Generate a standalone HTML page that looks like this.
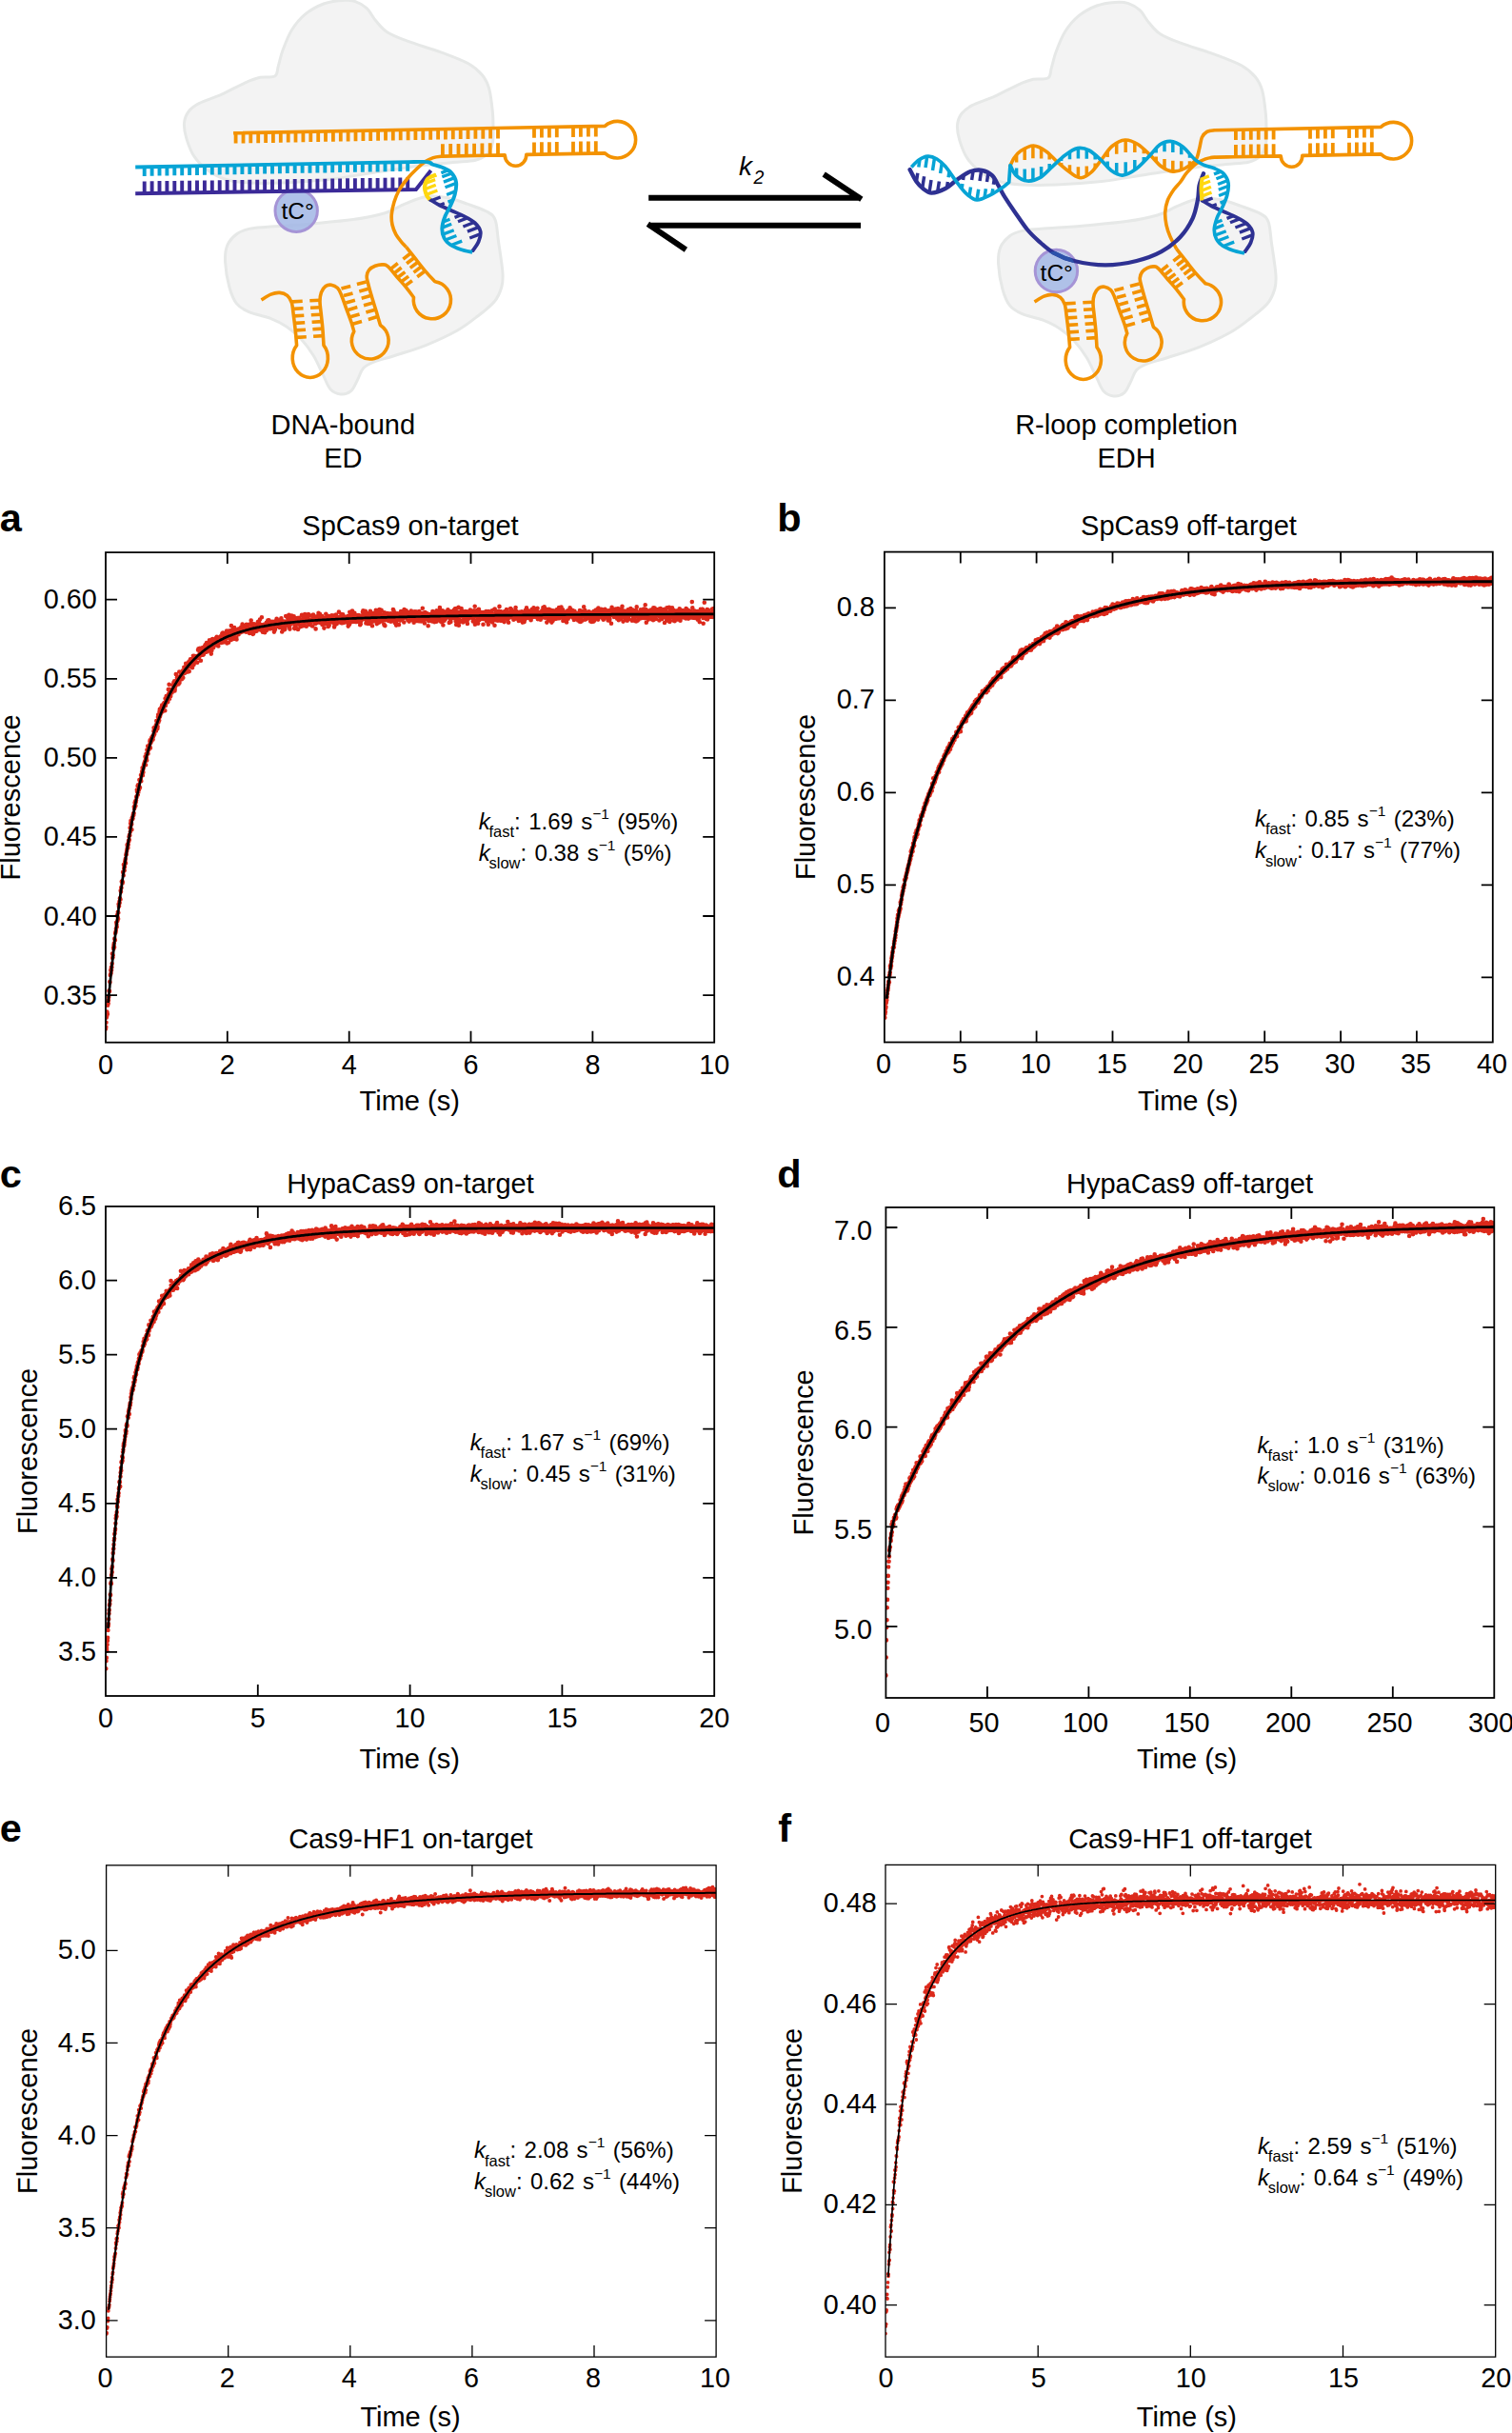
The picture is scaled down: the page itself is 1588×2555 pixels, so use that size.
<!DOCTYPE html>
<html lang="en"><head><meta charset="utf-8"><title>Figure</title>
<style>
html,body{margin:0;padding:0;background:#fff}
svg{display:block}
text{font-family:"Liberation Sans", Arial, Helvetica, sans-serif;fill:#000}
</style></head>
<body>
<svg width="1588" height="2555" viewBox="0 0 1588 2555">
<defs><clipPath id="cpa"><rect x="111.0" y="580.1" width="639.2" height="514.6"/></clipPath><clipPath id="cpb"><rect x="928.9" y="579.6" width="638.9" height="514.9"/></clipPath><clipPath id="cpc"><rect x="111.0" y="1266.9" width="639.2" height="514.1"/></clipPath><clipPath id="cpd"><rect x="930.4" y="1267.9" width="638.9" height="515.1"/></clipPath><clipPath id="cpe"><rect x="111.6" y="1958.8" width="640.5" height="516.3"/></clipPath><clipPath id="cpf"><rect x="930.0" y="1958.4" width="640.7" height="516.7"/></clipPath></defs>
<rect width="1588" height="2555" fill="#fff"/>
<!-- schematic -->
<path d="M359 0.4C353.4 0.8 346.3 1.6 339.9 4C333.6 6.4 326.5 10.1 320.9 14.7C315.4 19.2 310.6 24.9 306.6 31.3C302.6 37.6 299.4 46.4 297 52.8C294.6 59.1 293.7 64.9 292.3 69.4C290.9 74 291.9 78.1 288.7 80.1C285.5 82.1 278.6 80.1 273.2 81.3C267.9 82.5 263.3 84.3 256.6 87.3C249.9 90.3 240.7 95.6 232.8 99.2C224.9 102.8 214.8 105.7 209 108.7C203.2 111.7 200.8 113.6 198.2 117C195.6 120.4 193.9 124.2 193.5 129C193.1 133.8 194.1 139.7 195.9 145.6C197.7 151.5 200.4 159.1 204.2 164.7C208 170.3 213 175 218.5 179C224 183 230.4 186.3 237.5 188.5C244.6 190.7 251.4 191.4 261.3 192C271.2 192.6 283.1 192.6 297 192C310.9 191.4 328.8 190.3 344.7 188.5C360.6 186.7 376.4 183.7 392.3 181.3C408.2 178.9 426 176 439.9 174.2C453.8 172.4 465.7 171.6 475.6 170.6C485.5 169.6 493.5 169.6 499.4 168.2C505.4 166.8 508.3 165.3 511.3 162.3C514.3 159.3 516.2 155.3 517.3 150.4C518.4 145.5 518 138.6 518 133C518 127.4 518 123.6 517.3 117C516.6 110.4 515.5 99.5 513.7 93.2C511.9 86.9 510.2 83.4 506.6 79C503 74.6 499.4 71 492.3 67C485.1 63 474.4 59.1 463.7 55.1C453 51.1 437.5 46.8 428 43.2C418.5 39.6 412.1 37.3 406.6 33.7C401 30.1 398.3 26 394.7 21.8C391.1 17.6 388.7 12.1 385.1 8.7C381.5 5.3 377.6 3 373.2 1.6C368.9 0.2 364.6 -0 359 0.4Z" fill="#f3f3f3" stroke="#e6e8e7" stroke-width="3" />
<path d="M236.6 275.3C236.2 268 236.7 262.7 238.7 257.8C240.7 252.9 244.8 248.7 248.6 245.8C252.4 242.9 256.1 241.7 261.6 240.4C267 239.1 270.4 239.1 281.3 238.2C292.2 237.3 312.2 236.2 327.1 234.9C342 233.6 358.1 232.4 370.8 230.6C383.5 228.8 394.4 226.7 403.5 224C412.6 221.3 418 217.1 425.3 214.2C432.6 211.3 439.9 207.7 447.2 206.6C454.5 205.5 461.7 206.3 469 207.6C476.3 208.9 483.5 211.6 490.8 214.2C498.1 216.8 507.7 220 512.6 222.9C517.5 225.8 518.5 226.5 520.3 231.6C522.1 236.7 522.2 244.4 523.5 253.5C524.8 262.6 527.4 278.2 527.9 286.2C528.5 294.2 528.2 296.4 526.8 301.5C525.3 306.6 523.4 311.7 519.2 316.8C515 321.9 508.3 326.9 501.7 332C495.2 337.1 489 342.2 479.9 347.3C470.8 352.4 458.1 358.2 447.2 362.6C436.3 367 423.5 370.6 414.4 373.5C405.3 376.4 398 377.9 392.6 380.1C387.1 382.3 384.6 383.3 381.7 386.6C378.8 389.9 377.3 395.7 375.1 399.7C372.9 403.7 371.5 408.2 368.6 410.6C365.7 413 361.3 414.3 357.7 413.9C354.1 413.5 349.9 411.8 346.8 408.4C343.7 404.9 342 399 339.1 393.2C336.2 387.4 333.1 379.7 329.3 373.5C325.5 367.3 320.9 361.2 316.2 356.1C311.5 351 306.4 346.6 300.9 343C295.5 339.4 290.1 336.8 283.5 334.2C276.9 331.6 267.4 330.2 261.6 327.7C255.8 325.1 252 323.3 248.6 318.9C245.1 314.5 242.9 308.8 240.9 301.5C238.9 294.2 237 282.6 236.6 275.3Z" fill="#f3f3f3" stroke="#e6e8e7" stroke-width="3" />
<path d="M1171 2.4C1165.5 2.8 1158.2 3.6 1151.9 6C1145.6 8.4 1138.5 12.1 1132.9 16.7C1127.4 21.2 1122.6 26.9 1118.6 33.3C1114.6 39.6 1111.4 48.4 1109 54.8C1106.6 61.1 1105.7 66.9 1104.3 71.4C1102.9 76 1103.9 80.1 1100.7 82.1C1097.5 84.1 1090.6 82.1 1085.2 83.3C1079.8 84.5 1075.3 86.3 1068.6 89.3C1061.9 92.3 1052.7 97.6 1044.8 101.2C1036.9 104.8 1026.8 107.7 1021 110.7C1015.2 113.7 1012.8 115.6 1010.2 119C1007.6 122.4 1005.9 126.2 1005.5 131C1005.1 135.8 1006.1 141.7 1007.9 147.6C1009.7 153.5 1012.4 161.1 1016.2 166.7C1020 172.3 1025 177 1030.5 181C1036 185 1042.4 188.3 1049.5 190.5C1056.6 192.7 1063.4 193.4 1073.3 194C1083.2 194.6 1095.1 194.6 1109 194C1122.9 193.4 1140.8 192.3 1156.7 190.5C1172.6 188.7 1188.4 185.7 1204.3 183.3C1220.2 180.9 1238 178 1251.9 176.2C1265.8 174.4 1277.7 173.6 1287.6 172.6C1297.5 171.6 1305.5 171.6 1311.4 170.2C1317.4 168.8 1320.3 167.3 1323.3 164.3C1326.3 161.3 1328.2 157.3 1329.3 152.4C1330.4 147.5 1330 140.6 1330 135C1330 129.4 1330 125.6 1329.3 119C1328.6 112.4 1327.5 101.5 1325.7 95.2C1323.9 88.9 1322.2 85.4 1318.6 81C1315 76.6 1311.4 73 1304.3 69C1297.2 65 1286.4 61.1 1275.7 57.1C1265 53.1 1249.5 48.8 1240 45.2C1230.5 41.6 1224.1 39.3 1218.6 35.7C1213 32.1 1210.3 28 1206.7 23.8C1203.1 19.6 1200.7 14.1 1197.1 10.7C1193.5 7.3 1189.5 5 1185.2 3.6C1180.9 2.2 1176.5 2 1171 2.4Z" fill="#f3f3f3" stroke="#e6e8e7" stroke-width="3" />
<path d="M1048.6 277.3C1048.2 270 1048.7 264.7 1050.7 259.8C1052.7 254.9 1056.8 250.7 1060.6 247.8C1064.4 244.9 1068.1 243.7 1073.6 242.4C1079 241.1 1082.4 241.1 1093.3 240.2C1104.2 239.3 1124.2 238.2 1139.1 236.9C1154 235.6 1170.1 234.4 1182.8 232.6C1195.5 230.8 1206.4 228.7 1215.5 226C1224.6 223.3 1230 219.1 1237.3 216.2C1244.6 213.3 1251.9 209.7 1259.2 208.6C1266.5 207.5 1273.7 208.3 1281 209.6C1288.3 210.9 1295.5 213.6 1302.8 216.2C1310.1 218.8 1319.7 222 1324.6 224.9C1329.5 227.8 1330.5 228.5 1332.3 233.6C1334.1 238.7 1334.2 246.4 1335.5 255.5C1336.8 264.6 1339.4 280.2 1339.9 288.2C1340.5 296.2 1340.2 298.4 1338.8 303.5C1337.3 308.6 1335.4 313.7 1331.2 318.8C1327 323.9 1320.2 328.9 1313.7 334C1307.2 339.1 1301 344.2 1291.9 349.3C1282.8 354.4 1270.1 360.2 1259.2 364.6C1248.3 369 1235.5 372.6 1226.4 375.5C1217.3 378.4 1210 379.9 1204.6 382.1C1199.1 384.3 1196.6 385.3 1193.7 388.6C1190.8 391.9 1189.3 397.7 1187.1 401.7C1184.9 405.7 1183.5 410.2 1180.6 412.6C1177.7 415 1173.3 416.3 1169.7 415.9C1166.1 415.5 1161.9 413.8 1158.8 410.4C1155.7 406.9 1154 401 1151.1 395.2C1148.2 389.4 1145.1 381.7 1141.3 375.5C1137.5 369.3 1132.9 363.2 1128.2 358.1C1123.5 353 1118.4 348.6 1112.9 345C1107.5 341.4 1102 338.8 1095.5 336.2C1089 333.6 1079.4 332.2 1073.6 329.7C1067.8 327.1 1064 325.3 1060.6 320.9C1057.1 316.5 1054.9 310.8 1052.9 303.5C1050.9 296.2 1049 284.6 1048.6 277.3Z" fill="#f3f3f3" stroke="#e6e8e7" stroke-width="3" />
<circle cx="311.2" cy="221.2" r="22.2" fill="#a2b7e5" fill-opacity="0.86" stroke="#a594d6" stroke-width="3"/><text x="295.4" y="229.7" font-size="24.5">tC°</text>
<path d="M151.7 203.1L151.7 190.4M159.6 203L159.6 190.3M167.5 202.8L167.5 190.1M175.4 202.7L175.4 190M183.3 202.6L183.3 189.9M191.2 202.5L191.2 189.8M199.1 202.4L199.1 189.7M207 202.3L207 189.6M214.9 202.2L214.9 189.5M222.8 202.1L222.8 189.4M230.7 201.9L230.7 189.2M238.6 201.8L238.6 189.1M246.5 201.7L246.5 189M254.4 201.6L254.4 188.9M262.3 201.5L262.3 188.8M270.2 201.4L270.2 188.7M278.1 201.3L278.1 188.6M286 201.2L286 188.5M293.9 201L293.9 188.3M301.8 200.9L301.8 188.2M309.7 200.8L309.7 188.1M317.6 200.7L317.6 188M325.5 200.6L325.5 187.9M333.4 200.5L333.4 187.8M341.3 200.4L341.3 187.7M349.2 200.2L349.2 187.5M357.1 200.1L357.1 187.4M365 200L365 187.3M372.9 199.9L372.9 187.2M380.8 199.8L380.8 187.1M388.7 199.7L388.7 187M396.6 199.6L396.6 186.9M404.5 199.5L404.5 186.8M412.4 199.3L412.4 186.6M420.3 199.2L420.3 186.5M428.2 199.1L428.2 186.4" fill="none" stroke="#3b2a98" stroke-width="3.9" />
<path d="M142.2 203.2L436.9 199L452.6 178.9" fill="none" stroke="#3b2a98" stroke-width="4.0" stroke-linejoin="miter"/>
<path d="M247.6 139.7L247.6 150.6M255.5 139.6L255.5 150.5M263.3 139.4L263.3 150.3M271.2 139.3L271.2 150.2M279.1 139.1L279.1 150M286.9 139L286.9 149.9M294.8 138.8L294.8 149.7M302.7 138.7L302.7 149.6M310.5 138.5L310.5 149.4M318.4 138.4L318.4 149.3M326.3 138.2L326.3 149.1M334.2 138.1L334.2 149M342 137.9L342 148.8M349.9 137.8L349.9 148.7M357.8 137.6L357.8 148.5M365.6 137.5L365.6 148.4M373.5 137.3L373.5 148.2M381.4 137.2L381.4 148.1M389.2 137L389.2 147.9M397.1 136.9L397.1 147.8M405 136.7L405 147.6M412.8 136.6L412.8 147.5M420.7 136.4L420.7 147.3M428.6 136.3L428.6 147.2M436.4 136.1L436.4 147M444.3 136L444.3 146.9M452.2 135.8L452.2 146.7M460.1 135.7L460.1 146.6M467.9 135.5L467.9 146.4M475.8 135.4L475.8 146.3M483.7 135.2L483.7 146.1M491.5 135.1L491.5 146M499.4 134.9L499.4 145.8M507.3 134.8L507.3 145.7M515.1 134.6L515.1 145.5M523 134.5L523 145.4M523 163L523 150.2M514.7 163.1L514.7 150.3M506.4 163.3L506.4 150.5M498.1 163.5L498.1 150.7M489.8 163.6L489.8 150.8M481.5 163.8L481.5 151M473.2 163.9L473.2 151.1M464.9 164.1L464.9 151.3M561 133.8L561 144.7M561 162.3L561 149.5M568.9 133.6L568.9 144.5M568.9 162.1L568.9 149.3M576.9 133.5L576.9 144.4M576.9 162L576.9 149.2M584.8 133.3L584.8 144.2M584.8 161.8L584.8 149M602 133L602 143.9M602 161.5L602 148.7M609.9 132.8L609.9 143.7M609.9 161.3L609.9 148.5M617.9 132.7L617.9 143.6M617.9 161.2L617.9 148.4M625.8 132.5L625.8 143.4M625.8 161L625.8 148.2" fill="none" stroke="#f39200" stroke-width="3.8" />
<path d="M245.1 139.8L635.3 132.4A19.3 19.3 0 1 1 635.3 160.9L552.8 162.4A11.3 11.6 0 0 1 530.2 162.9L464.5 164.1C462.9 164.3 458 164.6 455 165.6C452 166.6 449.4 167.8 446.5 169.8C443.6 171.8 440.7 174.5 437.5 177.5C434.3 180.5 430.6 184.2 427.5 188C424.4 191.8 421.2 196 419 200C416.8 204 415.3 207.8 414 212C412.7 216.2 411.6 221.1 411.3 225.1C411 229.1 411.2 232.5 412 236C412.8 239.5 414.2 243.1 415.8 246.2C417.4 249.2 420 252.1 421.8 254.3C423.6 256.5 425.8 258.5 426.6 259.4" fill="none" stroke="#f39200" stroke-width="3.6" stroke-linejoin="round"/>
<path d="M274.5 315C276.2 314 281.3 310.4 284.5 309.1C287.7 307.8 290.8 307.2 293.7 307.4C296.6 307.6 299.6 308.7 301.7 310.4C303.8 312.1 305.2 314.3 306.3 317.7C307.4 321.1 307.6 326 308.3 330.9C308.9 335.8 309.7 341.5 310.2 346.8C310.8 352.1 311.4 360.1 311.6 362.7A18.6 20.5 0 1 0 340 362.7C339.8 360.1 339.4 352.1 339 346.8C338.6 341.5 337.9 336 337.4 330.9C336.9 325.8 336 320.4 336 316.4C336 312.4 336.4 309.8 337.4 307.1C338.4 304.5 340.2 301.8 342 300.5C343.8 299.2 345.9 298.9 348 299.2C350.1 299.5 352.8 300.8 354.6 302.5C356.3 304.2 357 306.1 358.5 309.7C360 313.3 362 319.4 363.8 324.3C365.6 329.2 367.8 334.8 369.1 338.8C370.4 342.8 371.3 346.6 371.8 348.1A19.4 19.4 0 1 0 399.5 341.5C398.8 339.3 397.1 333.4 395.6 328.3C394.1 323.2 391.8 316.4 390.3 311.1C388.7 305.8 387.1 300 386.3 296.5C385.4 293 385 292.1 385.2 290C385.4 287.9 386 285.4 387.5 283.6C389 281.8 391.6 280.2 394 279.3C396.4 278.4 399.6 277.8 401.8 277.9C404 277.9 404.6 277.4 407.2 279.6C409.8 281.8 414.1 287.5 417.3 291.2C420.5 294.9 423.7 298.3 426.6 301.8C429.5 305.3 433.2 310.6 434.5 312.3A19.6 19.6 0 1 0 457 295.8C455.4 294.1 451 289.8 447.7 285.9C444.4 282 440.6 277.1 437.1 272.7C433.6 268.3 428.3 261.6 426.6 259.4" fill="none" stroke="#f39200" stroke-width="3.6" stroke-linejoin="round" stroke-linecap="butt"/>
<path d="M307 316.9L317.7 316.3M336 315.2L325.3 315.8M307.9 324.4L318.5 323.8M336.7 322.7L326 323.3M308.7 331.9L319.3 331.3M337.4 330.2L326.8 330.8M309.6 339.4L320.2 338.7M338.2 337.6L327.6 338.3M310.4 346.9L321 346.2M338.9 345.1L328.4 345.8M311.3 354.4L321.8 353.7M339.6 352.6L329.1 353.3M358.5 303.1L368.2 300.5M384.6 296L374.9 298.6M360.9 310.5L370.5 307.9M387 303.3L377.3 306M363.3 317.9L372.9 315.2M389.3 310.6L379.7 313.3M365.6 325.4L375.3 322.6M391.7 318L382 320.7M368 332.8L377.6 330M394 325.3L384.4 328.1M370.4 340.2L380 337.4M396.4 332.6L386.8 335.4M410 282.6L417.8 276.5M431.2 266L423.4 272.1M413.8 287.1L421.6 281M434.9 270.8L427.1 276.8M417.6 291.5L425.4 285.6M438.6 275.5L430.8 281.4M421.4 295.9L429.1 290.1M442.2 280.2L434.5 286.1M425.2 300.4L432.9 294.7M445.9 285L438.2 290.7" fill="none" stroke="#f39200" stroke-width="3.6" />
<path d="M151.7 175.3L151.7 184.9M159.6 175.2L159.6 184.8M167.5 175L167.5 184.6M175.4 174.9L175.4 184.5M183.3 174.7L183.3 184.3M191.2 174.6L191.2 184.2M199.1 174.4L199.1 184M207 174.3L207 183.9M214.9 174.1L214.9 183.7M222.8 174L222.8 183.6M230.7 173.9L230.7 183.5M238.6 173.7L238.6 183.3M246.5 173.6L246.5 183.2M254.4 173.4L254.4 183M262.3 173.3L262.3 182.9M270.2 173.1L270.2 182.7M278.1 173L278.1 182.6M286 172.8L286 182.4M293.9 172.7L293.9 182.3M301.8 172.5L301.8 182.1M309.7 172.4L309.7 182M317.6 172.2L317.6 181.8M325.5 172.1L325.5 181.7M333.4 171.9L333.4 181.5M341.3 171.8L341.3 181.4M349.2 171.7L349.2 181.3M357.1 171.5L357.1 181.1M365 171.4L365 181M372.9 171.2L372.9 180.8M380.8 171.1L380.8 180.7M388.7 170.9L388.7 180.5M396.6 170.8L396.6 180.4M404.5 170.6L404.5 180.2M412.4 170.5L412.4 180.1M420.3 170.3L420.3 179.9M428.2 170.2L428.2 179.8" fill="none" stroke="#07a4d5" stroke-width="3.9" />
<path d="M451.5 209.5C453.2 210.5 457.7 213.5 461.6 215.5C465.5 217.5 470.4 219.4 474.8 221.4C479.2 223.4 484 225.3 488 227.4C492 229.5 495.8 231.4 498.6 234C501.4 236.6 503.9 239.9 504.6 243.2C505.3 246.5 503.9 250.5 502.6 253.8C501.3 257.1 497.6 261.6 496.6 263.1" fill="none" stroke="#2e3192" stroke-width="3.8" stroke-linecap="round"/>
<path d="M458 183.5C456.6 184.2 451.5 185.3 449.5 187.5C447.5 189.7 446.2 193.6 446 196.5C445.8 199.4 447.1 202.8 448 205C448.9 207.2 450.9 208.8 451.5 209.5" fill="none" stroke="#ffd70f" stroke-width="4.2" />
<path d="M450.7 186.5L458.2 183.6M446.8 192.5L457.1 188.6M446.1 198.8L457.7 194.3M447.8 204.4L459.4 200" fill="none" stroke="#ffd70f" stroke-width="3.3" />
<path d="M453.2 210.6L462.6 207M461.6 215.5L466.8 213.5M484.5 225.7L477.5 228.4M490.8 228.9L481 232.7M498 233.5L486.4 238M502.6 238.6L490.9 243.1M504.8 245.6L493.3 250" fill="none" stroke="#2e3192" stroke-width="3.3" />
<path d="M470.8 178.8L463.4 181.6M474.5 181.9L464.3 185.8M477.6 186.6L465.9 191.1M479.2 192.4L467.5 196.8M478.4 200.9L469.1 204.5M475.7 210.1L470.5 212.1M465.5 233L472.5 230.3M464.4 239.1L474.2 235.3M465 246.1L476.7 241.7M467.7 252L479.4 247.5M473.8 257.5L485.2 253.1" fill="none" stroke="#07a4d5" stroke-width="3.3" />
<path d="M142.2 175.5L430 170.1C432.7 170.1 442.2 169.7 446 169.9C449.8 170 451.2 170.8 452.5 171.2C453.8 171.6 451.9 171.7 453.9 172.5C455.9 173.3 461.2 174.4 464.5 175.8C467.8 177.2 471.4 178.6 473.8 181.1C476.2 183.6 478.3 187.2 479 191C479.7 194.8 478.8 199.8 477.7 204.2C476.6 208.6 474.2 213.5 472.4 217.5C470.6 221.5 468.4 224.2 467.1 228C465.7 231.8 464.4 236.3 464.3 240C464.2 243.7 465.1 247.2 466.5 250C467.9 252.8 470.1 255 473 257C475.9 259 480.2 260.7 484 262C487.8 263.3 494 264.5 496 265" fill="none" stroke="#07a4d5" stroke-width="3.9" />
<path d="M1297.9 136.2L1297.9 147.1M1297.9 164.7L1297.9 151.9M1305.8 136.1L1305.8 147M1305.8 164.6L1305.8 151.8M1313.8 135.9L1313.8 146.8M1313.8 164.4L1313.8 151.6M1321.7 135.8L1321.7 146.7M1321.7 164.3L1321.7 151.5M1329.7 135.6L1329.7 146.5M1329.7 164.1L1329.7 151.3M1337.6 135.5L1337.6 146.4M1337.6 164L1337.6 151.2M1376 134.8L1376 145.7M1376 163.3L1376 150.5M1383.9 134.6L1383.9 145.5M1383.9 163.1L1383.9 150.3M1391.9 134.5L1391.9 145.4M1391.9 163L1391.9 150.2M1399.8 134.3L1399.8 145.2M1399.8 162.8L1399.8 150M1417 134L1417 144.9M1417 162.5L1417 149.7M1424.9 133.8L1424.9 144.7M1424.9 162.3L1424.9 149.5M1432.9 133.7L1432.9 144.6M1432.9 162.2L1432.9 149.4M1440.8 133.5L1440.8 144.4M1440.8 162L1440.8 149.2" fill="none" stroke="#f39200" stroke-width="3.8" />
<path d="M962.6 189.7L963.8 181.7M968.8 197L970.6 185.2M976 202.3L978 189.1M984.7 201.3L986.4 190.4M994.5 196.9L995.4 190.9M1012.2 184L1011.5 189.1M1022.1 179.3L1020.6 189M1030.7 178.7L1029 189.9M1037.9 181.4L1036.5 190.9M1044.3 188L1043.4 193.7" fill="none" stroke="#2e3192" stroke-width="3.5" />
<path d="M1067.6 162.5L1067.6 170.4M1076.2 156.1L1076.2 168.1M1084.9 153L1084.9 166.2M1093.6 155.6L1093.6 166.5M1102.2 161.8L1102.2 167.6M1114.6 173.6L1114.6 171M1123.5 180.9L1123.5 173.2M1132.4 186.3L1132.4 175.2M1141.3 184.5L1141.3 174.5M1150.2 176.4L1150.2 171.4M1163.2 158.9L1163.2 164.9M1172.7 150.1L1172.7 161.8M1182.2 147L1182.2 160.1M1191.8 149.7L1191.8 160M1201.3 156.5L1201.3 161.3M1214.2 169.5L1214.2 164.5M1223 177L1223 167M1231.8 180.1L1231.8 168.8M1240.7 178.5L1240.7 169.3M1249.5 173.8L1249.5 169.3" fill="none" stroke="#f39200" stroke-width="3.5" />
<path d="M1060.4 175.5C1061.2 173.9 1063.1 168.8 1065 166C1066.9 163.2 1068.6 160.8 1072 158.6C1075.4 156.4 1081 152.9 1085.5 153C1090 153.1 1094.5 156 1098.7 158.9C1102.9 161.8 1106.2 166.3 1110.6 170.2C1115 174.1 1121.1 179.3 1125.2 182.1C1129.3 184.8 1131.8 186.9 1135.3 186.7C1138.8 186.5 1142.5 184.1 1146 181C1149.5 177.9 1152.8 172.8 1156.5 168.2C1160.2 163.6 1163.8 157 1168 153.5C1172.2 150 1177.1 147.3 1181.6 147C1186.1 146.7 1190.6 148.8 1195 151.5C1199.4 154.2 1203.8 159 1208 162.9C1212.2 166.8 1216 172.1 1220 175C1224 177.9 1227.9 179.8 1231.9 180.1C1235.9 180.4 1240 179 1244 177C1248 175 1253.1 171.6 1255.7 168.2C1258.3 164.8 1258.5 160.3 1259.6 156.3C1260.7 152.3 1261 147.4 1262.3 144.4C1263.6 141.4 1265.4 139.7 1267.6 138.4C1269.8 137.1 1274.2 137 1275.5 136.7L1275.5 136.7L1450.3 133.4A19.3 19.3 0 1 1 1450.3 161.9L1367.8 163.4A11.3 11.6 0 0 1 1345.2 163.9L1295 164.8C1291.8 164.9 1280.3 164.8 1275.5 165.1C1270.7 165.4 1269.5 165.7 1266.2 166.9C1262.9 168.1 1259 169.8 1255.7 172.2C1252.4 174.6 1249.1 178.3 1246.4 181.4C1243.8 184.5 1242 188.1 1239.8 191C1237.5 193.9 1235.2 195.8 1232.9 199C1230.7 202.2 1227.8 206.5 1226.3 210.5C1224.8 214.5 1223.9 218.8 1223.7 223.1C1223.5 227.4 1224.1 232.1 1225 236.3C1225.9 240.5 1227.1 244 1228.9 248.2C1230.7 252.4 1234.5 259.2 1235.6 261.4" fill="none" stroke="#f39200" stroke-width="3.6" stroke-linejoin="round"/>
<path d="M1086.5 317C1088.2 316 1093.3 312.4 1096.5 311.1C1099.7 309.8 1102.8 309.2 1105.7 309.4C1108.6 309.6 1111.6 310.7 1113.7 312.4C1115.8 314.1 1117.2 316.3 1118.3 319.7C1119.4 323.1 1119.6 328 1120.3 332.9C1121 337.8 1121.7 343.5 1122.2 348.8C1122.8 354.1 1123.4 362.1 1123.6 364.7A18.6 20.5 0 1 0 1152 364.7C1151.8 362.1 1151.4 354.1 1151 348.8C1150.6 343.5 1149.9 338 1149.4 332.9C1148.9 327.8 1148 322.4 1148 318.4C1148 314.4 1148.4 311.8 1149.4 309.1C1150.4 306.5 1152.2 303.8 1154 302.5C1155.8 301.2 1157.9 300.9 1160 301.2C1162.1 301.5 1164.8 302.8 1166.6 304.5C1168.3 306.2 1169 308.1 1170.5 311.7C1172 315.3 1174 321.4 1175.8 326.3C1177.6 331.2 1179.8 336.8 1181.1 340.8C1182.4 344.8 1183.3 348.6 1183.8 350.1A19.4 19.4 0 1 0 1211.5 343.5C1210.8 341.3 1209.1 335.4 1207.6 330.3C1206.1 325.2 1203.8 318.4 1202.3 313.1C1200.8 307.8 1199.1 302 1198.3 298.5C1197.5 295 1197 294.1 1197.2 292C1197.4 289.9 1198.2 287.4 1199.5 285.6C1200.8 283.8 1203.1 282.2 1205.1 281.3C1207.1 280.4 1209.8 279.8 1211.7 279.9C1213.6 279.9 1213.8 279.4 1216.2 281.6C1218.6 283.8 1223.1 289.5 1226.3 293.2C1229.5 296.9 1232.7 300.3 1235.6 303.8C1238.5 307.3 1242.2 312.6 1243.5 314.3A19.6 19.6 0 1 0 1266 297.8C1264.5 296.1 1260 291.8 1256.7 287.9C1253.4 284 1249.6 279.1 1246.1 274.7C1242.6 270.3 1237.3 263.6 1235.6 261.4" fill="none" stroke="#f39200" stroke-width="3.6" stroke-linejoin="round"/>
<path d="M1119 318.9L1129.7 318.3M1148 317.2L1137.3 317.8M1119.9 326.4L1130.5 325.8M1148.7 324.7L1138 325.3M1120.7 333.9L1131.3 333.3M1149.4 332.2L1138.8 332.8M1121.6 341.4L1132.2 340.7M1150.2 339.6L1139.6 340.3M1122.4 348.9L1133 348.2M1150.9 347.1L1140.4 347.8M1123.3 356.4L1133.8 355.7M1151.6 354.6L1141.1 355.3M1170.5 305.1L1180.2 302.5M1196.6 298L1186.9 300.6M1172.9 312.5L1182.5 309.9M1199 305.3L1189.3 308M1175.3 319.9L1184.9 317.2M1201.3 312.6L1191.7 315.3M1177.6 327.4L1187.3 324.6M1203.7 320L1194 322.7M1180 334.8L1189.6 332M1206 327.3L1196.4 330.1M1182.4 342.2L1192 339.4M1208.4 334.6L1198.8 337.4M1219 284.6L1226.8 278.5M1240.2 268L1232.4 274.1M1222.8 289.1L1230.6 283M1243.9 272.8L1236.1 278.8M1226.6 293.5L1234.4 287.6M1247.6 277.5L1239.8 283.4M1230.4 297.9L1238.1 292.1M1251.2 282.2L1243.5 288.1M1234.2 302.4L1241.9 296.7M1254.9 287L1247.2 292.7" fill="none" stroke="#f39200" stroke-width="3.6" />
<circle cx="1109.4" cy="284.5" r="22.2" fill="#afc1e8" fill-opacity="1.0" stroke="#a594d6" stroke-width="3"/><text x="1092.6000000000001" y="294.7" font-size="24.5">tC°</text>
<path d="M955.6 178.1C956.8 180.2 960.1 187.3 962.5 190.7C964.9 194.1 967.4 196.5 970 198.5C972.6 200.5 974.6 202.7 978.4 202.6C982.2 202.5 988.3 200.4 992.9 198C997.5 195.6 1001.7 191 1006.1 188C1010.5 185 1015.2 181.6 1019.4 180.1C1023.6 178.6 1027.5 178.1 1031.3 178.8C1035 179.5 1039 181.4 1041.9 184.1C1044.8 186.8 1046.3 190.9 1048.5 194.7C1050.7 198.4 1052.2 202 1055.1 206.6C1058 211.2 1061.7 216.7 1065.7 222.4C1069.7 228.1 1074.7 235.8 1078.9 241C1083.1 246.2 1086.5 249.2 1091.1 253.3C1095.7 257.4 1100.2 261.9 1106.4 265.3C1112.6 268.8 1119.1 271.8 1128.2 274C1137.3 276.2 1150.1 278.4 1161 278.4C1171.9 278.4 1183.9 276.4 1193.7 274C1203.5 271.6 1212.3 268.4 1219.9 264.2C1227.5 260 1234 254.7 1239.5 248.9C1245 243.1 1249.5 235.9 1252.6 229.3C1255.7 222.8 1256.8 215.3 1258 209.6C1259.2 203.9 1258.5 199.6 1259.5 195C1260.5 190.4 1263.2 184.4 1264 182.3" fill="none" stroke="#2e3192" stroke-width="4.3" stroke-linecap="round"/>
<clipPath id="tcc"><circle cx="1109.4" cy="284.5" r="20.7"/></clipPath>
<path d="M1065.7 222.4C1067.9 225.5 1074.7 235.8 1078.9 241C1083.1 246.2 1086.5 249.2 1091.1 253.3C1095.7 257.4 1100.2 261.9 1106.4 265.3C1112.6 268.8 1119.1 271.8 1128.2 274C1137.3 276.2 1150.1 278.4 1161 278.4C1171.9 278.4 1188.2 274.7 1193.7 274" fill="none" stroke="#2c52aa" stroke-width="4.3" clip-path="url(#tcc)"/>
<path d="M1067.6 184.6L1067.6 176.6M1076.2 189.4L1076.2 177.4M1084.9 189.6L1084.9 176.4M1093.6 185.8L1093.6 174.9M1102.2 177.8L1102.2 172.1M1114.6 166.2L1114.6 168.9M1123.5 159.5L1123.5 167.2M1132.4 155.5L1132.4 166.6M1141.3 156.8L1141.3 166.8M1150.2 162.5L1150.2 167.5M1163.2 175.5L1163.2 169.5M1172.7 182.6L1172.7 170.9M1182.2 183.5L1182.2 170.3M1191.8 178.4L1191.8 168M1201.3 169.9L1201.3 165.1M1214.2 155.6L1214.2 160.6M1223 149.3L1223 159.3M1231.8 148.9L1231.8 160.1M1240.7 153.1L1240.7 162.2M1249.5 161.3L1249.5 165.8M966 167.4L964.8 175.4M973.7 164.3L972 176.1M981.5 165.7L979.5 178.9M989.3 171L987.6 181.9M997 180.3L996.1 186.2M1010.1 198.2L1010.9 193.1M1018 206.1L1019.5 196.4M1026 209.9L1027.7 198.7M1034 207.8L1035.4 198.3M1041.9 203.9L1042.8 198.2" fill="none" stroke="#07a4d5" stroke-width="3.5" />
<path d="M1262.5 210.5C1264.2 211.5 1268.7 214.5 1272.6 216.5C1276.5 218.5 1281.4 220.4 1285.8 222.4C1290.2 224.4 1295 226.3 1299 228.4C1303 230.5 1306.8 232.4 1309.6 235C1312.4 237.6 1314.9 240.9 1315.6 244.2C1316.3 247.5 1314.9 251.5 1313.6 254.8C1312.3 258.1 1308.6 262.6 1307.6 264.1" fill="none" stroke="#2e3192" stroke-width="3.8" stroke-linecap="round"/>
<path d="M1262.6 186.5C1262.4 188.4 1261.6 194 1261.6 198C1261.6 202 1262.3 208.4 1262.5 210.5" fill="none" stroke="#ffd70f" stroke-width="4.2" />
<path d="M1262.5 187.7L1269.8 184.9M1261.8 193.7L1271 190.2M1261.7 200.2L1271.9 196.2M1262.1 206.1L1272.5 202.1" fill="none" stroke="#ffd70f" stroke-width="3.3" />
<path d="M1264.2 211.6L1273.6 208M1272.6 216.5L1277.8 214.5M1295.5 226.7L1288.5 229.4M1301.8 229.9L1292 233.7M1309 234.5L1297.4 239M1313.6 239.6L1301.9 244.1M1315.8 246.6L1304.3 251" fill="none" stroke="#2e3192" stroke-width="3.3" />
<path d="M1282.3 180.1L1275 182.9M1286.5 184.2L1277.4 187.7M1289.4 189.5L1279.1 193.5M1290.2 195.3L1279.8 199.3M1289.4 201.9L1280.1 205.5M1286.7 211.1L1281.5 213.1M1276.5 234L1283.5 231.3M1275.4 240.1L1285.2 236.3M1276 247.1L1287.7 242.7M1278.7 253L1290.4 248.5M1284.8 258.5L1296.2 254.1" fill="none" stroke="#07a4d5" stroke-width="3.3" />
<path d="M957.2 175.5C958.5 174.2 962.1 169.9 965 168C967.9 166.1 971.2 164.4 974.4 164.2C977.6 164 980.9 165.2 984 167C987.1 168.8 989.6 171.1 992.9 174.8C996.1 178.5 1000 184.8 1003.5 189.4C1007 194 1010.4 199.2 1014.1 202.6C1017.9 206 1021.6 209.6 1026 209.9C1030.4 210.2 1036.1 206.7 1040.5 204.6C1044.9 202.5 1049.2 199.5 1052.4 197.3C1055.6 195.1 1058.5 192.3 1059.7 191.3L1061 173.5C1062 175.3 1064 181.3 1067 184.1C1070 186.8 1074.7 189.6 1078.9 190C1083.1 190.4 1087.7 189.2 1092.1 186.7C1096.5 184.2 1101 178.8 1105.4 174.8C1109.8 170.8 1114.2 166.1 1118.6 162.9C1123 159.7 1127.6 156.4 1131.8 155.6C1136 154.8 1139.9 155.9 1144 158C1148.1 160.1 1152.7 164.7 1156.5 168.2C1160.3 171.7 1163.3 176.3 1167 179C1170.7 181.7 1174.6 184.3 1178.9 184.1C1183.2 183.8 1188.2 181 1193 177.5C1197.8 174 1203.8 167.2 1208 162.9C1212.2 158.7 1214.5 154.4 1218 152C1221.5 149.6 1225.2 148.1 1229.2 148.4C1233.2 148.7 1237.6 150.7 1242 154C1246.4 157.3 1251.9 164.9 1255.7 168.2C1259.5 171.4 1261.6 172.1 1264.9 173.5C1268.2 174.9 1272.2 175.4 1275.5 176.8C1278.8 178.2 1282.4 179.6 1284.8 182.1C1287.2 184.6 1289.3 188.2 1290 192C1290.7 195.8 1289.8 200.8 1288.7 205.2C1287.6 209.6 1285.2 214.5 1283.4 218.5C1281.6 222.5 1279.4 225.2 1278.1 229C1276.8 232.8 1275.4 237.3 1275.3 241C1275.2 244.7 1276 248.2 1277.5 251C1279 253.8 1281.1 256 1284 258C1286.9 260 1291.2 261.7 1295 263C1298.8 264.3 1305 265.5 1307 266" fill="none" stroke="#07a4d5" stroke-width="3.7" stroke-linejoin="round"/>
<path d="M681.2 207.8H904M904.8 209.2L865.2 183M681.2 236.7H904M680.4 235.3L720.4 262.2" stroke="#000" stroke-width="6" fill="none"/>
<text x="776" y="184" font-size="28" font-style="italic">k<tspan font-size="19.5" dx="1.5" dy="8.5">2</tspan></text>
<text font-size="29" text-anchor="middle"><tspan x="360.3" y="455.8">DNA-bound</tspan><tspan x="360.3" y="490.8">ED</tspan></text>
<text font-size="29" text-anchor="middle"><tspan x="1183" y="456">R-loop completion</tspan><tspan x="1183" y="491">EDH</tspan></text>
<!-- plots -->
<g clip-path="url(#cpa)"><path d="M111 1080.5h0m0.3-1.9h0m0.2-4.9h0m0.3-5.1h0m0.3-1.4h0m0.2-4.7h0m0.3 0.8h0m0.3 1.7h0m0.2-9.2h0m0.3-3.2h0m0.3 1.1h0m0.2-3.2h0m0.3-3.6h0m0.3-6.4h0m0.2 0.5h0m0.3-0.1h0m0.3-9.8h0m0.2 0.4h0m0.3-7.6h0m0.3-0.5h0m0.2-4.5h0m0.3 3.1h0m0.3-6.2h0m0.2 2.9h0m0.3-2.9h0m0.3-3.7h0m0.2-10.6h0m0.3 4.4h0m0.3-0.7h0m0.2-1.9h0m0.3-8.1h0m0.3 1.3h0m0.2-4.1h0m0.3-1.8h0m0.3 4.2h0m0.2-8.9h0m0.3 0.5h0m0.3 0.9h0m0.2-7.4h0m0.3-0.6h0m0.3-1.5h0m0.2-2.4h0m0.3-6.7h0m0.3 2.3h0m0.2 2.3h0m0.3-12.3h0m0.3 6.3h0m0.2-4.7h0m0.3-4.8h0m0.3 7.1h0m0.2-6.4h0m0.3-9h0m0.3 2.4h0m0.2-0.3h0m0.3-4.7h0m0.3 1.1h0m0.2-4.7h0m0.3 0.6h0m0.3 0.7h0m0.2-9.3h0m0.3 1.1h0m0.3-4.3h0m0.2 0.2h0m0.3-6.5h0m0.3 0.2h0m0.2-0.6h0m0.3 2h0m0.3-1h0m0.2-10.5h0m0.3 0h0m0.3 3.3h0m0.2-11.1h0m0.3 3.6h0m0.3-0.5h0m0.2 2.9h0m0.3-3.7h0m0.2-5.3h0m0.3-1.9h0m0.3-1.3h0m0.2 4.5h0m0.3-8.5h0m0.3-1.3h0m0.2 0.7h0m0.3-3.4h0m0.3-1.9h0m0.2-4.8h0m0.3 2.2h0m0.3-3.1h0m0.2 4h0m0.3-3.4h0m0.3-4h0m0.2 0.9h0m0.3-5.1h0m0.3 3.3h0m0.2-5.2h0m0.3 0.5h0m0.3-8.1h0m0.2 4.3h0m0.3-8.7h0m0.3-2.7h0m0.2 4.6h0m0.3-3.5h0m0.3 2.2h0m0.2 5.9h0m0.3-12.2h0m0.3-0.7h0m0.2 1.5h0m0.3-0.5h0m0.3-3.7h0m0.2-1.5h0m0.3 1.8h0m0.3-2h0m0.2-6.8h0m0.3 2h0m0.3-0.9h0m0.2-5.2h0m0.3 3.3h0m0.3-5.2h0m0.2 5.1h0m0.3-4.1h0m0.3-1.6h0m0.2-3.7h0m0.3 0.4h0m0.3-7.8h0m0.2 1.8h0m0.3 4h0m0.3-10h0m0.2 9.2h0m0.3-10.3h0m0.3 7.5h0m0.2-6.8h0m0.3 4.5h0m0.3-3.4h0m0.2-7h0m0.3 8.6h0m0.3-0.5h0m0.2-6.5h0m0.3-1.8h0m0.3-0.8h0m0.2-4h0m0.3 6.2h0m0.3-6.9h0m0.2 0.6h0m0.3-3.7h0m0.3-0.5h0m0.2-3.3h0m0.3 7.8h0m0.3-6h0m0.2 2.8h0m0.3-4.4h0m0.3-3.5h0m0.2 0.3h0m0.3-1.9h0m0.3 1h0m0.2-2.4h0m0.3-0.7h0m0.3-4.8h0m0.2 1h0m0.3 7.6h0m0.3-9.1h0m0.2-2.3h0m0.3 3.9h0m0.3 2.8h0m0.2-11h0m0.3 3.4h0m0.3-2.4h0m0.2-4.9h0m0.3 7.8h0m0.3-3.6h0m0.2-0.6h0m0.3-3.7h0m0.3 3.3h0m0.2-4.4h0m0.3 0.5h0m0.3-4.3h0m0.2-1.2h0m0.3 8h0m0.3-7.3h0m0.2 1.9h0m0.3-2h0m0.3-2.2h0m0.2-1.1h0m0.3 3.1h0m0.3-4.1h0m0.2-0.3h0m0.3-0.2h0m0.3 3.3h0m0.2-2.6h0m0.3-1.8h0m0.3-4.2h0m0.2-3.6h0m0.3 7.4h0m0.3-0.8h0m0.2-4.6h0m0.3 1.6h0m0.3 0.1h0m0.2-0.6h0m0.3-0.5h0m0.3-5.5h0m0.2 6.1h0m0.3-10.4h0m0.3 6.7h0m0.2-2.1h0m0.3 0.6h0m0.3 2.8h0m0.2-2.1h0m0.3-9.9h0m0.3-2.6h0m0.2 8.1h0m0.3-7.1h0m0.3 2.8h0m0.2 2.3h0m0.3-9.4h0m0.3-2.3h0m0.2 7.6h0m0.3-1.4h0m0.3-1.7h0m0.2 0.4h0m0.3-3.8h0m0.3-3h0m0.2 4.1h0m0.3-3.5h0m0.3-3h0m0.2 6.9h0m0.3-2.6h0m0.2 1h0m0.3-5.5h0m0.3 0.6h0m0.2-1.8h0m0.3-0.2h0m0.3 3.1h0m0.2-4h0m0.3 3.4h0m0.3-0.6h0m0.2 5.3h0m0.3-12.6h0m0.3 7.4h0m0.2-4h0m0.3-0.3h0m0.3-5.6h0m0.2 2.9h0m0.3 3.7h0m0.3-3.5h0m0.2 0.1h0m0.3-1.9h0m0.3 4.5h0m0.2-4.6h0m0.3-8.2h0m0.3 4.7h0m0.2-5h0m0.3-5h0m0.3 9h0m0.2 6h0m0.3-5h0m0.3-4.8h0m0.2 0.3h0m0.3 6.8h0m0.3-3.9h0m0.2-0.9h0m0.3-0.9h0m0.3-0.1h0m0.2 2.2h0m0.3-1.4h0m0.3-1.7h0m0.2-4.9h0m0.3 5h0m0.3-4.6h0m0.2 5.7h0m0.3-8.7h0m0.3 3.5h0m0.2 0h0m0.3-5.1h0m0.3 10.2h0m0.2-1.4h0m0.3-7.1h0m0.3 3.8h0m0.2-1.8h0m0.3-10.9h0m0.3 9.6h0m0.2-1.5h0m0.3 0.1h0m0.3-4.5h0m0.2 2.4h0m0.3-0.1h0m0.3 4.3h0m0.2-3.4h0m0.3-1.6h0m0.3 5h0m0.2-7.7h0m0.3 0.2h0m0.3-5.4h0m0.2 11.4h0m0.3-2.5h0m0.3-0.6h0m0.2-1.2h0m0.3-2.4h0m0.3 0h0m0.2-2h0m0.3-0.2h0m0.3 0.5h0m0.2 4.7h0m0.3-3.7h0m0.3-2.5h0m0.2-2.2h0m0.3-0.6h0m0.3 7.5h0m0.2-4.2h0m0.3-1.9h0m0.3-1.8h0m0.2-3h0m0.3 3.3h0m0.3 2.9h0m0.2-4.7h0m0.3 0.2h0m0.3-0.3h0m0.2 0.8h0m0.3-6.3h0m0.3 4.4h0m0.2-2.5h0m0.3 5.8h0m0.3-6.2h0m0.2 4.4h0m0.3 3h0m0.3-6.7h0m0.2-1.4h0m0.3 2.5h0m0.3-1h0m0.2-3.8h0m0.3 4.8h0m0.3 5.1h0m0.2-8.2h0m0.3-0.1h0m0.3-3.3h0m0.2 4.5h0m0.3-5.8h0m0.3 0.2h0m0.2 8.1h0m0.3-8h0m0.3 6.7h0m0.2 1.2h0m0.3-4.7h0m0.3 0.8h0m0.2 4.6h0m0.3-7.8h0m0.3-1.7h0m0.2-2.9h0m0.3 4.6h0m0.3 4.7h0m0.2-2.1h0m0.3-6.9h0m0.3 0.1h0m0.2 0.9h0m0.3 2.5h0m0.3-2h0m0.2 1.2h0m0.3 0.1h0m0.3-2.4h0m0.2 0.7h0m0.3 0.6h0m0.3-1.3h0m0.2 1.8h0m0.3 4.6h0m0.3-4.8h0m0.2-2.1h0m0.3-6.3h0m0.3 7h0m0.2-8.4h0m0.3 1.6h0m0.3 7.7h0m0.2-0.8h0m0.3-3.2h0m0.3-5.7h0m0.2 4.5h0m0.3-1.3h0m0.3 4.3h0m0.2 5.5h0m0.3-7.4h0m0.2-3.7h0m0.3-1.6h0m0.3 3.7h0m0.2-0.7h0m0.3-3.6h0m0.3 4.2h0m0.2-4.6h0m0.3 7.7h0m0.3-0.4h0m0.2-0.1h0m0.3-5.7h0m0.3 3.3h0m0.2-2.5h0m0.3-1.1h0m0.3-0.1h0m0.2-3.5h0m0.3-0.7h0m0.3 7.6h0m0.2-3.6h0m0.3 1.2h0m0.3 2.5h0m0.2-9.7h0m0.3 3.1h0m0.3 3.2h0m0.2 0.5h0m0.3-2.9h0m0.3 4.8h0m0.2-3.1h0m0.3-5.1h0m0.3 0.8h0m0.2 5.8h0m0.3-1.3h0m0.3-8.5h0m0.2 11.2h0m0.3-2.8h0m0.3 2.4h0m0.2-6.2h0m0.3 0.1h0m0.3-3h0m0.2 12.6h0m0.3-9.7h0m0.3 6h0m0.2-8h0m0.3 2.7h0m0.3-6.6h0m0.2 4.4h0m0.3 4.6h0m0.3-8h0m0.2 8h0m0.3-2.8h0m0.3-5h0m0.2 1.8h0m0.3-0.1h0m0.3 1.3h0m0.2-1.8h0m0.3-1.2h0m0.3 1.7h0m0.2-2.7h0m0.3-1.1h0m0.3 4.2h0m0.2 3.1h0m0.3-8.6h0m0.3 5.2h0m0.2-2.4h0m0.3-1.3h0m0.3 6.2h0m0.2-4.9h0m0.3 6.9h0m0.3-8.1h0m0.2 3.9h0m0.3-2.3h0m0.3-1.9h0m0.2 4.5h0m0.3-2.7h0m0.3 2.5h0m0.2-2.4h0m0.3-3.8h0m0.3 3.3h0m0.2 0.4h0m0.3 3.1h0m0.3-6.7h0m0.2 2.9h0m0.3-6h0m0.3 8.1h0m0.2-6.1h0m0.3-2.7h0m0.3 6h0m0.2 3.9h0m0.3-9.3h0m0.3 1.4h0m0.2 1.1h0m0.3-1.5h0m0.3 5.1h0m0.2-4.2h0m0.3 0.1h0m0.3 4.5h0m0.2-4.8h0m0.3 4h0m0.3-5h0m0.2-1h0m0.3-2.3h0m0.3 12.9h0m0.2-7.8h0m0.3 1.9h0m0.3-1.1h0m0.2 0.5h0m0.3-0.5h0m0.3 6.4h0m0.2-10.4h0m0.3-1.9h0m0.3 1.8h0m0.2-1.3h0m0.3 7.2h0m0.3 0.2h0m0.2-6.4h0m0.3-1.6h0m0.3 3.5h0m0.2 6h0m0.3-14.8h0m0.3 11.6h0m0.2-5.7h0m0.3 7.3h0m0.3-7.5h0m0.2 2.6h0m0.3-4.3h0m0.3 1.7h0m0.2 8.2h0m0.3-2.1h0m0.3-4.4h0m0.2-1.7h0m0.3-3.7h0m0.3 5.2h0m0.2 1.1h0m0.3-0.2h0m0.3-0.2h0m0.2-3.7h0m0.3 3.6h0m0.3 0h0m0.2 4.6h0m0.3 1.9h0m0.3-7.1h0m0.2-2.3h0m0.3 2.4h0m0.3-2h0m0.2-0.6h0m0.3 2.3h0m0.3-3.5h0m0.2 5.7h0m0.3-2.6h0m0.2 1.2h0m0.3-1.6h0m0.3-2h0m0.2-0.9h0m0.3 2.4h0m0.3-1.2h0m0.2 2.7h0m0.3-0.9h0m0.3-4.9h0m0.2 5h0m0.3-5.1h0m0.3 2.5h0m0.2 1.1h0m0.3-6.4h0m0.3 7.5h0m0.2 0.2h0m0.3-1.2h0m0.3-1h0m0.2 0.1h0m0.3-2.2h0m0.3 2.4h0m0.2-1.1h0m0.3 2.2h0m0.3-4.6h0m0.2 5h0m0.3-0.4h0m0.3-1.1h0m0.2-1.1h0m0.3 3.4h0m0.3-7.8h0m0.2 7.3h0m0.3-0.8h0m0.3 0.1h0m0.2 0.2h0m0.3-3.7h0m0.3 1.3h0m0.2 3.1h0m0.3-0.8h0m0.3-0.8h0m0.2-6.1h0m0.3 7.1h0m0.3 2.1h0m0.2-0.6h0m0.3-2.8h0m0.3-6.3h0m0.2 8.7h0m0.3-3.9h0m0.3-8.4h0m0.2 10.1h0m0.3-6.6h0m0.3 0.6h0m0.2 2.3h0m0.3 6.6h0m0.3-5.8h0m0.2 2.1h0m0.3 5.1h0m0.3-0.6h0m0.2-6h0m0.3-0.5h0m0.3-3.6h0m0.2 1.9h0m0.3 3.8h0m0.3-0.1h0m0.2-1.1h0m0.3 3.1h0m0.3-6.3h0m0.2 2.5h0m0.3 2.7h0m0.3-0.6h0m0.2 1.6h0m0.3-2.4h0m0.3-2.5h0m0.2 2.3h0m0.3-4.9h0m0.3-2.2h0m0.2 7.7h0m0.3-2.3h0m0.3 1.2h0m0.2-7.1h0m0.3 4.6h0m0.3-0.8h0m0.2-1h0m0.3-4.9h0m0.3 6.6h0m0.2 4.3h0m0.3-1.9h0m0.3-3.4h0m0.2 1.9h0m0.3 2.7h0m0.3-12.4h0m0.2 9.2h0m0.3 2.3h0m0.3 0.4h0m0.2 3.5h0m0.3-2h0m0.3-2.9h0m0.2-0.1h0m0.3 1.7h0m0.3-4.7h0m0.2 1.7h0m0.3 3.2h0m0.3 3.7h0m0.2-7.5h0m0.3 0.3h0m0.3 0.9h0m0.2 3.9h0m0.3-4.8h0m0.3 5.2h0m0.2-8.6h0m0.3 2.7h0m0.3-0.1h0m0.2 3.4h0m0.3 0.8h0m0.3-8.9h0m0.2 2h0m0.3 4.3h0m0.3-3.5h0m0.2-3.1h0m0.3 9h0m0.3-2h0m0.2 0h0m0.3-3.5h0m0.3 5.3h0m0.2-4.5h0m0.3 4.6h0m0.3-7.1h0m0.2 0.2h0m0.3 3.7h0m0.3-3.3h0m0.2 4.8h0m0.3-1.5h0m0.3-4.2h0m0.2 3.5h0m0.3-1.5h0m0.3 4.4h0m0.2-5.5h0m0.3 0.6h0m0.3 5.8h0m0.2 3.5h0m0.3-0.8h0m0.3-6.9h0m0.2 0.5h0m0.3 4.6h0m0.3-5.8h0m0.2-3.1h0m0.3 3.8h0m0.3 1.2h0m0.2-4.6h0m0.3-2.8h0m0.2 0.6h0m0.3 7.4h0m0.3-5.1h0m0.2 2.2h0m0.3 1.2h0m0.3 1.4h0m0.2-3.4h0m0.3 2.9h0m0.3-4.9h0m0.2 1.8h0m0.3-2.4h0m0.3 7.5h0m0.2-4h0m0.3-2.6h0m0.3 1.3h0m0.2 0.5h0m0.3 3.2h0m0.3-8.1h0m0.2 1.9h0m0.3 2.3h0m0.3 10.1h0m0.2-5.5h0m0.3-3.8h0m0.3 2.9h0m0.2 4.6h0m0.3-8h0m0.3-0.5h0m0.2 5.5h0m0.3-2.6h0m0.3 0.6h0m0.2-4.1h0m0.3 8.5h0m0.3-0.8h0m0.2-4.1h0m0.3 0.4h0m0.3-9.5h0m0.2 9.3h0m0.3-2.9h0m0.3 2.1h0m0.2 0.9h0m0.3-3.7h0m0.3-4.7h0m0.2 7.2h0m0.3-3.9h0m0.3 1.4h0m0.2-1h0m0.3 0.9h0m0.3-7h0m0.2 12.4h0m0.3-3.4h0m0.3 2.9h0m0.2 3h0m0.3-6.8h0m0.3-6.4h0m0.2 3.1h0m0.3-1.1h0m0.3 2.4h0m0.2 2h0m0.3-7.3h0m0.3 8.2h0m0.2-6.5h0m0.3 6.3h0m0.3-1.5h0m0.2-0.7h0m0.3 0.8h0m0.3-1.7h0m0.2-0.2h0m0.3-3.8h0m0.3 5.7h0m0.2 6.6h0m0.3 0.4h0m0.3-2.3h0m0.2-2.2h0m0.3-4.8h0m0.3 7.3h0m0.2-5.2h0m0.3-0.1h0m0.3-0.8h0m0.2 1.3h0m0.3-1.9h0m0.3 1.3h0m0.2-3.6h0m0.3 2.5h0m0.3 9.3h0m0.2-8.3h0m0.3-0.6h0m0.3 2.7h0m0.2 0.6h0m0.3-6.4h0m0.3 3.1h0m0.2 3.9h0m0.3-2.3h0m0.3-0.5h0m0.2 5h0m0.3-7.9h0m0.3 2.7h0m0.2-2.2h0m0.3 7.1h0m0.3-12.1h0m0.2 4.5h0m0.3 0.4h0m0.3 4.2h0m0.2-0.2h0m0.3 2.7h0m0.3-10.4h0m0.2 8.1h0m0.3-3.7h0m0.3-1.3h0m0.2 4.2h0m0.3-5.1h0m0.3-4.1h0m0.2 5.9h0m0.3-3.9h0m0.3 2.9h0m0.2 3.6h0m0.3-0.3h0m0.3 4.5h0m0.2-6.3h0m0.3-4.7h0m0.3 2.7h0m0.2-0.6h0m0.3-1h0m0.3 5.7h0m0.2-3.8h0m0.3-4.7h0m0.3 9.4h0m0.2-2.9h0m0.3 1.7h0m0.3-0.9h0m0.2 1.8h0m0.3-2.1h0m0.3 4.1h0m0.2-2.8h0m0.3-0.1h0m0.3 0h0m0.2-6.6h0m0.3 4.5h0m0.3-0.3h0m0.2 1.6h0m0.3-5.5h0m0.3 10.5h0m0.2-5.4h0m0.3-4.6h0m0.3-1.8h0m0.2 5h0m0.3 0.6h0m0.3-2.2h0m0.2 2.8h0m0.3-2.5h0m0.3 4.1h0m0.2-4.5h0m0.3 2.4h0m0.2 3.6h0m0.3 5.5h0m0.3-12.5h0m0.2 1.8h0m0.3-1.3h0m0.3 5.7h0m0.2-6.8h0m0.3 2.3h0m0.3 1.6h0m0.2-3.4h0m0.3 0.1h0m0.3 1.7h0m0.2-5.7h0m0.3 2.2h0m0.3 3.6h0m0.2 2h0m0.3-1.2h0m0.3-5.6h0m0.2 4.6h0m0.3 4.4h0m0.3-0.9h0m0.2-2.2h0m0.3-2.9h0m0.3 5.3h0m0.2-4.2h0m0.3-2.1h0m0.3 1.3h0m0.2 7.8h0m0.3-4.3h0m0.3 3.3h0m0.2-5.8h0m0.3 5h0m0.3-5.4h0m0.2 1.5h0m0.3 9.3h0m0.3-6.1h0m0.2-4.4h0m0.3 1.4h0m0.3 1.4h0m0.2 3.1h0m0.3-5.9h0m0.3-4.4h0m0.2 5.1h0m0.3 1h0m0.3 0.3h0m0.2 4.2h0m0.3-3.5h0m0.3 1.7h0m0.2-6.7h0m0.3 6.9h0m0.3 4.3h0m0.2-4.7h0m0.3-1.8h0m0.3-0.4h0m0.2 5.7h0m0.3-9.5h0m0.3 2.8h0m0.2 2h0m0.3 1h0m0.3-4.1h0m0.2 2.5h0m0.3-2h0m0.3 1.4h0m0.2-0.9h0m0.3-3.6h0m0.3 3.9h0m0.2 3.2h0m0.3-6.5h0m0.3 2.5h0m0.2 3.2h0m0.3-6.1h0m0.3 4.4h0m0.2-4.4h0m0.3 7.7h0m0.3 4.1h0m0.2-1.1h0m0.3-7.8h0m0.3 3.3h0m0.2-2.1h0m0.3-0.1h0m0.3 5h0m0.2-10h0m0.3 8.3h0m0.3-3.9h0m0.2 5.1h0m0.3-4.3h0m0.3-3h0m0.2 3.3h0m0.3 1.6h0m0.3-2.5h0m0.2 1.6h0m0.3-3.6h0m0.3-5.6h0m0.2 10.6h0m0.3-0.7h0m0.3-2h0m0.2-0.3h0m0.3 3.4h0m0.3-5.2h0m0.2-0.9h0m0.3 1.8h0m0.3 4.8h0m0.2-9h0m0.3 9h0m0.3-6.4h0m0.2-1.7h0m0.3 8.3h0m0.3-4.8h0m0.2-4.2h0m0.3 3.3h0m0.3 4.5h0m0.2 0.9h0m0.3-5.7h0m0.3 2.9h0m0.2 1.1h0m0.3-4.8h0m0.3 3.5h0m0.2-1.4h0m0.3-1.7h0m0.3 0.1h0m0.2 1.9h0m0.3-0.1h0m0.3-2.1h0m0.2 0.5h0m0.3 5.4h0m0.3-3.2h0m0.2 2.3h0m0.3 1.1h0m0.3-2.1h0m0.2 5.9h0m0.3-10.9h0m0.3 5.7h0m0.2-3.9h0m0.3 7.6h0m0.3-0.6h0m0.2-12.8h0m0.3 3.4h0m0.3 5.7h0m0.2 0.5h0m0.3-0.2h0m0.3-2.9h0m0.2 1.9h0m0.3 0.7h0m0.3-2.6h0m0.2 3.8h0m0.3-11.5h0m0.3 10.1h0m0.2-5.8h0m0.3 7h0m0.2-4.2h0m0.3-2.3h0m0.3 4.4h0m0.2-4.5h0m0.3 0h0m0.3-2.3h0m0.2 5.3h0m0.3 1.9h0m0.3 1.8h0m0.2-4.1h0m0.3 4.2h0m0.3-3.7h0m0.2-0.4h0m0.3 2.4h0m0.3 1.7h0m0.2-4.9h0m0.3 0.3h0m0.3 0.3h0m0.2 0.8h0m0.3-3.4h0m0.3 6.7h0m0.2-5h0m0.3 3h0m0.3-4.5h0m0.2 4.1h0m0.3 0.1h0m0.3-2.8h0m0.2 8.5h0m0.3-5.8h0m0.3 4.9h0m0.2-2.8h0m0.3-5.7h0m0.3 0.9h0m0.2 2.9h0m0.3-1.3h0m0.3-0.1h0m0.2-1.2h0m0.3-5.3h0m0.3 5.5h0m0.2-6.9h0m0.3 9h0m0.3-3.8h0m0.2 0h0m0.3 1.7h0m0.3 1.7h0m0.2-6h0m0.3-1.1h0m0.3 2.4h0m0.2-3.4h0m0.3 3.7h0m0.3 9h0m0.2-9.3h0m0.3 6h0m0.3-7.1h0m0.2 5.8h0m0.3-2.1h0m0.3 0.9h0m0.2 2.1h0m0.3 4.2h0m0.3-5.5h0m0.2-0.2h0m0.3-3.9h0m0.3 5.5h0m0.2-3h0m0.3 3.8h0m0.3-3.1h0m0.2 6.3h0m0.3-13.1h0m0.3 5.9h0m0.2 4.1h0m0.3-4.3h0m0.3-1.5h0m0.2 1.8h0m0.3-3.9h0m0.3 5.2h0m0.2 8.1h0m0.3-4.5h0m0.3-7.9h0m0.2 0.8h0m0.3 1.7h0m0.3 4.9h0m0.2-6.4h0m0.3 0.4h0m0.3 5.5h0m0.2 0h0m0.3-4.4h0m0.3-2.6h0m0.2-1.5h0m0.3 2.9h0m0.3-5.3h0m0.2 10.4h0m0.3-4.8h0m0.3 3.8h0m0.2 4.9h0m0.3-2.4h0m0.3-8.2h0m0.2 7.1h0m0.3 1h0m0.3-6.7h0m0.2-0.7h0m0.3 2.9h0m0.3-5.2h0m0.2 10.7h0m0.3-13.5h0m0.3 4.5h0m0.2 2.9h0m0.3 0.2h0m0.3 1.3h0m0.2 0.4h0m0.3-1.7h0m0.3 4.7h0m0.2-11.5h0m0.3 7.5h0m0.3-2.5h0m0.2 3h0m0.3 0.3h0m0.3-4h0m0.2 0.9h0m0.3 5h0m0.3-1.5h0m0.2-3.6h0m0.3 9.5h0m0.3 0.9h0m0.2-13.2h0m0.3 6.2h0m0.3 7.7h0m0.2-6.1h0m0.3-1.9h0m0.3-1.5h0m0.2-1.2h0m0.3 1.1h0m0.3-1.2h0m0.2 4.6h0m0.3-4h0m0.3-0.2h0m0.2-2.7h0m0.3 4.1h0m0.3-3h0m0.2 2.5h0m0.3 4.3h0m0.3-2.4h0m0.2 0.5h0m0.3-0.6h0m0.3-1h0m0.2-0.7h0m0.3-0.6h0m0.3 3.7h0m0.2-6.4h0m0.3 8.4h0m0.2-4.5h0m0.3-2.8h0m0.3 0.9h0m0.2-0.6h0m0.3 2.9h0m0.3-3.1h0m0.2 6.5h0m0.3-6.7h0m0.3-5.3h0m0.2 5.4h0m0.3-4.5h0m0.3 6.9h0m0.2 3.9h0m0.3-1.5h0m0.3-6.9h0m0.2 2h0m0.3 8.9h0m0.3-5.2h0m0.2-1.1h0m0.3 3.7h0m0.3 4.9h0m0.2-4.1h0m0.3-4h0m0.3 0.7h0m0.2 0.9h0m0.3-4.3h0m0.3-1.5h0m0.2 3.8h0m0.3-3.5h0m0.3 3.1h0m0.2 0.6h0m0.3 7.8h0m0.3-11.1h0m0.2 2.5h0m0.3-0.2h0m0.3 2.1h0m0.2 2.2h0m0.3-5.4h0m0.3-1.2h0m0.2-2.9h0m0.3 2.5h0m0.3 5.2h0m0.2-1.8h0m0.3-3.7h0m0.3 2.3h0m0.2 1.4h0m0.3 1.6h0m0.3-3.8h0m0.2 1.2h0m0.3-5.5h0m0.3 2.3h0m0.2 9.7h0m0.3-13.4h0m0.3 6.5h0m0.2 2h0m0.3-2.1h0m0.3-1.5h0m0.2 2.6h0m0.3 0.2h0m0.3-0.3h0m0.2-6.3h0m0.3 6h0m0.3-2.4h0m0.2 1h0m0.3 2.7h0m0.3 1.5h0m0.2 0.9h0m0.3-4.9h0m0.3 4.9h0m0.2 0.9h0m0.3-0.1h0m0.3 0.9h0m0.2-5.4h0m0.3-0.1h0m0.3 3.5h0m0.2-7.7h0m0.3 5.5h0m0.3-2.6h0m0.2 0.6h0m0.3-4.8h0m0.3 2.9h0m0.2 3.1h0m0.3 3.1h0m0.3 0.4h0m0.2-3.8h0m0.3-0.4h0m0.3-2.2h0m0.2 4.3h0m0.3-2.3h0m0.3 3h0m0.2 4h0m0.3-6.2h0m0.3-5.2h0m0.2 2.3h0m0.3-2.1h0m0.3 0.9h0m0.2 8.7h0m0.3-3.8h0m0.3-6.1h0m0.2 7.6h0m0.3 2.1h0m0.3-5.6h0m0.2-1.1h0m0.3 1.1h0m0.3 2.2h0m0.2 1.2h0m0.3 1.9h0m0.3 0.1h0m0.2-0.1h0m0.3 0.6h0m0.3-2.4h0m0.2-7.7h0m0.3 4.9h0m0.3 1.6h0m0.2-2.5h0m0.3 4.5h0m0.3-4.4h0m0.2-2h0m0.3 8.3h0m0.3-2.7h0m0.2-1.6h0m0.3 2.5h0m0.3 0.4h0m0.2-2.5h0m0.3-9.8h0m0.3 6.2h0m0.2 0.8h0m0.3-1.9h0m0.3 4.2h0m0.2 3.4h0m0.3-5.8h0m0.3-2.3h0m0.2 11.1h0m0.3-8.7h0m0.3-2.8h0m0.2 5.2h0m0.3 0.6h0m0.3-3.9h0m0.2 5.2h0m0.3-4.5h0m0.3-1.5h0m0.2 3.8h0m0.3 2.1h0m0.3-4.9h0m0.2 3.4h0m0.3-1.5h0m0.3 10.2h0m0.2-12.4h0m0.3 7.3h0m0.3-5h0m0.2-0.3h0m0.3 3h0m0.2 0.6h0m0.3 1.3h0m0.3-3.3h0m0.2-3.3h0m0.3 0.3h0m0.3 3.6h0m0.2 0.3h0m0.3 2.8h0m0.3-3.4h0m0.2 2.2h0m0.3 1.6h0m0.3-4.7h0m0.2-5.8h0m0.3 1.1h0m0.3-0.9h0m0.2 10.6h0m0.3-8.6h0m0.3 7.3h0m0.2-2.3h0m0.3 4h0m0.3-2.5h0m0.2-3.9h0m0.3-0.3h0m0.3 0.9h0m0.2 0.4h0m0.3-2.5h0m0.3 1.7h0m0.2 5.8h0m0.3-11.6h0m0.3 6.8h0m0.2-4.1h0m0.3 3.9h0m0.3 2.2h0m0.2-3.1h0m0.3 2.9h0m0.3-8.3h0m0.2 9.5h0m0.3-6h0m0.3 4.3h0m0.2-1.6h0m0.3-9.7h0m0.3 6.4h0m0.2 3.4h0m0.3 4.7h0m0.3-4.4h0m0.2-0.2h0m0.3-5.8h0m0.3 9.9h0m0.2 1.4h0m0.3-6.3h0m0.3-0.8h0m0.2-4.9h0m0.3 8.7h0m0.3 6.4h0m0.2-7h0m0.3 1.9h0m0.3-2.5h0m0.2-5.4h0m0.3 8.2h0m0.3-9h0m0.2 3.5h0m0.3 1.8h0m0.3 2.1h0m0.2-1.7h0m0.3-0.1h0m0.3-4h0m0.2-1.9h0m0.3 4.8h0m0.3-2.7h0m0.2-2.1h0m0.3 0.1h0m0.3 2.7h0m0.2-4.8h0m0.3 1.8h0m0.3-1h0m0.2 6.4h0m0.3 0.7h0m0.3 5.6h0m0.2-12.2h0m0.3 2.8h0m0.3 5.6h0m0.2-4h0m0.3-0.4h0m0.3 7.2h0m0.2-7.2h0m0.3-2.9h0m0.3-0.5h0m0.2 5.7h0m0.3-0.1h0m0.3-5.8h0m0.2 1.3h0m0.3 5.3h0m0.3 0.2h0m0.2-4.3h0m0.3 4.4h0m0.3-0.2h0m0.2-8.2h0m0.3 5.1h0m0.3 2.6h0m0.2-3.5h0m0.3-5.5h0m0.3 6.5h0m0.2 3.6h0m0.3 2.9h0m0.3-13.2h0m0.2 16.8h0m0.3-13.1h0m0.3 7.3h0m0.2 1h0m0.3-0.9h0m0.3-2.9h0m0.2-4.6h0m0.3 6.3h0m0.3-4.7h0m0.2-6.4h0m0.3 18.8h0m0.3-7.5h0m0.2 3.9h0m0.3-9.6h0m0.3 8.4h0m0.2 0.4h0m0.3-0.1h0m0.3-5.6h0m0.2-4.1h0m0.3 3.6h0m0.3-7.1h0m0.2 1.7h0m0.3 6.3h0m0.3-3.8h0m0.2 2.9h0m0.3 0.2h0m0.3 7.1h0m0.2-2.2h0m0.3-4.7h0m0.3 4.4h0m0.2-7h0m0.3 1.6h0m0.3 4.3h0m0.2-7.5h0m0.3 3.4h0m0.3-3.7h0m0.2 5.1h0m0.3 5.3h0m0.3-8.4h0m0.2 3.4h0m0.3-3.9h0m0.3-0.9h0m0.2-0.3h0m0.3 9.4h0m0.2 3.2h0m0.3-6.6h0m0.3-4.2h0m0.2 5h0m0.3-3.7h0m0.3 4h0m0.2-1.8h0m0.3 0h0m0.3 1.1h0m0.2-4.1h0m0.3 0.6h0m0.3-4.6h0m0.2 4.4h0m0.3-3.4h0m0.3 4.5h0m0.2-2.9h0m0.3 3.7h0m0.3 1.2h0m0.2-6.5h0m0.3 2.1h0m0.3-0.5h0m0.2 6h0m0.3 3.3h0m0.3-3h0m0.2-4.2h0m0.3 6.4h0m0.3-10.5h0m0.2 10.6h0m0.3-7.6h0m0.3-7.4h0m0.2 19h0m0.3-3.8h0m0.3-9.1h0m0.2 4.2h0m0.3-1.4h0m0.3 1.1h0m0.2-5.5h0m0.3 2.8h0m0.3 4h0m0.2-0.8h0m0.3 3.4h0m0.3-4h0m0.2 8h0m0.3-10.7h0m0.3 3.4h0m0.2-7.7h0m0.3 2.4h0m0.3 9h0m0.2-8h0m0.3 5.2h0m0.3-2.1h0m0.2-3.4h0m0.3 2.4h0m0.3-0.6h0m0.2 0.1h0m0.3 4.4h0m0.3-0.4h0m0.2-4.3h0m0.3-1.2h0m0.3 4.2h0m0.2-1.3h0m0.3 3.9h0m0.3 5.7h0m0.2-6.4h0m0.3-3h0m0.3-0.5h0m0.2-2.4h0m0.3-0.2h0m0.3-0.3h0m0.2 2.1h0m0.3-0.1h0m0.3 4.1h0m0.2-4h0m0.3 0.7h0m0.3-3.6h0m0.2 10h0m0.3-4h0m0.3 4.5h0m0.2-3.5h0m0.3 2.5h0m0.3-6.1h0m0.2 3.3h0m0.3 7h0m0.3-13.8h0m0.2 8.4h0m0.3 1.9h0m0.3-4.5h0m0.2 1.2h0m0.3 1.8h0m0.3-6.8h0m0.2 3.8h0m0.3-4.6h0m0.3 0.7h0m0.2 0.2h0m0.3 1.7h0m0.3 1h0m0.2 1.1h0m0.3-6.7h0m0.3 12.2h0m0.2-3h0m0.3-1.5h0m0.3-3.9h0m0.2 0.9h0m0.3 2.3h0m0.3-0.5h0m0.2-7.5h0m0.3 8.7h0m0.3 7.8h0m0.2-17.1h0m0.3 10.2h0m0.3-2.2h0m0.2-1.8h0m0.3 5.4h0m0.3-9.2h0m0.2 4.8h0m0.3 4.7h0m0.3-6h0m0.2-0.8h0m0.3 1.9h0m0.3-2h0m0.2 7.2h0m0.3-8.9h0m0.3 6.4h0m0.2-7.6h0m0.3 6.9h0m0.3-2.8h0m0.2-8.9h0m0.3 9.3h0m0.3-3.8h0m0.2 2.2h0m0.3 7.1h0m0.3-9.5h0m0.2 0.2h0m0.3 9h0m0.3-4.8h0m0.2 5.1h0m0.3-4.4h0m0.3-4.3h0m0.2 2.9h0m0.3 4.7h0m0.3-1.1h0m0.2-3.3h0m0.3 0.1h0m0.3-0.6h0m0.2-1.6h0m0.3 9h0m0.3-6.9h0m0.2-4.1h0m0.3 2.3h0m0.2 4.3h0m0.3-0.3h0m0.3-2.8h0m0.2-1.9h0m0.3 2.5h0m0.3-6.1h0m0.2 1.3h0m0.3 7.6h0m0.3-4.6h0m0.2 3.1h0m0.3 3h0m0.3-2.1h0m0.2-2.2h0m0.3 7.5h0m0.3-5.2h0m0.2-3.7h0m0.3 3.9h0m0.3-1.2h0m0.2-4.5h0m0.3 3.3h0m0.3-0.8h0m0.2-6.5h0m0.3 6.4h0m0.3-0.4h0m0.2-0.5h0m0.3-4.4h0m0.3 4.7h0m0.2 1.1h0m0.3 0.5h0m0.3-4.4h0m0.2 6.3h0m0.3-6.6h0m0.3 3.5h0m0.2 5.5h0m0.3-7.2h0m0.3 0.7h0m0.2 5.7h0m0.3-5.3h0m0.3 0.4h0m0.2 1.8h0m0.3 3h0m0.3-11.7h0m0.2 4.9h0m0.3-0.6h0m0.3-0.3h0m0.2 0.8h0m0.3 0.1h0m0.3 4.1h0m0.2-4.3h0m0.3 3.6h0m0.3 1h0m0.2-4h0m0.3 3.1h0m0.3 5.4h0m0.2-4.8h0m0.3-3.4h0m0.3 2h0m0.2-3h0m0.3 4.2h0m0.3 2.2h0m0.2-6.1h0m0.3 2.2h0m0.3 4.7h0m0.2-5.7h0m0.3 2.4h0m0.3-4.3h0m0.2 0.7h0m0.3 1.1h0m0.3 9.5h0m0.2-9.1h0m0.3-0.4h0m0.3-0.1h0m0.2 1.4h0m0.3 2.8h0m0.3-1.6h0m0.2 6.5h0m0.3-6.4h0m0.3 4.3h0m0.2-4.1h0m0.3 1.1h0m0.3-7.1h0m0.2 4.6h0m0.3 0.2h0m0.3-0.6h0m0.2-6.7h0m0.3 10.6h0m0.3-4.5h0m0.2-0.1h0m0.3 0.6h0m0.3 0.1h0m0.2 2.2h0m0.3-5.9h0m0.3 1.2h0m0.2 4.3h0m0.3-0.5h0m0.3-1.8h0m0.2-0.7h0m0.3-1h0m0.3 2.8h0m0.2 4.3h0m0.3-7.8h0m0.3 9h0m0.2-2.4h0m0.3-4.5h0m0.3 4.3h0m0.2-7.9h0m0.3-0.9h0m0.3 1.5h0m0.2 3.1h0m0.3 0.3h0m0.3-0.7h0m0.2 2.2h0m0.3-7.8h0m0.3 9.2h0m0.2-6.7h0m0.3 2.6h0m0.3 0.9h0m0.2-2.6h0m0.3-0.8h0m0.3 1.3h0m0.2 3.5h0m0.3 2.1h0m0.3-0.1h0m0.2-5.5h0m0.3 0.7h0m0.3-0.4h0m0.2 4.8h0m0.3-8.7h0m0.3 11.4h0m0.2-6h0m0.3-1.1h0m0.3 4h0m0.2 2.4h0m0.3-2.4h0m0.3 2.5h0m0.2-3.3h0m0.3 3.9h0m0.3 0h0m0.2-4.7h0m0.3 5.4h0m0.3-4.5h0m0.2-0.2h0m0.3-3.6h0m0.3 2.2h0m0.2 3.8h0m0.3-7.3h0m0.3 6.8h0m0.2-1h0m0.3-0.3h0m0.3-8.7h0m0.2 7.4h0m0.3 2.6h0m0.2-4.9h0m0.3 3h0m0.3-8.7h0m0.2 10.7h0m0.3-4.7h0m0.3 5.4h0m0.2-9.5h0m0.3 8.8h0m0.3-3.2h0m0.2 3.6h0m0.3-6h0m0.3 1h0m0.2 10.1h0m0.3-10.8h0m0.3 0.4h0m0.2 1.5h0m0.3-2.6h0m0.3 7.8h0m0.2 1.8h0m0.3-8.5h0m0.3-3.5h0m0.2 10.1h0m0.3-0.2h0m0.3-1h0m0.2 1.1h0m0.3-7.1h0m0.3 2.5h0m0.2-4.3h0m0.3-0.1h0m0.3 8.4h0m0.2-5.8h0m0.3 10.3h0m0.3-7.7h0m0.2-2.5h0m0.3 5.1h0m0.3 3.5h0m0.2-4.6h0m0.3-6h0m0.3 5.6h0m0.2 3.5h0m0.3-6.6h0m0.3-1h0m0.2 6.3h0m0.3-3.1h0m0.3-4.3h0m0.2 2.5h0m0.3-1.3h0m0.3 3.7h0m0.2-0.7h0m0.3 3.7h0m0.3-1.6h0m0.2-7.9h0m0.3 6.9h0m0.3 1.7h0m0.2-1.6h0m0.3 2h0m0.3-5.5h0m0.2-1.4h0m0.3 6.6h0m0.3-7h0m0.2-3.8h0m0.3 11.1h0m0.3-6.1h0m0.2 1.4h0m0.3-3.8h0m0.3 0.3h0m0.2 0.5h0m0.3 2.8h0m0.3 2.6h0m0.2-9.4h0m0.3 10.7h0m0.3-6.7h0m0.2 0.4h0m0.3 6.1h0m0.3-2.7h0m0.2-5.1h0m0.3 11.8h0m0.3-9.4h0m0.2 3.8h0m0.3-0.1h0m0.3 4.2h0m0.2-6.5h0m0.3 5.1h0m0.3-6.1h0m0.2 6.5h0m0.3-6.6h0m0.3 1.4h0m0.2 7.9h0m0.3-5.5h0m0.3-0.8h0m0.2 7.5h0m0.3-6.6h0m0.3-4.1h0m0.2 5.4h0m0.3-6.7h0m0.3 8.1h0m0.2 0.3h0m0.3-6.3h0m0.3-0.2h0m0.2 2.9h0m0.3-0.6h0m0.3-3.5h0m0.2 5.4h0m0.3-9.1h0m0.3 5.6h0m0.2 0.1h0m0.3 0.5h0m0.3 2h0m0.2-5.4h0m0.3 6.4h0m0.3-2.7h0m0.2-1.7h0m0.3-2.5h0m0.3 0.7h0m0.2 5.4h0m0.3-4.7h0m0.3 3.6h0m0.2 3.5h0m0.3-0.1h0m0.3 1.9h0m0.2-6.5h0m0.3-2.8h0m0.3 7.4h0m0.2-2.5h0m0.3 2.8h0m0.3-3.9h0m0.2 4.2h0m0.3-1.3h0m0.3-0.4h0m0.2-0.8h0m0.3-0.3h0m0.3-0.6h0m0.2 0h0m0.3 2.6h0m0.3-5.2h0m0.2 7.8h0m0.3-6.4h0m0.3 3.8h0m0.2-3.8h0m0.3-0.5h0m0.3 8h0m0.2-8.2h0m0.3-3.4h0m0.3 2h0m0.2 1.3h0m0.3 8.7h0m0.3-6.8h0m0.2 2.5h0m0.3-6.8h0m0.2 4.8h0m0.3 1.1h0m0.3 3.9h0m0.2-8.7h0m0.3 4.5h0m0.3-1h0m0.2-4.6h0m0.3 3.5h0m0.3-0.9h0m0.2-7.2h0m0.3 10.2h0m0.3-0.2h0m0.2-3.4h0m0.3-3.2h0m0.3 9.9h0m0.2-4.3h0m0.3 2.7h0m0.3 1.3h0m0.2-6.7h0m0.3 4.6h0m0.3-3.6h0m0.2 0.6h0m0.3-0.1h0m0.3 0.3h0m0.2 3.9h0m0.3-3.5h0m0.3-0.9h0m0.2-0.5h0m0.3 2.2h0m0.3-4.3h0m0.2 1.3h0m0.3 1.6h0m0.3-1.8h0m0.2 1.6h0m0.3-1.8h0m0.3 9.2h0m0.2-2.4h0m0.3-3h0m0.3-1.8h0m0.2 7.8h0m0.3-6.5h0m0.3-1.4h0m0.2 1.3h0m0.3 0h0m0.3 3.9h0m0.2-5h0m0.3 7.4h0m0.3-10.4h0m0.2 5.5h0m0.3-6h0m0.3 9.9h0m0.2-7.5h0m0.3 0.9h0m0.3 3.5h0m0.2 1.1h0m0.3-8.2h0m0.3 2.6h0m0.2-3.6h0m0.3 5.3h0m0.3-0.8h0m0.2-0.9h0m0.3-1.2h0m0.3 1.1h0m0.2-1.3h0m0.3 4.5h0m0.3 3.4h0m0.2-12h0m0.3 6.3h0m0.3-1h0m0.2 3.1h0m0.3-5h0m0.3 2.8h0m0.2-3.1h0m0.3 6.1h0m0.3-2.1h0m0.2-1h0m0.3 1.9h0m0.3-2.2h0m0.2-4.5h0m0.3 7.5h0m0.3-1.1h0m0.2-1.5h0m0.3 4h0m0.3 0.8h0m0.2-8.1h0m0.3 1.1h0m0.3 8.1h0m0.2-0.4h0m0.3-7.6h0m0.3-1.5h0m0.2 1.9h0m0.3 0.4h0m0.3-3.8h0m0.2 5.7h0m0.3-4.6h0m0.3 0.2h0m0.2 7.5h0m0.3-5.6h0m0.3 2.1h0m0.2 2.5h0m0.3 0.6h0m0.3-4h0m0.2 1.3h0m0.3-3h0m0.3 9h0m0.2-3.9h0m0.3-6.1h0m0.3 3.9h0m0.2 2.5h0m0.3-0.9h0m0.3 4.8h0m0.2-1.6h0m0.3-6.7h0m0.3 1.5h0m0.2-4.1h0m0.3 5.3h0m0.3-0.3h0m0.2 8.9h0m0.3-9.1h0m0.3-7.7h0m0.2 5h0m0.3 2.7h0m0.3-4.8h0m0.2 1.4h0m0.3 1.8h0m0.3 2.4h0m0.2-1.7h0m0.3-2.6h0m0.3 5.9h0m0.2-4.7h0m0.3 0.2h0m0.3-3.1h0m0.2 2.1h0m0.3 5h0m0.3-7.9h0m0.2 5.4h0m0.3 2.7h0m0.3-3.8h0m0.2 2.2h0m0.3-4.8h0m0.3 8.5h0m0.2-0.7h0m0.3-3.1h0m0.3-6.9h0m0.2 2.5h0m0.3 7h0m0.3 2.6h0m0.2-5h0m0.3 3.4h0m0.2-6.5h0m0.3 1.4h0m0.3 0.7h0m0.2 1.5h0m0.3-6.9h0m0.3 8.7h0m0.2 1.3h0m0.3-8.6h0m0.3-0.8h0m0.2 6h0m0.3-3.5h0m0.3-6h0m0.2 11.1h0m0.3-2.3h0m0.3-2.2h0m0.2 9.1h0m0.3-6.9h0m0.3-3.2h0m0.2 3h0m0.3-4h0m0.3 1h0m0.2 4h0m0.3-3.3h0m0.3 0.4h0m0.2 7.4h0m0.3-2.8h0m0.3-0.2h0m0.2-1h0m0.3-0.1h0m0.3 3.4h0m0.2-5.2h0m0.3 6.6h0m0.3-9.9h0m0.2 2.5h0m0.3-4h0m0.3 3.7h0m0.2 3h0m0.3 3.2h0m0.3-7.4h0m0.2 2.4h0m0.3-1.3h0m0.3-1.3h0m0.2-1.6h0m0.3 4.4h0m0.3-6.3h0m0.2 6.4h0m0.3-0.3h0m0.3-2.4h0m0.2-1.2h0m0.3-1.3h0m0.3 11.4h0m0.2-11.3h0m0.3 10.2h0m0.3-3.4h0m0.2-3.3h0m0.3-2.8h0m0.3 7.7h0m0.2 2.4h0m0.3-9.3h0m0.3 2.2h0m0.2 4.7h0m0.3-2.5h0m0.3 5.8h0m0.2-9h0m0.3 3.9h0m0.3-6.3h0m0.2 11.8h0m0.3-9.9h0m0.3-5.2h0m0.2 7.3h0m0.3-0.1h0m0.3 7.2h0m0.2-7.9h0m0.3 1.2h0m0.3 2.1h0m0.2 3.5h0m0.3-5.8h0m0.3 3.8h0m0.2-1.8h0m0.3-2.8h0m0.3 1.3h0m0.2-0.2h0m0.3-3.3h0m0.3 7.4h0m0.2-9.1h0m0.3 9h0m0.3-0.8h0m0.2-3.6h0m0.3-2.4h0m0.3 1.9h0m0.2 2.4h0m0.3 1h0m0.3-1.6h0m0.2 2.5h0m0.3-5.5h0m0.3 2.8h0m0.2-6.3h0m0.3 8.2h0m0.3-2.2h0m0.2-2h0m0.3 5.5h0m0.3-1.6h0m0.2-12.3h0m0.3 10h0m0.3-5.2h0m0.2 8.8h0m0.3 5h0m0.3-10.5h0m0.2 2h0m0.3-1.1h0m0.3 2.1h0m0.2 1h0m0.3 2.3h0m0.3-8h0m0.2 9h0m0.3-8.8h0m0.3 4.2h0m0.2 3.1h0m0.3-1.5h0m0.3-5.8h0m0.2 0.8h0m0.3 0.8h0m0.3 1.5h0m0.2 4.2h0m0.3-8.6h0m0.3 6.2h0m0.2 0.5h0m0.3-0.2h0m0.3-0.3h0m0.2 3.7h0m0.3-3.7h0m0.3 1.3h0m0.2-1h0m0.3 4.3h0m0.3-12.9h0m0.2 11.1h0m0.3-5.4h0m0.3-0.1h0m0.2-2.4h0m0.3-3.1h0m0.3 5.2h0m0.2-1.1h0m0.3 4.2h0m0.3-6.9h0m0.2 10.1h0m0.3-4h0m0.3-1.8h0m0.2-1.7h0m0.3-0.2h0m0.3-1.2h0m0.2 2h0m0.3 1.9h0m0.2-0.6h0m0.3-4.3h0m0.3 4h0m0.2-2.2h0m0.3 3.7h0m0.3 5.9h0m0.2-4.3h0m0.3-3.3h0m0.3-4.6h0m0.2 0.8h0m0.3-1h0m0.3 8.4h0m0.2-5.2h0m0.3 2.9h0m0.3-2.4h0m0.2 2.5h0m0.3 4.6h0m0.3-7.3h0m0.2 1.2h0m0.3-1.6h0m0.3 5.9h0m0.2-6.7h0m0.3-0.4h0m0.3-0.9h0m0.2 0h0m0.3 6.5h0m0.3 7.4h0m0.2-12.5h0m0.3 6.8h0m0.3-2.4h0m0.2-4.8h0m0.3 2.9h0m0.3 0.2h0m0.2-1.6h0m0.3 9.1h0m0.3-13.4h0m0.2 8h0m0.3-0.2h0m0.3-3.2h0m0.2 2.6h0m0.3 2.5h0m0.3-2.5h0m0.2 0.9h0m0.3 1h0m0.3-9.5h0m0.2 12.2h0m0.3 2.8h0m0.3-4.5h0m0.2 0.1h0m0.3-8.5h0m0.3 4.5h0m0.2-2.4h0m0.3 0.8h0m0.3 5.4h0m0.2-6.2h0m0.3 2.4h0m0.3-6.2h0m0.2 6.1h0m0.3 0.9h0m0.3-2.8h0m0.2-0.1h0m0.3 9.2h0m0.3-10.9h0m0.2 0.6h0m0.3 0.8h0m0.3 7h0m0.2 3.2h0m0.3-6.2h0m0.3-3.7h0m0.2 1h0m0.3 5.3h0m0.3-6.9h0m0.2 8.2h0m0.3-0.1h0m0.3-4.7h0m0.2 2h0m0.3 0.4h0m0.3 2.8h0m0.2-9.1h0m0.3 7.8h0m0.3-5.5h0m0.2-1.4h0m0.3 3.1h0m0.3-1.1h0m0.2-2.7h0m0.3-2.2h0m0.3 2.3h0m0.2 8.4h0m0.3 1.8h0m0.3-4.6h0m0.2 1.9h0m0.3-6h0m0.3 1.6h0m0.2 1.2h0m0.3-4.8h0m0.3 0.4h0m0.2 3.8h0m0.3-1.5h0m0.3-2.6h0m0.2 5.1h0m0.3-2.3h0m0.3 4.5h0m0.2-3.6h0m0.3-1h0m0.3 1.5h0m0.2-1.1h0m0.3-1.7h0m0.3 0.9h0m0.2 4h0m0.3-0.3h0m0.3 2.2h0m0.2-10.4h0m0.3 4.5h0m0.3 0h0m0.2 2h0m0.3-2.2h0m0.3-0.2h0m0.2 4.5h0m0.3-2.1h0m0.3-4.7h0m0.2 8.8h0m0.3-1.2h0m0.3-5.5h0m0.2 4.9h0m0.3-5.5h0m0.3 6.5h0m0.2-4.7h0m0.3-2h0m0.3 1.5h0m0.2-1.4h0m0.3 3.4h0m0.3-0.1h0m0.2-0.5h0m0.3-2.1h0m0.3-10.8h0m0.2 13.1h0m0.3-7h0m0.3 7.5h0m0.2 3.1h0m0.3-3h0m0.3-2.3h0m0.2 0.7h0m0.3 0.2h0m0.3-1.4h0m0.2-0.2h0m0.3-1.2h0m0.3 7.4h0m0.2-4.2h0m0.3 3.4h0m0.2-4.2h0m0.3 1.1h0m0.3-0.8h0m0.2 2.2h0m0.3 1.3h0m0.3-2.1h0m0.2-3.2h0m0.3-0.4h0m0.3 8.6h0m0.2-6.8h0m0.3-0.1h0m0.3 6.2h0m0.2-1.3h0m0.3-2h0m0.3-3.2h0m0.2 9.6h0m0.3-6.9h0m0.3 0.6h0m0.2-2.5h0m0.3-4.4h0m0.3 0.3h0m0.2 6.1h0m0.3-0.1h0m0.3-2.2h0m0.2-3.3h0m0.3-0.9h0m0.3 3.9h0m0.2-3.9h0m0.3 8.2h0m0.3 0.9h0m0.2 5.8h0m0.3-6.8h0m0.3-5.1h0m0.2-1h0m0.3-9h0m0.3 10h0m0.2 1.4h0m0.3 4h0m0.3-1.2h0m0.2-0.1h0m0.3-1.3h0m0.3 1.5h0m0.2 2.8h0m0.3-8.8h0m0.3 2.1h0m0.2-3.2h0m0.3 10.5h0m0.3-1.1h0m0.2-1.9h0m0.3-6.9h0m0.3 4.8h0m0.2-1.4h0m0.3 1.1h0m0.3-0.9h0m0.2 2.4h0m0.3-3.2h0m0.3 4.4h0m0.2-2.1h0m0.3-1.9h0m0.3 0.6h0m0.2-1.1h0m0.3 4.4h0m0.3-3.8h0m0.2 1.9h0m0.3-2.4h0m0.3-3.8h0m0.2 8.4h0m0.3-6.9h0m0.3 6.1h0m0.2-0.9h0m0.3-7.3h0m0.3 2.5h0m0.2 1.5h0m0.3-1.1h0" fill="none" stroke="#dc291b" stroke-width="4.6" stroke-linecap="round"/>
<polyline points="113.6,1053.1 113.6,1053.1 113.6,1053.0 113.6,1052.8 113.6,1052.7 113.6,1052.4 113.6,1052.1 113.7,1051.8 113.7,1051.4 113.8,1050.9 113.8,1050.4 113.9,1049.9 113.9,1049.3 114.0,1048.6 114.1,1047.9 114.1,1047.2 114.2,1046.4 114.3,1045.5 114.4,1044.6 114.5,1043.6 114.6,1042.6 114.7,1041.6 114.8,1040.5 114.9,1039.3 115.0,1038.1 115.2,1036.9 115.3,1035.6 115.4,1034.2 115.6,1032.8 115.7,1031.4 115.9,1029.9 116.0,1028.4 116.2,1026.8 116.3,1025.2 116.5,1023.6 116.7,1021.9 116.9,1020.2 117.1,1018.4 117.2,1016.6 117.4,1014.7 117.6,1012.9 117.9,1010.9 118.1,1009.0 118.3,1007.0 118.5,1004.9 118.7,1002.9 119.0,1000.8 119.2,998.6 119.4,996.5 119.7,994.3 119.9,992.1 120.2,989.8 120.5,987.5 120.7,985.2 121.0,982.9 121.3,980.5 121.6,978.1 121.9,975.7 122.2,973.2 122.5,970.8 122.8,968.3 123.1,965.8 123.4,963.2 123.7,960.7 124.0,958.1 124.4,955.5 124.7,952.9 125.0,950.3 125.4,947.7 125.7,945.0 126.1,942.3 126.4,939.7 126.8,937.0 127.2,934.3 127.6,931.5 127.9,928.8 128.3,926.1 128.7,923.3 129.1,920.6 129.5,917.8 129.9,915.1 130.3,912.3 130.7,909.5 131.2,906.8 131.6,904.0 132.0,901.2 132.5,898.4 132.9,895.6 133.4,892.9 133.8,890.1 134.3,887.3 134.7,884.5 135.2,881.7 135.7,879.0 136.1,876.2 136.6,873.5 137.1,870.7 137.6,868.0 138.1,865.2 138.6,862.5 139.1,859.8 139.6,857.0 140.2,854.3 140.7,851.6 141.2,849.0 141.7,846.3 142.3,843.6 142.8,841.0 143.4,838.3 143.9,835.7 144.5,833.1 145.1,830.5 145.6,827.9 146.2,825.4 146.8,822.8 147.4,820.3 148.0,817.8 148.6,815.3 149.2,812.8 149.8,810.3 150.4,807.9 151.0,805.5 151.6,803.0 152.2,800.7 152.9,798.3 153.5,795.9 154.1,793.6 154.8,791.3 155.4,789.0 156.1,786.7 156.8,784.5 157.4,782.3 158.1,780.1 158.8,777.9 159.5,775.7 160.2,773.6 160.8,771.5 161.5,769.4 162.2,767.3 163.0,765.2 163.7,763.2 164.4,761.2 165.1,759.2 165.8,757.3 166.6,755.3 167.3,753.4 168.1,751.5 168.8,749.7 169.6,747.8 170.3,746.0 171.1,744.2 171.9,742.4 172.6,740.7 173.4,738.9 174.2,737.2 175.0,735.6 175.8,733.9 176.6,732.3 177.4,730.7 178.2,729.1 179.0,727.5 179.8,726.0 180.7,724.4 181.5,722.9 182.3,721.5 183.2,720.0 184.0,718.6 184.9,717.2 185.7,715.8 186.6,714.4 187.4,713.1 188.3,711.7 189.2,710.4 190.1,709.2 191.0,707.9 191.9,706.7 192.8,705.4 193.7,704.3 194.6,703.1 195.5,701.9 196.4,700.8 197.3,699.7 198.2,698.6 199.2,697.5 200.1,696.4 201.1,695.4 202.0,694.4 203.0,693.4 203.9,692.4 204.9,691.4 205.9,690.5 206.8,689.5 207.8,688.6 208.8,687.7 209.8,686.9 210.8,686.0 211.8,685.2 212.8,684.3 213.8,683.5 214.8,682.7 215.8,681.9 216.9,681.2 217.9,680.4 218.9,679.7 220.0,679.0 221.0,678.3 222.1,677.6 223.1,676.9 224.2,676.2 225.2,675.6 226.3,675.0 227.4,674.3 228.5,673.7 229.6,673.1 230.6,672.6 231.7,672.0 232.8,671.4 234.0,670.9 235.1,670.3 236.2,669.8 237.3,669.3 238.4,668.8 239.6,668.3 240.7,667.8 241.8,667.4 243.0,666.9 244.1,666.5 245.3,666.0 246.5,665.6 247.6,665.2 248.8,664.8 250.0,664.4 251.2,664.0 252.4,663.6 253.6,663.2 254.8,662.9 256.0,662.5 257.2,662.2 258.4,661.8 259.6,661.5 260.8,661.2 262.1,660.8 263.3,660.5 264.5,660.2 265.8,659.9 267.0,659.6 268.3,659.4 269.5,659.1 270.8,658.8 272.1,658.6 273.4,658.3 274.6,658.0 275.9,657.8 277.2,657.6 278.5,657.3 279.8,657.1 281.1,656.9 282.4,656.6 283.7,656.4 285.1,656.2 286.4,656.0 287.7,655.8 289.1,655.6 290.4,655.4 291.8,655.3 293.1,655.1 294.5,654.9 295.8,654.7 297.2,654.5 298.6,654.4 299.9,654.2 301.3,654.1 302.7,653.9 304.1,653.8 305.5,653.6 306.9,653.5 308.3,653.3 309.7,653.2 311.2,653.0 312.6,652.9 314.0,652.8 315.4,652.7 316.9,652.5 318.3,652.4 319.8,652.3 321.2,652.2 322.7,652.1 324.2,651.9 325.6,651.8 327.1,651.7 328.6,651.6 330.1,651.5 331.6,651.4 333.1,651.3 334.6,651.2 336.1,651.1 337.6,651.0 339.1,650.9 340.6,650.8 342.1,650.8 343.7,650.7 345.2,650.6 346.7,650.5 348.3,650.4 349.8,650.3 351.4,650.3 353.0,650.2 354.5,650.1 356.1,650.0 357.7,650.0 359.3,649.9 360.9,649.8 362.4,649.8 364.0,649.7 365.6,649.6 367.3,649.5 368.9,649.5 370.5,649.4 372.1,649.4 373.7,649.3 375.4,649.2 377.0,649.2 378.7,649.1 380.3,649.1 382.0,649.0 383.6,648.9 385.3,648.9 387.0,648.8 388.6,648.8 390.3,648.7 392.0,648.7 393.7,648.6 395.4,648.6 397.1,648.5 398.8,648.5 400.5,648.4 402.2,648.4 403.9,648.3 405.7,648.3 407.4,648.2 409.1,648.2 410.9,648.1 412.6,648.1 414.4,648.1 416.1,648.0 417.9,648.0 419.6,647.9 421.4,647.9 423.2,647.8 425.0,647.8 426.8,647.8 428.6,647.7 430.4,647.7 432.2,647.6 434.0,647.6 435.8,647.6 437.6,647.5 439.4,647.5 441.2,647.5 443.1,647.4 444.9,647.4 446.8,647.3 448.6,647.3 450.5,647.3 452.3,647.2 454.2,647.2 456.1,647.2 457.9,647.1 459.8,647.1 461.7,647.1 463.6,647.0 465.5,647.0 467.4,647.0 469.3,646.9 471.2,646.9 473.1,646.9 475.0,646.9 477.0,646.8 478.9,646.8 480.8,646.8 482.8,646.7 484.7,646.7 486.7,646.7 488.6,646.7 490.6,646.6 492.5,646.6 494.5,646.6 496.5,646.5 498.5,646.5 500.5,646.5 502.4,646.5 504.4,646.4 506.4,646.4 508.5,646.4 510.5,646.4 512.5,646.3 514.5,646.3 516.5,646.3 518.6,646.3 520.6,646.2 522.6,646.2 524.7,646.2 526.7,646.2 528.8,646.1 530.9,646.1 532.9,646.1 535.0,646.1 537.1,646.1 539.2,646.0 541.3,646.0 543.4,646.0 545.5,646.0 547.6,646.0 549.7,645.9 551.8,645.9 553.9,645.9 556.0,645.9 558.2,645.9 560.3,645.8 562.4,645.8 564.6,645.8 566.7,645.8 568.9,645.8 571.0,645.7 573.2,645.7 575.4,645.7 577.6,645.7 579.7,645.7 581.9,645.7 584.1,645.6 586.3,645.6 588.5,645.6 590.7,645.6 592.9,645.6 595.1,645.5 597.4,645.5 599.6,645.5 601.8,645.5 604.1,645.5 606.3,645.5 608.6,645.5 610.8,645.4 613.1,645.4 615.3,645.4 617.6,645.4 619.9,645.4 622.1,645.4 624.4,645.4 626.7,645.3 629.0,645.3 631.3,645.3 633.6,645.3 635.9,645.3 638.2,645.3 640.6,645.3 642.9,645.2 645.2,645.2 647.5,645.2 649.9,645.2 652.2,645.2 654.6,645.2 656.9,645.2 659.3,645.2 661.7,645.1 664.0,645.1 666.4,645.1 668.8,645.1 671.2,645.1 673.6,645.1 676.0,645.1 678.4,645.1 680.8,645.1 683.2,645.0 685.6,645.0 688.0,645.0 690.4,645.0 692.9,645.0 695.3,645.0 697.7,645.0 700.2,645.0 702.6,645.0 705.1,645.0 707.6,645.0 710.0,644.9 712.5,644.9 715.0,644.9 717.5,644.9 719.9,644.9 722.4,644.9 724.9,644.9 727.4,644.9 730.0,644.9 732.5,644.9 735.0,644.9 737.5,644.8 740.0,644.8 742.6,644.8 745.1,644.8 747.7,644.8 750.2,644.8" fill="none" stroke="#000" stroke-width="2.7" stroke-linejoin="round"/></g>
<rect x="111.0" y="580.1" width="639.2" height="514.6" fill="none" stroke="#000" stroke-width="1.8"/>
<path d="M238.8 1094.7v-12M238.8 580.1v12M366.7 1094.7v-12M366.7 580.1v12M494.5 1094.7v-12M494.5 580.1v12M622.4 1094.7v-12M622.4 580.1v12M111.0 1045.1h12M750.2 1045.1h-12M111.0 962.0h12M750.2 962.0h-12M111.0 878.9h12M750.2 878.9h-12M111.0 795.9h12M750.2 795.9h-12M111.0 712.8h12M750.2 712.8h-12M111.0 629.7h12M750.2 629.7h-12" stroke="#000" stroke-width="1.8" fill="none"/>
<g font-size="28.8" text-anchor="middle"><text x="111.0" y="1127.7">0</text><text x="238.8" y="1127.7">2</text><text x="366.7" y="1127.7">4</text><text x="494.5" y="1127.7">6</text><text x="622.4" y="1127.7">8</text><text x="750.2" y="1127.7">10</text></g><g font-size="28.8" text-anchor="end"><text x="101.8" y="1054.6">0.35</text><text x="101.8" y="971.5">0.40</text><text x="101.8" y="888.4">0.45</text><text x="101.8" y="805.4">0.50</text><text x="101.8" y="722.3">0.55</text><text x="101.8" y="639.2">0.60</text></g>
<text x="431" y="562.3" font-size="29" text-anchor="middle">SpCas9 on-target</text>
<text x="430.2" y="1166.1" font-size="29" text-anchor="middle">Time (s)</text>
<text transform="translate(21.2 837.4) rotate(-90)" font-size="29" text-anchor="middle">Fluorescence</text>
<text x="-0.3" y="557.5" font-size="41.5" font-weight="bold">a</text>
<text x="502.7" y="870.8" font-size="24" word-spacing="1.7"><tspan font-style="italic">k</tspan><tspan font-size="16.5" dx="-1.2" dy="8.2">fast</tspan><tspan dy="-8.2">: 1.69 s</tspan><tspan font-size="15.5" dy="-11.2">−1</tspan><tspan dy="11.2"> (95%)</tspan></text>
<text x="502.7" y="903.9" font-size="24" word-spacing="1.7"><tspan font-style="italic">k</tspan><tspan font-size="16.5" dx="-1.2" dy="8.2">slow</tspan><tspan dy="-8.2">: 0.38 s</tspan><tspan font-size="15.5" dy="-11.2">−1</tspan><tspan dy="11.2"> (5%)</tspan></text>
<g clip-path="url(#cpb)"><path d="M928.9 1068.4h0m0.3 0.3h0m0.3-4.2h0m0.3-1.7h0m0.3-3.9h0m0.3-1.5h0m0.2-4.2h0m0.3-1.4h0m0.3-1.6h0m0.3-3.3h0m0.3-3.3h0m0.3-3.5h0m0.3-0.4h0m0.3-2.1h0m0.3-3.3h0m0.3-3.2h0m0.2-0.3h0m0.3 0.8h0m0.3-6.7h0m0.3-1.2h0m0.3-2.2h0m0.3-6.9h0m0.3 2.1h0m0.3-3.5h0m0.3 1.1h0m0.3-4.7h0m0.3-3h0m0.2-1.2h0m0.3-1.4h0m0.3-3.2h0m0.3-1.3h0m0.3-4.1h0m0.3-0.2h0m0.3-0.3h0m0.3-0.1h0m0.3-3.9h0m0.3-2.7h0m0.3-0.4h0m0.2-2.2h0m0.3-0.8h0m0.3-2.8h0m0.3-3.8h0m0.3-1.2h0m0.3-1.9h0m0.3-1.6h0m0.3-2h0m0.3-3.3h0m0.3-3.8h0m0.2 0.5h0m0.3-3.9h0m0.3 1.7h0m0.3-1.8h0m0.3-4.4h0m0.3 2.2h0m0.3-1.4h0m0.3-2.9h0m0.3 0.9h0m0.3-1.2h0m0.3-6.5h0m0.2 2h0m0.3-2.6h0m0.3-1.5h0m0.3-0.8h0m0.3-4.1h0m0.3-1.3h0m0.3-1.9h0m0.3-1.4h0m0.3-0.4h0m0.3-3.6h0m0.2-0.8h0m0.3 1.1h0m0.3-2.5h0m0.3-0.6h0m0.3-5.1h0m0.3 0.4h0m0.3-1h0m0.3-0.5h0m0.3-2.3h0m0.3 1h0m0.3-2.9h0m0.2-1.2h0m0.3-1.3h0m0.3-0.2h0m0.3-3.2h0m0.3 1.2h0m0.3-2.3h0m0.3-1.8h0m0.3-1.4h0m0.3-0.5h0m0.3-0.5h0m0.2-1.3h0m0.3-2.2h0m0.3-0.4h0m0.3-2.4h0m0.3 0.6h0m0.3-3.3h0m0.3-4.4h0m0.3 4.3h0m0.3-3.2h0m0.3-3.2h0m0.3 0.4h0m0.2-2.2h0m0.3 3.6h0m0.3-3.7h0m0.3-4.4h0m0.3 2.2h0m0.3-2.6h0m0.3 2.6h0m0.3-5.8h0m0.3-3h0m0.3 2.6h0m0.3-1.8h0m0.2-1.1h0m0.3-3.8h0m0.3 3h0m0.3 1h0m0.3-6.8h0m0.3 3.9h0m0.3-3.8h0m0.3 3.6h0m0.3-4.1h0m0.3-2h0m0.2 1.1h0m0.3-1.9h0m0.3-2.8h0m0.3 1.1h0m0.3-2.9h0m0.3-3.1h0m0.3 5.2h0m0.3-4.8h0m0.3-1.3h0m0.3 0.5h0m0.3-4h0m0.2-0.6h0m0.3 0.5h0m0.3-1h0m0.3 0h0m0.3 0.8h0m0.3-3.5h0m0.3 0.7h0m0.3-0.8h0m0.3-3.5h0m0.3 1.2h0m0.2-2.8h0m0.3 2.3h0m0.3-1.8h0m0.3-1.6h0m0.3-3h0m0.3 1.4h0m0.3-2.2h0m0.3 1.5h0m0.3-2.2h0m0.3-1.9h0m0.3 1.9h0m0.2-1.2h0m0.3-2.9h0m0.3 2h0m0.3-3.2h0m0.3-0.8h0m0.3-0.1h0m0.3-2.2h0m0.3-0.3h0m0.3-0.4h0m0.3 1.9h0m0.2-0.8h0m0.3-3.6h0m0.3 2.2h0m0.3-3.4h0m0.3-0.1h0m0.3 0h0m0.3-1.7h0m0.3 2.6h0m0.3-4.2h0m0.3-3.1h0m0.3 3.3h0m0.2-3.5h0m0.3-0.6h0m0.3-5h0m0.3 5.6h0m0.3-1h0m0.3-0.8h0m0.3-0.4h0m0.3 0.4h0m0.3-3.5h0m0.3 0.9h0m0.3-3.4h0m0.2-0.1h0m0.3 1.5h0m0.3-1.7h0m0.3-3.5h0m0.3 2h0m0.3-1.5h0m0.3-1.7h0m0.3 1.3h0m0.3-2.1h0m0.3-2.5h0m0.2 0.1h0m0.3 3.9h0m0.3-5.9h0m0.3 2.1h0m0.3-0.1h0m0.3-0.6h0m0.3-3.6h0m0.3 0.8h0m0.3 0h0m0.3 0.4h0m0.3-2.9h0m0.2-1.5h0m0.3 2.8h0m0.3-0.4h0m0.3-1.9h0m0.3-2.2h0m0.3 1h0m0.3-1.1h0m0.3 0.6h0m0.3-4h0m0.3 1.6h0m0.2-1.1h0m0.3-2.1h0m0.3 1.5h0m0.3-0.9h0m0.3-1.3h0m0.3 0.7h0m0.3-3.6h0m0.3 1.6h0m0.3 0.2h0m0.3-0.8h0m0.3 0.7h0m0.2-4.3h0m0.3-1.1h0m0.3 2.2h0m0.3-0.2h0m0.3 2.1h0m0.3-3h0m0.3-3h0m0.3 2.2h0m0.3-3.3h0m0.3-1.5h0m0.2 5.9h0m0.3-4.2h0m0.3 0.1h0m0.3-0.8h0m0.3 1.4h0m0.3-3h0m0.3 1h0m0.3-4.2h0m0.3-1.1h0m0.3 3.9h0m0.3-0.4h0m0.2-2.1h0m0.3-1h0m0.3-0.6h0m0.3-1.9h0m0.3 3h0m0.3-2h0m0.3-0.7h0m0.3-0.8h0m0.3 0.6h0m0.3-1.4h0m0.3-0.1h0m0.2-3.6h0m0.3 2.1h0m0.3 2.2h0m0.3-4.8h0m0.3 0.1h0m0.3 1.1h0m0.3-0.4h0m0.3-1.1h0m0.3-4h0m0.3 2.8h0m0.2-3.2h0m0.3 0.1h0m0.3 1.7h0m0.3-1.8h0m0.3 1.2h0m0.3 3.3h0m0.3-4.3h0m0.3-0.6h0m0.3-3h0m0.3-0.1h0m0.3-1.2h0m0.2 0.4h0m0.3-1.4h0m0.3 0.2h0m0.3 0.3h0m0.3-1.8h0m0.3-1.1h0m0.3-0.4h0m0.3 2.5h0m0.3-1.1h0m0.3 1h0m0.2-0.4h0m0.3-2.7h0m0.3 1.2h0m0.3-3.9h0m0.3 5.5h0m0.3-2.2h0m0.3-2.7h0m0.3-1.9h0m0.3 2h0m0.3-4.1h0m0.3 1.3h0m0.2 2h0m0.3-1.5h0m0.3-1.3h0m0.3 1.8h0m0.3-3.6h0m0.3 1.7h0m0.3-1.7h0m0.3-1h0m0.3 1.7h0m0.3-2.8h0m0.2 4.2h0m0.3-4.4h0m0.3 3.7h0m0.3-5.4h0m0.3 2.3h0m0.3-3.3h0m0.3-0.7h0m0.3 2h0m0.3 0.4h0m0.3-3.5h0m0.3 3.5h0m0.2-3.6h0m0.3 1.1h0m0.3 0h0m0.3-0.1h0m0.3-4.2h0m0.3 5h0m0.3-2.1h0m0.3-1.9h0m0.3-1.4h0m0.3-1.5h0m0.3 0.1h0m0.2 2.7h0m0.3-1.8h0m0.3-1.7h0m0.3 0.6h0m0.3 2.9h0m0.3-3.4h0m0.3-0.8h0m0.3 2.7h0m0.3-1.8h0m0.3-1h0m0.2-1.5h0m0.3-1.9h0m0.3 0.3h0m0.3 0.7h0m0.3 0h0m0.3 0.6h0m0.3-0.1h0m0.3-0.9h0m0.3-0.4h0m0.3-2.3h0m0.3-2.2h0m0.2 2.2h0m0.3-1.1h0m0.3 0.1h0m0.3 0.3h0m0.3-1.9h0m0.3-0.2h0m0.3 1.3h0m0.3-0.1h0m0.3-1.6h0m0.3 1.5h0m0.2-1.5h0m0.3-1.6h0m0.3 1.3h0m0.3 2.6h0m0.3-4.4h0m0.3 2.6h0m0.3-0.1h0m0.3-0.1h0m0.3-4.1h0m0.3 4.2h0m0.3-3.4h0m0.2-0.9h0m0.3-0.3h0m0.3 1h0m0.3-1.3h0m0.3-0.7h0m0.3 2h0m0.3-3.5h0m0.3-0.9h0m0.3 2.6h0m0.3-0.5h0m0.2 0.3h0m0.3-3.8h0m0.3 3.1h0m0.3-1.3h0m0.3 1.8h0m0.3-5.2h0m0.3 2h0m0.3-1.1h0m0.3-2.4h0m0.3 1h0m0.3 2.7h0m0.2-2.9h0m0.3-0.7h0m0.3 2.2h0m0.3-0.2h0m0.3-0.3h0m0.3-3.1h0m0.3 0.8h0m0.3 1.4h0m0.3-3h0m0.3-0.4h0m0.3 2.2h0m0.2 0.8h0m0.3-4.6h0m0.3-2.6h0m0.3 1.5h0m0.3 0.4h0m0.3 1.1h0m0.3 0.9h0m0.3-1.6h0m0.3-1.2h0m0.3 1.1h0m0.2-2.1h0m0.3 1.2h0m0.3-1.3h0m0.3 5h0m0.3-3.2h0m0.3-3h0m0.3-0.5h0m0.3 0.5h0m0.3-2.2h0m0.3 1.2h0m0.3-0.3h0m0.2 2.3h0m0.3-2.4h0m0.3-0.9h0m0.3-1.1h0m0.3-0.1h0m0.3 1.5h0m0.3-0.5h0m0.3 1.9h0m0.3-3.1h0m0.3 2.4h0m0.2-1.6h0m0.3-0.7h0m0.3-3.5h0m0.3 0.9h0m0.3 2.9h0m0.3 0.8h0m0.3-2.2h0m0.3 0.6h0m0.3-2.1h0m0.3-0.2h0m0.3-0.8h0m0.2 2.4h0m0.3-1.3h0m0.3-1.2h0m0.3-0.4h0m0.3 1.1h0m0.3-0.6h0m0.3-2.1h0m0.3 3.8h0m0.3-2.6h0m0.3-0.7h0m0.2 2.1h0m0.3-1h0m0.3-2h0m0.3 0.7h0m0.3-2.8h0m0.3 0.4h0m0.3-2.9h0m0.3 5.3h0m0.3-5.2h0m0.3 3.9h0m0.3-2.7h0m0.2-0.5h0m0.3 1h0m0.3 0.5h0m0.3 0.3h0m0.3 1.6h0m0.3-2.5h0m0.3 0.5h0m0.3-2.6h0m0.3 1.9h0m0.3-1.2h0m0.3-1.2h0m0.2 0.3h0m0.3-0.2h0m0.3 0.2h0m0.3 0.1h0m0.3-1.7h0m0.3-0.6h0m0.3 2.1h0m0.3-4.1h0m0.3 1.4h0m0.3 3.3h0m0.2-7.1h0m0.3 3h0m0.3 2h0m0.3-4h0m0.3 6.6h0m0.3-8.6h0m0.3 6.2h0m0.3 0h0m0.3-1.3h0m0.3-2h0m0.3 0.7h0m0.2-2.3h0m0.3 2.5h0m0.3-3.3h0m0.3 1.1h0m0.3 1.8h0m0.3-3.6h0m0.3 1h0m0.3 0.6h0m0.3-2.6h0m0.3 3.8h0m0.2-1.6h0m0.3-3.2h0m0.3 2.1h0m0.3-1.3h0m0.3-0.1h0m0.3 1h0m0.3-1.5h0m0.3 2.5h0m0.3-2.9h0m0.3 2.4h0m0.3-1.8h0m0.2 1.2h0m0.3-2.4h0m0.3-0.2h0m0.3-1.2h0m0.3 2.5h0m0.3 0.4h0m0.3 1.6h0m0.3-1.5h0m0.3-1.9h0m0.3-0.9h0m0.2 0.7h0m0.3-0.8h0m0.3 2.1h0m0.3-1h0m0.3-3.1h0m0.3 0.1h0m0.3 3h0m0.3-1.9h0m0.3-1h0m0.3 2h0m0.3-2.7h0m0.2 0h0m0.3-0.5h0m0.3-2.6h0m0.3 4.3h0m0.3-3.5h0m0.3 0.8h0m0.3-0.5h0m0.3 2.2h0m0.3-1.5h0m0.3-0.1h0m0.3-2.9h0m0.2 2.4h0m0.3-2.4h0m0.3 2.6h0m0.3-0.1h0m0.3-0.8h0m0.3 3.1h0m0.3-2.6h0m0.3-0.1h0m0.3-0.9h0m0.3-0.7h0m0.2 1.6h0m0.3 0.1h0m0.3-4.1h0m0.3 3.6h0m0.3-1h0m0.3 0.5h0m0.3-1h0m0.3-2.9h0m0.3-0.1h0m0.3 4.6h0m0.3-2.7h0m0.2-2.8h0m0.3 2.6h0m0.3-1.3h0m0.3-2.6h0m0.3-0.9h0m0.3 1h0m0.3 2.8h0m0.3-0.7h0m0.3-0.5h0m0.3 0.7h0m0.2 0.3h0m0.3-4.5h0m0.3 2.7h0m0.3-1h0m0.3-0.9h0m0.3 1h0m0.3 0.5h0m0.3-0.4h0m0.3-2.1h0m0.3 1.4h0m0.3 3.8h0m0.2-5.1h0m0.3-1.2h0m0.3 3h0m0.3 0.3h0m0.3-0.4h0m0.3-2.7h0m0.3 3.3h0m0.3-3.1h0m0.3-0.7h0m0.3 0.7h0m0.2 0.6h0m0.3 1.2h0m0.3-0.3h0m0.3-1.2h0m0.3 1.3h0m0.3-1.5h0m0.3 1.1h0m0.3-3.8h0m0.3-0.4h0m0.3 3.6h0m0.3-3.7h0m0.2 1.6h0m0.3 0.2h0m0.3-0.8h0m0.3-0.1h0m0.3 2.8h0m0.3-6.5h0m0.3 5.3h0m0.3 2.1h0m0.3-3.8h0m0.3-0.2h0m0.3 1.1h0m0.2 1.6h0m0.3-5h0m0.3 1.9h0m0.3-0.6h0m0.3 1h0m0.3-0.8h0m0.3 0.7h0m0.3-1.9h0m0.3 0.6h0m0.3-1.3h0m0.2-0.2h0m0.3 0.7h0m0.3-0.1h0m0.3-1.8h0m0.3 4.2h0m0.3-2.9h0m0.3-2.1h0m0.3 3.8h0m0.3-3.1h0m0.3 1.9h0m0.3-1h0m0.2 0.3h0m0.3-0.3h0m0.3-1.3h0m0.3 0.8h0m0.3 3h0m0.3-6.9h0m0.3 3.5h0m0.3 0.4h0m0.3-2.5h0m0.3-0.6h0m0.2 5.5h0m0.3-4.2h0m0.3 3.8h0m0.3-2.6h0m0.3-0.9h0m0.3 0.5h0m0.3 0.1h0m0.3 0.7h0m0.3-1.3h0m0.3-0.6h0m0.3-0.1h0m0.2 1.8h0m0.3-1h0m0.3-3.1h0m0.3 0.5h0m0.3 1.4h0m0.3-1.7h0m0.3 0.3h0m0.3-1.1h0m0.3 1h0m0.3 0.9h0m0.2 0.8h0m0.3-1.7h0m0.3 3.2h0m0.3-3.6h0m0.3 5.1h0m0.3-3.6h0m0.3-1h0m0.3-1.7h0m0.3-3.8h0m0.3 4.1h0m0.3 0.4h0m0.2 2.7h0m0.3-5.4h0m0.3 5.1h0m0.3-3.6h0m0.3 1.4h0m0.3-5.3h0m0.3 4.2h0m0.3-0.9h0m0.3 1.5h0m0.3-1.1h0m0.3-2.1h0m0.2 3.2h0m0.3-0.5h0m0.3-0.3h0m0.3 0.6h0m0.3 0h0m0.3-1.9h0m0.3-2.3h0m0.3-0.2h0m0.3 4.3h0m0.3-1.2h0m0.2-1h0m0.3-1h0m0.3 0.6h0m0.3-0.1h0m0.3-0.7h0m0.3-0.7h0m0.3 4.4h0m0.3-3.2h0m0.3-1.4h0m0.3-1.3h0m0.3 0.8h0m0.2 2.2h0m0.3 0h0m0.3-1.7h0m0.3 0.3h0m0.3-0.7h0m0.3-1.4h0m0.3 3.8h0m0.3-1.6h0m0.3 3.2h0m0.3-5.3h0m0.2 0.9h0m0.3 1.5h0m0.3-1.9h0m0.3-1.9h0m0.3 0.6h0m0.3 1.5h0m0.3 0.3h0m0.3-0.8h0m0.3 1.7h0m0.3-0.2h0m0.3-1.2h0m0.2-0.5h0m0.3-0.6h0m0.3 1.2h0m0.3 0.5h0m0.3-1.5h0m0.3 0.5h0m0.3-1.3h0m0.3-1.9h0m0.3 0.6h0m0.3 2.7h0m0.2-0.6h0m0.3 1.7h0m0.3-2.6h0m0.3 1.2h0m0.3 0.6h0m0.3-0.6h0m0.3-2.7h0m0.3 0.6h0m0.3 0.4h0m0.3-1.9h0m0.3 2.3h0m0.2 0.7h0m0.3-2.5h0m0.3 3.9h0m0.3-3.8h0m0.3 0.1h0m0.3-0.2h0m0.3-0.8h0m0.3 1.7h0m0.3-0.8h0m0.3 2.6h0m0.3-1.8h0m0.2-0.2h0m0.3-1.4h0m0.3-2h0m0.3 2.1h0m0.3-1.4h0m0.3 2.8h0m0.3-1.6h0m0.3 2.6h0m0.3-1.6h0m0.3 0.1h0m0.2-1.1h0m0.3-0.1h0m0.3 0.6h0m0.3 0.3h0m0.3-2.7h0m0.3 1.8h0m0.3 3.3h0m0.3-4.4h0m0.3-0.3h0m0.3-0.8h0m0.3-1.3h0m0.2 4.1h0m0.3-1.9h0m0.3 0.3h0m0.3 2.4h0m0.3 0.9h0m0.3-5.5h0m0.3 3h0m0.3-0.8h0m0.3-0.4h0m0.3 0h0m0.2-0.9h0m0.3 2.5h0m0.3-1.6h0m0.3-0.5h0m0.3 1.3h0m0.3-0.6h0m0.3-0.8h0m0.3-0.3h0m0.3 2.2h0m0.3-2.1h0m0.3-1h0m0.2-1.4h0m0.3 0.8h0m0.3-1.2h0m0.3 1.7h0m0.3 0.2h0m0.3-3.8h0m0.3 3.2h0m0.3 0.9h0m0.3-0.8h0m0.3-1.9h0m0.2 3.5h0m0.3-3.2h0m0.3-1h0m0.3 0.2h0m0.3 1.6h0m0.3 1.5h0m0.3 0.2h0m0.3-1.6h0m0.3-2.3h0m0.3 0.8h0m0.3-0.5h0m0.2 1.1h0m0.3-2.7h0m0.3 3h0m0.3 0.7h0m0.3-1.3h0m0.3 0.9h0m0.3-2.3h0m0.3-0.9h0m0.3 1.2h0m0.3 2.8h0m0.3-0.3h0m0.2-2.5h0m0.3 2.6h0m0.3-2.5h0m0.3 2.8h0m0.3-1.7h0m0.3-1.5h0m0.3 1.9h0m0.3-2.6h0m0.3-0.4h0m0.3-0.9h0m0.2 2.7h0m0.3-0.6h0m0.3-0.1h0m0.3-0.6h0m0.3 2.9h0m0.3-3.1h0m0.3-0.5h0m0.3 3.1h0m0.3 0.2h0m0.3-1.8h0m0.3-3.4h0m0.2 1.7h0m0.3 1.9h0m0.3-1.1h0m0.3 2.4h0m0.3-4.7h0m0.3 3.2h0m0.3-2.2h0m0.3 3.1h0m0.3-2.3h0m0.3 1.7h0m0.2-2.8h0m0.3-1.3h0m0.3 0.4h0m0.3 0.8h0m0.3-0.8h0m0.3 3.5h0m0.3 0.2h0m0.3-1.8h0m0.3-2.2h0m0.3 1.4h0m0.3-1h0m0.2 3.4h0m0.3-1.9h0m0.3 0.2h0m0.3-1.5h0m0.3-2.6h0m0.3 1.9h0m0.3-0.6h0m0.3 2.3h0m0.3-0.5h0m0.3-1.5h0m0.2 0.6h0m0.3 3h0m0.3-4.1h0m0.3 0h0m0.3 1.1h0m0.3-0.9h0m0.3 0.4h0m0.3 1.5h0m0.3 1.8h0m0.3-5.7h0m0.3 2.8h0m0.2 0h0m0.3-0.2h0m0.3-0.3h0m0.3-0.3h0m0.3 2.1h0m0.3-2.4h0m0.3 0.5h0m0.3 0.1h0m0.3 0.1h0m0.3-0.5h0m0.3 1.8h0m0.2-1.6h0m0.3 0.2h0m0.3-0.4h0m0.3-1.6h0m0.3 0.2h0m0.3-0.4h0m0.3 1.9h0m0.3-1.5h0m0.3-0.6h0m0.3 2h0m0.2 0.4h0m0.3-3.7h0m0.3 5.4h0m0.3-2.7h0m0.3-0.3h0m0.3 1.9h0m0.3-1.7h0m0.3-1.1h0m0.3 4.4h0m0.3-5.3h0m0.3 1.5h0m0.2 1.5h0m0.3-3.2h0m0.3 1.5h0m0.3 0.7h0m0.3 3.2h0m0.3-5.3h0m0.3 1.3h0m0.3 1h0m0.3-0.9h0m0.3-2.1h0m0.2 2.5h0m0.3-0.6h0m0.3 0.5h0m0.3 1.1h0m0.3-0.3h0m0.3-1h0m0.3-0.2h0m0.3-2.3h0m0.3 1.5h0m0.3 0.5h0m0.3-1.1h0m0.2 0.8h0m0.3-1.6h0m0.3 3.8h0m0.3 0.9h0m0.3-4.1h0m0.3 1.2h0m0.3-1.1h0m0.3 2.3h0m0.3-1.3h0m0.3-0.7h0m0.2-0.5h0m0.3 0.5h0m0.3-1.8h0m0.3 2.6h0m0.3-2.3h0m0.3 2h0m0.3-0.7h0m0.3 1.4h0m0.3-1.8h0m0.3 1.6h0m0.3-3.1h0m0.2 2.4h0m0.3-1.4h0m0.3 0.6h0m0.3-0.2h0m0.3 1.3h0m0.3-4.8h0m0.3 3.7h0m0.3-3h0m0.3 4.3h0m0.3-5.1h0m0.3 1.5h0m0.2-1.1h0m0.3 5.2h0m0.3-4.7h0m0.3 2.2h0m0.3-1.1h0m0.3-2.1h0m0.3 2.3h0m0.3 1.5h0m0.3-1.4h0m0.3 1.8h0m0.2-2.1h0m0.3 0.5h0m0.3-0.7h0m0.3 1.1h0m0.3 2.5h0m0.3-2.5h0m0.3-0.3h0m0.3-1.4h0m0.3-0.2h0m0.3 3.5h0m0.3-4.2h0m0.2 0.3h0m0.3 1.2h0m0.3-0.6h0m0.3 3.8h0m0.3-6.9h0m0.3 4.3h0m0.3 0.5h0m0.3-3h0m0.3 0.7h0m0.3 1.7h0m0.2 1.9h0m0.3-4.2h0m0.3-1.1h0m0.3 4.1h0m0.3 0.8h0m0.3-3h0m0.3-3h0m0.3 5.8h0m0.3-2.7h0m0.3 2.1h0m0.3-2h0m0.2-0.5h0m0.3-0.2h0m0.3 3h0m0.3-0.1h0m0.3-5.7h0m0.3 1.9h0m0.3 4.3h0m0.3-3.5h0m0.3-1.6h0m0.3 2.1h0m0.2-0.2h0m0.3-0.1h0m0.3-0.6h0m0.3 0.2h0m0.3-0.3h0m0.3 1.3h0m0.3-1.9h0m0.3 0.8h0m0.3 0.2h0m0.3 2.3h0m0.3-1.6h0m0.2-0.8h0m0.3 1h0m0.3-0.2h0m0.3 1h0m0.3-1h0m0.3 2.1h0m0.3-0.8h0m0.3-2.3h0m0.3-0.6h0m0.3 2h0m0.3-0.6h0m0.2-1h0m0.3-2.3h0m0.3-0.6h0m0.3 3.5h0m0.3 0.6h0m0.3 0h0m0.3-3.3h0m0.3 3.6h0m0.3-2.5h0m0.3 1.4h0m0.2 0h0m0.3-2h0m0.3 0.3h0m0.3-2.4h0m0.3 1.8h0m0.3-1.4h0m0.3 3.5h0m0.3-0.6h0m0.3 1.3h0m0.3-0.9h0m0.3-1.6h0m0.2 1.5h0m0.3-1.2h0m0.3 1.5h0m0.3-0.5h0m0.3-2.1h0m0.3 1.6h0m0.3 0h0m0.3-0.6h0m0.3 1.9h0m0.3 1.3h0m0.2-3.4h0m0.3 0h0m0.3-3.1h0m0.3 3.4h0m0.3-0.6h0m0.3-2.8h0m0.3 3.9h0m0.3 0.5h0m0.3-2.2h0m0.3 0.6h0m0.3-1h0m0.2 2.7h0m0.3-3.7h0m0.3 1.9h0m0.3 3.6h0m0.3-3.1h0m0.3 0.7h0m0.3-1.1h0m0.3-1.6h0m0.3 1.8h0m0.3 0.6h0m0.2-2.3h0m0.3 2.2h0m0.3 1.4h0m0.3-0.3h0m0.3-4.3h0m0.3 0.9h0m0.3-1h0m0.3 4.2h0m0.3-0.7h0m0.3 0.1h0m0.3-2.6h0m0.2-0.5h0m0.3 2h0m0.3 0h0m0.3-1.6h0m0.3 1.6h0m0.3 0.8h0m0.3-0.7h0m0.3-2.1h0m0.3-1.8h0m0.3 3h0m0.3 0.6h0m0.2-0.7h0m0.3-0.3h0m0.3-0.4h0m0.3 2.2h0m0.3-1.3h0m0.3 0.3h0m0.3-1.8h0m0.3 0.5h0m0.3 1.2h0m0.3-1.9h0m0.2-0.4h0m0.3 1.5h0m0.3 2.4h0m0.3-1.7h0m0.3 2h0m0.3-2.5h0m0.3-0.4h0m0.3-1.7h0m0.3 1.3h0m0.3 3.1h0m0.3-1.8h0m0.2 0.7h0m0.3-0.1h0m0.3-1.2h0m0.3-0.3h0m0.3 0.5h0m0.3 0.8h0m0.3-0.4h0m0.3 0.1h0m0.3-0.6h0m0.3-1.5h0m0.2 0.8h0m0.3-1.1h0m0.3 3h0m0.3-4.9h0m0.3 2.9h0m0.3 4.2h0m0.3-4.4h0m0.3-1.3h0m0.3 1.7h0m0.3 2.1h0m0.3-2.3h0m0.2 1.2h0m0.3-0.9h0m0.3-0.8h0m0.3 5.6h0m0.3-4.9h0m0.3-1h0m0.3 0h0m0.3 1.4h0m0.3 0h0m0.3 0.6h0m0.2-1.1h0m0.3-2.5h0m0.3 3.1h0m0.3-1.4h0m0.3 0.1h0m0.3-2h0m0.3 1.4h0m0.3-0.2h0m0.3 1h0m0.3-2.2h0m0.3 2.3h0m0.2 0.1h0m0.3-2h0m0.3 0.8h0m0.3-0.4h0m0.3 2.8h0m0.3-5.5h0m0.3 3.4h0m0.3-2.1h0m0.3 1.9h0m0.3 2.1h0m0.3-2.4h0m0.2 1.2h0m0.3-1.6h0m0.3 4.4h0m0.3-1.7h0m0.3 0.4h0m0.3-4h0m0.3 0.3h0m0.3 3.5h0m0.3-2.1h0m0.3-0.1h0m0.2 0.9h0m0.3-2.5h0m0.3 3.2h0m0.3-1.2h0m0.3 0.7h0m0.3-1.9h0m0.3 1.9h0m0.3-2h0m0.3 2.6h0m0.3 0.3h0m0.3-0.4h0m0.2-0.6h0m0.3 0.1h0m0.3-5.3h0m0.3 5.6h0m0.3-1.8h0m0.3 0.6h0m0.3-0.7h0m0.3-1.7h0m0.3 1.3h0m0.3 1.9h0m0.2 1.2h0m0.3-3.3h0m0.3-0.5h0m0.3 3.8h0m0.3-3.8h0m0.3 4.7h0m0.3-3.2h0m0.3-1.6h0m0.3 3h0m0.3 1.1h0m0.3-5h0m0.2 4.8h0m0.3-3h0m0.3 2.8h0m0.3-3h0m0.3-1.9h0m0.3 3.3h0m0.3 0.6h0m0.3 1.9h0m0.3-0.7h0m0.3-1.6h0m0.2-1.5h0m0.3-0.5h0m0.3 0.3h0m0.3-0.8h0m0.3 0.8h0m0.3-3.6h0m0.3 4.3h0m0.3-0.3h0m0.3 4.1h0m0.3-2.9h0m0.3-2h0m0.2 1.6h0m0.3-2.9h0m0.3 1h0m0.3-2h0m0.3 5.2h0m0.3-1.3h0m0.3-2.9h0m0.3 1.8h0m0.3 1.6h0m0.3-0.8h0m0.3-0.2h0m0.2-2h0m0.3 0.4h0m0.3 1.1h0m0.3 1.3h0m0.3-2.8h0m0.3-0.5h0m0.3 3.6h0m0.3-3.3h0m0.3 3.2h0m0.3-1.4h0m0.2 1h0m0.3 1.4h0m0.3-1.7h0m0.3 0.1h0m0.3-2.7h0m0.3 0.3h0m0.3 2.1h0m0.3 1.4h0m0.3-0.2h0m0.3 1.4h0m0.3-3.2h0m0.2-0.2h0m0.3 1.3h0m0.3-1.6h0m0.3-0.2h0m0.3-1.6h0m0.3 3.3h0m0.3-3.3h0m0.3 2.5h0m0.3-3.1h0m0.3 4h0m0.2-3.4h0m0.3 2.9h0m0.3-3.9h0m0.3 1.8h0m0.3 2.6h0m0.3-3.2h0m0.3 1.4h0m0.3-0.9h0m0.3-2.9h0m0.3 4.1h0m0.3 0.2h0m0.2-2.5h0m0.3 2.7h0m0.3-2.2h0m0.3-0.3h0m0.3 1.6h0m0.3-1.2h0m0.3 4.8h0m0.3-6.2h0m0.3 3.7h0m0.3 0.3h0m0.2-4.7h0m0.3 0.3h0m0.3 3.7h0m0.3-1.7h0m0.3 1.4h0m0.3 1.2h0m0.3-2.5h0m0.3-1.1h0m0.3-2.7h0m0.3 4.7h0m0.3-1.8h0m0.2 2h0m0.3-0.2h0m0.3-2.6h0m0.3 5h0m0.3-1.1h0m0.3-0.4h0m0.3-3.2h0m0.3 1.2h0m0.3-0.3h0m0.3 0.2h0m0.3-1.1h0m0.2 2.5h0m0.3-0.4h0m0.3 0.2h0m0.3-1.4h0m0.3 2.9h0m0.3-1.8h0m0.3-4.7h0m0.3 3.3h0m0.3 1h0m0.3 1.6h0m0.2-2.1h0m0.3 0.1h0m0.3-0.7h0m0.3 2.1h0m0.3-1.8h0m0.3-0.2h0m0.3-0.3h0m0.3 2.1h0m0.3-1.8h0m0.3-1.8h0m0.3 3.7h0m0.2-2.2h0m0.3 1.7h0m0.3 0h0m0.3 1.3h0m0.3-0.2h0m0.3-2.6h0m0.3 0.6h0m0.3-1.8h0m0.3 4.7h0m0.3-2h0m0.2 1.5h0m0.3-2.7h0m0.3-2.8h0m0.3 5.7h0m0.3-2.3h0m0.3 0.1h0m0.3-0.2h0m0.3 0.9h0m0.3-0.2h0m0.3-3.4h0m0.3 4.3h0m0.2-2.6h0m0.3 0.1h0m0.3 3.5h0m0.3-1.3h0m0.3-2h0m0.3-2.5h0m0.3 3.2h0m0.3 0.6h0m0.3-1h0m0.3-1.9h0m0.2 0.8h0m0.3-0.8h0m0.3 2.3h0m0.3 1h0m0.3 0.3h0m0.3-2.8h0m0.3 1.5h0m0.3 0.5h0m0.3-1.7h0m0.3 0.6h0m0.3 3.6h0m0.2-3.1h0m0.3 1.1h0m0.3-2.2h0m0.3 0.8h0m0.3-2.8h0m0.3 2.7h0m0.3 1.9h0m0.3 1.4h0m0.3-1.4h0m0.3-0.8h0m0.3-1.1h0m0.2-1h0m0.3 0.7h0m0.3 1.2h0m0.3-2.3h0m0.3 2.8h0m0.3-3.1h0m0.3-1.3h0m0.3 1.2h0m0.3-1h0m0.3 0.4h0m0.2 4h0m0.3-2.1h0m0.3 0.6h0m0.3 1.5h0m0.3 0.2h0m0.3-2.9h0m0.3 3h0m0.3-1.6h0m0.3-0.6h0m0.3 0.7h0m0.3-3h0m0.2 1h0m0.3 1.1h0m0.3 1.1h0m0.3-1.6h0m0.3 0.4h0m0.3 1.8h0m0.3 0.7h0m0.3-1.1h0m0.3 0.8h0m0.3-2.7h0m0.2 0.2h0m0.3 1h0m0.3-1h0m0.3-0.4h0m0.3 3.5h0m0.3-3h0m0.3-1.3h0m0.3 2.4h0m0.3 2.1h0m0.3-2.8h0m0.3 1.8h0m0.2-2.7h0m0.3-0.1h0m0.3-0.3h0m0.3 0.9h0m0.3 3.1h0m0.3-4.8h0m0.3 4.5h0m0.3-4.3h0m0.3 1.3h0m0.3 1.7h0m0.2-0.4h0m0.3-0.5h0m0.3-3.1h0m0.3 3.2h0m0.3-2.3h0m0.3 5.8h0m0.3-4.5h0m0.3 0.7h0m0.3-2.2h0m0.3 1.1h0m0.3-1.3h0m0.2 3.6h0m0.3-2h0m0.3 1.3h0m0.3-2h0m0.3 0.3h0m0.3 2.8h0m0.3-3.6h0m0.3-1.3h0m0.3 3.5h0m0.3-2.5h0m0.3 1.1h0m0.2 2.2h0m0.3-2.8h0m0.3 2.7h0m0.3-2.5h0m0.3 3.4h0m0.3-0.2h0m0.3-2.9h0m0.3 0.4h0m0.3-1h0m0.3 1.6h0m0.2 1.5h0m0.3-4.1h0m0.3 3.7h0m0.3-3.5h0m0.3 0.7h0m0.3-1.5h0m0.3 6.2h0m0.3-3.3h0m0.3 0.3h0m0.3-1.5h0m0.3 2.8h0m0.2-5.1h0m0.3 3.4h0m0.3 3.5h0m0.3-4.1h0m0.3 0.6h0m0.3 1h0m0.3-2.4h0m0.3 1.4h0m0.3 1.5h0m0.3-1.3h0m0.2 0.3h0m0.3-1.2h0m0.3 1.1h0m0.3-0.4h0m0.3 2.2h0m0.3-1.2h0m0.3-1.5h0m0.3-3.6h0m0.3 5.1h0m0.3 0h0m0.3-2.7h0m0.2-1.7h0m0.3 1.4h0m0.3 3.3h0m0.3-3.2h0m0.3 0.9h0m0.3 1.1h0m0.3 1.6h0m0.3-2h0m0.3-0.1h0m0.3-0.8h0m0.2 3.5h0m0.3-0.9h0m0.3-1.9h0m0.3-2h0m0.3 0.9h0m0.3 2.2h0m0.3-2.1h0m0.3 2.6h0m0.3-0.9h0m0.3-0.1h0m0.3 0.6h0m0.2-0.3h0m0.3-2.2h0m0.3 0.9h0m0.3 4.2h0m0.3-5.6h0m0.3 1.1h0m0.3 2.5h0m0.3-2h0m0.3-1h0m0.3-0.9h0m0.3 3h0m0.2 0.8h0m0.3 0.6h0m0.3-2.2h0m0.3 1.6h0m0.3-3.4h0m0.3 2h0m0.3-1.4h0m0.3 1.4h0m0.3 0.9h0m0.3 0.5h0m0.2-3.3h0m0.3 3.6h0m0.3-2.8h0m0.3-0.9h0m0.3 1.4h0m0.3-2.1h0m0.3 2.3h0m0.3 0.5h0m0.3-0.8h0m0.3 1.1h0m0.3-1.3h0m0.2 0.5h0m0.3-2.3h0m0.3 2.3h0m0.3-1.4h0m0.3 0.6h0m0.3 0.6h0m0.3 0.4h0m0.3-2.9h0m0.3 0.1h0m0.3 2h0m0.2 1.3h0m0.3-0.2h0m0.3 0.8h0m0.3 0.7h0m0.3-1.3h0m0.3-0.9h0m0.3-1.6h0m0.3 0.1h0m0.3 0.8h0m0.3 1.2h0m0.3-0.1h0m0.2-0.4h0m0.3-0.2h0m0.3 1.2h0m0.3-0.7h0m0.3 0.2h0m0.3 0h0m0.3-1.4h0m0.3-0.8h0m0.3 2.5h0m0.3-0.2h0m0.2-1h0m0.3-0.3h0m0.3 4.3h0m0.3-4.9h0m0.3 0.9h0m0.3 0.7h0m0.3-2.2h0m0.3 2h0m0.3 2.7h0m0.3-1.4h0m0.3-0.5h0m0.2-0.1h0m0.3-0.7h0m0.3 1.3h0m0.3-1.8h0m0.3-0.4h0m0.3 0.8h0m0.3 1.3h0m0.3-0.9h0m0.3 0.5h0m0.3-4.3h0m0.3 5.1h0m0.2 1.9h0m0.3-1.7h0m0.3-2.6h0m0.3-0.9h0m0.3 1.8h0m0.3-2h0m0.3 2.7h0m0.3-2h0m0.3 2.4h0m0.3 0.6h0m0.2-5.4h0m0.3 3.7h0m0.3-1.6h0m0.3-1.1h0m0.3 1.2h0m0.3 0.7h0m0.3 2h0m0.3-4.1h0m0.3 4.1h0m0.3 1.5h0m0.3-2.3h0m0.2 0h0m0.3-0.9h0m0.3-1.9h0m0.3 2.7h0m0.3-0.2h0m0.3 0.5h0m0.3 3h0m0.3-3h0m0.3-0.5h0m0.3 1.8h0m0.2-4.6h0m0.3 0.3h0m0.3 1.2h0m0.3-0.4h0m0.3 2.1h0m0.3-1.6h0m0.3 3.3h0m0.3-0.4h0m0.3-1.2h0m0.3-1.8h0m0.3 1.5h0m0.2 0.4h0m0.3-3.1h0m0.3 2.3h0m0.3 0.6h0m0.3-0.8h0m0.3 2.1h0m0.3-0.5h0m0.3-3.3h0m0.3 1.5h0m0.3-1.5h0m0.2 2.2h0m0.3-2.3h0m0.3 2.9h0m0.3-0.9h0m0.3 0.9h0m0.3-1.8h0m0.3-2.1h0m0.3 5.2h0m0.3-3.1h0m0.3 2.5h0m0.3-1.6h0m0.2 0.4h0m0.3 1.9h0m0.3-2.4h0m0.3 1.7h0m0.3-4.7h0m0.3 3.8h0m0.3-1.8h0m0.3 0.2h0m0.3 0.2h0m0.3 0.6h0m0.3 2h0m0.2-5.6h0m0.3 3.1h0m0.3-1.3h0m0.3 3h0m0.3-2.5h0m0.3 1.4h0m0.3-1.4h0m0.3 1.7h0m0.3 0.6h0m0.3-2.3h0m0.2 0.7h0m0.3-2.3h0m0.3 2.7h0m0.3 0.9h0m0.3-2.3h0m0.3 2.7h0m0.3-5.1h0m0.3 0.3h0m0.3 0.8h0m0.3 1.4h0m0.3 0.8h0m0.2-0.1h0m0.3 0h0m0.3 1.2h0m0.3-1.9h0m0.3-1.3h0m0.3 0.1h0m0.3 5.3h0m0.3-7.1h0m0.3 3.5h0m0.3 2.6h0m0.2-1.6h0m0.3-2.1h0m0.3 1.3h0m0.3 1.4h0m0.3 0.6h0m0.3-3.4h0m0.3 2.6h0m0.3-0.8h0m0.3 1.4h0m0.3 0.4h0m0.3-2.8h0m0.2-1.7h0m0.3 2.9h0m0.3 2.2h0m0.3-1.7h0m0.3-0.8h0m0.3 3.5h0m0.3-5.5h0m0.3 3.1h0m0.3-2.4h0m0.3 1h0m0.2 0.1h0m0.3 2.3h0m0.3-4h0m0.3 0.7h0m0.3-1.7h0m0.3 3.3h0m0.3-1.5h0m0.3 1.4h0m0.3-2.4h0m0.3 1.1h0m0.3 2.3h0m0.2-2h0m0.3 1.3h0m0.3-0.2h0m0.3-1.4h0m0.3-1.9h0m0.3 4.1h0m0.3-1.4h0m0.3 1.3h0m0.3-4.8h0m0.3 0.6h0m0.3-0.8h0m0.2 2.1h0m0.3 3h0m0.3-0.7h0m0.3-1h0m0.3 0.2h0m0.3 1.1h0m0.3-1.8h0m0.3 1.2h0m0.3-0.5h0m0.3-3.7h0m0.2 2.9h0m0.3 2.8h0m0.3-2.8h0m0.3 0.4h0m0.3-0.8h0m0.3 0.2h0m0.3 2.6h0m0.3-2.2h0m0.3-1.3h0m0.3-3.3h0m0.3 4.1h0m0.2-2.3h0m0.3 0.3h0m0.3 4.1h0m0.3-0.1h0m0.3-4.2h0m0.3 4.4h0m0.3-0.6h0m0.3-2h0m0.3 2.4h0m0.3-3.8h0m0.2 0.7h0m0.3-0.4h0m0.3 0.5h0m0.3 3.2h0m0.3-3.5h0m0.3 0.3h0m0.3 0.3h0m0.3 1.8h0m0.3-0.8h0m0.3 1.9h0m0.3-2.5h0m0.2-1h0m0.3 1.3h0m0.3 0.8h0m0.3-1.5h0m0.3 1.9h0m0.3 2.5h0m0.3-3.9h0m0.3 1h0m0.3 2.1h0m0.3-3.2h0m0.2-0.3h0m0.3-0.4h0m0.3 2.4h0m0.3 0.2h0m0.3-1.1h0m0.3 0.3h0m0.3 2h0m0.3-0.7h0m0.3-3.6h0m0.3 2.2h0m0.3 0.2h0m0.2 0.9h0m0.3-1.5h0m0.3-0.7h0m0.3 0.3h0m0.3-2.1h0m0.3 2.8h0m0.3-0.9h0m0.3 1.7h0m0.3-2.4h0m0.3 0.9h0m0.3-0.8h0m0.2-0.2h0m0.3 2.9h0m0.3-1.9h0m0.3 1.4h0m0.3-2.5h0m0.3 2h0m0.3-2.9h0m0.3 1.9h0m0.3 0h0m0.3 1.7h0m0.2-0.6h0m0.3-0.6h0m0.3 1.6h0m0.3-1h0m0.3 0.5h0m0.3 0.4h0m0.3-1.3h0m0.3-0.4h0m0.3 1h0m0.3-1.2h0m0.3 1.3h0m0.2 1.1h0m0.3-0.4h0m0.3-2h0m0.3-1.4h0m0.3 2h0m0.3-0.2h0m0.3 2h0m0.3-2.4h0m0.3 0.3h0m0.3 1.5h0m0.2-1.9h0m0.3 0.5h0m0.3 3h0m0.3-0.4h0m0.3-1.4h0m0.3-0.6h0m0.3-1.9h0m0.3 2.4h0m0.3-0.8h0m0.3 0.2h0m0.3-1.1h0m0.2 0.8h0m0.3-0.3h0m0.3 0.8h0m0.3 1.8h0m0.3-1.7h0m0.3-3.3h0m0.3 1.1h0m0.3-1h0m0.3 1.3h0m0.3 2.2h0m0.2-0.3h0m0.3-1.6h0m0.3 1.4h0m0.3-1.7h0m0.3-1h0m0.3 0h0m0.3 0.9h0m0.3 3.6h0m0.3-4.4h0m0.3 4.1h0m0.3 0.2h0m0.2-2.5h0m0.3 0.2h0m0.3-0.9h0m0.3 1h0m0.3 1.1h0m0.3-1.1h0m0.3 1.6h0m0.3 0.3h0m0.3-1.3h0m0.3-0.1h0m0.3-0.6h0m0.2 0.6h0m0.3-2.3h0m0.3 2.4h0m0.3-0.3h0m0.3-1.7h0m0.3 4.8h0m0.3-5h0m0.3 0.2h0m0.3 1.8h0m0.3-3.5h0m0.2 1.8h0m0.3-1.2h0m0.3 0.9h0m0.3 1.3h0m0.3 0.8h0m0.3 1.2h0m0.3-0.5h0m0.3 0.6h0m0.3-0.9h0m0.3-1.7h0m0.3 2.5h0m0.2-2.5h0m0.3-0.2h0m0.3 3.4h0m0.3-1.2h0m0.3-0.9h0m0.3 0.8h0m0.3 0.2h0m0.3-3.6h0m0.3 2.1h0m0.3-1.8h0m0.2 2.1h0m0.3-1.3h0m0.3 3.3h0m0.3-1.4h0m0.3-2.1h0m0.3 1.3h0m0.3-1.9h0m0.3 2h0m0.3 0.8h0m0.3-0.5h0m0.3-3.5h0m0.2 2.6h0m0.3 1.3h0m0.3-0.3h0m0.3 1.3h0m0.3-3.9h0m0.3 2.9h0m0.3-1.9h0m0.3 1.4h0m0.3 0.3h0m0.3 0.5h0m0.2-2.1h0m0.3 1.3h0m0.3-2.2h0m0.3-0.4h0m0.3 3.1h0m0.3-0.9h0m0.3-2.5h0m0.3 1.2h0m0.3 1.4h0m0.3 2.4h0m0.3-0.8h0m0.2-0.4h0m0.3-4.1h0m0.3 2.7h0m0.3 0.9h0m0.3-0.1h0m0.3 0h0m0.3-1h0m0.3 3.1h0m0.3-0.4h0m0.3-2.5h0m0.3-1.4h0m0.2 4.8h0m0.3-4.2h0m0.3 2.8h0m0.3 1.2h0m0.3-4.6h0m0.3 2h0m0.3-1.1h0m0.3 1.4h0m0.3-0.3h0m0.3 2.6h0m0.2-2.2h0m0.3-0.9h0m0.3 1.8h0m0.3-2.2h0m0.3-0.2h0m0.3 4.2h0m0.3-4.9h0m0.3 0.5h0m0.3 0.9h0m0.3-1.8h0m0.3-1.7h0m0.2 5.1h0m0.3-3h0m0.3 0.4h0m0.3 0.3h0m0.3-1h0m0.3-0.2h0m0.3 2h0m0.3 3.6h0m0.3-2.7h0m0.3 0.1h0m0.2-3.7h0m0.3 2.4h0m0.3-1.8h0m0.3 3.1h0m0.3-1.6h0m0.3 0.4h0m0.3-0.2h0m0.3-0.8h0m0.3-1.5h0m0.3 3.4h0m0.3-3.2h0m0.2 0.3h0m0.3 1.5h0m0.3-0.7h0m0.3 1.5h0m0.3 1.2h0m0.3-1.2h0m0.3-0.1h0m0.3-0.2h0m0.3 1.3h0m0.3-4.3h0m0.2 3.5h0m0.3-2.1h0m0.3-0.5h0m0.3 2h0m0.3-0.6h0m0.3 1.5h0m0.3 0.9h0m0.3-5.5h0m0.3 3.6h0m0.3 3.2h0m0.3-1.7h0m0.2 0.9h0m0.3-2.1h0m0.3-2.5h0m0.3 0.5h0m0.3 2.9h0m0.3 0.4h0m0.3-2.7h0m0.3 0.8h0m0.3 0.8h0m0.3-3.2h0m0.3 2.2h0m0.2 3.2h0m0.3 0.9h0m0.3-3.7h0m0.3 3.1h0m0.3-3.8h0m0.3-0.4h0m0.3-2.3h0m0.3 5.1h0m0.3-2.1h0m0.3 4.3h0m0.2-3.2h0m0.3-0.2h0m0.3-3.2h0m0.3 5.3h0m0.3-3h0m0.3 0.3h0m0.3-3.3h0m0.3 5h0m0.3 0.1h0m0.3-2.5h0m0.3 1.1h0m0.2 0.5h0m0.3 0.9h0m0.3-1.4h0m0.3 2.6h0m0.3-3.1h0m0.3-0.6h0m0.3 0.2h0m0.3-3.3h0m0.3 2.8h0m0.3 2.9h0m0.2-1.2h0m0.3-1.8h0m0.3 1.9h0m0.3-3.8h0m0.3 2.8h0m0.3 1.3h0m0.3 0.2h0m0.3-2.3h0m0.3 2.7h0m0.3 1.5h0m0.3-3.7h0m0.2 1.9h0m0.3-3.7h0m0.3-0.6h0m0.3 4.1h0m0.3-0.9h0m0.3 0.2h0m0.3-1.2h0m0.3 0.4h0m0.3 1.8h0m0.3 1.5h0m0.2-3.1h0m0.3-2.3h0m0.3 4.7h0m0.3-1.1h0m0.3 0.1h0m0.3-0.8h0m0.3 3.4h0m0.3-3.6h0m0.3 0.7h0m0.3-3.8h0m0.3 2.1h0m0.2-0.2h0m0.3 1.1h0m0.3 0.6h0m0.3-1.8h0m0.3 4h0m0.3-4.5h0m0.3 1h0m0.3 1.1h0m0.3-2.4h0m0.3 2.9h0m0.3 0.1h0m0.2-1.5h0m0.3 3.5h0m0.3-2.9h0m0.3 0.3h0m0.3-2h0m0.3-1.1h0m0.3 1.7h0m0.3 0.5h0m0.3-0.3h0m0.3 2h0m0.2-5h0m0.3 2h0m0.3-1.2h0m0.3 5.1h0m0.3-3h0m0.3 0h0" fill="none" stroke="#dc291b" stroke-width="4.8" stroke-linecap="round"/>
<polyline points="931.3,1048.7 931.3,1048.7 931.3,1048.6 931.3,1048.5 931.3,1048.3 931.4,1048.1 931.4,1047.9 931.4,1047.6 931.5,1047.3 931.5,1046.9 931.6,1046.5 931.6,1046.0 931.7,1045.5 931.7,1045.0 931.8,1044.4 931.9,1043.8 932.0,1043.1 932.0,1042.4 932.1,1041.6 932.2,1040.8 932.3,1040.0 932.4,1039.1 932.5,1038.2 932.6,1037.3 932.8,1036.3 932.9,1035.3 933.0,1034.2 933.2,1033.1 933.3,1032.0 933.4,1030.8 933.6,1029.6 933.8,1028.4 933.9,1027.1 934.1,1025.8 934.3,1024.4 934.4,1023.1 934.6,1021.7 934.8,1020.2 935.0,1018.8 935.2,1017.3 935.4,1015.8 935.6,1014.2 935.8,1012.6 936.0,1011.0 936.2,1009.4 936.5,1007.8 936.7,1006.1 936.9,1004.4 937.2,1002.6 937.4,1000.9 937.7,999.1 937.9,997.3 938.2,995.5 938.5,993.7 938.7,991.9 939.0,990.0 939.3,988.1 939.6,986.2 939.9,984.3 940.2,982.4 940.5,980.4 940.8,978.5 941.1,976.5 941.4,974.5 941.8,972.5 942.1,970.5 942.4,968.5 942.8,966.4 943.1,964.4 943.5,962.3 943.8,960.3 944.2,958.2 944.5,956.2 944.9,954.1 945.3,952.0 945.7,949.9 946.1,947.8 946.5,945.7 946.8,943.6 947.2,941.5 947.7,939.4 948.1,937.3 948.5,935.2 948.9,933.0 949.3,930.9 949.8,928.8 950.2,926.7 950.6,924.6 951.1,922.5 951.5,920.3 952.0,918.2 952.5,916.1 952.9,914.0 953.4,911.9 953.9,909.8 954.4,907.7 954.9,905.6 955.3,903.5 955.8,901.4 956.3,899.3 956.9,897.2 957.4,895.1 957.9,893.1 958.4,891.0 958.9,888.9 959.5,886.9 960.0,884.8 960.6,882.8 961.1,880.7 961.7,878.7 962.2,876.7 962.8,874.7 963.4,872.7 963.9,870.6 964.5,868.6 965.1,866.7 965.7,864.7 966.3,862.7 966.9,860.7 967.5,858.8 968.1,856.8 968.7,854.8 969.3,852.9 970.0,851.0 970.6,849.1 971.2,847.1 971.9,845.2 972.5,843.3 973.2,841.4 973.8,839.5 974.5,837.7 975.2,835.8 975.8,833.9 976.5,832.1 977.2,830.2 977.9,828.4 978.6,826.6 979.3,824.8 980.0,823.0 980.7,821.2 981.4,819.4 982.1,817.6 982.8,815.8 983.6,814.0 984.3,812.3 985.0,810.5 985.8,808.8 986.5,807.0 987.3,805.3 988.0,803.6 988.8,801.9 989.6,800.2 990.4,798.5 991.1,796.8 991.9,795.1 992.7,793.5 993.5,791.8 994.3,790.1 995.1,788.5 995.9,786.9 996.7,785.2 997.6,783.6 998.4,782.0 999.2,780.4 1000.0,778.8 1000.9,777.2 1001.7,775.7 1002.6,774.1 1003.4,772.5 1004.3,771.0 1005.2,769.4 1006.0,767.9 1006.9,766.4 1007.8,764.9 1008.7,763.3 1009.6,761.8 1010.5,760.4 1011.4,758.9 1012.3,757.4 1013.2,755.9 1014.1,754.5 1015.0,753.0 1016.0,751.6 1016.9,750.1 1017.8,748.7 1018.8,747.3 1019.7,745.9 1020.7,744.5 1021.6,743.1 1022.6,741.7 1023.6,740.3 1024.5,739.0 1025.5,737.6 1026.5,736.2 1027.5,734.9 1028.5,733.6 1029.5,732.2 1030.5,730.9 1031.5,729.6 1032.5,728.3 1033.5,727.0 1034.6,725.7 1035.6,724.5 1036.6,723.2 1037.7,721.9 1038.7,720.7 1039.8,719.5 1040.8,718.2 1041.9,717.0 1043.0,715.8 1044.0,714.6 1045.1,713.4 1046.2,712.2 1047.3,711.0 1048.4,709.8 1049.5,708.7 1050.6,707.5 1051.7,706.4 1052.8,705.2 1053.9,704.1 1055.0,703.0 1056.1,701.9 1057.3,700.8 1058.4,699.7 1059.6,698.6 1060.7,697.5 1061.9,696.5 1063.0,695.4 1064.2,694.4 1065.3,693.3 1066.5,692.3 1067.7,691.3 1068.9,690.2 1070.1,689.2 1071.3,688.2 1072.5,687.2 1073.7,686.3 1074.9,685.3 1076.1,684.3 1077.3,683.4 1078.5,682.4 1079.8,681.5 1081.0,680.6 1082.2,679.6 1083.5,678.7 1084.7,677.8 1086.0,676.9 1087.2,676.0 1088.5,675.1 1089.8,674.3 1091.1,673.4 1092.3,672.6 1093.6,671.7 1094.9,670.9 1096.2,670.0 1097.5,669.2 1098.8,668.4 1100.1,667.6 1101.4,666.8 1102.8,666.0 1104.1,665.2 1105.4,664.5 1106.8,663.7 1108.1,662.9 1109.5,662.2 1110.8,661.5 1112.2,660.7 1113.5,660.0 1114.9,659.3 1116.3,658.6 1117.6,657.9 1119.0,657.2 1120.4,656.5 1121.8,655.8 1123.2,655.1 1124.6,654.5 1126.0,653.8 1127.4,653.2 1128.9,652.5 1130.3,651.9 1131.7,651.3 1133.1,650.6 1134.6,650.0 1136.0,649.4 1137.5,648.8 1138.9,648.2 1140.4,647.6 1141.9,647.1 1143.3,646.5 1144.8,645.9 1146.3,645.4 1147.8,644.8 1149.3,644.3 1150.7,643.8 1152.2,643.2 1153.8,642.7 1155.3,642.2 1156.8,641.7 1158.3,641.2 1159.8,640.7 1161.4,640.2 1162.9,639.7 1164.4,639.2 1166.0,638.8 1167.5,638.3 1169.1,637.8 1170.7,637.4 1172.2,636.9 1173.8,636.5 1175.4,636.1 1176.9,635.6 1178.5,635.2 1180.1,634.8 1181.7,634.4 1183.3,634.0 1184.9,633.6 1186.6,633.2 1188.2,632.8 1189.8,632.4 1191.4,632.0 1193.1,631.6 1194.7,631.3 1196.3,630.9 1198.0,630.6 1199.6,630.2 1201.3,629.9 1203.0,629.5 1204.6,629.2 1206.3,628.8 1208.0,628.5 1209.7,628.2 1211.4,627.9 1213.1,627.6 1214.8,627.3 1216.5,627.0 1218.2,626.7 1219.9,626.4 1221.6,626.1 1223.3,625.8 1225.1,625.5 1226.8,625.2 1228.5,624.9 1230.3,624.7 1232.0,624.4 1233.8,624.2 1235.6,623.9 1237.3,623.6 1239.1,623.4 1240.9,623.2 1242.6,622.9 1244.4,622.7 1246.2,622.4 1248.0,622.2 1249.8,622.0 1251.6,621.8 1253.4,621.6 1255.3,621.3 1257.1,621.1 1258.9,620.9 1260.7,620.7 1262.6,620.5 1264.4,620.3 1266.3,620.1 1268.1,619.9 1270.0,619.7 1271.8,619.6 1273.7,619.4 1275.6,619.2 1277.5,619.0 1279.4,618.9 1281.2,618.7 1283.1,618.5 1285.0,618.4 1286.9,618.2 1288.9,618.0 1290.8,617.9 1292.7,617.7 1294.6,617.6 1296.5,617.4 1298.5,617.3 1300.4,617.1 1302.4,617.0 1304.3,616.9 1306.3,616.7 1308.2,616.6 1310.2,616.5 1312.2,616.3 1314.1,616.2 1316.1,616.1 1318.1,616.0 1320.1,615.9 1322.1,615.7 1324.1,615.6 1326.1,615.5 1328.1,615.4 1330.1,615.3 1332.2,615.2 1334.2,615.1 1336.2,615.0 1338.3,614.9 1340.3,614.8 1342.3,614.7 1344.4,614.6 1346.5,614.5 1348.5,614.4 1350.6,614.3 1352.7,614.3 1354.7,614.2 1356.8,614.1 1358.9,614.0 1361.0,613.9 1363.1,613.8 1365.2,613.8 1367.3,613.7 1369.4,613.6 1371.5,613.5 1373.7,613.5 1375.8,613.4 1377.9,613.3 1380.1,613.3 1382.2,613.2 1384.4,613.1 1386.5,613.1 1388.7,613.0 1390.8,613.0 1393.0,612.9 1395.2,612.8 1397.4,612.8 1399.6,612.7 1401.7,612.7 1403.9,612.6 1406.1,612.6 1408.3,612.5 1410.6,612.5 1412.8,612.4 1415.0,612.4 1417.2,612.3 1419.5,612.3 1421.7,612.2 1423.9,612.2 1426.2,612.1 1428.4,612.1 1430.7,612.1 1433.0,612.0 1435.2,612.0 1437.5,611.9 1439.8,611.9 1442.1,611.9 1444.3,611.8 1446.6,611.8 1448.9,611.8 1451.2,611.7 1453.5,611.7 1455.9,611.7 1458.2,611.6 1460.5,611.6 1462.8,611.6 1465.2,611.5 1467.5,611.5 1469.8,611.5 1472.2,611.4 1474.5,611.4 1476.9,611.4 1479.3,611.4 1481.6,611.3 1484.0,611.3 1486.4,611.3 1488.8,611.3 1491.2,611.2 1493.6,611.2 1496.0,611.2 1498.4,611.2 1500.8,611.2 1503.2,611.1 1505.6,611.1 1508.0,611.1 1510.5,611.1 1512.9,611.1 1515.4,611.0 1517.8,611.0 1520.3,611.0 1522.7,611.0 1525.2,611.0 1527.6,611.0 1530.1,610.9 1532.6,610.9 1535.1,610.9 1537.6,610.9 1540.0,610.9 1542.5,610.9 1545.0,610.9 1547.6,610.8 1550.1,610.8 1552.6,610.8 1555.1,610.8 1557.6,610.8 1560.2,610.8 1562.7,610.8 1565.3,610.8 1567.8,610.8" fill="none" stroke="#000" stroke-width="2.9" stroke-linejoin="round"/></g>
<rect x="928.9" y="579.6" width="638.9" height="514.9" fill="none" stroke="#000" stroke-width="1.8"/>
<path d="M1008.8 1094.5v-12M1008.8 579.6v12M1088.6 1094.5v-12M1088.6 579.6v12M1168.5 1094.5v-12M1168.5 579.6v12M1248.3 1094.5v-12M1248.3 579.6v12M1328.2 1094.5v-12M1328.2 579.6v12M1408.1 1094.5v-12M1408.1 579.6v12M1487.9 1094.5v-12M1487.9 579.6v12M928.9 1026.4h12M1567.8 1026.4h-12M928.9 929.4h12M1567.8 929.4h-12M928.9 832.4h12M1567.8 832.4h-12M928.9 735.3h12M1567.8 735.3h-12M928.9 638.3h12M1567.8 638.3h-12" stroke="#000" stroke-width="1.8" fill="none"/>
<g font-size="28.8" text-anchor="middle"><text x="928.1" y="1127.0">0</text><text x="1008.0" y="1127.0">5</text><text x="1087.8" y="1127.0">10</text><text x="1167.7" y="1127.0">15</text><text x="1247.5" y="1127.0">20</text><text x="1327.4" y="1127.0">25</text><text x="1407.3" y="1127.0">30</text><text x="1487.1" y="1127.0">35</text><text x="1567.0" y="1127.0">40</text></g><g font-size="28.8" text-anchor="end"><text x="918.7" y="1035.0">0.4</text><text x="918.7" y="938.0">0.5</text><text x="918.7" y="841.0">0.6</text><text x="918.7" y="743.9">0.7</text><text x="918.7" y="646.9">0.8</text></g>
<text x="1248.5" y="562.3" font-size="29" text-anchor="middle">SpCas9 off-target</text>
<text x="1247.7" y="1166.2" font-size="29" text-anchor="middle">Time (s)</text>
<text transform="translate(856.2 837.0) rotate(-90)" font-size="29" text-anchor="middle">Fluorescence</text>
<text x="816.2" y="557.5" font-size="41.5" font-weight="bold">b</text>
<text x="1318.1" y="868.2" font-size="24" word-spacing="1.7"><tspan font-style="italic">k</tspan><tspan font-size="16.5" dx="-1.2" dy="8.2">fast</tspan><tspan dy="-8.2">: 0.85 s</tspan><tspan font-size="15.5" dy="-11.2">−1</tspan><tspan dy="11.2"> (23%)</tspan></text>
<text x="1318.1" y="901.4" font-size="24" word-spacing="1.7"><tspan font-style="italic">k</tspan><tspan font-size="16.5" dx="-1.2" dy="8.2">slow</tspan><tspan dy="-8.2">: 0.17 s</tspan><tspan font-size="15.5" dy="-11.2">−1</tspan><tspan dy="11.2"> (77%)</tspan></text>
<g clip-path="url(#cpc)"><path d="M111 1752.5h0m0.3-0.2h0m0.2-8.1h0m0.3-3.3h0m0.3-10.2h0m0.2 2.9h0m0.3-6.5h0m0.3-4.2h0m0.2-3h0m0.3-7.9h0m0.3-4.4h0m0.2-2.2h0m0.3-5.1h0m0.3-5.8h0m0.2-3.6h0m0.3-5.5h0m0.3-1.2h0m0.2-3.5h0m0.3-6.2h0m0.3 0.5h0m0.2-12.1h0m0.3-0.8h0m0.3 0.9h0m0.2-8.9h0m0.3-6.5h0m0.3 3.5h0m0.2-5.7h0m0.3-7.8h0m0.3 1.2h0m0.2-7.8h0m0.3-4.2h0m0.3-0.5h0m0.2-4.2h0m0.3-4.8h0m0.3-1.5h0m0.2-4.8h0m0.3-0.7h0m0.3-3.3h0m0.2-1.3h0m0.3-6h0m0.3-5.1h0m0.2-3h0m0.3-0.4h0m0.3 1.3h0m0.2-4.5h0m0.3-6.5h0m0.3 1h0m0.2-7.8h0m0.3 2.4h0m0.3-6.1h0m0.2 0.1h0m0.3-3h0m0.3-4.8h0m0.2-1.1h0m0.3-6h0m0.3-0.1h0m0.2 0.3h0m0.3 4.7h0m0.3-10.6h0m0.2-3.9h0m0.3-5h0m0.3 2.6h0m0.2-8.8h0m0.3-0.3h0m0.3 0.5h0m0.2-6h0m0.3 4.4h0m0.3-3.3h0m0.2-6.1h0m0.3-2.1h0m0.3-4h0m0.2-2.3h0m0.3 2.4h0m0.3-1.6h0m0.2-2.7h0m0.3-2.2h0m0.2-4h0m0.3 0.3h0m0.3-6.3h0m0.2 1.6h0m0.3 1.7h0m0.3-2.3h0m0.2-6.1h0m0.3-1.5h0m0.3 2.3h0m0.2-0.8h0m0.3-9.6h0m0.3 0.8h0m0.2-0.1h0m0.3 0.7h0m0.3-6.6h0m0.2 1.9h0m0.3-3.9h0m0.3 4.8h0m0.2-6.3h0m0.3-2.9h0m0.3-2.1h0m0.2 1.8h0m0.3-2.4h0m0.3-5.8h0m0.2 1.7h0m0.3-5.3h0m0.3 0h0m0.2-2.8h0m0.3-1.5h0m0.3 0.2h0m0.2-2.1h0m0.3 2.2h0m0.3-0.7h0m0.2-3.8h0m0.3-3.5h0m0.3 3.3h0m0.2-8.1h0m0.3-1.1h0m0.3 5.2h0m0.2-1.5h0m0.3-0.4h0m0.3-4.1h0m0.2-3.8h0m0.3 0.6h0m0.3 1.4h0m0.2-4.4h0m0.3-1h0m0.3-2.8h0m0.2-0.6h0m0.3 3.7h0m0.3-2h0m0.2-5h0m0.3-0.9h0m0.3 0.1h0m0.2 1.6h0m0.3-5.2h0m0.3 1.4h0m0.2-5.8h0m0.3 1.1h0m0.3 3h0m0.2 0.2h0m0.3-6h0m0.3 0h0m0.2 2.8h0m0.3-3.8h0m0.3-1.3h0m0.2 1.6h0m0.3-1.7h0m0.3 1.2h0m0.2-1.6h0m0.3-4.2h0m0.3 0.2h0m0.2-0.8h0m0.3-4h0m0.3 0.1h0m0.2 3.8h0m0.3-7h0m0.3 5.4h0m0.2-2.6h0m0.3-1.8h0m0.3 0.8h0m0.2-1h0m0.3 1h0m0.3-4.7h0m0.2-0.3h0m0.3-0.8h0m0.3 4.3h0m0.2-3h0m0.3-5.3h0m0.3 0.7h0m0.2-1.6h0m0.3 1h0m0.3-0.3h0m0.2 4.3h0m0.3-10.6h0m0.3 6.2h0m0.2-2.1h0m0.3-3.5h0m0.3 0.7h0m0.2-1.5h0m0.3 0.6h0m0.3 1.7h0m0.2-6.8h0m0.3 6.2h0m0.3-4.7h0m0.2 3.9h0m0.3-3.3h0m0.3 1.4h0m0.2-2.3h0m0.3 0.7h0m0.3-3.1h0m0.2-2.7h0m0.3 3h0m0.3-0.5h0m0.2 2.7h0m0.3-10.4h0m0.3 3.8h0m0.2 2.4h0m0.3-6.1h0m0.3 1.9h0m0.2 5.1h0m0.3-2.3h0m0.3-6h0m0.2 5h0m0.3-1.1h0m0.3-1.5h0m0.2-1.5h0m0.3-0.9h0m0.3-3.2h0m0.2 0.4h0m0.3 2.5h0m0.3-2h0m0.2 3.7h0m0.3-5.8h0m0.3-5.4h0m0.2 4.4h0m0.3 1h0m0.3-0.2h0m0.2-1.2h0m0.3-2.6h0m0.3 5.1h0m0.2-5.7h0m0.3 2.9h0m0.3-2.9h0m0.2-2.6h0m0.3 5.8h0m0.3-9.8h0m0.2 3.5h0m0.3 2.7h0m0.2-2.4h0m0.3 2.3h0m0.3-2.5h0m0.2-1.3h0m0.3 5.9h0m0.3-6.1h0m0.2-0.3h0m0.3-2.6h0m0.3 0.4h0m0.2 2.9h0m0.3-0.6h0m0.3-1.7h0m0.2-2.1h0m0.3 3h0m0.3-6.1h0m0.2 2.8h0m0.3-0.1h0m0.3-1.8h0m0.2 2h0m0.3-2.3h0m0.3-0.7h0m0.2 5.9h0m0.3-2.9h0m0.3 0.7h0m0.2-3.1h0m0.3 1.9h0m0.3-0.8h0m0.2 0.7h0m0.3 2.4h0m0.3-6.6h0m0.2 0.9h0m0.3-1.1h0m0.3-8.7h0m0.2 4.8h0m0.3 3.1h0m0.3 1.1h0m0.2-3.2h0m0.3 3.8h0m0.3 0h0m0.2-4.4h0m0.3 4.1h0m0.3 0.5h0m0.2-3.4h0m0.3-3.8h0m0.3 5.6h0m0.2-4.2h0m0.3-0.8h0m0.3 0.9h0m0.2-1.9h0m0.3 3.6h0m0.3-1h0m0.2 0.7h0m0.3-1.8h0m0.3-3.6h0m0.2 1.3h0m0.3 2.2h0m0.3-3.4h0m0.2 7.7h0m0.3-7.8h0m0.3-1.1h0m0.2 3.9h0m0.3-1.3h0m0.3-2.1h0m0.2-0.7h0m0.3 1.3h0m0.3 0.7h0m0.2-0.5h0m0.3-2.8h0m0.3 1.5h0m0.2 0.8h0m0.3-0.5h0m0.3-9.5h0m0.2 5.1h0m0.3 0h0m0.3 1h0m0.2 0.8h0m0.3 1.5h0m0.3-1h0m0.2-2h0m0.3 0.1h0m0.3 4h0m0.2-6h0m0.3 2h0m0.3 2.8h0m0.2-3.2h0m0.3-5.9h0m0.3 5.6h0m0.2-2.1h0m0.3 0.4h0m0.3 2.6h0m0.2-1.6h0m0.3-2h0m0.3 2.6h0m0.2-1.4h0m0.3-1h0m0.3 0.3h0m0.2-0.3h0m0.3-1.7h0m0.3-0.5h0m0.2 1h0m0.3-2.6h0m0.3-0.9h0m0.2 5.9h0m0.3-3.9h0m0.3 0.3h0m0.2-0.4h0m0.3 0.1h0m0.3-0.2h0m0.2-0.1h0m0.3-2.3h0m0.3 4h0m0.2-4.1h0m0.3 4h0m0.3-7.3h0m0.2 1.9h0m0.3 4.7h0m0.3-2.9h0m0.2-1.5h0m0.3 2.3h0m0.3-3.5h0m0.2 2.5h0m0.3-5.7h0m0.3 4h0m0.2-0.6h0m0.3 2.6h0m0.3 0.7h0m0.2-4.4h0m0.3 5.8h0m0.3-5.5h0m0.2-3.7h0m0.3-0.9h0m0.3 9.2h0m0.2-4.1h0m0.3-1.5h0m0.3-0.4h0m0.2-1h0m0.3 5.7h0m0.3-3.6h0m0.2 4.3h0m0.3-4.9h0m0.3-5.4h0m0.2 7.5h0m0.3-3h0m0.3 0.1h0m0.2 4.2h0m0.3-4.6h0m0.3 3.3h0m0.2-3h0m0.3-1.9h0m0.3 2.8h0m0.2-2.8h0m0.3 4.3h0m0.2-0.8h0m0.3-2.4h0m0.3 1.2h0m0.2-0.3h0m0.3-2.1h0m0.3 2.6h0m0.2-2.8h0m0.3 1.9h0m0.3-3.9h0m0.2 2.3h0m0.3 0.6h0m0.3-3h0m0.2 0.8h0m0.3-0.5h0m0.3 2.9h0m0.2-3.6h0m0.3 2.6h0m0.3 2.5h0m0.2-2.9h0m0.3-4.9h0m0.3 4h0m0.2 2.1h0m0.3-3.3h0m0.3 3.2h0m0.2-1.4h0m0.3-0.6h0m0.3-1.7h0m0.2-0.8h0m0.3 0.5h0m0.3 0.6h0m0.2 1h0m0.3-0.4h0m0.3-1.8h0m0.2 0.7h0m0.3 0.7h0m0.3-5h0m0.2 1.9h0m0.3-0.2h0m0.3 1.3h0m0.2-0.3h0m0.3-0.1h0m0.3-1.6h0m0.2 3.6h0m0.3-1h0m0.3-4.8h0m0.2 3.9h0m0.3-2.9h0m0.3 6.7h0m0.2-5.3h0m0.3 0h0m0.3 1h0m0.2-0.8h0m0.3 0.3h0m0.3 3.7h0m0.2-3.3h0m0.3 1.3h0m0.3 0.6h0m0.2-5.1h0m0.3 6.2h0m0.3-2.5h0m0.2 0.6h0m0.3-4.5h0m0.3 3.9h0m0.2-1.1h0m0.3-2.4h0m0.3 6.7h0m0.2-4.3h0m0.3-2h0m0.3 0.9h0m0.2 1.6h0m0.3 0.4h0m0.3-1.4h0m0.2 1.4h0m0.3 0.5h0m0.3-6.6h0m0.2 1.7h0m0.3-1.2h0m0.3 2.4h0m0.2 3.1h0m0.3-2h0m0.3-4.1h0m0.2 1.7h0m0.3 3h0m0.3-3.8h0m0.2 0.9h0m0.3 0.9h0m0.3-5.2h0m0.2 6.1h0m0.3-1.1h0m0.3 0.4h0m0.2-3.8h0m0.3 0.4h0m0.3 0.3h0m0.2 1.9h0m0.3-0.5h0m0.3 0h0m0.2 3.9h0m0.3-1.2h0m0.3-5h0m0.2 0.1h0m0.3 5.6h0m0.3-5h0m0.2 4h0m0.3 0.4h0m0.3-5.2h0m0.2 0.5h0m0.3 0.8h0m0.3-2.4h0m0.2-0.4h0m0.3 1.3h0m0.3 3h0m0.2-3.3h0m0.3 0.5h0m0.3-0.7h0m0.2-2.2h0m0.3 6.7h0m0.3-9.3h0m0.2 4h0m0.3 2.8h0m0.3-4.8h0m0.2 4.8h0m0.3 1.4h0m0.3-5.1h0m0.2 2.4h0m0.3-3.2h0m0.3 3.8h0m0.2-1.1h0m0.3 0.2h0m0.3 2.7h0m0.2-2.2h0m0.3 2h0m0.3-1.8h0m0.2-4.5h0m0.3 3.4h0m0.3 0.5h0m0.2-4.8h0m0.3 6.6h0m0.3-3.1h0m0.2 0.7h0m0.3-3.2h0m0.3 2.3h0m0.2 0.4h0m0.3-1.5h0m0.3 0.9h0m0.2-5.4h0m0.3 8.3h0m0.3-6h0m0.2-2.7h0m0.3 2.9h0m0.2 0.2h0m0.3 3.2h0m0.3-3.6h0m0.2 2.8h0m0.3-3h0m0.3 7.5h0m0.2-4.1h0m0.3 3.3h0m0.3-7.2h0m0.2 4h0m0.3-4h0m0.3 3.6h0m0.2 0.2h0m0.3-5.5h0m0.3 1h0m0.2-0.2h0m0.3-0.8h0m0.3 1.7h0m0.2-0.6h0m0.3-1.2h0m0.3 3.6h0m0.2 1h0m0.3-4.5h0m0.3 1.7h0m0.2 1.3h0m0.3-0.6h0m0.3-1.2h0m0.2 3.5h0m0.3 0h0m0.3-0.4h0m0.2-2.2h0m0.3 5.2h0m0.3-0.7h0m0.2-5.2h0m0.3 0.6h0m0.3 3.1h0m0.2-4.9h0m0.3 2.8h0m0.3-0.9h0m0.2-1.8h0m0.3 1h0m0.3-3.3h0m0.2 2.4h0m0.3-3.5h0m0.3 10.2h0m0.2-1.9h0m0.3-0.8h0m0.3-2.3h0m0.2 1.7h0m0.3 0.5h0m0.3-0.6h0m0.2-0.3h0m0.3-4.5h0m0.3 3.2h0m0.2-2.4h0m0.3-1.6h0m0.3 0h0m0.2 3.7h0m0.3 1.4h0m0.3-5.8h0m0.2 7.4h0m0.3-0.7h0m0.3-4.5h0m0.2-0.3h0m0.3 0.9h0m0.3 2.4h0m0.2-3.3h0m0.3-1.8h0m0.3 3.4h0m0.2-5.8h0m0.3 5.2h0m0.3 2.4h0m0.2-2.1h0m0.3 1.1h0m0.3-0.8h0m0.2 0.5h0m0.3-1.4h0m0.3-2.4h0m0.2 1.4h0m0.3 0.3h0m0.3 3.1h0m0.2 0.8h0m0.3-2.9h0m0.3-2.9h0m0.2 0h0m0.3 1.3h0m0.3 3.7h0m0.2-2.6h0m0.3-1h0m0.3-1.7h0m0.2 3.9h0m0.3-1.5h0m0.3-0.9h0m0.2 0.3h0m0.3 3.8h0m0.3-4.5h0m0.2 4.4h0m0.3-1.2h0m0.3-2.9h0m0.2 2h0m0.3-2.5h0m0.3-1.7h0m0.2 1.3h0m0.3-1.6h0m0.3 3.3h0m0.2-1.2h0m0.3 1.3h0m0.3 0.5h0m0.2-9.5h0m0.3 8.2h0m0.3-5.1h0m0.2 4.6h0m0.3-2.5h0m0.3 2.3h0m0.2 3h0m0.3-7.5h0m0.3 4.5h0m0.2-0.6h0m0.3-4.4h0m0.3 6h0m0.2-1.5h0m0.3-1.4h0m0.3-0.5h0m0.2 9.4h0m0.3-8.7h0m0.3-3.5h0m0.2 2.1h0m0.3 1.3h0m0.3-0.1h0m0.2 0.7h0m0.3-2.4h0m0.3 3.8h0m0.2-2.5h0m0.3-2.2h0m0.3 1.3h0m0.2 1h0m0.3 2.9h0m0.3-0.9h0m0.2-2.1h0m0.3 0.9h0m0.3 0.4h0m0.2 4.3h0m0.3-6.4h0m0.3 2.5h0m0.2 0.6h0m0.3-4h0m0.3 2.6h0m0.2-0.1h0m0.3-1.5h0m0.2 2.4h0m0.3 1.1h0m0.3 0.2h0m0.2-3.2h0m0.3 0.8h0m0.3 5.2h0m0.2-8.3h0m0.3 3.1h0m0.3 1.6h0m0.2-1.9h0m0.3 1.2h0m0.3-1.2h0m0.2 1.4h0m0.3 1.2h0m0.3-3.7h0m0.2 1h0m0.3-0.6h0m0.3-0.9h0m0.2 0.9h0m0.3-2.7h0m0.3 4.4h0m0.2 2.3h0m0.3-0.1h0m0.3-1h0m0.2-5.4h0m0.3 5.9h0m0.3-5.4h0m0.2 1.5h0m0.3 4.5h0m0.3-7h0m0.2 4.6h0m0.3-1.4h0m0.3-1.1h0m0.2-1.8h0m0.3 3.1h0m0.3-2.2h0m0.2 3.6h0m0.3 0.4h0m0.3-6.3h0m0.2 2.1h0m0.3 0.4h0m0.3-2.1h0m0.2 0.1h0m0.3 2.9h0m0.3-0.8h0m0.2-3.5h0m0.3 2.6h0m0.3 2.5h0m0.2-4.1h0m0.3 0.6h0m0.3 6h0m0.2-0.7h0m0.3-7.1h0m0.3 0.6h0m0.2 4.2h0m0.3-3.8h0m0.3 2.2h0m0.2-0.5h0m0.3 2.3h0m0.3-7.4h0m0.2 0.7h0m0.3 2.4h0m0.3 5.3h0m0.2-2.8h0m0.3-3.8h0m0.3 5.2h0m0.2 0.5h0m0.3-2.3h0m0.3-0.2h0m0.2 1.8h0m0.3 1.8h0m0.3-2.6h0m0.2 0.9h0m0.3-1.4h0m0.3-0.8h0m0.2-1.4h0m0.3 2.8h0m0.3-1.4h0m0.2 0.2h0m0.3 2.7h0m0.3-1.1h0m0.2 0.9h0m0.3-5.9h0m0.3 5.1h0m0.2-2.8h0m0.3-0.5h0m0.3-0.2h0m0.2 5h0m0.3-1h0m0.3-3.7h0m0.2-1.1h0m0.3 2.8h0m0.3-1.2h0m0.2 5h0m0.3-7.5h0m0.3-0.9h0m0.2 3.8h0m0.3 0.6h0m0.3 0.2h0m0.2 1.5h0m0.3 3.1h0m0.3-5.8h0m0.2-0.5h0m0.3-3h0m0.3 4.8h0m0.2 1.5h0m0.3-2.7h0m0.3 3.4h0m0.2-2.8h0m0.3 3.5h0m0.3-2.8h0m0.2-3.4h0m0.3 1h0m0.3-2.2h0m0.2-0.5h0m0.3 4.8h0m0.3 1.4h0m0.2 2.6h0m0.3-4.9h0m0.3-0.5h0m0.2-2.1h0m0.3 5h0m0.3-1.4h0m0.2-2.4h0m0.3 3h0m0.3-0.3h0m0.2-5.9h0m0.3 6.3h0m0.3-1.5h0m0.2-1.3h0m0.3-0.1h0m0.3 5.2h0m0.2-0.6h0m0.3 0.7h0m0.3-7.1h0m0.2 1.1h0m0.3 3.7h0m0.3-5.1h0m0.2 1.2h0m0.3-2.7h0m0.3 8.8h0m0.2-1.9h0m0.3-1.5h0m0.3-0.6h0m0.2-1.5h0m0.3 0h0m0.3 2.4h0m0.2-3.2h0m0.3 4.6h0m0.3-4.2h0m0.2-0.9h0m0.3 5.2h0m0.2-3.5h0m0.3 1.7h0m0.3-2.4h0m0.2-4.4h0m0.3 6.7h0m0.3-4.6h0m0.2 5.8h0m0.3-6.3h0m0.3-0.8h0m0.2 5.2h0m0.3 0.2h0m0.3-0.8h0m0.2-3.1h0m0.3 5h0m0.3-5.7h0m0.2 2.4h0m0.3-0.8h0m0.3 0.9h0m0.2 3h0m0.3-3.6h0m0.3 2.8h0m0.2 0.3h0m0.3-5.8h0m0.3 1.3h0m0.2 1.9h0m0.3-0.5h0m0.3 2.1h0m0.2-5.4h0m0.3 6.3h0m0.3 0.1h0m0.2-2.2h0m0.3-3h0m0.3 3.3h0m0.2-1.3h0m0.3 2.6h0m0.3-1.6h0m0.2 2h0m0.3-2.8h0m0.3 4.5h0m0.2-9.1h0m0.3 3.1h0m0.3 3.6h0m0.2-4.8h0m0.3 5.4h0m0.3-4.8h0m0.2 3.2h0m0.3-2.5h0m0.3 1.1h0m0.2 1.5h0m0.3-0.7h0m0.3-0.7h0m0.2 6.1h0m0.3-5.2h0m0.3-2.3h0m0.2 4.5h0m0.3-0.3h0m0.3 1h0m0.2 1.3h0m0.3-6.6h0m0.3 4.8h0m0.2 0.2h0m0.3-2.8h0m0.3 0.6h0m0.2-7.8h0m0.3 5.8h0m0.3 5.6h0m0.2-8.6h0m0.3 3h0m0.3 2h0m0.2 0.7h0m0.3 2.5h0m0.3-8.2h0m0.2 4.3h0m0.3 2h0m0.3-5.3h0m0.2 3.1h0m0.3 4.6h0m0.3-1.4h0m0.2-1.9h0m0.3-7.6h0m0.3 6h0m0.2 1.2h0m0.3-1.7h0m0.3 0.6h0m0.2 7.5h0m0.3-7.9h0m0.3-1.9h0m0.2 2.9h0m0.3-1.3h0m0.3 0h0m0.2 0.5h0m0.3 2h0m0.3-1.3h0m0.2-3.4h0m0.3 2.5h0m0.3 1.4h0m0.2-2.2h0m0.3 3.8h0m0.3-0.9h0m0.2-4.2h0m0.3 3.1h0m0.3 4h0m0.2-1.1h0m0.3-3.9h0m0.3 2.3h0m0.2-3.8h0m0.3-1.9h0m0.3 4.8h0m0.2-0.7h0m0.3 0.6h0m0.3-1.3h0m0.2 0.8h0m0.3-2h0m0.3 2.3h0m0.2 0.9h0m0.3-2.2h0m0.3 2.1h0m0.2-6.2h0m0.3 2.3h0m0.3 5.4h0m0.2 0.7h0m0.3-3.6h0m0.3-0.9h0m0.2-2.8h0m0.3 3.9h0m0.3 1h0m0.2-5.4h0m0.3 4.8h0m0.3-0.1h0m0.2-0.2h0m0.3-3.8h0m0.3 4h0m0.2-4.9h0m0.3 7.2h0m0.3-3.3h0m0.2-3.1h0m0.3 6h0m0.3-0.5h0m0.2-4.3h0m0.3 6.8h0m0.3-7.7h0m0.2 3.1h0m0.3 2.1h0m0.3-8.3h0m0.2 7.8h0m0.3-2.5h0m0.3 0.1h0m0.2-2.6h0m0.3 3.4h0m0.2-3.5h0m0.3 0.3h0m0.3 1.3h0m0.2-1.9h0m0.3 6.7h0m0.3-7h0m0.2 1.4h0m0.3 1h0m0.3 0.8h0m0.2 1.9h0m0.3 0h0m0.3-2.7h0m0.2-0.2h0m0.3 1h0m0.3 1.9h0m0.2-0.4h0m0.3-2.9h0m0.3-3.7h0m0.2 10.1h0m0.3-2.9h0m0.3-1.7h0m0.2 0.2h0m0.3-2.1h0m0.3-1.1h0m0.2 1.6h0m0.3 0.2h0m0.3-1h0m0.2-2h0m0.3 2.8h0m0.3 2.1h0m0.2-2.6h0m0.3 1.2h0m0.3-5h0m0.2 4.4h0m0.3 0.2h0m0.3-2.6h0m0.2-1.2h0m0.3 5.1h0m0.3-3h0m0.2 3.1h0m0.3-2.2h0m0.3 2.5h0m0.2-2.3h0m0.3-2.8h0m0.3 3.4h0m0.2-0.6h0m0.3 2.4h0m0.3-2.7h0m0.2 0.1h0m0.3 3h0m0.3 0.7h0m0.2-1h0m0.3 0.7h0m0.3-1.4h0m0.2 0.7h0m0.3 0.3h0m0.3-1.2h0m0.2-0.8h0m0.3 0.2h0m0.3 5.4h0m0.2-5.7h0m0.3-0.7h0m0.3-0.3h0m0.2 0.8h0m0.3 0.7h0m0.3-3.3h0m0.2-2.1h0m0.3 5.5h0m0.3-4.6h0m0.2 4.4h0m0.3-0.2h0m0.3 2.4h0m0.2 1.2h0m0.3-3.1h0m0.3-2.3h0m0.2-1.5h0m0.3 1h0m0.3 1.9h0m0.2-5h0m0.3 5.1h0m0.3-0.2h0m0.2 1.5h0m0.3-2.3h0m0.3 1h0m0.2-2h0m0.3 0.6h0m0.3-3.1h0m0.2 4.5h0m0.3 3.4h0m0.3-3.3h0m0.2 0.5h0m0.3-3.3h0m0.3 5.8h0m0.2-5.3h0m0.3 3.8h0m0.3-1.7h0m0.2-2.6h0m0.3 4.8h0m0.3-2.4h0m0.2 0.3h0m0.3 0.7h0m0.3-1.1h0m0.2-0.9h0m0.3 2h0m0.3-2.1h0m0.2 1.1h0m0.3-1.7h0m0.3-2h0m0.2 1.9h0m0.3 0.4h0m0.3 1.3h0m0.2 2.8h0m0.3-7h0m0.3 4.4h0m0.2-5.6h0m0.3 2.8h0m0.3 1.2h0m0.2-4.2h0m0.3 1h0m0.3 4.8h0m0.2-0.2h0m0.3-0.5h0m0.3-1.6h0m0.2 7.1h0m0.3-5.6h0m0.3-1.7h0m0.2 6.1h0m0.3-2.6h0m0.3-2.3h0m0.2 3.7h0m0.3-2.5h0m0.3 1.2h0m0.2-1h0m0.3-3.1h0m0.3 4.8h0m0.2-1.9h0m0.3-2.8h0m0.3 0.5h0m0.2 4.2h0m0.3-3.2h0m0.3 1h0m0.2 1.4h0m0.3-1.3h0m0.3-3.9h0m0.2 5.2h0m0.3 0.7h0m0.3-0.2h0m0.2 1.8h0m0.3-3h0m0.2 0.9h0m0.3 2h0m0.3-4.5h0m0.2 4.8h0m0.3 0h0m0.3-2.3h0m0.2 2.6h0m0.3-2.4h0m0.3-4.2h0m0.2 4.8h0m0.3-1.9h0m0.3 0.2h0m0.2-0.6h0m0.3 2.8h0m0.3-1.9h0m0.2-3h0m0.3 2.8h0m0.3 0.6h0m0.2-3.5h0m0.3 0.7h0m0.3 0.1h0m0.2-0.5h0m0.3 2.3h0m0.3 1.6h0m0.2 2h0m0.3-1.6h0m0.3-0.5h0m0.2 0.3h0m0.3 0.5h0m0.3-4.1h0m0.2 2.5h0m0.3-0.9h0m0.3-1.1h0m0.2-0.8h0m0.3-0.1h0m0.3 0.6h0m0.2-2.3h0m0.3 4.2h0m0.3-1.4h0m0.2 0.3h0m0.3 0.6h0m0.3 0.9h0m0.2-3.1h0m0.3 1.1h0m0.3-3.6h0m0.2-1.5h0m0.3 0.7h0m0.3 8.3h0m0.2-8h0m0.3 5.5h0m0.3 2.4h0m0.2-4.7h0m0.3 5h0m0.3 0.5h0m0.2-2.1h0m0.3 3.4h0m0.3-4.2h0m0.2-3.3h0m0.3 3h0m0.3-2.3h0m0.2-2.1h0m0.3 0.1h0m0.3 8.6h0m0.2-6.9h0m0.3 1.3h0m0.3-1.6h0m0.2 2h0m0.3-0.9h0m0.3-0.5h0m0.2-1.9h0m0.3-0.5h0m0.3 1.6h0m0.2 2.5h0m0.3 4.3h0m0.3-2.5h0m0.2 1.9h0m0.3-3.2h0m0.3-1.4h0m0.2-3h0m0.3 3.2h0m0.3-5.2h0m0.2 4.4h0m0.3 4.7h0m0.3-3.2h0m0.2 2h0m0.3-3.7h0m0.3-2.4h0m0.2 2.2h0m0.3 0.2h0m0.3 3.8h0m0.2 1.9h0m0.3-6.6h0m0.3 1h0m0.2 0.5h0m0.3-0.5h0m0.3-2.2h0m0.2 3.2h0m0.3 0.7h0m0.3 0h0m0.2-3.8h0m0.3 2.6h0m0.3-3.9h0m0.2 6.4h0m0.3-4.7h0m0.3 1.8h0m0.2-0.4h0m0.3-0.3h0m0.3-1.2h0m0.2-1.7h0m0.3 8.4h0m0.3-3.6h0m0.2 0.1h0m0.3 4.4h0m0.3-5.3h0m0.2 1.5h0m0.3-1.2h0m0.3 2.8h0m0.2-1.7h0m0.3-0.4h0m0.3-1.4h0m0.2 1.3h0m0.3 2.1h0m0.3-7.8h0m0.2 4.7h0m0.3-0.7h0m0.3 0.2h0m0.2-4h0m0.3 6.5h0m0.3-3.8h0m0.2 1.5h0m0.3-0.7h0m0.3-2.8h0m0.2 3h0m0.3-3.4h0m0.3 2.2h0m0.2 1.5h0m0.3 0.7h0m0.3 0.1h0m0.2-0.4h0m0.3 5.4h0m0.3-4.1h0m0.2-3.9h0m0.3 1.4h0m0.3-0.1h0m0.2 1.2h0m0.3-1.1h0m0.3-0.6h0m0.2 6h0m0.3-3.8h0m0.3-1h0m0.2 0.2h0m0.3 0.1h0m0.2 3.9h0m0.3-2.2h0m0.3 1.5h0m0.2-10.2h0m0.3 8.3h0m0.3 1.8h0m0.2 2.2h0m0.3-4.7h0m0.3-4.2h0m0.2 5.5h0m0.3-2.8h0m0.3-2.9h0m0.2 2.8h0m0.3 4h0m0.3 0.4h0m0.2-1.2h0m0.3-4.2h0m0.3 8.5h0m0.2-8.8h0m0.3 2.6h0m0.3-3.3h0m0.2 6.6h0m0.3-2.1h0m0.3 1.1h0m0.2-1.9h0m0.3-0.4h0m0.3 0.6h0m0.2-5h0m0.3 6.9h0m0.3-0.2h0m0.2-3.1h0m0.3 0.9h0m0.3 0.7h0m0.2 3.1h0m0.3-2.7h0m0.3-1h0m0.2-1.3h0m0.3-2.4h0m0.3 2.2h0m0.2 1.6h0m0.3-0.8h0m0.3 0.8h0m0.2 1.6h0m0.3-0.8h0m0.3-0.4h0m0.2 1h0m0.3-1.2h0m0.3-0.5h0m0.2 1.2h0m0.3-5.3h0m0.3 7.2h0m0.2-6.1h0m0.3 5.1h0m0.3-2h0m0.2 2.6h0m0.3-2.6h0m0.3-2.3h0m0.2 4.8h0m0.3-2.1h0m0.3-0.2h0m0.2-0.1h0m0.3 2.2h0m0.3-0.4h0m0.2-1.4h0m0.3-4.3h0m0.3 2.8h0m0.2 1.2h0m0.3 4h0m0.3-3.4h0m0.2-1.1h0m0.3 3.1h0m0.3-3.2h0m0.2 0.2h0m0.3 0.5h0m0.3-4h0m0.2 5.9h0m0.3-1.3h0m0.3-1.7h0m0.2-2.1h0m0.3 3.3h0m0.3 2.8h0m0.2-4.9h0m0.3-1h0m0.3 3.6h0m0.2-4.9h0m0.3-1.5h0m0.3 4.3h0m0.2-0.6h0m0.3 1h0m0.3-0.7h0m0.2 2.2h0m0.3-1.4h0m0.3-0.9h0m0.2 0.3h0m0.3 2.7h0m0.3 0.7h0m0.2-0.1h0m0.3-0.5h0m0.3-9.6h0m0.2 5.5h0m0.3 1.7h0m0.3 1.2h0m0.2-4.4h0m0.3 7.3h0m0.3-2.7h0m0.2-2.2h0m0.3 1.9h0m0.3-1.2h0m0.2-1h0m0.3 3h0m0.3-2.3h0m0.2-2.3h0m0.3 1.9h0m0.3 1.2h0m0.2-2.3h0m0.3 5.6h0m0.3-5.6h0m0.2 6.8h0m0.3-2.1h0m0.3-4.4h0m0.2 2.6h0m0.3 2.5h0m0.3-3.3h0m0.2-2.4h0m0.3 3.1h0m0.3 4.5h0m0.2-8.3h0m0.3 4.9h0m0.3-1.3h0m0.2-0.3h0m0.3-0.7h0m0.3 0.2h0m0.2 3.2h0m0.3-1h0m0.3-3.8h0m0.2 6.1h0m0.3-6.9h0m0.3 4.7h0m0.2-1.1h0m0.3 2.4h0m0.3-2h0m0.2 1.7h0m0.3-2.6h0m0.3 2.4h0m0.2-1.5h0m0.3 4.3h0m0.3-6.8h0m0.2 4.5h0m0.3-1.8h0m0.2-0.7h0m0.3-1.7h0m0.3 2.4h0m0.2-4.6h0m0.3 0.2h0m0.3 5h0m0.2-5.4h0m0.3 7.2h0m0.3-4.2h0m0.2 1.3h0m0.3-0.4h0m0.3 0.8h0m0.2-1.7h0m0.3-0.2h0m0.3 0.6h0m0.2 2.8h0m0.3 0.2h0m0.3 0.3h0m0.2-2.1h0m0.3-1.4h0m0.3-3.6h0m0.2 5.6h0m0.3 0.5h0m0.3-3h0m0.2 2.9h0m0.3 1.2h0m0.3-2.9h0m0.2 2.3h0m0.3-1.8h0m0.3-4.9h0m0.2 3h0m0.3 0.2h0m0.3 2.2h0m0.2-3.3h0m0.3 1h0m0.3-1.3h0m0.2 2.3h0m0.3 0.2h0m0.3 2.2h0m0.2-0.4h0m0.3-1.6h0m0.3 0.2h0m0.2-0.3h0m0.3 0h0m0.3 3.4h0m0.2-9.6h0m0.3 5.5h0m0.3 1.2h0m0.2 1.9h0m0.3-5.3h0m0.3 3.4h0m0.2 1.3h0m0.3-3.2h0m0.3-3.5h0m0.2 3.7h0m0.3-2h0m0.3 4.5h0m0.2-3.6h0m0.3 6.3h0m0.3-4h0m0.2-2.2h0m0.3 0.7h0m0.3-1.4h0m0.2 3.5h0m0.3 2.7h0m0.3-4.1h0m0.2 2.7h0m0.3-4.5h0m0.3 3h0m0.2 4.8h0m0.3-8.9h0m0.3 6.3h0m0.2-0.1h0m0.3-7.3h0m0.3 1h0m0.2 1.1h0m0.3 4.7h0m0.3-3.4h0m0.2 0.7h0m0.3 2.1h0m0.3-1.5h0m0.2 0.3h0m0.3-1.3h0m0.3 3.4h0m0.2-4.5h0m0.3 5.9h0m0.3-4.9h0m0.2-1.1h0m0.3 3.5h0m0.3-0.5h0m0.2-5.8h0m0.3 5.3h0m0.3-3.8h0m0.2 1.2h0m0.3 3.9h0m0.3-3.9h0m0.2 2.9h0m0.3-1.8h0m0.3 5.6h0m0.2-4.9h0m0.3-2.6h0m0.3 0.2h0m0.2 0.4h0m0.3 2.5h0m0.3-0.3h0m0.2 2.3h0m0.3-1.9h0m0.3-0.1h0m0.2 0.5h0m0.3-1.1h0m0.3 1h0m0.2 1.2h0m0.3 0h0m0.3-3.2h0m0.2-3h0m0.3 2.3h0m0.3 2.6h0m0.2-6.6h0m0.3 4.8h0m0.3 2.2h0m0.2-2.4h0m0.3-1.3h0m0.3 6.9h0m0.2-0.9h0m0.3-4h0m0.3 3.8h0m0.2 0h0m0.3-5.9h0m0.3 9.2h0m0.2-8.7h0m0.3 1.6h0m0.3-2h0m0.2 2.8h0m0.3-3.3h0m0.3 3.1h0m0.2 2.6h0m0.3-2.1h0m0.3-1.1h0m0.2 4.3h0m0.3-5.9h0m0.3 4.5h0m0.2-3h0m0.3 1.2h0m0.3-0.4h0m0.2 0.2h0m0.3-0.4h0m0.3-1.8h0m0.2 0.5h0m0.3 2.4h0m0.2-1.3h0m0.3-2.5h0m0.3 1.1h0m0.2 0h0m0.3 1.5h0m0.3 0.6h0m0.2-0.2h0m0.3-1.8h0m0.3 1.6h0m0.2-3.3h0m0.3-3.7h0m0.3 6.8h0m0.2-3.8h0m0.3 1.7h0m0.3-0.7h0m0.2 4.4h0m0.3-4.4h0m0.3 3.6h0m0.2-1.9h0m0.3-1.8h0m0.3-0.8h0m0.2 4.9h0m0.3-0.2h0m0.3 0.9h0m0.2 2.6h0m0.3-3.8h0m0.3 0.1h0m0.2-1h0m0.3 0.5h0m0.3-1.1h0m0.2-1.3h0m0.3 6.9h0m0.3-9.2h0m0.2 5.1h0m0.3 0.4h0m0.3-0.7h0m0.2-2.7h0m0.3 1.9h0m0.3-0.7h0m0.2-1.4h0m0.3 2.4h0m0.3-0.9h0m0.2-0.3h0m0.3 3h0m0.3-4.2h0m0.2 3.6h0m0.3-2.6h0m0.3 2.5h0m0.2-0.8h0m0.3 0.4h0m0.3-3h0m0.2 0.5h0m0.3-0.2h0m0.3 2.5h0m0.2 1.4h0m0.3 0.8h0m0.3-3.8h0m0.2 1.4h0m0.3-4.1h0m0.3-1.5h0m0.2 3.3h0m0.3 0.5h0m0.3-2.2h0m0.2-0.5h0m0.3 5.5h0m0.3-3.2h0m0.2-2.1h0m0.3 9.6h0m0.3-5.2h0m0.2-1.1h0m0.3 2.4h0m0.3-3.5h0m0.2 5.6h0m0.3-7.5h0m0.3 0.6h0m0.2 2.8h0m0.3-1.5h0m0.3 5.2h0m0.2-7.2h0m0.3 2h0m0.3 2.4h0m0.2 0.7h0m0.3 1.1h0m0.3-1.6h0m0.2 4.5h0m0.3-6.5h0m0.3 1.6h0m0.2 1.6h0m0.3-2.8h0m0.3 0.1h0m0.2-0.4h0m0.3-0.5h0m0.3-1.1h0m0.2 1.3h0m0.3-2.4h0m0.3 4.7h0m0.2-4.8h0m0.3 8.8h0m0.3-0.9h0m0.2-1.4h0m0.3-3.2h0m0.3-0.9h0m0.2 4.4h0m0.3-2.5h0m0.3 0.9h0m0.2-3.1h0m0.3 4.3h0m0.3-4.5h0m0.2 2.2h0m0.3-4.4h0m0.3 2.5h0m0.2 2.8h0m0.3-2.3h0m0.3 0h0m0.2 3h0m0.3-2.1h0m0.3 3.2h0m0.2-8.8h0m0.3 7.2h0m0.3-0.2h0m0.2-4.9h0m0.3 0.6h0m0.3 5.2h0m0.2-4.7h0m0.3 1.1h0m0.3 2.9h0m0.2-2.2h0m0.3 1.9h0m0.3-3.2h0m0.2 2.8h0m0.3 1.9h0m0.3-1.8h0m0.2-6.1h0m0.3 6.8h0m0.3-1.4h0m0.2-2.3h0m0.3 5.5h0m0.3-7.5h0m0.2 8.6h0m0.3-5.9h0m0.3 5.2h0m0.2-3.8h0m0.3-3.1h0m0.3 3.4h0m0.2 0.6h0m0.3 0.5h0m0.3 1.2h0m0.2-4.7h0m0.3 3.3h0m0.3 0.6h0m0.2-2.4h0m0.3-1.6h0m0.2 0h0m0.3 4h0m0.3 0.2h0m0.2-3.9h0m0.3-1.3h0m0.3 6.2h0m0.2-6.7h0m0.3 4.1h0m0.3-2.3h0m0.2-2.3h0m0.3 4.5h0m0.3-0.7h0m0.2 3.9h0m0.3 2h0m0.3-5.9h0m0.2 2.9h0m0.3 0h0m0.3-3.7h0m0.2-0.8h0m0.3 5.9h0m0.3-4.7h0m0.2 0.8h0m0.3-0.7h0m0.3 0.4h0m0.2-1.1h0m0.3 3.2h0m0.3 1.2h0m0.2-3.9h0m0.3-2.4h0m0.3 3.4h0m0.2-3.6h0m0.3 2h0m0.3 4.5h0m0.2 2.6h0m0.3-4.7h0m0.3-3.4h0m0.2 4.4h0m0.3-7.2h0m0.3 3.7h0m0.2 5.3h0m0.3-1.9h0m0.3-5.1h0m0.2-0.7h0m0.3 6.1h0m0.3-2.2h0m0.2-1.3h0m0.3 2.4h0m0.3-2.4h0m0.2-3.2h0m0.3 6.5h0m0.3-3.4h0m0.2-0.9h0m0.3-0.8h0m0.3 3.8h0m0.2-2.5h0m0.3 3.4h0m0.3-2.1h0m0.2 3.2h0m0.3-3.5h0m0.3-0.7h0m0.2-3.1h0m0.3 2.1h0m0.3 4.3h0m0.2 5.6h0m0.3-10.3h0m0.3 0.5h0m0.2 3.3h0m0.3 0.3h0m0.3-2.7h0m0.2 1.8h0m0.3-4h0m0.3 3.1h0m0.2 2.8h0m0.3 1.8h0m0.3-4.3h0m0.2-0.2h0m0.3 1.7h0m0.3 1.5h0m0.2-1.4h0m0.3-3h0m0.3 2.6h0m0.2 1.5h0m0.3-4h0m0.3-1.5h0m0.2 4.4h0m0.3-0.3h0m0.3 1.4h0m0.2-2.1h0m0.3-1.7h0m0.3 0.4h0m0.2-1.4h0m0.3 0.2h0m0.3 1h0m0.2 0.1h0m0.3 3.9h0m0.3-5.6h0m0.2 2.8h0m0.3-1.3h0m0.3 4.9h0m0.2-2.9h0m0.3-1.5h0m0.3 2.8h0m0.2-1.7h0m0.3-1.3h0m0.3 4.8h0m0.2-2h0m0.3 2.4h0m0.3-1.3h0m0.2-1h0m0.3-1.5h0m0.3-2.9h0m0.2 4.3h0m0.3-1.5h0m0.3 1.4h0m0.2-1.6h0m0.3-1.7h0m0.3-0.7h0m0.2 4.1h0m0.3 1.4h0m0.3-3.8h0m0.2 1.8h0m0.3 2.2h0m0.3-5.3h0m0.2 1.2h0m0.3-1.9h0m0.3 5.5h0m0.2-2.2h0m0.3-1.7h0m0.3-2.9h0m0.2 3.6h0m0.3 2.8h0m0.3-3.1h0m0.2-0.3h0m0.3 2.5h0m0.3-4.4h0m0.2 3h0m0.3 1.3h0m0.3-3.3h0m0.2-0.1h0m0.3 2.6h0m0.3-0.8h0m0.2-0.4h0m0.3 1.1h0m0.3 0h0m0.2-2.7h0m0.3 0.6h0m0.3 2.7h0m0.2 1.6h0m0.3 0.5h0m0.2-5.2h0m0.3 4.6h0m0.3-0.8h0m0.2-1.9h0m0.3 1.3h0m0.3 0.8h0m0.2 2.3h0m0.3-6.8h0m0.3 3.9h0m0.2-1.7h0m0.3-0.2h0m0.3 3.2h0m0.2-0.8h0m0.3-4.3h0m0.3 1.7h0m0.2 1.2h0m0.3-3.9h0m0.3 5.5h0m0.2-2.3h0m0.3 0.6h0m0.3 0.4h0m0.2 3.5h0m0.3-4.2h0m0.3-0.9h0m0.2 4.9h0m0.3-5.3h0m0.3 0h0m0.2-2.1h0m0.3 5.9h0m0.3-2h0m0.2 0.5h0m0.3-0.7h0m0.3-0.7h0m0.2-1.6h0m0.3 0h0m0.3 2.9h0m0.2-0.7h0m0.3 3.6h0m0.3-5.7h0m0.2 0.6h0m0.3-1.2h0m0.3 5.7h0m0.2-6.2h0m0.3 4.7h0m0.3 1.6h0m0.2-3.7h0m0.3 2h0m0.3-6.7h0m0.2 4.1h0m0.3-3h0m0.3 4.3h0m0.2-0.4h0m0.3-1.8h0m0.3 4h0m0.2-1.4h0m0.3-2h0m0.3 0h0m0.2-2.3h0m0.3 3.1h0m0.3 5.4h0m0.2-6.7h0m0.3 2.7h0m0.3-2.3h0m0.2 3.2h0m0.3-0.9h0m0.3-1.6h0m0.2-3.6h0m0.3 3h0m0.3 4h0m0.2-3.4h0m0.3 2.1h0m0.3-2.6h0m0.2-3.3h0m0.3 5.4h0m0.3-0.2h0m0.2-2.2h0m0.3 0.5h0m0.3 1.6h0m0.2-2.1h0m0.3 2.2h0m0.3-1.3h0m0.2-5.1h0m0.3 5.3h0m0.3-1.1h0m0.2-0.6h0m0.3 3h0m0.3-2.2h0m0.2 2.5h0m0.3 1.3h0m0.3-2.3h0m0.2-4h0m0.3 2h0m0.3 3.9h0m0.2-2.8h0m0.3-1.3h0m0.3 1.7h0m0.2 1.4h0m0.3-0.6h0m0.3 0.9h0m0.2-3.5h0m0.3 1.3h0m0.3 0.1h0m0.2 0.5h0m0.3-4.9h0m0.3 4.4h0m0.2-2.6h0m0.3 6.5h0m0.3 0.4h0m0.2 0.3h0m0.3-2.1h0m0.3-3.1h0m0.2 3.5h0m0.3-2.8h0m0.3 1.9h0m0.2-3.5h0m0.3 0.7h0m0.3 2.5h0m0.2 3.1h0m0.3-4.3h0m0.3 5.4h0m0.2 1.2h0m0.3-9.5h0m0.3 2.9h0m0.2-2.2h0m0.3 2h0m0.3-1h0m0.2 1.1h0m0.3 2.5h0m0.3-0.1h0m0.2-1.6h0m0.3-0.6h0m0.3 0.3h0m0.2 0h0m0.3 1.1h0m0.3-1.4h0m0.2 1.2h0m0.3-4.3h0m0.3 5h0m0.2 2.2h0m0.3-3.7h0m0.3-3.8h0m0.2 6.6h0m0.3-4h0m0.3-6.3h0m0.2 6.6h0m0.3 1.9h0m0.3-0.5h0m0.2 2h0m0.3-1.4h0m0.2-1.2h0m0.3-5h0m0.3 2.1h0m0.2 3h0m0.3 1.2h0m0.3-4h0m0.2 0.9h0m0.3 2.6h0m0.3-5.6h0m0.2-0.1h0m0.3 4.1h0m0.3 1.1h0m0.2-1.7h0m0.3-4.3h0m0.3 5.5h0m0.2-3.3h0m0.3 4.8h0m0.3-1.8h0m0.2 0.8h0m0.3 0.9h0m0.3-2.8h0m0.2 3.3h0m0.3 1h0m0.3-2.1h0m0.2 2.3h0m0.3-4.7h0m0.3 3.7h0m0.2-1.6h0m0.3-2.9h0m0.3 2.1h0m0.2-1.1h0m0.3 0h0m0.3 1.5h0m0.2 2.3h0m0.3-3.3h0m0.3 1.1h0m0.2-3.8h0m0.3 3.8h0m0.3 2.4h0m0.2-0.8h0m0.3-0.8h0m0.3-2.4h0m0.2-1h0m0.3 2.1h0m0.3-3h0m0.2 0.3h0m0.3 5.1h0m0.3-4.4h0m0.2 6.5h0m0.3-7.7h0m0.3 4.4h0m0.2-3.8h0m0.3 3.2h0m0.3-2.9h0m0.2 2.6h0m0.3-0.5h0m0.3-0.7h0m0.2 2.3h0m0.3 2.4h0m0.3-5h0m0.2 3.5h0m0.3-1.9h0m0.3-0.3h0m0.2 5.3h0m0.3-10.4h0m0.3 3.6h0m0.2-2.7h0m0.3 3.5h0m0.3 0.2h0m0.2 9.6h0m0.3-8.2h0m0.3 3.5h0m0.2-1.2h0m0.3-4.2h0m0.3 2.2h0m0.2 2.9h0m0.3-3.6h0m0.3 0.1h0m0.2 0.7h0m0.3-4.8h0m0.3 1.7h0m0.2 2.7h0m0.3 0.5h0m0.3-3.5h0m0.2 1.4h0m0.3 0.5h0m0.3-0.1h0m0.2 2h0m0.3-1.4h0m0.3 0.2h0m0.2-3.8h0m0.3 0.9h0m0.3 3.2h0m0.2-4.5h0m0.3 4.4h0m0.3-2.2h0m0.2-0.4h0m0.3 3.5h0m0.3-3.1h0m0.2-0.5h0m0.3 0.5h0m0.3 1.7h0m0.2 6.4h0m0.3-11.6h0m0.3 5h0m0.2-0.5h0m0.3 2.8h0m0.3-3.1h0m0.2-5h0m0.3 9h0m0.3-5.7h0m0.2 2.4h0m0.3-3.1h0m0.3 0.7h0m0.2 1.4h0m0.3 3.2h0m0.3 0h0m0.2-3.5h0m0.3 2.7h0m0.3-2.1h0m0.2 1.1h0m0.3 0.1h0m0.3 1.1h0m0.2-2.9h0m0.3 1.1h0m0.3 0.9h0m0.2-0.3h0m0.3-2.2h0m0.3 6h0m0.2-5.2h0m0.3 2.9h0m0.3-1.3h0m0.2 2.5h0m0.3-8.2h0m0.3 10.1h0m0.2-5.4h0m0.3-2.4h0m0.3 3.2h0m0.2 5.1h0m0.3-4.2h0m0.3-4.1h0m0.2 1.8h0m0.3 4.3h0m0.3-6.5h0m0.2 2.9h0m0.3-0.3h0m0.3 5.9h0m0.2-5.9h0m0.3 3.9h0m0.3-4.8h0m0.2-0.3h0m0.3 4.3h0m0.2-0.9h0m0.3-5.6h0m0.3 5.7h0m0.2 0h0m0.3-3h0m0.3 2h0m0.2 0.1h0m0.3-1.8h0m0.3-0.3h0m0.2-0.2h0m0.3 1h0m0.3-2.5h0m0.2 3h0m0.3-3.4h0m0.3 3.7h0m0.2-0.4h0m0.3-2.2h0m0.3 4.5h0m0.2 2.5h0m0.3-1.4h0m0.3-6.4h0m0.2 6.3h0m0.3-2.6h0m0.3-0.6h0m0.2-1.3h0m0.3 1.4h0m0.3 3.3h0m0.2-2h0m0.3-2.3h0m0.3-0.6h0m0.2 0.6h0m0.3 2.4h0m0.3 3.1h0m0.2-7h0m0.3 2.5h0m0.3-0.9h0m0.2-0.9h0m0.3 2.8h0m0.3 0.3h0m0.2-4.7h0m0.3 0.9h0m0.3 5.4h0m0.2-2.1h0m0.3 0.5h0m0.3-2.5h0m0.2 0.3h0m0.3 2h0m0.3-2.3h0m0.2-1.4h0m0.3 2.6h0m0.3 2.2h0m0.2-4.6h0m0.3 4.9h0m0.3-0.8h0m0.2-3.7h0m0.3 2h0m0.3-0.1h0m0.2 1.6h0m0.3 0.1h0m0.3-4.7h0m0.2-0.1h0m0.3 5.7h0m0.3-2.2h0m0.2 0.7h0m0.3-0.2h0m0.3 2.9h0m0.2-6.6h0m0.3 5.5h0m0.3-4.5h0m0.2 3.6h0m0.3 1.5h0m0.3-6.5h0m0.2 4.3h0m0.3-1.6h0m0.3-0.1h0m0.2 0.8h0m0.3-2.6h0m0.3 0.2h0m0.2 3.9h0m0.3 0.4h0m0.3-3.3h0m0.2-2.1h0m0.3 8.9h0m0.3-2.9h0m0.2-1.7h0m0.3-3.3h0m0.3 1h0m0.2 2h0m0.3-2.9h0m0.3 6.1h0m0.2-3.5h0m0.3 0.6h0m0.3-3.3h0m0.2 0.3h0m0.3 0.2h0m0.3 2.6h0m0.2-1.3h0m0.3-0.1h0m0.3 1.5h0m0.2-0.3h0m0.3 3h0m0.3-4h0m0.2-1.9h0m0.3 2.4h0m0.3 3.5h0m0.2-4.8h0m0.3 1.4h0m0.3-0.9h0m0.2 1.8h0m0.3-0.4h0m0.3-2.5h0m0.2 1.4h0m0.3 2.7h0m0.3 0.4h0m0.2-0.4h0m0.3-0.2h0m0.3-2.8h0m0.2-0.1h0m0.3 3.1h0m0.3-5h0m0.2 2.7h0m0.3-4.3h0m0.3 3.5h0m0.2-0.8h0m0.3-1.1h0m0.3 4.2h0m0.2-3.1h0m0.3 0.8h0m0.3 0.3h0m0.2-1.1h0m0.3 5.1h0m0.3-4.6h0m0.2 1.7h0m0.3-3.6h0m0.3 2h0m0.2 0.3h0m0.3 0.1h0m0.3-0.7h0m0.2 1.7h0m0.3 3.4h0m0.3-4h0m0.2 0h0m0.3-0.6h0m0.3 6.9h0m0.2-2.2h0m0.3-2.5h0m0.3 0.4h0m0.2-3.4h0m0.3 1.3h0m0.2 0.9h0m0.3-0.2h0m0.3-2.3h0m0.2 0.2h0m0.3 3h0m0.3-0.5h0m0.2-5.7h0m0.3 5.2h0m0.3 2.8h0m0.2-4.5h0m0.3 2.1h0m0.3-4h0m0.2 5.4h0m0.3-4.6h0m0.3-0.3h0m0.2 2.2h0m0.3 6.3h0m0.3-7h0m0.2-1.6h0m0.3 4.1h0m0.3-0.6h0m0.2 3.4h0m0.3-6.9h0m0.3-0.7h0m0.2 3h0m0.3 1.6h0m0.3 0h0m0.2 1.7h0m0.3-6.1h0m0.3 1.6h0m0.2 1.6h0m0.3 2.3h0m0.3-0.9h0m0.2-2.1h0m0.3-1.4h0m0.3 4.5h0m0.2 0.1h0m0.3 4.2h0m0.3-6.8h0m0.2 4.2h0m0.3-6.6h0m0.3 1.5h0m0.2-0.3h0m0.3 0.5h0m0.3-1h0m0.2 0.8h0m0.3 1.2h0m0.3-0.9h0m0.2 2.6h0m0.3-1.8h0m0.3 0.2h0m0.2 3.5h0m0.3-2.7h0m0.3-0.4h0m0.2-0.4h0m0.3 0.2h0m0.3 1.2h0m0.2-3.3h0m0.3 4.6h0m0.3 1h0m0.2-1h0m0.3-3.8h0m0.3-2.6h0m0.2 2.7h0m0.3 1.4h0m0.3 1.6h0m0.2-2.4h0m0.3-0.3h0m0.3 4.3h0m0.2-5.2h0m0.3 4.1h0m0.3-0.4h0m0.2-5.2h0m0.3 3.8h0" fill="none" stroke="#dc291b" stroke-width="4.6" stroke-linecap="round"/>
<polyline points="113.6,1709.9 113.6,1709.9 113.6,1709.8 113.6,1709.6 113.6,1709.3 113.6,1708.9 113.6,1708.4 113.7,1707.9 113.7,1707.2 113.8,1706.5 113.8,1705.7 113.9,1704.8 113.9,1703.9 114.0,1702.8 114.1,1701.7 114.1,1700.5 114.2,1699.2 114.3,1697.9 114.4,1696.4 114.5,1694.9 114.6,1693.3 114.7,1691.7 114.8,1689.9 114.9,1688.1 115.0,1686.3 115.2,1684.3 115.3,1682.3 115.4,1680.2 115.6,1678.1 115.7,1675.9 115.9,1673.6 116.0,1671.3 116.2,1668.9 116.3,1666.5 116.5,1664.0 116.7,1661.5 116.9,1658.9 117.1,1656.2 117.2,1653.6 117.4,1650.8 117.6,1648.0 117.9,1645.2 118.1,1642.3 118.3,1639.4 118.5,1636.5 118.7,1633.5 119.0,1630.5 119.2,1627.4 119.4,1624.4 119.7,1621.2 119.9,1618.1 120.2,1615.0 120.5,1611.8 120.7,1608.6 121.0,1605.3 121.3,1602.1 121.6,1598.8 121.9,1595.6 122.2,1592.3 122.5,1589.0 122.8,1585.6 123.1,1582.3 123.4,1579.0 123.7,1575.7 124.0,1572.3 124.4,1569.0 124.7,1565.7 125.0,1562.3 125.4,1559.0 125.7,1555.7 126.1,1552.3 126.4,1549.0 126.8,1545.7 127.2,1542.4 127.6,1539.1 127.9,1535.8 128.3,1532.6 128.7,1529.3 129.1,1526.1 129.5,1522.9 129.9,1519.7 130.3,1516.5 130.7,1513.3 131.2,1510.2 131.6,1507.1 132.0,1504.0 132.5,1500.9 132.9,1497.8 133.4,1494.8 133.8,1491.8 134.3,1488.8 134.7,1485.9 135.2,1482.9 135.7,1480.0 136.1,1477.2 136.6,1474.3 137.1,1471.5 137.6,1468.7 138.1,1466.0 138.6,1463.3 139.1,1460.6 139.6,1457.9 140.2,1455.3 140.7,1452.7 141.2,1450.1 141.7,1447.6 142.3,1445.1 142.8,1442.6 143.4,1440.2 143.9,1437.8 144.5,1435.4 145.1,1433.1 145.6,1430.8 146.2,1428.5 146.8,1426.2 147.4,1424.0 148.0,1421.9 148.6,1419.7 149.2,1417.6 149.8,1415.5 150.4,1413.5 151.0,1411.5 151.6,1409.5 152.2,1407.5 152.9,1405.6 153.5,1403.7 154.1,1401.8 154.8,1400.0 155.4,1398.2 156.1,1396.4 156.8,1394.7 157.4,1393.0 158.1,1391.3 158.8,1389.6 159.5,1388.0 160.2,1386.4 160.8,1384.8 161.5,1383.2 162.2,1381.7 163.0,1380.2 163.7,1378.7 164.4,1377.3 165.1,1375.9 165.8,1374.5 166.6,1373.1 167.3,1371.8 168.1,1370.4 168.8,1369.1 169.6,1367.8 170.3,1366.6 171.1,1365.3 171.9,1364.1 172.6,1362.9 173.4,1361.8 174.2,1360.6 175.0,1359.5 175.8,1358.4 176.6,1357.3 177.4,1356.2 178.2,1355.1 179.0,1354.1 179.8,1353.1 180.7,1352.1 181.5,1351.1 182.3,1350.1 183.2,1349.1 184.0,1348.2 184.9,1347.3 185.7,1346.4 186.6,1345.5 187.4,1344.6 188.3,1343.7 189.2,1342.9 190.1,1342.0 191.0,1341.2 191.9,1340.4 192.8,1339.6 193.7,1338.8 194.6,1338.1 195.5,1337.3 196.4,1336.6 197.3,1335.8 198.2,1335.1 199.2,1334.4 200.1,1333.7 201.1,1333.0 202.0,1332.3 203.0,1331.6 203.9,1331.0 204.9,1330.3 205.9,1329.7 206.8,1329.1 207.8,1328.4 208.8,1327.8 209.8,1327.2 210.8,1326.6 211.8,1326.1 212.8,1325.5 213.8,1324.9 214.8,1324.4 215.8,1323.8 216.9,1323.3 217.9,1322.7 218.9,1322.2 220.0,1321.7 221.0,1321.2 222.1,1320.7 223.1,1320.2 224.2,1319.7 225.2,1319.2 226.3,1318.7 227.4,1318.2 228.5,1317.8 229.6,1317.3 230.6,1316.9 231.7,1316.4 232.8,1316.0 234.0,1315.6 235.1,1315.1 236.2,1314.7 237.3,1314.3 238.4,1313.9 239.6,1313.5 240.7,1313.1 241.8,1312.7 243.0,1312.3 244.1,1311.9 245.3,1311.5 246.5,1311.2 247.6,1310.8 248.8,1310.4 250.0,1310.1 251.2,1309.7 252.4,1309.4 253.6,1309.0 254.8,1308.7 256.0,1308.4 257.2,1308.1 258.4,1307.7 259.6,1307.4 260.8,1307.1 262.1,1306.8 263.3,1306.5 264.5,1306.2 265.8,1305.9 267.0,1305.6 268.3,1305.3 269.5,1305.0 270.8,1304.8 272.1,1304.5 273.4,1304.2 274.6,1303.9 275.9,1303.7 277.2,1303.4 278.5,1303.2 279.8,1302.9 281.1,1302.7 282.4,1302.4 283.7,1302.2 285.1,1301.9 286.4,1301.7 287.7,1301.5 289.1,1301.3 290.4,1301.0 291.8,1300.8 293.1,1300.6 294.5,1300.4 295.8,1300.2 297.2,1300.0 298.6,1299.8 299.9,1299.6 301.3,1299.4 302.7,1299.2 304.1,1299.0 305.5,1298.8 306.9,1298.6 308.3,1298.4 309.7,1298.3 311.2,1298.1 312.6,1297.9 314.0,1297.8 315.4,1297.6 316.9,1297.4 318.3,1297.3 319.8,1297.1 321.2,1296.9 322.7,1296.8 324.2,1296.6 325.6,1296.5 327.1,1296.4 328.6,1296.2 330.1,1296.1 331.6,1295.9 333.1,1295.8 334.6,1295.7 336.1,1295.5 337.6,1295.4 339.1,1295.3 340.6,1295.2 342.1,1295.0 343.7,1294.9 345.2,1294.8 346.7,1294.7 348.3,1294.6 349.8,1294.5 351.4,1294.4 353.0,1294.2 354.5,1294.1 356.1,1294.0 357.7,1293.9 359.3,1293.8 360.9,1293.7 362.4,1293.7 364.0,1293.6 365.6,1293.5 367.3,1293.4 368.9,1293.3 370.5,1293.2 372.1,1293.1 373.7,1293.0 375.4,1293.0 377.0,1292.9 378.7,1292.8 380.3,1292.7 382.0,1292.6 383.6,1292.6 385.3,1292.5 387.0,1292.4 388.6,1292.4 390.3,1292.3 392.0,1292.2 393.7,1292.2 395.4,1292.1 397.1,1292.0 398.8,1292.0 400.5,1291.9 402.2,1291.9 403.9,1291.8 405.7,1291.7 407.4,1291.7 409.1,1291.6 410.9,1291.6 412.6,1291.5 414.4,1291.5 416.1,1291.4 417.9,1291.4 419.6,1291.3 421.4,1291.3 423.2,1291.2 425.0,1291.2 426.8,1291.2 428.6,1291.1 430.4,1291.1 432.2,1291.0 434.0,1291.0 435.8,1291.0 437.6,1290.9 439.4,1290.9 441.2,1290.8 443.1,1290.8 444.9,1290.8 446.8,1290.7 448.6,1290.7 450.5,1290.7 452.3,1290.6 454.2,1290.6 456.1,1290.6 457.9,1290.6 459.8,1290.5 461.7,1290.5 463.6,1290.5 465.5,1290.4 467.4,1290.4 469.3,1290.4 471.2,1290.4 473.1,1290.3 475.0,1290.3 477.0,1290.3 478.9,1290.3 480.8,1290.3 482.8,1290.2 484.7,1290.2 486.7,1290.2 488.6,1290.2 490.6,1290.2 492.5,1290.1 494.5,1290.1 496.5,1290.1 498.5,1290.1 500.5,1290.1 502.4,1290.0 504.4,1290.0 506.4,1290.0 508.5,1290.0 510.5,1290.0 512.5,1290.0 514.5,1290.0 516.5,1289.9 518.6,1289.9 520.6,1289.9 522.6,1289.9 524.7,1289.9 526.7,1289.9 528.8,1289.9 530.9,1289.9 532.9,1289.8 535.0,1289.8 537.1,1289.8 539.2,1289.8 541.3,1289.8 543.4,1289.8 545.5,1289.8 547.6,1289.8 549.7,1289.8 551.8,1289.8 553.9,1289.7 556.0,1289.7 558.2,1289.7 560.3,1289.7 562.4,1289.7 564.6,1289.7 566.7,1289.7 568.9,1289.7 571.0,1289.7 573.2,1289.7 575.4,1289.7 577.6,1289.7 579.7,1289.7 581.9,1289.7 584.1,1289.6 586.3,1289.6 588.5,1289.6 590.7,1289.6 592.9,1289.6 595.1,1289.6 597.4,1289.6 599.6,1289.6 601.8,1289.6 604.1,1289.6 606.3,1289.6 608.6,1289.6 610.8,1289.6 613.1,1289.6 615.3,1289.6 617.6,1289.6 619.9,1289.6 622.1,1289.6 624.4,1289.6 626.7,1289.6 629.0,1289.6 631.3,1289.6 633.6,1289.6 635.9,1289.6 638.2,1289.5 640.6,1289.5 642.9,1289.5 645.2,1289.5 647.5,1289.5 649.9,1289.5 652.2,1289.5 654.6,1289.5 656.9,1289.5 659.3,1289.5 661.7,1289.5 664.0,1289.5 666.4,1289.5 668.8,1289.5 671.2,1289.5 673.6,1289.5 676.0,1289.5 678.4,1289.5 680.8,1289.5 683.2,1289.5 685.6,1289.5 688.0,1289.5 690.4,1289.5 692.9,1289.5 695.3,1289.5 697.7,1289.5 700.2,1289.5 702.6,1289.5 705.1,1289.5 707.6,1289.5 710.0,1289.5 712.5,1289.5 715.0,1289.5 717.5,1289.5 719.9,1289.5 722.4,1289.5 724.9,1289.5 727.4,1289.5 730.0,1289.5 732.5,1289.5 735.0,1289.5 737.5,1289.5 740.0,1289.5 742.6,1289.5 745.1,1289.5 747.7,1289.5 750.2,1289.5" fill="none" stroke="#000" stroke-width="2.7" stroke-linejoin="round"/></g>
<rect x="111.0" y="1266.9" width="639.2" height="514.1" fill="none" stroke="#000" stroke-width="1.8"/>
<path d="M270.8 1781.0v-12M270.8 1266.9v12M430.6 1781.0v-12M430.6 1266.9v12M590.4 1781.0v-12M590.4 1266.9v12M111.0 1734.8h12M750.2 1734.8h-12M111.0 1656.8h12M750.2 1656.8h-12M111.0 1578.8h12M750.2 1578.8h-12M111.0 1500.7h12M750.2 1500.7h-12M111.0 1422.7h12M750.2 1422.7h-12M111.0 1344.7h12M750.2 1344.7h-12" stroke="#000" stroke-width="1.8" fill="none"/>
<g font-size="28.8" text-anchor="middle"><text x="111.0" y="1813.8">0</text><text x="270.8" y="1813.8">5</text><text x="430.6" y="1813.8">10</text><text x="590.4" y="1813.8">15</text><text x="750.2" y="1813.8">20</text></g><g font-size="28.8" text-anchor="end"><text x="101.1" y="1743.8">3.5</text><text x="101.1" y="1665.8">4.0</text><text x="101.1" y="1587.8">4.5</text><text x="101.1" y="1509.7">5.0</text><text x="101.1" y="1431.7">5.5</text><text x="101.1" y="1353.7">6.0</text><text x="101.1" y="1275.7">6.5</text></g>
<text x="431" y="1252.6" font-size="29" text-anchor="middle">HypaCas9 on-target</text>
<text x="430.2" y="1856.7" font-size="29" text-anchor="middle">Time (s)</text>
<text transform="translate(39.0 1524.0) rotate(-90)" font-size="29" text-anchor="middle">Fluorescence</text>
<text x="-0.3" y="1246.5" font-size="41.5" font-weight="bold">c</text>
<text x="493.8" y="1523.0" font-size="24" word-spacing="1.7"><tspan font-style="italic">k</tspan><tspan font-size="16.5" dx="-1.2" dy="8.2">fast</tspan><tspan dy="-8.2">: 1.67 s</tspan><tspan font-size="15.5" dy="-11.2">−1</tspan><tspan dy="11.2"> (69%)</tspan></text>
<text x="493.8" y="1555.7" font-size="24" word-spacing="1.7"><tspan font-style="italic">k</tspan><tspan font-size="16.5" dx="-1.2" dy="8.2">slow</tspan><tspan dy="-8.2">: 0.45 s</tspan><tspan font-size="15.5" dy="-11.2">−1</tspan><tspan dy="11.2"> (31%)</tspan></text>
<g clip-path="url(#cpd)"><path d="M930.4 1759.4h0m0.3-18.9h0m0.2-18.1h0m0.3-13.4h0m0.3-7.7h0m0.2-13.1h0m0.3-8.3h0m0.3-12.1h0m0.2-6h0m0.3-6.9h0m0.3-9.4h0m0.2-5.8h0m0.3 0.1h0m0.3-5.2h0m0.2-6.7h0m0.3-1.6h0m0.3-1.5h0m0.2-0.1h0m0.3-9.4h0m0.3 1.2h0m0.2 1.5h0m0.3-7.1h0m0.3 1.5h0m0.2-11.7h0m0.3 8.3h0m0.3-5.1h0m0.2-5.9h0m0.3 5.2h0m0.3-0.6h0m0.2-0.8h0m0.3-1.1h0m0.3-4h0m0.2-2.8h0m0.3-0.2h0m0.3 0.1h0m0.2 0.2h0m0.3-3h0m0.3 0.5h0m0.2 1.2h0m0.3-2.1h0m0.3 4h0m0.2-1h0m0.3-8.9h0m0.3 0.8h0m0.2-2.6h0m0.3-0.3h0m0.3 3.5h0m0.2-4.4h0m0.3-0.8h0m0.2 1.2h0m0.3 2h0m0.3-3.5h0m0.2-0.6h0m0.3 2.5h0m0.3-1.7h0m0.2-0.7h0m0.3 0.6h0m0.3-5.4h0m0.2 2.4h0m0.3-2.7h0m0.3 3.4h0m0.2-1.1h0m0.3-5.2h0m0.3 5.3h0m0.2-6.8h0m0.3 5.2h0m0.3-3h0m0.2-3.2h0m0.3-1.2h0m0.3 1.4h0m0.2 0.1h0m0.3-2.3h0m0.3 2.5h0m0.2-5.4h0m0.3 2.9h0m0.3-0.6h0m0.2-5.2h0m0.3 4.8h0m0.3-4.4h0m0.2-3.7h0m0.3 4.1h0m0.3 0.4h0m0.2 2.2h0m0.3-4h0m0.3 4.2h0m0.2-0.6h0m0.3-1.4h0m0.3 0h0m0.2-3h0m0.3-2.8h0m0.3 2.4h0m0.2 0.2h0m0.3-2.3h0m0.3-1.8h0m0.2-3.8h0m0.3 5h0m0.3-1.4h0m0.2-4.6h0m0.3 2.9h0m0.3 1h0m0.2-2.6h0m0.3 1.6h0m0.3-0.6h0m0.2-6h0m0.3 2.3h0m0.3 1.4h0m0.2 0.5h0m0.3 0.7h0m0.3-8.7h0m0.2 4h0m0.3 1.4h0m0.3 0.7h0m0.2 0.6h0m0.3-7h0m0.3 0.8h0m0.2-2.2h0m0.3 4.1h0m0.3-5.8h0m0.2 5.6h0m0.3-1.1h0m0.3-1.6h0m0.2-7.1h0m0.3 3.1h0m0.3 3h0m0.2-5.8h0m0.3 2.3h0m0.3-0.1h0m0.2 1.9h0m0.3-2h0m0.3-0.6h0m0.2-2.2h0m0.3 0.5h0m0.3-0.8h0m0.2 1.6h0m0.3-2.8h0m0.3 2.5h0m0.2-7.2h0m0.3 6.6h0m0.3-3.9h0m0.2 2.7h0m0.3-3.1h0m0.3 1.4h0m0.2 1.1h0m0.3-5.6h0m0.2 1.1h0m0.3-1.1h0m0.3 0.4h0m0.2-5h0m0.3 3.1h0m0.3-0.7h0m0.2-1.8h0m0.3 0.9h0m0.3-3.8h0m0.2 6.8h0m0.3-2.9h0m0.3 3.1h0m0.2-7.3h0m0.3-1.2h0m0.3 3h0m0.2-5.3h0m0.3 4.2h0m0.3-2.7h0m0.2 0.4h0m0.3 0.9h0m0.3-1h0m0.2 4.1h0m0.3-3.6h0m0.3-5.2h0m0.2 5.1h0m0.3-6.2h0m0.3 3.1h0m0.2-3.8h0m0.3 0.6h0m0.3 4.8h0m0.2-5.1h0m0.3-0.7h0m0.3-0.3h0m0.2 0.2h0m0.3 3.8h0m0.3-6.9h0m0.2-0.6h0m0.3 4h0m0.3-5.8h0m0.2 2.5h0m0.3 3.3h0m0.3-3.3h0m0.2-1.6h0m0.3-1.1h0m0.3-0.9h0m0.2 0.3h0m0.3 1.3h0m0.3 2.3h0m0.2-1.1h0m0.3-4.3h0m0.3-0.8h0m0.2 3h0m0.3-6.6h0m0.3 2.9h0m0.2-0.1h0m0.3-2.4h0m0.3-0.2h0m0.2 2.9h0m0.3-5.4h0m0.3 1.4h0m0.2 0.2h0m0.3 1.3h0m0.3-4h0m0.2 5.6h0m0.3-3.9h0m0.3-0.3h0m0.2-0.7h0m0.3-1.2h0m0.3-1.2h0m0.2 4.8h0m0.3-2.7h0m0.3-1.3h0m0.2 2.3h0m0.3-4.6h0m0.3 2.9h0m0.2-2h0m0.3-2.7h0m0.3 3.7h0m0.2-6h0m0.3 4.9h0m0.3-4.3h0m0.2 2.8h0m0.3 2h0m0.3-2.5h0m0.2-3.3h0m0.3 1h0m0.3-1.2h0m0.2-2.4h0m0.3-0.3h0m0.3 2.4h0m0.2 0.8h0m0.3-6.1h0m0.3 3.8h0m0.2 1h0m0.3-1.4h0m0.3-3.2h0m0.2 4.6h0m0.3-5.9h0m0.2 4.1h0m0.3 2h0m0.3-9.4h0m0.2 5.3h0m0.3-0.3h0m0.3-0.6h0m0.2-2.9h0m0.3 0.7h0m0.3-3.1h0m0.2 3.4h0m0.3 0.6h0m0.3-3.4h0m0.2-1h0m0.3 0.7h0m0.3 0.7h0m0.2-0.2h0m0.3-0.8h0m0.3 0h0m0.2-3.8h0m0.3-3.8h0m0.3 7.8h0m0.2 1.6h0m0.3-7.4h0m0.3 1.5h0m0.2 1.9h0m0.3 1.2h0m0.3-1.1h0m0.2 1.2h0m0.3-3.7h0m0.3 0.8h0m0.2-0.4h0m0.3-2.5h0m0.3 3.6h0m0.2-1.8h0m0.3 0.5h0m0.3-3.7h0m0.2 3.1h0m0.3-5.5h0m0.3 3.2h0m0.2-7.8h0m0.3 3.6h0m0.3 3.9h0m0.2-3.3h0m0.3 1.1h0m0.3-4.7h0m0.2 7.3h0m0.3-2.7h0m0.3-1.9h0m0.2 0.8h0m0.3-0.6h0m0.3 2.3h0m0.2-3.4h0m0.3-4.5h0m0.3 2.7h0m0.2 3.4h0m0.3-2.2h0m0.3-2.7h0m0.2 2.1h0m0.3-1.6h0m0.3 0.9h0m0.2-5.8h0m0.3 1.4h0m0.3 3.4h0m0.2-2.5h0m0.3 1h0m0.3 3.6h0m0.2-5.9h0m0.3 1h0m0.3-2.3h0m0.2-0.5h0m0.3 0.9h0m0.3-3.7h0m0.2-1.9h0m0.3 8.1h0m0.3-3.9h0m0.2 2.6h0m0.3-2.8h0m0.3-0.3h0m0.2 0.9h0m0.3-0.2h0m0.3-5h0m0.2 5.5h0m0.3-5.7h0m0.3 2.6h0m0.2 5.4h0m0.3-6.4h0m0.3 3.5h0m0.2-5.3h0m0.3 2h0m0.3-1.7h0m0.2 0.6h0m0.3-3.5h0m0.3-0.5h0m0.2 2.8h0m0.3-5h0m0.2 1.4h0m0.3 3.3h0m0.3-3.4h0m0.2-1h0m0.3-0.9h0m0.3 2.7h0m0.2-1.5h0m0.3 0.9h0m0.3-1.2h0m0.2 4.7h0m0.3-5.9h0m0.3-4.1h0m0.2 4.8h0m0.3-0.7h0m0.3 0.1h0m0.2-4.6h0m0.3 6.3h0m0.3-3.1h0m0.2-0.4h0m0.3-4.1h0m0.3 4.7h0m0.2-1.6h0m0.3 3.1h0m0.3-4.6h0m0.2-2.3h0m0.3 3h0m0.3-2.9h0m0.2 2.9h0m0.3-4h0m0.3 2.1h0m0.2-0.6h0m0.3 0.1h0m0.3-1.4h0m0.2-1.1h0m0.3 1.5h0m0.3-1.5h0m0.2 1.4h0m0.3-1.3h0m0.3-5.1h0m0.2 5h0m0.3 3.2h0m0.3-3h0m0.2 0.4h0m0.3-0.6h0m0.3-2.6h0m0.2-2.4h0m0.3 4.9h0m0.3 0.3h0m0.2-1.5h0m0.3-0.6h0m0.3-0.4h0m0.2-1.3h0m0.3 0.4h0m0.3-1h0m0.2 0.5h0m0.3-3.4h0m0.3 0.5h0m0.2 2.6h0m0.3-2.5h0m0.3-5.3h0m0.2 5.8h0m0.3-6.1h0m0.3 9.8h0m0.2-3.1h0m0.3-0.4h0m0.3-3.6h0m0.2-1.4h0m0.3 1.9h0m0.3 0.3h0m0.2-2.2h0m0.3 2h0m0.3 0.9h0m0.2-0.5h0m0.3-4.2h0m0.3-3h0m0.2 4.9h0m0.3-1.9h0m0.3 2.4h0m0.2 2.6h0m0.3-0.3h0m0.3-3.5h0m0.2 1.7h0m0.3 1h0m0.3-4.2h0m0.2 0.3h0m0.3 1.1h0m0.3-2.4h0m0.2-1.4h0m0.3-0.9h0m0.3 1.6h0m0.2-1.8h0m0.3 3.1h0m0.3-3h0m0.2 4h0m0.3-0.8h0m0.2-6.2h0m0.3 5.3h0m0.3-3.8h0m0.2 3.9h0m0.3-2.3h0m0.3-1.6h0m0.2 1.4h0m0.3-3.2h0m0.3 1.9h0m0.2-0.2h0m0.3-1.5h0m0.3 1h0m0.2-3.6h0m0.3 3.5h0m0.3-4.5h0m0.2 4.1h0m0.3-0.6h0m0.3 0.3h0m0.2-3.3h0m0.3 8.3h0m0.3-8.1h0m0.2 0.7h0m0.3-2.4h0m0.3 4.9h0m0.2-4.8h0m0.3 3.2h0m0.3-4.8h0m0.2 2.7h0m0.3-1.9h0m0.3 2.8h0m0.2-3.1h0m0.3-1.6h0m0.3 2.8h0m0.2-4.1h0m0.3 0.3h0m0.3 3.8h0m0.2-6.5h0m0.3 6h0m0.3-3h0m0.2-1.5h0m0.3 2.5h0m0.3 0.6h0m0.2-3.1h0m0.3 0.7h0m0.3 2.1h0m0.2-0.4h0m0.3-2.1h0m0.3-2h0m0.2-0.7h0m0.3 0.6h0m0.3 2.8h0m0.2-0.5h0m0.3-0.9h0m0.3 2.3h0m0.2-4.2h0m0.3-0.4h0m0.3-0.3h0m0.2 5.2h0m0.3-9.6h0m0.3 5.3h0m0.2 0.1h0m0.3-1.2h0m0.3 5.2h0m0.2-3h0m0.3-1.2h0m0.3-4.2h0m0.2 3.1h0m0.3-2.3h0m0.3 0.7h0m0.2 0.1h0m0.3-1.8h0m0.3 2.4h0m0.2 2.1h0m0.3-1.6h0m0.3-2.2h0m0.2-5.3h0m0.3 6.9h0m0.3-0.3h0m0.2-3.2h0m0.3-0.9h0m0.3 2.4h0m0.2-3.7h0m0.3 3.6h0m0.3-4.7h0m0.2 0.2h0m0.3 1.9h0m0.3-3.7h0m0.2 3.2h0m0.3 1.1h0m0.3-4.6h0m0.2 5h0m0.3-3.7h0m0.3 2.4h0m0.2-1h0m0.3-1.8h0m0.3-0.4h0m0.2-3h0m0.3 2.1h0m0.2-0.4h0m0.3 5.5h0m0.3-1.7h0m0.2-5.9h0m0.3 4.9h0m0.3-1.6h0m0.2-1.6h0m0.3 1.7h0m0.3 0.6h0m0.2-3.4h0m0.3 0.5h0m0.3 0.8h0m0.2-3h0m0.3 2.6h0m0.3-0.9h0m0.2-1.6h0m0.3-0.6h0m0.3 2.5h0m0.2 1.1h0m0.3-1.5h0m0.3-3h0m0.2 3.5h0m0.3-1.5h0m0.3 0.7h0m0.2 1.2h0m0.3-5.1h0m0.3 1.6h0m0.2-1.3h0m0.3-0.9h0m0.3 6.6h0m0.2-2.7h0m0.3-6.6h0m0.3 4.9h0m0.2-2.5h0m0.3 3.8h0m0.3-2.7h0m0.2-0.8h0m0.3 0.5h0m0.3 0.4h0m0.2-1.1h0m0.3-0.8h0m0.3 0h0m0.2 1.3h0m0.3-4h0m0.3 2.4h0m0.2-0.5h0m0.3-1h0m0.3 2.6h0m0.2-4.9h0m0.3 1.9h0m0.3-1.3h0m0.2 3.1h0m0.3-2.6h0m0.3 1h0m0.2 0.6h0m0.3-4.9h0m0.3 4.6h0m0.2-3h0m0.3 1h0m0.3 0.1h0m0.2 1.9h0m0.3-0.3h0m0.3 2.2h0m0.2-3.9h0m0.3-1.8h0m0.3-0.2h0m0.2 2.5h0m0.3 2h0m0.3-3.1h0m0.2-2.4h0m0.3 1.8h0m0.3-0.2h0m0.2-0.7h0m0.3-2h0m0.3-4.4h0m0.2 4.4h0m0.3 3.6h0m0.3-2.2h0m0.2-5.8h0m0.3 4.9h0m0.3-4.5h0m0.2 8.8h0m0.3-4.4h0m0.3-3.4h0m0.2 4.4h0m0.3-3.8h0m0.3 2.9h0m0.2-1.4h0m0.3-3h0m0.3 4.1h0m0.2-4.9h0m0.3 6.1h0m0.3-3.2h0m0.2-2.7h0m0.3-2h0m0.2 7.8h0m0.3-0.6h0m0.3-6.5h0m0.2 6.6h0m0.3-3.7h0m0.3-1h0m0.2 0.1h0m0.3-0.6h0m0.3 3.8h0m0.2-3.2h0m0.3-4.8h0m0.3 9h0m0.2-3.1h0m0.3-4.7h0m0.3 1.5h0m0.2-1.5h0m0.3 2.1h0m0.3 0.6h0m0.2-0.5h0m0.3-2.2h0m0.3-0.6h0m0.2 3.6h0m0.3-2.3h0m0.3 5.3h0m0.2-7.4h0m0.3 3.6h0m0.3-1.9h0m0.2-2.1h0m0.3 4.8h0m0.3-3.1h0m0.2-2.5h0m0.3 1.2h0m0.3 2.9h0m0.2-5.4h0m0.3 5.9h0m0.3-1.8h0m0.2-2.4h0m0.3 3.6h0m0.3 0.8h0m0.2-2.9h0m0.3-1.2h0m0.3 3.8h0m0.2-1h0m0.3-5.8h0m0.3 1.5h0m0.2-0.2h0m0.3-0.6h0m0.3-2.8h0m0.2 5.5h0m0.3-2.1h0m0.3-0.1h0m0.2 2.9h0m0.3-4.8h0m0.3 1h0m0.2 0.6h0m0.3-1.8h0m0.3 0.6h0m0.2 1.9h0m0.3-2h0m0.3 3h0m0.2-5.1h0m0.3 2.1h0m0.3-4h0m0.2 2.9h0m0.3-1.5h0m0.3 4.7h0m0.2-1.7h0m0.3-0.7h0m0.3 3h0m0.2-1.1h0m0.3-1.9h0m0.3-3.4h0m0.2-2h0m0.3 3.2h0m0.3-0.9h0m0.2-0.9h0m0.3 0.7h0m0.3-3.4h0m0.2 7.3h0m0.3-6.4h0m0.3 1h0m0.2 2.7h0m0.3-5.3h0m0.3 5.8h0m0.2-0.1h0m0.3-3.1h0m0.3-1.9h0m0.2 1.2h0m0.3-3.4h0m0.3 7.5h0m0.2-3.3h0m0.3-2h0m0.3-0.6h0m0.2 3.4h0m0.3 2h0m0.2-6.7h0m0.3 1.5h0m0.3-2.9h0m0.2 5.6h0m0.3-1.4h0m0.3 4.8h0m0.2-5.8h0m0.3-0.9h0m0.3-0.8h0m0.2 3.6h0m0.3-6h0m0.3 5.4h0m0.2-1.3h0m0.3-1.9h0m0.3-1.1h0m0.2 4.5h0m0.3 1.7h0m0.3-5.6h0m0.2 2.2h0m0.3 2.7h0m0.3-5.8h0m0.2 0.8h0m0.3-2.5h0m0.3 2.4h0m0.2 0h0m0.3-0.9h0m0.3-0.9h0m0.2-2.2h0m0.3 0.5h0m0.3 0.7h0m0.2 3.7h0m0.3-2.9h0m0.3-0.9h0m0.2 3.4h0m0.3-0.4h0m0.3-3.2h0m0.2 0.1h0m0.3 2.9h0m0.3-0.8h0m0.2-3h0m0.3 2.4h0m0.3-0.8h0m0.2 2.6h0m0.3-4.9h0m0.3 4.1h0m0.2-1.2h0m0.3-3.6h0m0.3 4.8h0m0.2-0.5h0m0.3-5.5h0m0.3 7.8h0m0.2-7.6h0m0.3 0.4h0m0.3 1.3h0m0.2 2.4h0m0.3-0.6h0m0.3-1.7h0m0.2 3.3h0m0.3-2.4h0m0.3 2.2h0m0.2 3.3h0m0.3-6.4h0m0.3-6.8h0m0.2 5h0m0.3-1.6h0m0.3 2.6h0m0.2-0.1h0m0.3-3.3h0m0.3 0h0m0.2 2h0m0.3 0.1h0m0.3-6h0m0.2 8.5h0m0.3-2.4h0m0.3-0.2h0m0.2 0.6h0m0.3-3.3h0m0.3 2.2h0m0.2 2.5h0m0.3-0.1h0m0.3-1.6h0m0.2-1.9h0m0.3-1.4h0m0.3 5h0m0.2-2h0m0.3-2.5h0m0.3-4.3h0m0.2 3h0m0.3-2.7h0m0.3 7.6h0m0.2-2.7h0m0.3-2.4h0m0.3 1h0m0.2 6.9h0m0.3-3.5h0m0.3-6.4h0m0.2 2.9h0m0.3-2.9h0m0.2-1.3h0m0.3 4.5h0m0.3 5.4h0m0.2-2.2h0m0.3-3.9h0m0.3-1.1h0m0.2 1.3h0m0.3 1.9h0m0.3-6.2h0m0.2-1.2h0m0.3 9.1h0m0.3-4.1h0m0.2 3.2h0m0.3-3.5h0m0.3 2.9h0m0.2-5.2h0m0.3 2.6h0m0.3 2.4h0m0.2-1.4h0m0.3-3.7h0m0.3 3.2h0m0.2-4h0m0.3-2h0m0.3 4.7h0m0.2 2h0m0.3-1.4h0m0.3-5.4h0m0.2 5.2h0m0.3-0.6h0m0.3-2.9h0m0.2-5.2h0m0.3 8.6h0m0.3-0.5h0m0.2-1h0m0.3-5.7h0m0.3 0.5h0m0.2 6.1h0m0.3-0.6h0m0.3-0.9h0m0.2-2h0m0.3 1.5h0m0.3-2.4h0m0.2 0.4h0m0.3-1.5h0m0.3 2.7h0m0.2-1.8h0m0.3 3.3h0m0.3-0.7h0m0.2-3.9h0m0.3 6.5h0m0.3-7.5h0m0.2 3.8h0m0.3 1.4h0m0.3 0.4h0m0.2-8.8h0m0.3 7.9h0m0.3 0.4h0m0.2 0.5h0m0.3-9.3h0m0.3 3.8h0m0.2 1.3h0m0.3-1h0m0.3 4.4h0m0.2-5.2h0m0.3 4.7h0m0.3-1.8h0m0.2-5.1h0m0.3 1h0m0.3 1.2h0m0.2 1.3h0m0.3 2.1h0m0.3-3h0m0.2 2.6h0m0.3-6.3h0m0.3-3.8h0m0.2 6.7h0m0.3 1.9h0m0.3-2.2h0m0.2-1.7h0m0.3 3.5h0m0.3 3.6h0m0.2-5.2h0m0.3-1.6h0m0.3-0.4h0m0.2 6.9h0m0.3-5.1h0m0.3 1.5h0m0.2 1.4h0m0.3-0.5h0m0.3-5.1h0m0.2 4.6h0m0.3-0.4h0m0.3-0.9h0m0.2 1.2h0m0.3-4.1h0m0.2 1.1h0m0.3-1.2h0m0.3 3.1h0m0.2-3.6h0m0.3 2.5h0m0.3-3.8h0m0.2 2.3h0m0.3-0.7h0m0.3 0.5h0m0.2 0.5h0m0.3-0.9h0m0.3-0.1h0m0.2-4.8h0m0.3 7.9h0m0.3-4.5h0m0.2 0.9h0m0.3-1.6h0m0.3 4.5h0m0.2-4.9h0m0.3 3.5h0m0.3 1.6h0m0.2 1h0m0.3-1.2h0m0.3-1.5h0m0.2-4.7h0m0.3 6.1h0m0.3-0.3h0m0.2-1h0m0.3-0.2h0m0.3-1.9h0m0.2-1.5h0m0.3 3.8h0m0.3 0.4h0m0.2-5.8h0m0.3 4.7h0m0.3-1.7h0m0.2 1.5h0m0.3-1.6h0m0.3 2h0m0.2-0.3h0m0.3-0.5h0m0.3-5.7h0m0.2 5.4h0m0.3-2.1h0m0.3-3h0m0.2 4.5h0m0.3-5.3h0m0.3 5.6h0m0.2 1.9h0m0.3-5.6h0m0.3 3.5h0m0.2-1.3h0m0.3 0.4h0m0.3-5.1h0m0.2 4.8h0m0.3-1.2h0m0.3 1.4h0m0.2-1.9h0m0.3 2.6h0m0.3-2.2h0m0.2 1h0m0.3 1.6h0m0.3-3h0m0.2 1.9h0m0.3-2h0m0.3 0.6h0m0.2-2.7h0m0.3 3.2h0m0.3 1h0m0.2-3.3h0m0.3 2.1h0m0.3-1h0m0.2-3.9h0m0.3 3.5h0m0.3 2.3h0m0.2-4.5h0m0.3-3.3h0m0.3 4.8h0m0.2-2.2h0m0.3 6.2h0m0.3-4.9h0m0.2 0h0m0.3-1.6h0m0.3 2.1h0m0.2-2.1h0m0.3-0.9h0m0.3 2h0m0.2-2h0m0.3 5.2h0m0.3-6.2h0m0.2 2.6h0m0.3-1.6h0m0.3-1.8h0m0.2 7.4h0m0.3-9.3h0m0.2 8.6h0m0.3-7.1h0m0.3 3.6h0m0.2 5.2h0m0.3-10.8h0m0.3 1.8h0m0.2 6.5h0m0.3-2.9h0m0.3-1.9h0m0.2 1.2h0m0.3-2.4h0m0.3 2.6h0m0.2 3.3h0m0.3-4.7h0m0.3 1.2h0m0.2 2.5h0m0.3 1.9h0m0.3-6.4h0m0.2 2.1h0m0.3-2.2h0m0.3-0.3h0m0.2 0.5h0m0.3-0.6h0m0.3-2.8h0m0.2-0.7h0m0.3 3h0m0.3 2h0m0.2 2.6h0m0.3-4.4h0m0.3 0.8h0m0.2 2h0m0.3 0.1h0m0.3-2.2h0m0.2 0.1h0m0.3 4.6h0m0.3-5.4h0m0.2-0.5h0m0.3-2.9h0m0.3 5h0m0.2-1.8h0m0.3 5.3h0m0.3-5.6h0m0.2 2.7h0m0.3 0.2h0m0.3 1.7h0m0.2-7.3h0m0.3 7h0m0.3-3.9h0m0.2-0.4h0m0.3-0.6h0m0.3-0.2h0m0.2 0h0m0.3-4.9h0m0.3 6.8h0m0.2-1.1h0m0.3-2.6h0m0.3 2.1h0m0.2 5.7h0m0.3-4.8h0m0.3-1.9h0m0.2 5h0m0.3-6.2h0m0.3 1.5h0m0.2-1h0m0.3 0.7h0m0.3 2.3h0m0.2-0.5h0m0.3-3.2h0m0.3 1.4h0m0.2 0.4h0m0.3-1.3h0m0.3 0.9h0m0.2-1.8h0m0.3-0.1h0m0.3 1.8h0m0.2-2.7h0m0.3 3.5h0m0.3-1.6h0m0.2-1.8h0m0.3 0.7h0m0.3 0.2h0m0.2 0.7h0m0.3 0.6h0m0.3-0.8h0m0.2-1.7h0m0.3 5.5h0m0.3-1.3h0m0.2-2h0m0.3 1.9h0m0.3-1.6h0m0.2-1.4h0m0.3 0.7h0m0.3 6.2h0m0.2-4.1h0m0.3 0h0m0.3-3.5h0m0.2 2.3h0m0.3 4h0m0.2-4.5h0m0.3 1.5h0m0.3 0.3h0m0.2-1.5h0m0.3 2.2h0m0.3-3.4h0m0.2 0.6h0m0.3-2.8h0m0.3 7.9h0m0.2-5.8h0m0.3-0.5h0m0.3 3h0m0.2-4.6h0m0.3 1.1h0m0.3-1.9h0m0.2 1.9h0m0.3-1.1h0m0.3 2.2h0m0.2-1.7h0m0.3-1.2h0m0.3 0.7h0m0.2 0.3h0m0.3-1h0m0.3 3.4h0m0.2-0.7h0m0.3-1.3h0m0.3-3.3h0m0.2 4.1h0m0.3-4.5h0m0.3 3.5h0m0.2-0.4h0m0.3-1.6h0m0.3-0.6h0m0.2 0.2h0m0.3 6.6h0m0.3-5.7h0m0.2 0.1h0m0.3 2.8h0m0.3-1.4h0m0.2 1.5h0m0.3-5.6h0m0.3 0.3h0m0.2 10.6h0m0.3-8.2h0m0.3-0.7h0m0.2 1h0m0.3 2h0m0.3-5.4h0m0.2 3.5h0m0.3-0.8h0m0.3 1.7h0m0.2-1.3h0m0.3-1.8h0m0.3-0.8h0m0.2-3.9h0m0.3 8.2h0m0.3-6h0m0.2 2.5h0m0.3 4.9h0m0.3-5h0m0.2 2.4h0m0.3-2.1h0m0.3 2.2h0m0.2-1.7h0m0.3-1.4h0m0.3 4.5h0m0.2-4h0m0.3-2.6h0m0.3 2.3h0m0.2 2.1h0m0.3-4.1h0m0.3 4.5h0m0.2-0.1h0m0.3 3.2h0m0.3-6.7h0m0.2 3.1h0m0.3-5.7h0m0.3 3h0m0.2 1.2h0m0.3 0.7h0m0.3-1.2h0m0.2-0.2h0m0.3-1.3h0m0.3 0.4h0m0.2 1.7h0m0.3 0.6h0m0.3 0.1h0m0.2 0.8h0m0.3 0.4h0m0.3-7.2h0m0.2 3h0m0.3 0.8h0m0.3-1.2h0m0.2 4h0m0.3-0.8h0m0.2-2.1h0m0.3 0.5h0m0.3 2.7h0m0.2-4h0m0.3 0.1h0m0.3 2.8h0m0.2-1.1h0m0.3 2.3h0m0.3-2.6h0m0.2 0.8h0m0.3-3.1h0m0.3-1h0m0.2 2.2h0m0.3-6.4h0m0.3 7.2h0m0.2 1.3h0m0.3-2.2h0m0.3-0.7h0m0.2 3.1h0m0.3-2.8h0m0.3 2.4h0m0.2 2.8h0m0.3-3.5h0m0.3 0.4h0m0.2-1.1h0m0.3-0.6h0m0.3 0h0m0.2-0.6h0m0.3 2.4h0m0.3-6.5h0m0.2 3.2h0m0.3 2.1h0m0.3-3.6h0m0.2 1.7h0m0.3-1.5h0m0.3 2.7h0m0.2 0.9h0m0.3 1.4h0m0.3-2.3h0m0.2-3h0m0.3 2.3h0m0.3 0.7h0m0.2 1.9h0m0.3-8.5h0m0.3 6h0m0.2-5.4h0m0.3 6.1h0m0.3-0.7h0m0.2 0.1h0m0.3 0.8h0m0.3-1.2h0m0.2-2.5h0m0.3 2.3h0m0.3 2h0m0.2-3.2h0m0.3 0.3h0m0.3-3h0m0.2 5.6h0m0.3-4.1h0m0.3-0.6h0m0.2 0.7h0m0.3-1.1h0m0.3 1.4h0m0.2 3.6h0m0.3-1.2h0m0.3 1.5h0m0.2 0.1h0m0.3-5.7h0m0.3 3.2h0m0.2 2.4h0m0.3 1.8h0m0.3-8.9h0m0.2 0h0m0.3 4.4h0m0.3-1.9h0m0.2-1.7h0m0.3 3.3h0m0.3-2.9h0m0.2-3.6h0m0.3 5.4h0m0.3 0.3h0m0.2 1.1h0m0.3 0.7h0m0.3-1.8h0m0.2-1.1h0m0.3-1.1h0m0.3-2.4h0m0.2 2.9h0m0.3 3.4h0m0.3-0.9h0m0.2 3.3h0m0.3-5.3h0m0.3-4h0m0.2 6.2h0m0.3 0.5h0m0.2-5.3h0m0.3-1.2h0m0.3 4.2h0m0.2 1.3h0m0.3-4.4h0m0.3 1.8h0m0.2-1.1h0m0.3-1h0m0.3-0.4h0m0.2 3.5h0m0.3-1.3h0m0.3-0.8h0m0.2-4.6h0m0.3 10.3h0m0.3-6.5h0m0.2 1.9h0m0.3-2.4h0m0.3 3.6h0m0.2-4.6h0m0.3 3.8h0m0.3-0.7h0m0.2 2.6h0m0.3-4.9h0m0.3 1h0m0.2 1h0m0.3 5.5h0m0.3-8.6h0m0.2 4.2h0m0.3-2.3h0m0.3 2.3h0m0.2 0.7h0m0.3-1.2h0m0.3 0.2h0m0.2 0h0m0.3-2.1h0m0.3 0.8h0m0.2-3.5h0m0.3 3.1h0m0.3-1h0m0.2 1.2h0m0.3 2.3h0m0.3-0.9h0m0.2 0.2h0m0.3 1.4h0m0.3-8.3h0m0.2 6.6h0m0.3-1.1h0m0.3-0.2h0m0.2-2.9h0m0.3 4.3h0m0.3 1.4h0m0.2-0.3h0m0.3-2.7h0m0.3 1.7h0m0.2 0.6h0m0.3 2.1h0m0.3-1.4h0m0.2-2.7h0m0.3-0.1h0m0.3 0.1h0m0.2 0.1h0m0.3-1.8h0m0.3 3h0m0.2-3.5h0m0.3-0.3h0m0.3 2.7h0m0.2-2.2h0m0.3 0.7h0m0.3-4.4h0m0.2 6.8h0m0.3-2h0m0.3-0.3h0m0.2 1.4h0m0.3-0.7h0m0.3-2.2h0m0.2 6.4h0m0.3-5.9h0m0.3 3.4h0m0.2 2h0m0.3-5.9h0m0.3 1.7h0m0.2-2.2h0m0.3 4.4h0m0.3-3.4h0m0.2-1.8h0m0.3 5.7h0m0.3-1h0m0.2-4.3h0m0.3 4.9h0m0.3-2.4h0m0.2 5.9h0m0.3-2.4h0m0.3-5.4h0m0.2 0.6h0m0.3-1.5h0m0.3 2.4h0m0.2-0.3h0m0.3 1.6h0m0.2-1.5h0m0.3-3.8h0m0.3 1.5h0m0.2 5.3h0m0.3-0.6h0m0.3-3.2h0m0.2 0h0m0.3-0.1h0m0.3 0.4h0m0.2-4.1h0m0.3 6.1h0m0.3-3.7h0m0.2 1.8h0m0.3-6.4h0m0.3 6.6h0m0.2 2.6h0m0.3-8.6h0m0.3 8.9h0m0.2-2.5h0m0.3-2.9h0m0.3-2.1h0m0.2 6.5h0m0.3-2.1h0m0.3 0.7h0m0.2-2.1h0m0.3-1.3h0m0.3 4h0m0.2-4.4h0m0.3 4.4h0m0.3-6.2h0m0.2 1.7h0m0.3-1.3h0m0.3 6.6h0m0.2-7.4h0m0.3 1.5h0m0.3 4.2h0m0.2-1h0m0.3 4.6h0m0.3-0.8h0m0.2-3h0m0.3 0.1h0m0.3-6h0m0.2 2.2h0m0.3 1.3h0m0.3 0.3h0m0.2-2.9h0m0.3 1h0m0.3 0.2h0m0.2 4.5h0m0.3-1.5h0m0.3-1.9h0m0.2 0.1h0m0.3 1.4h0m0.3-2.4h0m0.2 1h0m0.3-3.6h0m0.3 5.7h0m0.2 0.7h0m0.3-1.5h0m0.3 0.3h0m0.2-0.3h0m0.3 3.9h0m0.3-4.4h0m0.2-3.7h0m0.3 0.7h0m0.3 4.1h0m0.2 0.8h0m0.3-0.7h0m0.3 0.1h0m0.2-1.6h0m0.3-4h0m0.3 1.8h0m0.2-2.6h0m0.3 3.3h0m0.3-2.3h0m0.2 3.4h0m0.3-0.6h0m0.3-4.3h0m0.2 6.3h0m0.3 0.1h0m0.3-5.2h0m0.2 3.6h0m0.3 1.4h0m0.3-2.5h0m0.2 2.7h0m0.3-1.6h0m0.3 2.1h0m0.2-2.2h0m0.3-0.8h0m0.3 1.6h0m0.2 0.6h0m0.3-1.3h0m0.3-1.7h0m0.2-0.9h0m0.3 1h0m0.2-0.5h0m0.3 1.8h0m0.3-0.1h0m0.2-0.7h0m0.3 0.2h0m0.3 0.4h0m0.2 3.3h0m0.3-0.9h0m0.3-4.3h0m0.2 2.4h0m0.3-1.9h0m0.3 0.5h0m0.2-0.3h0m0.3-1h0m0.3-1.8h0m0.2-2.7h0m0.3 6.4h0m0.3 2.3h0m0.2-5h0m0.3 3.4h0m0.3-2.2h0m0.2 1.5h0m0.3-2.6h0m0.3 1.4h0m0.2 0.2h0m0.3-5.5h0m0.3 6.2h0m0.2-0.8h0m0.3-5.7h0m0.3 7.5h0m0.2-1.7h0m0.3 0.6h0m0.3 0.3h0m0.2-1.9h0m0.3-1.6h0m0.3 1.5h0m0.2 0h0m0.3 6.3h0m0.3-0.9h0m0.2-5.7h0m0.3 0.2h0m0.3 1.7h0m0.2 0.6h0m0.3-3.1h0m0.3-0.7h0m0.2 7h0m0.3-2.1h0m0.3-6.4h0m0.2-0.5h0m0.3 2.2h0m0.3 2.5h0m0.2 0.8h0m0.3-2.2h0m0.3-3.1h0m0.2 4.4h0m0.3 0.9h0m0.3-1.5h0m0.2-1.2h0m0.3 2.6h0m0.3-1.6h0m0.2-2.6h0m0.3 2.9h0m0.3-3.4h0m0.2 5.5h0m0.3-1.3h0m0.3-3.5h0m0.2 2.9h0m0.3 2.5h0m0.3-8.3h0m0.2 4.8h0m0.3 4.3h0m0.3-7.8h0m0.2 3.4h0m0.3-3.1h0m0.3 3.3h0m0.2-5.7h0m0.3 1.8h0m0.3 2.6h0m0.2 1.7h0m0.3 0.5h0m0.3 0.1h0m0.2 1.7h0m0.3-1.1h0m0.3 0.1h0m0.2-4.2h0m0.3 2h0m0.3 8.1h0m0.2-2.3h0m0.3-3.5h0m0.3-0.3h0m0.2 0.6h0m0.3-3.4h0m0.3 5.7h0m0.2-5.7h0m0.3 0.7h0m0.2 5.5h0m0.3-10.4h0m0.3 5.9h0m0.2-5.1h0m0.3 2.6h0m0.3 1.3h0m0.2-0.6h0m0.3 1.2h0m0.3-2.3h0m0.2 1.6h0m0.3-2.7h0m0.3 1.9h0m0.2-2.4h0m0.3 5h0m0.3-4.9h0m0.2 4.9h0m0.3-2.7h0m0.3 0.2h0m0.2 3.6h0m0.3-2.6h0m0.3-5h0m0.2 5.9h0m0.3-8.4h0m0.3 7.8h0m0.2-1.7h0m0.3-2.5h0m0.3 3.6h0m0.2-1h0m0.3 5.7h0m0.3-6h0m0.2 5.8h0m0.3-1.4h0m0.3-4.9h0m0.2-0.6h0m0.3 5.3h0m0.3-3.6h0m0.2 0.7h0m0.3-1.1h0m0.3-2.4h0m0.2 2.1h0m0.3-1.5h0m0.3-1.4h0m0.2 3h0m0.3 5.1h0m0.3-0.4h0m0.2-4.2h0m0.3 0.5h0m0.3 0.9h0m0.2 2.1h0m0.3-2.6h0m0.3-2h0m0.2 0.2h0m0.3 3.7h0m0.3 3.7h0m0.2-8.1h0m0.3-3.6h0m0.3 7.1h0m0.2-2.2h0m0.3 0.5h0m0.3 2.7h0m0.2-2.9h0m0.3-3.5h0m0.3-1.6h0m0.2 4.7h0m0.3-2.7h0m0.3 3.5h0m0.2-3.9h0m0.3 2.3h0m0.3-2.8h0m0.2 2.7h0m0.3-0.2h0m0.3 2.6h0m0.2 1.8h0m0.3-3.8h0m0.3-1.7h0m0.2 7h0m0.3-4h0m0.3 0.6h0m0.2-0.1h0m0.3 2.1h0m0.3-1.1h0m0.2-0.8h0m0.3 0.2h0m0.3-4.1h0m0.2 0.6h0m0.3 1.2h0m0.3 0.5h0m0.2-0.2h0m0.3 0.7h0m0.3-0.7h0m0.2-1.2h0m0.3-3h0m0.3 6.1h0m0.2-0.6h0m0.3-3.7h0m0.3 3.4h0m0.2-0.3h0m0.3-0.8h0m0.2-4.8h0m0.3 1.6h0m0.3 1.5h0m0.2 5.5h0m0.3-6.2h0m0.3 1.2h0m0.2-1.9h0m0.3 1.5h0m0.3 2.1h0m0.2-6.1h0m0.3-1.9h0m0.3 8.7h0m0.2-1.6h0m0.3-1.6h0m0.3 3.9h0m0.2 0h0m0.3-7.7h0m0.3 4.8h0m0.2 3.2h0m0.3-4.5h0m0.3 0.9h0m0.2 3.2h0m0.3-3.1h0m0.3-2.4h0m0.2 1.3h0m0.3-1.6h0m0.3 4.7h0m0.2-5.8h0m0.3 6.8h0m0.3-6.6h0m0.2 4.2h0m0.3-3.8h0m0.3 2.9h0m0.2 3.3h0m0.3 0.2h0m0.3 0.4h0m0.2-3.5h0m0.3 0.5h0m0.3 0.3h0m0.2 1h0m0.3-2.6h0m0.3 3.7h0m0.2-1.9h0m0.3 2h0m0.3-1.7h0m0.2 0.5h0m0.3-3.5h0m0.3 0.7h0m0.2-2.2h0m0.3 2.5h0m0.3 0.3h0m0.2 2.5h0m0.3-5.3h0m0.3 11.2h0m0.2-8.4h0m0.3 3.5h0m0.3-0.6h0m0.2-8.9h0m0.3 5.6h0m0.3 4.3h0m0.2-9.7h0m0.3 7.9h0m0.3-4.2h0m0.2 1.1h0m0.3 1.7h0m0.3-5.2h0m0.2 5.1h0m0.3-2.1h0m0.3-0.3h0m0.2 3.6h0m0.3 7h0m0.3-7.9h0m0.2 0.5h0m0.3-1.6h0m0.3-1.7h0m0.2 2.5h0m0.3 3.1h0m0.3-3.3h0m0.2 1.7h0m0.3-2.8h0m0.3 6.8h0m0.2-10.4h0m0.3 5.6h0m0.3-0.2h0m0.2-0.7h0m0.3-3.4h0m0.3-0.1h0m0.2 2.2h0m0.3 0.8h0m0.3-3.3h0m0.2 0.4h0m0.3 4h0m0.3 1.2h0m0.2-4h0m0.3-0.4h0m0.2-0.1h0m0.3 8h0m0.3-4.9h0m0.2-1.5h0m0.3 2.7h0m0.3 3.2h0m0.2-2.8h0m0.3-6.5h0m0.3 3.3h0m0.2-0.8h0m0.3 0.1h0m0.3-2.2h0m0.2 2.1h0m0.3-1.8h0m0.3 3.6h0m0.2-0.8h0m0.3-3.7h0m0.3-0.7h0m0.2 3h0m0.3 2.9h0m0.3-0.4h0m0.2-1.5h0m0.3-8.1h0m0.3 7h0m0.2-0.6h0m0.3 1h0m0.3-2.2h0m0.2 1.9h0m0.3-0.6h0m0.3 8.5h0m0.2-5.1h0m0.3-2.3h0m0.3 0.4h0m0.2-0.2h0m0.3 0.8h0m0.3-1.5h0m0.2 0.9h0m0.3 2.6h0m0.3-0.5h0m0.2-1.3h0m0.3 2.5h0m0.3-2.8h0m0.2-3h0m0.3-1.9h0m0.3 2.6h0m0.2 1.5h0m0.3 1.2h0m0.3 1.7h0m0.2-4.2h0m0.3-0.6h0m0.3 4h0m0.2 1h0m0.3-4.2h0m0.3 2h0m0.2 2.6h0m0.3-2.6h0m0.3-1h0m0.2-5.1h0m0.3 8.5h0m0.3-1.7h0m0.2-1.3h0m0.3-1.5h0m0.3-2h0m0.2 2.9h0m0.3-0.1h0m0.3 3h0m0.2-5.8h0m0.3 6.7h0m0.3-3.6h0m0.2 2.9h0m0.3-5.4h0m0.3 3.3h0m0.2 2.2h0m0.3-2.8h0m0.3-4h0m0.2 2.8h0m0.3 2.2h0m0.3-4.9h0m0.2-0.1h0m0.3 4.2h0m0.3-3h0m0.2 4.1h0m0.3-4.7h0m0.3-1.7h0m0.2 2.7h0m0.3 5.6h0m0.3-5.9h0m0.2 2.2h0m0.3 0.6h0m0.3-3h0m0.2 5.1h0m0.3-2.3h0m0.3 0.6h0m0.2-5.3h0m0.3-0.2h0m0.2-2.5h0m0.3 6.4h0m0.3-0.1h0m0.2 2.3h0m0.3 1.9h0m0.3-4.3h0m0.2-0.1h0m0.3 1.8h0m0.3 2.7h0m0.2-5.9h0m0.3 3.6h0m0.3-2.2h0m0.2-0.2h0m0.3 2.8h0m0.3-4h0m0.2-0.7h0m0.3 4.3h0m0.3-1.7h0m0.2-0.6h0m0.3 0.3h0m0.3 1.5h0m0.2-2.2h0m0.3 2.9h0m0.3-0.9h0m0.2 2.6h0m0.3-0.5h0m0.3-1h0m0.2-2.7h0m0.3 0.8h0m0.3-1.8h0m0.2 8.6h0m0.3-7.7h0m0.3 1.9h0m0.2 2h0m0.3-6.8h0m0.3 1.3h0m0.2 1.1h0m0.3-1.5h0m0.3-0.7h0m0.2 1.8h0m0.3 4.6h0m0.3-1.5h0m0.2-1.7h0m0.3 0h0m0.3-4.3h0m0.2 5.9h0m0.3-0.7h0m0.3-3.8h0m0.2 3.2h0m0.3-1h0m0.3-0.8h0m0.2-1.2h0m0.3 0.8h0m0.3-0.7h0m0.2 3.5h0m0.3-0.2h0m0.3-0.2h0m0.2-1.2h0m0.3-0.6h0m0.3 6.1h0m0.2-9.8h0m0.3 7.7h0m0.3-2.2h0m0.2-0.7h0m0.3-1.4h0m0.3 0.7h0m0.2-2.5h0m0.3-0.5h0m0.3 3.2h0m0.2-3.9h0m0.3 6.3h0m0.3 0.6h0m0.2-11.4h0m0.3 4.7h0m0.3 4.6h0m0.2-0.2h0m0.3-0.2h0m0.3 0.7h0m0.2 0.8h0m0.3 0.3h0m0.3 2.3h0m0.2-4.4h0m0.3 2.1h0m0.3-6.3h0m0.2 3.8h0m0.3-2.8h0m0.3 6.6h0m0.2 2.3h0m0.3-4.5h0m0.3-4.6h0m0.2 2.9h0m0.3 0.4h0m0.3 0.4h0m0.2 2.2h0m0.3-0.3h0m0.3-9.1h0m0.2 10.1h0m0.3-4.7h0m0.2-0.2h0m0.3 5h0m0.3-4.3h0m0.2-2.7h0m0.3 0.1h0m0.3 3.4h0m0.2 2.1h0m0.3 1.5h0m0.3-4.2h0m0.2-0.7h0m0.3 5.2h0m0.3-5.2h0m0.2 4.7h0m0.3-3h0m0.3 0h0m0.2-1.2h0m0.3 1.3h0m0.3-1.9h0m0.2-0.6h0m0.3 1.4h0m0.3-1.3h0m0.2 2.4h0m0.3-0.6h0m0.3-0.9h0m0.2 0.2h0m0.3-0.1h0m0.3 4.9h0m0.2-4.4h0m0.3-1.5h0m0.3 0.8h0m0.2 2.4h0m0.3-2.2h0m0.3 0.1h0m0.2-0.3h0m0.3 1.1h0m0.3 0.5h0m0.2 0.1h0m0.3-5.2h0m0.3 1.4h0m0.2-3.9h0m0.3 8.6h0m0.3 0.8h0m0.2 0.4h0m0.3-2.9h0m0.3 2.5h0m0.2-3h0m0.3-0.2h0m0.3-3.5h0m0.2 1.9h0m0.3 0.4h0m0.3 3.8h0m0.2 1.8h0m0.3-5.3h0m0.3 2.1h0m0.2-0.3h0m0.3-2.6h0m0.3-2.4h0m0.2 2.4h0m0.3-1.7h0m0.3 2.8h0m0.2 0.4h0m0.3-0.1h0m0.3 0h0m0.2 1.7h0m0.3-3.6h0m0.3 4.5h0m0.2-6.4h0m0.3 4.4h0m0.3 0.8h0m0.2-3h0m0.3-2h0m0.3 5.6h0m0.2-3.3h0m0.3 3.6h0m0.3-0.1h0m0.2-1.9h0m0.3 0h0m0.3 2.5h0m0.2-1.6h0m0.3-3.2h0m0.3 2.7h0m0.2 0.9h0m0.3-0.8h0m0.3-0.1h0m0.2-0.8h0m0.3 0h0m0.3-2h0m0.2-1.3h0m0.3 6.4h0m0.3-4.4h0m0.2 2.1h0m0.3-4.3h0m0.3 4.1h0m0.2-2.4h0m0.3 9.4h0m0.2-9.9h0m0.3 0.1h0m0.3 4.8h0m0.2 0.4h0m0.3-8.1h0m0.3 5.9h0m0.2 1.6h0m0.3-5.3h0m0.3 4.7h0m0.2-3h0m0.3-1.2h0m0.3 1.6h0m0.2-0.2h0m0.3-2.4h0m0.3 9.1h0m0.2-6.7h0m0.3-0.8h0m0.3 4h0m0.2-2.3h0m0.3 3.5h0m0.3-4h0m0.2 1.5h0m0.3-0.7h0m0.3 0.2h0m0.2-0.9h0m0.3 0.2h0m0.3 4.4h0m0.2-5.8h0m0.3 0.3h0m0.3 0.5h0m0.2 2.3h0m0.3-0.5h0m0.3 1.3h0m0.2-5.6h0m0.3 4h0m0.3-1.1h0m0.2-0.3h0m0.3 1.1h0m0.3-5.3h0m0.2 5.5h0m0.3-0.3h0m0.3-3.9h0m0.2 3.3h0m0.3 4.1h0m0.3-4.8h0m0.2 2.4h0m0.3-2.1h0m0.3-1.4h0m0.2-0.3h0m0.3 1.3h0m0.3 4.2h0m0.2-1.2h0m0.3-3.8h0m0.3 4.2h0m0.2-2.8h0m0.3-1.4h0m0.3 2.8h0m0.2-3.3h0m0.3-1.7h0m0.3 7.1h0m0.2-7.7h0m0.3 5.8h0m0.3-5.1h0m0.2 3.7h0m0.3-0.4h0m0.3-0.6h0m0.2-4.4h0m0.3 5.2h0m0.3 0.1h0m0.2-2.1h0m0.3 2h0m0.3 2.6h0m0.2-4.2h0m0.3 2.4h0m0.3-3.5h0m0.2 3.8h0m0.3 0.6h0m0.3 4.6h0m0.2-3.9h0m0.3-1.2h0m0.3 2.4h0m0.2-5.9h0m0.3 5.1h0m0.3-4h0m0.2-0.2h0m0.3 4.2h0m0.3-2.1h0m0.2 2.6h0m0.3-6.8h0m0.3 4.2h0m0.2-1.9h0m0.3 0.6h0m0.3-4.1h0m0.2 7h0m0.3-1.8h0m0.2-2.9h0m0.3-0.9h0m0.3 1.2h0m0.2 5.5h0m0.3-3.7h0m0.3-0.5h0m0.2 2h0m0.3-1.2h0m0.3 0.5h0m0.2 1.3h0m0.3-1h0m0.3 1.3h0m0.2-5.1h0m0.3 3.1h0m0.3-1h0m0.2 1.1h0m0.3-0.4h0m0.3-1.5h0m0.2 0.7h0m0.3 3.2h0m0.3-3.7h0m0.2-1.7h0m0.3 4.5h0m0.3 1h0m0.2-3.1h0m0.3 1h0m0.3-2.4h0m0.2 1.5h0m0.3 3.3h0m0.3-0.8h0m0.2-1.6h0m0.3-1.1h0m0.3-3.3h0m0.2 4.8h0m0.3 0.3h0m0.3 1.5h0m0.2 2.3h0m0.3-4h0m0.3 1.4h0m0.2-5.1h0m0.3 5.7h0m0.3-0.8h0m0.2 1.2h0m0.3-1.7h0m0.3-0.6h0m0.2 2.6h0m0.3-5.3h0m0.3 3.2h0m0.2 1.1h0m0.3-4.6h0m0.3-0.9h0m0.2 3.9h0m0.3-0.8h0m0.3 1.2h0m0.2 0.1h0m0.3-3.5h0m0.3 2.7h0m0.2 1.9h0m0.3-3.6h0m0.3 0.2h0m0.2-2.1h0m0.3 4.7h0m0.3 2.8h0m0.2-8.1h0m0.3 5.2h0m0.3 0.3h0m0.2-3.6h0m0.3 0.5h0m0.3-1.6h0m0.2 0.6h0m0.3 2.3h0m0.3 1.2h0m0.2-1.3h0m0.3 1.8h0m0.3-1.6h0m0.2-3.4h0m0.3 6.4h0m0.3-0.7h0m0.2-4.6h0m0.3 6.1h0m0.3-3.2h0m0.2-0.8h0m0.3 4.3h0m0.3-10.8h0m0.2 2.2h0m0.3 5.6h0m0.3-2.3h0m0.2-1.7h0m0.3 6h0m0.3-2.5h0m0.2-4.3h0m0.3 1.5h0m0.3 3.6h0m0.2 2.3h0m0.3-9.2h0m0.3 5.5h0m0.2-1.6h0m0.3-3.3h0m0.2 3.8h0m0.3-3.5h0m0.3 2.6h0m0.2 5.3h0m0.3-2.7h0m0.3 0.6h0m0.2-0.4h0m0.3-0.6h0m0.3 1.5h0m0.2-5.3h0m0.3 2h0m0.3 3h0m0.2-3.9h0m0.3 0.7h0m0.3 4h0m0.2 0.8h0m0.3-5.2h0m0.3-0.5h0m0.2 3.4h0m0.3-0.8h0m0.3-2.3h0m0.2 3.1h0m0.3-0.1h0m0.3-1.2h0m0.2 7h0m0.3-3.9h0m0.3-1.3h0m0.2 0.5h0m0.3 4.7h0m0.3-4.5h0m0.2-4.5h0m0.3 2.6h0m0.3-0.6h0m0.2-1.6h0m0.3 2h0m0.3 0h0m0.2-0.8h0m0.3-1h0m0.3 3.2h0m0.2-6h0m0.3 5.9h0m0.3-2h0m0.2 0.7h0m0.3-6.5h0m0.3 9.9h0m0.2-8.3h0m0.3 2.1h0m0.3 3.7h0m0.2-3.1h0m0.3 0.5h0m0.3-4.5h0m0.2 4.4h0m0.3 1.6h0m0.3 1.1h0m0.2-2.3h0m0.3 1.2h0m0.3 0.5h0m0.2-2.7h0m0.3-0.2h0m0.3 6.6h0m0.2-6.9h0m0.3 5.1h0m0.3-2.8h0m0.2 3.4h0m0.3-5.2h0m0.3 2.9h0m0.2-0.5h0m0.3-1.4h0m0.3 1.3h0m0.2-2.6h0m0.3 1.7h0m0.3-0.8h0m0.2 2.8h0m0.3-2.1h0m0.3-3.2h0m0.2 2.5h0m0.3 0.7h0m0.3-2h0m0.2 5.5h0m0.3-2.3h0m0.3 1.1h0m0.2-4h0m0.3 0.9h0m0.3 3.5h0m0.2-6h0m0.3 4.4h0m0.3-0.7h0m0.2-1.4h0m0.3 1.4h0m0.3-2.9h0m0.2 3.2h0m0.3-3.5h0m0.3-0.2h0m0.2 6.6h0m0.3-5.2h0m0.2-3.5h0m0.3 7.6h0m0.3-4.3h0m0.2-6.7h0m0.3 8.5h0m0.3 2.4h0m0.2-1.4h0m0.3 3.3h0m0.3-4.5h0m0.2 1.8h0m0.3-4h0m0.3 2.9h0m0.2 3.3h0m0.3-2.5h0m0.3-0.8h0m0.2-5.3h0m0.3 3.9h0m0.3-2.2h0m0.2 5.1h0m0.3-3.8h0m0.3 2.7h0m0.2-3.3h0m0.3 7.1h0m0.3-7.6h0m0.2 3.3h0m0.3 6.1h0m0.3-6h0m0.2-2.6h0m0.3 3.6h0m0.3 0.9h0m0.2-0.3h0m0.3-7h0m0.3 5.4h0m0.2-5.8h0m0.3 9.9h0m0.3-4.5h0m0.2-1.3h0m0.3 2.8h0m0.3-0.5h0m0.2-4.1h0m0.3 6.9h0m0.3-4.6h0m0.2-3.7h0m0.3 7.8h0m0.3 0.3h0m0.2-0.7h0m0.3-1.7h0" fill="none" stroke="#dc291b" stroke-width="4.6" stroke-linecap="round"/>
<polyline points="933.8,1635.2 933.8,1635.1 933.8,1635.0 933.8,1634.8 933.8,1634.5 933.9,1634.1 933.9,1633.7 933.9,1633.2 934.0,1632.6 934.0,1631.9 934.1,1631.2 934.1,1630.4 934.2,1629.6 934.2,1628.7 934.3,1627.7 934.4,1626.7 934.5,1625.7 934.5,1624.7 934.6,1623.6 934.7,1622.5 934.8,1621.4 934.9,1620.2 935.0,1619.1 935.2,1617.9 935.3,1616.8 935.4,1615.6 935.5,1614.5 935.7,1613.3 935.8,1612.2 936.0,1611.1 936.1,1610.0 936.3,1608.9 936.4,1607.8 936.6,1606.8 936.8,1605.7 936.9,1604.7 937.1,1603.7 937.3,1602.8 937.5,1601.8 937.7,1600.9 937.9,1599.9 938.1,1599.0 938.3,1598.2 938.5,1597.3 938.7,1596.5 939.0,1595.6 939.2,1594.8 939.4,1594.0 939.7,1593.2 939.9,1592.4 940.2,1591.6 940.4,1590.8 940.7,1590.1 941.0,1589.3 941.2,1588.5 941.5,1587.8 941.8,1587.0 942.1,1586.3 942.4,1585.5 942.7,1584.7 943.0,1584.0 943.3,1583.2 943.6,1582.5 943.9,1581.7 944.3,1580.9 944.6,1580.1 944.9,1579.3 945.3,1578.5 945.6,1577.7 946.0,1576.9 946.3,1576.1 946.7,1575.3 947.0,1574.5 947.4,1573.6 947.8,1572.8 948.2,1571.9 948.5,1571.1 948.9,1570.2 949.3,1569.4 949.7,1568.5 950.1,1567.6 950.6,1566.7 951.0,1565.8 951.4,1564.9 951.8,1563.9 952.2,1563.0 952.7,1562.1 953.1,1561.1 953.6,1560.2 954.0,1559.2 954.5,1558.3 954.9,1557.3 955.4,1556.3 955.9,1555.3 956.4,1554.3 956.8,1553.3 957.3,1552.3 957.8,1551.3 958.3,1550.3 958.8,1549.3 959.3,1548.2 959.8,1547.2 960.4,1546.1 960.9,1545.1 961.4,1544.0 961.9,1543.0 962.5,1541.9 963.0,1540.8 963.6,1539.7 964.1,1538.7 964.7,1537.6 965.3,1536.5 965.8,1535.4 966.4,1534.3 967.0,1533.1 967.6,1532.0 968.1,1530.9 968.7,1529.8 969.3,1528.7 969.9,1527.5 970.6,1526.4 971.2,1525.2 971.8,1524.1 972.4,1522.9 973.0,1521.8 973.7,1520.6 974.3,1519.5 975.0,1518.3 975.6,1517.1 976.3,1516.0 976.9,1514.8 977.6,1513.6 978.3,1512.4 979.0,1511.2 979.6,1510.1 980.3,1508.9 981.0,1507.7 981.7,1506.5 982.4,1505.3 983.1,1504.1 983.8,1502.9 984.5,1501.7 985.3,1500.5 986.0,1499.3 986.7,1498.1 987.5,1496.9 988.2,1495.7 989.0,1494.5 989.7,1493.2 990.5,1492.0 991.2,1490.8 992.0,1489.6 992.8,1488.4 993.6,1487.2 994.3,1486.0 995.1,1484.7 995.9,1483.5 996.7,1482.3 997.5,1481.1 998.3,1479.9 999.1,1478.6 1000.0,1477.4 1000.8,1476.2 1001.6,1475.0 1002.5,1473.8 1003.3,1472.6 1004.1,1471.3 1005.0,1470.1 1005.8,1468.9 1006.7,1467.7 1007.6,1466.5 1008.4,1465.3 1009.3,1464.1 1010.2,1462.8 1011.1,1461.6 1012.0,1460.4 1012.9,1459.2 1013.8,1458.0 1014.7,1456.8 1015.6,1455.6 1016.5,1454.4 1017.4,1453.2 1018.3,1452.0 1019.3,1450.8 1020.2,1449.6 1021.2,1448.4 1022.1,1447.3 1023.1,1446.1 1024.0,1444.9 1025.0,1443.7 1025.9,1442.5 1026.9,1441.4 1027.9,1440.2 1028.9,1439.0 1029.9,1437.9 1030.9,1436.7 1031.9,1435.5 1032.9,1434.4 1033.9,1433.2 1034.9,1432.1 1035.9,1430.9 1036.9,1429.8 1037.9,1428.6 1039.0,1427.5 1040.0,1426.4 1041.1,1425.2 1042.1,1424.1 1043.2,1423.0 1044.2,1421.9 1045.3,1420.8 1046.4,1419.6 1047.4,1418.5 1048.5,1417.4 1049.6,1416.3 1050.7,1415.2 1051.8,1414.1 1052.9,1413.1 1054.0,1412.0 1055.1,1410.9 1056.2,1409.8 1057.3,1408.8 1058.5,1407.7 1059.6,1406.6 1060.7,1405.6 1061.9,1404.5 1063.0,1403.5 1064.2,1402.4 1065.3,1401.4 1066.5,1400.4 1067.6,1399.3 1068.8,1398.3 1070.0,1397.3 1071.2,1396.3 1072.4,1395.3 1073.6,1394.3 1074.8,1393.3 1076.0,1392.3 1077.2,1391.3 1078.4,1390.3 1079.6,1389.3 1080.8,1388.3 1082.0,1387.4 1083.3,1386.4 1084.5,1385.5 1085.8,1384.5 1087.0,1383.6 1088.3,1382.6 1089.5,1381.7 1090.8,1380.7 1092.0,1379.8 1093.3,1378.9 1094.6,1378.0 1095.9,1377.1 1097.2,1376.2 1098.5,1375.3 1099.8,1374.4 1101.1,1373.5 1102.4,1372.6 1103.7,1371.7 1105.0,1370.9 1106.3,1370.0 1107.7,1369.1 1109.0,1368.3 1110.3,1367.4 1111.7,1366.6 1113.0,1365.8 1114.4,1364.9 1115.7,1364.1 1117.1,1363.3 1118.5,1362.5 1119.9,1361.6 1121.2,1360.8 1122.6,1360.0 1124.0,1359.3 1125.4,1358.5 1126.8,1357.7 1128.2,1356.9 1129.6,1356.1 1131.0,1355.4 1132.5,1354.6 1133.9,1353.9 1135.3,1353.1 1136.8,1352.4 1138.2,1351.6 1139.7,1350.9 1141.1,1350.2 1142.6,1349.5 1144.0,1348.7 1145.5,1348.0 1147.0,1347.3 1148.4,1346.6 1149.9,1345.9 1151.4,1345.3 1152.9,1344.6 1154.4,1343.9 1155.9,1343.2 1157.4,1342.6 1158.9,1341.9 1160.5,1341.3 1162.0,1340.6 1163.5,1340.0 1165.0,1339.3 1166.6,1338.7 1168.1,1338.1 1169.7,1337.4 1171.2,1336.8 1172.8,1336.2 1174.3,1335.6 1175.9,1335.0 1177.5,1334.4 1179.1,1333.8 1180.7,1333.3 1182.2,1332.7 1183.8,1332.1 1185.4,1331.5 1187.0,1331.0 1188.7,1330.4 1190.3,1329.9 1191.9,1329.3 1193.5,1328.8 1195.1,1328.2 1196.8,1327.7 1198.4,1327.2 1200.1,1326.7 1201.7,1326.1 1203.4,1325.6 1205.0,1325.1 1206.7,1324.6 1208.4,1324.1 1210.1,1323.6 1211.7,1323.2 1213.4,1322.7 1215.1,1322.2 1216.8,1321.7 1218.5,1321.3 1220.2,1320.8 1221.9,1320.3 1223.7,1319.9 1225.4,1319.4 1227.1,1319.0 1228.8,1318.6 1230.6,1318.1 1232.3,1317.7 1234.1,1317.3 1235.8,1316.8 1237.6,1316.4 1239.3,1316.0 1241.1,1315.6 1242.9,1315.2 1244.7,1314.8 1246.4,1314.4 1248.2,1314.0 1250.0,1313.6 1251.8,1313.3 1253.6,1312.9 1255.4,1312.5 1257.3,1312.1 1259.1,1311.8 1260.9,1311.4 1262.7,1311.1 1264.6,1310.7 1266.4,1310.3 1268.3,1310.0 1270.1,1309.7 1272.0,1309.3 1273.8,1309.0 1275.7,1308.7 1277.6,1308.3 1279.4,1308.0 1281.3,1307.7 1283.2,1307.4 1285.1,1307.1 1287.0,1306.8 1288.9,1306.5 1290.8,1306.2 1292.7,1305.9 1294.6,1305.6 1296.5,1305.3 1298.5,1305.0 1300.4,1304.7 1302.3,1304.4 1304.3,1304.2 1306.2,1303.9 1308.2,1303.6 1310.1,1303.4 1312.1,1303.1 1314.1,1302.9 1316.0,1302.6 1318.0,1302.3 1320.0,1302.1 1322.0,1301.9 1324.0,1301.6 1326.0,1301.4 1328.0,1301.1 1330.0,1300.9 1332.0,1300.7 1334.0,1300.4 1336.1,1300.2 1338.1,1300.0 1340.1,1299.8 1342.2,1299.6 1344.2,1299.4 1346.2,1299.1 1348.3,1298.9 1350.4,1298.7 1352.4,1298.5 1354.5,1298.3 1356.6,1298.1 1358.7,1297.9 1360.7,1297.8 1362.8,1297.6 1364.9,1297.4 1367.0,1297.2 1369.1,1297.0 1371.2,1296.8 1373.4,1296.7 1375.5,1296.5 1377.6,1296.3 1379.7,1296.2 1381.9,1296.0 1384.0,1295.8 1386.2,1295.7 1388.3,1295.5 1390.5,1295.4 1392.6,1295.2 1394.8,1295.0 1397.0,1294.9 1399.1,1294.7 1401.3,1294.6 1403.5,1294.5 1405.7,1294.3 1407.9,1294.2 1410.1,1294.0 1412.3,1293.9 1414.5,1293.8 1416.7,1293.6 1419.0,1293.5 1421.2,1293.4 1423.4,1293.3 1425.7,1293.1 1427.9,1293.0 1430.2,1292.9 1432.4,1292.8 1434.7,1292.7 1436.9,1292.5 1439.2,1292.4 1441.5,1292.3 1443.8,1292.2 1446.0,1292.1 1448.3,1292.0 1450.6,1291.9 1452.9,1291.8 1455.2,1291.7 1457.5,1291.6 1459.9,1291.5 1462.2,1291.4 1464.5,1291.3 1466.8,1291.2 1469.2,1291.1 1471.5,1291.0 1473.8,1290.9 1476.2,1290.8 1478.6,1290.8 1480.9,1290.7 1483.3,1290.6 1485.7,1290.5 1488.0,1290.4 1490.4,1290.3 1492.8,1290.3 1495.2,1290.2 1497.6,1290.1 1500.0,1290.0 1502.4,1290.0 1504.8,1289.9 1507.2,1289.8 1509.6,1289.8 1512.1,1289.7 1514.5,1289.6 1516.9,1289.6 1519.4,1289.5 1521.8,1289.4 1524.3,1289.4 1526.7,1289.3 1529.2,1289.2 1531.7,1289.2 1534.1,1289.1 1536.6,1289.1 1539.1,1289.0 1541.6,1288.9 1544.1,1288.9 1546.6,1288.8 1549.1,1288.8 1551.6,1288.7 1554.1,1288.7 1556.6,1288.6 1559.2,1288.6 1561.7,1288.5 1564.2,1288.5 1566.8,1288.4 1569.3,1288.4" fill="none" stroke="#000" stroke-width="2.7" stroke-linejoin="round"/></g>
<rect x="930.4" y="1267.9" width="638.9" height="515.1" fill="none" stroke="#000" stroke-width="1.8"/>
<path d="M1036.9 1783.0v-12M1036.9 1267.9v12M1143.4 1783.0v-12M1143.4 1267.9v12M1249.8 1783.0v-12M1249.8 1267.9v12M1356.3 1783.0v-12M1356.3 1267.9v12M1462.8 1783.0v-12M1462.8 1267.9v12M930.4 1708.2h12M1569.3 1708.2h-12M930.4 1603.4h12M1569.3 1603.4h-12M930.4 1498.6h12M1569.3 1498.6h-12M930.4 1393.8h12M1569.3 1393.8h-12M930.4 1289.0h12M1569.3 1289.0h-12" stroke="#000" stroke-width="1.8" fill="none"/>
<g font-size="28.8" text-anchor="middle"><text x="927.0" y="1818.5">0</text><text x="1033.5" y="1818.5">50</text><text x="1140.0" y="1818.5">100</text><text x="1246.4" y="1818.5">150</text><text x="1352.9" y="1818.5">200</text><text x="1459.4" y="1818.5">250</text><text x="1565.9" y="1818.5">300</text></g><g font-size="28.8" text-anchor="end"><text x="916.1" y="1721.0">5.0</text><text x="916.1" y="1616.2">5.5</text><text x="916.1" y="1511.4">6.0</text><text x="916.1" y="1406.6">6.5</text><text x="916.1" y="1301.8">7.0</text></g>
<text x="1249.5" y="1252.6" font-size="29" text-anchor="middle">HypaCas9 off-target</text>
<text x="1246.5" y="1856.7" font-size="29" text-anchor="middle">Time (s)</text>
<text transform="translate(853.9 1525.5) rotate(-90)" font-size="29" text-anchor="middle">Fluorescence</text>
<text x="816.2" y="1246.5" font-size="41.5" font-weight="bold">d</text>
<text x="1320.6" y="1525.7" font-size="24" word-spacing="1.7"><tspan font-style="italic">k</tspan><tspan font-size="16.5" dx="-1.2" dy="8.2">fast</tspan><tspan dy="-8.2">: 1.0 s</tspan><tspan font-size="15.5" dy="-11.2">−1</tspan><tspan dy="11.2"> (31%)</tspan></text>
<text x="1320.6" y="1558.1" font-size="24" word-spacing="1.7"><tspan font-style="italic">k</tspan><tspan font-size="16.5" dx="-1.2" dy="8.2">slow</tspan><tspan dy="-8.2">: 0.016 s</tspan><tspan font-size="15.5" dy="-11.2">−1</tspan><tspan dy="11.2"> (63%)</tspan></text>
<g clip-path="url(#cpe)"><path d="M111.6 2449.6h0m0.3 1.2h0m0.2-0.7h0m0.3-5h0m0.3-1h0m0.2-7.9h0m0.3 1.3h0m0.3-2.9h0m0.2-7.9h0m0.3-2.9h0m0.3-0.6h0m0.2-0.8h0m0.3-1.8h0m0.3-4h0m0.2-2.1h0m0.3-2.6h0m0.3-2.1h0m0.2-1.4h0m0.3-2.6h0m0.3-3.6h0m0.2-1.7h0m0.3-4h0m0.3 0.4h0m0.2-5.2h0m0.3 2.3h0m0.3-5.9h0m0.2-1.7h0m0.3-4.5h0m0.3-1.4h0m0.2-1.1h0m0.3-2.5h0m0.3-3.7h0m0.2-3.3h0m0.3 0.4h0m0.3-1.9h0m0.2-1.3h0m0.3-0.6h0m0.3-5.6h0m0.2-5.7h0m0.3 1.9h0m0.3-5.8h0m0.2-0.8h0m0.3 3h0m0.3-3h0m0.2-4.7h0m0.3-2h0m0.3-0.8h0m0.2-5.6h0m0.3 2.9h0m0.3-3.7h0m0.2 2.8h0m0.3-8.2h0m0.3 2.6h0m0.3-5.6h0m0.2 1.8h0m0.3-6.2h0m0.3 1.9h0m0.2-4.4h0m0.3-2.7h0m0.3-0.3h0m0.2-0.4h0m0.3-2h0m0.3 0.8h0m0.2-3.4h0m0.3-9.3h0m0.3 3.2h0m0.2-5.3h0m0.3 1.9h0m0.3 0.5h0m0.2-6h0m0.3-1.3h0m0.3 1.2h0m0.2-2.6h0m0.3 2.5h0m0.3-4.4h0m0.2-1.2h0m0.3 1.1h0m0.3-6.5h0m0.2-0.5h0m0.3-3.8h0m0.3 1.2h0m0.2 0.2h0m0.3-0.9h0m0.3-4.6h0m0.2-3h0m0.3-1.6h0m0.3-2.9h0m0.2 1.9h0m0.3 1.2h0m0.3-9.6h0m0.2-1.1h0m0.3 6.4h0m0.3-8h0m0.2 2.8h0m0.3-4.9h0m0.3 3.1h0m0.2-1.4h0m0.3-2.7h0m0.3 0h0m0.2-3h0m0.3-0.3h0m0.3 1.5h0m0.2-3h0m0.3-5.2h0m0.3-1.6h0m0.2-0.1h0m0.3-1.3h0m0.3-0.6h0m0.2-2.8h0m0.3 1.5h0m0.3-2.6h0m0.2-0.5h0m0.3-2.1h0m0.3 0.1h0m0.2-5.2h0m0.3 4.9h0m0.3-4h0m0.2-0.9h0m0.3-0.9h0m0.3-0.1h0m0.2-2h0m0.3-2.3h0m0.3-2.1h0m0.2-4.3h0m0.3 2.9h0m0.3-2.3h0m0.2-1.1h0m0.3 4.8h0m0.3-10.5h0m0.2 3.1h0m0.3 1.4h0m0.3-1.6h0m0.2-0.5h0m0.3-6.6h0m0.3-0.4h0m0.2 2.4h0m0.3-3.1h0m0.3 3.4h0m0.2-4.4h0m0.3-1.1h0m0.3-0.5h0m0.2-2.6h0m0.3-0.1h0m0.3-2.8h0m0.2 0.4h0m0.3-2h0m0.3 0.6h0m0.2-4.7h0m0.3-1.1h0m0.3 3.3h0m0.2-1.5h0m0.3-3.6h0m0.3 0.7h0m0.2-2.8h0m0.3 5.9h0m0.3-8.9h0m0.2 6.3h0m0.3-6.5h0m0.3 1.8h0m0.3-2.4h0m0.2-1.2h0m0.3 2h0m0.3-1.2h0m0.2-3.3h0m0.3-2.3h0m0.3 5.7h0m0.2-2.4h0m0.3-3.6h0m0.3-1.8h0m0.2 0.4h0m0.3-1.3h0m0.3 1.6h0m0.2-5.6h0m0.3 1.3h0m0.3-2.6h0m0.2 3.7h0m0.3 0.3h0m0.3-5h0m0.2 0.6h0m0.3 1.1h0m0.3-4.6h0m0.2-2.2h0m0.3 3.6h0m0.3-2h0m0.2-2.3h0m0.3 2.8h0m0.3-3.4h0m0.2-5.2h0m0.3 3.9h0m0.3-1.7h0m0.2 3.5h0m0.3-4.9h0m0.3-1.2h0m0.2 0.7h0m0.3-1.2h0m0.3-4.3h0m0.2 2.6h0m0.3-1.7h0m0.3 3.1h0m0.2 1.4h0m0.3-8.4h0m0.3-0.4h0m0.2-0.4h0m0.3-0.3h0m0.3-0.8h0m0.2 1h0m0.3 1.5h0m0.3-5.9h0m0.2-1.2h0m0.3-1.4h0m0.3 5.9h0m0.2-0.2h0m0.3-7h0m0.3-0.9h0m0.2 3.3h0m0.3 1.4h0m0.3-0.8h0m0.2-2.4h0m0.3 0.4h0m0.3-1.4h0m0.2-2.6h0m0.3 4.8h0m0.3-4.9h0m0.2-3h0m0.3 0.8h0m0.3-3h0m0.2 2.8h0m0.3 1.8h0m0.3-5.8h0m0.2 4.6h0m0.3 1.6h0m0.3-4.4h0m0.2-4h0m0.3 0.1h0m0.3 0.6h0m0.2-2.7h0m0.3-0.5h0m0.3 1.6h0m0.2-0.4h0m0.3 1.1h0m0.3-4.5h0m0.2 6.2h0m0.3-2.3h0m0.3-1h0m0.2-3.9h0m0.3 4.7h0m0.3-5.1h0m0.2 4.2h0m0.3-2.2h0m0.3-4.9h0m0.2 0.4h0m0.3 4.6h0m0.3-2.4h0m0.2-3.1h0m0.3 0.3h0m0.3-0.6h0m0.2-2.6h0m0.3 0.7h0m0.3-1.5h0m0.2 0h0m0.3 1.5h0m0.3-3.7h0m0.3 3.2h0m0.2-1.8h0m0.3 0.9h0m0.3-0.2h0m0.2 0.3h0m0.3-1.8h0m0.3-0.4h0m0.2-2.4h0m0.3 1.2h0m0.3-3.7h0m0.2 0.9h0m0.3 1.7h0m0.3-2.2h0m0.2 0.6h0m0.3-3.7h0m0.3 4.8h0m0.2-4.7h0m0.3 1.7h0m0.3-1.4h0m0.2 1.7h0m0.3-3.4h0m0.3-1.8h0m0.2-2.4h0m0.3 3h0m0.3-2.4h0m0.2 3.4h0m0.3 1.6h0m0.3-8.6h0m0.2 1.7h0m0.3 3.1h0m0.3 1.6h0m0.2-2.5h0m0.3-0.4h0m0.3 0h0m0.2-0.3h0m0.3 2h0m0.3-2.7h0m0.2-4.5h0m0.3 1.3h0m0.3 1.1h0m0.2-2.7h0m0.3 0.8h0m0.3-1h0m0.2-0.8h0m0.3 2.7h0m0.3-2.8h0m0.2-1.9h0m0.3 0.4h0m0.3 1.3h0m0.2 4.2h0m0.3-4.5h0m0.3 2.3h0m0.2-2.5h0m0.3-6.3h0m0.3 5.2h0m0.2-3.1h0m0.3-1.4h0m0.3 0.2h0m0.2 6h0m0.3-7.9h0m0.3 1.8h0m0.2 3.6h0m0.3-1.5h0m0.3-5.6h0m0.2 3.2h0m0.3-1.3h0m0.3 0.4h0m0.2 1.7h0m0.3-3.3h0m0.3 0.2h0m0.2 3.6h0m0.3-7.7h0m0.3 2.9h0m0.2 1.6h0m0.3-4.2h0m0.3 1h0m0.2-1.8h0m0.3 2.9h0m0.3-2.1h0m0.2 2.8h0m0.3 0.2h0m0.3-2.5h0m0.2-1.3h0m0.3 1.1h0m0.3-0.7h0m0.2-3.2h0m0.3 4.7h0m0.3-2.2h0m0.2 1h0m0.3-5.1h0m0.3 4.6h0m0.2 2.4h0m0.3-3.6h0m0.3-4.9h0m0.2 3h0m0.3-0.5h0m0.3 0.3h0m0.2-1.3h0m0.3 1.3h0m0.3-2.5h0m0.2 1.3h0m0.3-2.4h0m0.3 1.5h0m0.2 1.7h0m0.3-3.6h0m0.3 2.2h0m0.3-3.7h0m0.2 0.8h0m0.3 0h0m0.3 3h0m0.2-4.7h0m0.3 4.1h0m0.3-6.3h0m0.2 2.7h0m0.3 2h0m0.3-0.7h0m0.2-4.1h0m0.3-0.7h0m0.3 4.3h0m0.2-5h0m0.3 3.8h0m0.3-2.7h0m0.2 0.8h0m0.3 4.9h0m0.3-1.9h0m0.2-1.9h0m0.3-5.2h0m0.3 3.5h0m0.2-0.9h0m0.3-0.6h0m0.3 3h0m0.2-7.1h0m0.3 4.3h0m0.3-0.7h0m0.2-2.2h0m0.3 5.2h0m0.3-6.9h0m0.2 2.6h0m0.3-0.1h0m0.3-5.3h0m0.2 1.4h0m0.3 0.8h0m0.3 3.6h0m0.2 0.1h0m0.3-1h0m0.3-1.1h0m0.2-5.6h0m0.3 5.1h0m0.3-1.9h0m0.2 3.5h0m0.3 0.2h0m0.3 1.7h0m0.2-3.6h0m0.3 0h0m0.3-4.4h0m0.2 2.2h0m0.3-3.1h0m0.3 4.5h0m0.2-4.9h0m0.3 1.9h0m0.3-1.6h0m0.2 0.6h0m0.3 1.8h0m0.3-2.5h0m0.2 1.5h0m0.3-2.9h0m0.3 5.1h0m0.2-4.8h0m0.3 3.5h0m0.3 2.2h0m0.2-10.4h0m0.3 3h0m0.3 1.5h0m0.2 2.9h0m0.3-3.9h0m0.3 1.7h0m0.2-2.7h0m0.3 2.6h0m0.3-4.1h0m0.2 4.3h0m0.3-8.8h0m0.3 2.3h0m0.2 8.1h0m0.3-3.9h0m0.3-2.6h0m0.2 6.7h0m0.3-2.8h0m0.3 0h0m0.2-3.7h0m0.3 2.1h0m0.3-0.5h0m0.2-5h0m0.3 4.8h0m0.3-1.9h0m0.2 3h0m0.3-0.1h0m0.3-4.6h0m0.2-0.1h0m0.3 1.6h0m0.3 0.8h0m0.2-2.6h0m0.3 0.5h0m0.3 1.4h0m0.2-0.6h0m0.3 1.5h0m0.3-2.3h0m0.2-2.7h0m0.3-2.2h0m0.3 5.6h0m0.3-2.8h0m0.2-0.2h0m0.3-0.1h0m0.3-3.1h0m0.2 2.5h0m0.3-5.2h0m0.3 4.8h0m0.2-1.3h0m0.3 6h0m0.3-3.4h0m0.2-1.6h0m0.3 0.6h0m0.3 1.1h0m0.2-3.5h0m0.3 1h0m0.3-0.5h0m0.2 6.2h0m0.3-5.6h0m0.3-4.8h0m0.2 6.1h0m0.3 3.8h0m0.3-8.1h0m0.2 9.8h0m0.3-8.2h0m0.3 2.3h0m0.2-3.8h0m0.3 0.5h0m0.3-2.3h0m0.2 0.2h0m0.3-2.6h0m0.3 7.2h0m0.2-5.3h0m0.3 3.2h0m0.3-0.2h0m0.2-2.4h0m0.3 1.4h0m0.3-0.5h0m0.2-1.1h0m0.3 1.1h0m0.3-0.2h0m0.2-2.6h0m0.3-0.8h0m0.3 0.9h0m0.2 2h0m0.3 2.7h0m0.3 0h0m0.2-2.8h0m0.3 1.3h0m0.3-2h0m0.2 2h0m0.3-2.3h0m0.3 0.4h0m0.2-1.7h0m0.3 0.5h0m0.3 4.1h0m0.2-7.2h0m0.3 2.6h0m0.3-1.5h0m0.2 3.4h0m0.3 1.8h0m0.3-5h0m0.2-5.8h0m0.3 7.6h0m0.3-0.2h0m0.2-5.4h0m0.3 3.2h0m0.3 0.2h0m0.2-5.3h0m0.3 6.7h0m0.3-0.7h0m0.2-0.6h0m0.3-3.1h0m0.3 0.6h0m0.2 0h0m0.3 2.4h0m0.3-3.5h0m0.2 5.5h0m0.3-2.7h0m0.3-5.9h0m0.2 8.6h0m0.3-3.6h0m0.3-1.8h0m0.2 1.4h0m0.3-4.6h0m0.3 4.5h0m0.2-6.2h0m0.3 3.1h0m0.3 5.3h0m0.2-0.3h0m0.3-3.8h0m0.3-1.6h0m0.2 4.2h0m0.3-2.4h0m0.3 0.5h0m0.2 0.8h0m0.3-4.1h0m0.3 4.2h0m0.2-6.8h0m0.3 8h0m0.3-7h0m0.2 2h0m0.3-0.3h0m0.3 3.1h0m0.3-0.1h0m0.2-1h0m0.3 0.3h0m0.3-0.3h0m0.2-1.4h0m0.3-4.4h0m0.3-1h0m0.2-0.1h0m0.3 5h0m0.3-0.5h0m0.2 0h0m0.3 0.7h0m0.3-1.1h0m0.2-1.9h0m0.3-1.3h0m0.3-1h0m0.2 7h0m0.3-0.9h0m0.3-5.3h0m0.2 2.4h0m0.3 1.5h0m0.3 2.5h0m0.2-5.2h0m0.3 1.7h0m0.3 2.1h0m0.2-6.8h0m0.3 2.2h0m0.3 1.5h0m0.2-1.7h0m0.3 6.4h0m0.3-3h0m0.2-1.7h0m0.3-2.7h0m0.3 4h0m0.2-0.6h0m0.3-2.8h0m0.3 0.1h0m0.2-2.5h0m0.3 3.1h0m0.3 2h0m0.2 0.2h0m0.3-1.1h0m0.3 0.4h0m0.2-3.3h0m0.3 0.1h0m0.3 3.8h0m0.2-1.9h0m0.3-3h0m0.3 2.9h0m0.2 0.6h0m0.3-0.4h0m0.3-1.5h0m0.2-1.5h0m0.3 2h0m0.3 2.8h0m0.2-3.6h0m0.3-2h0m0.3 2.2h0m0.2-3.7h0m0.3 3.2h0m0.3-1.3h0m0.2 2.8h0m0.3-2.1h0m0.3 2h0m0.2 2.8h0m0.3-5.9h0m0.3-1.5h0m0.2 2.9h0m0.3-1.4h0m0.3 0.4h0m0.2-1.8h0m0.3 2.5h0m0.3-1.2h0m0.2-5.2h0m0.3 4.3h0m0.3 1.2h0m0.2 1.8h0m0.3-4.1h0m0.3-0.6h0m0.2 4.3h0m0.3-4.1h0m0.3 1.5h0m0.2 0.8h0m0.3 0.5h0m0.3-1.8h0m0.2-2.7h0m0.3 4.8h0m0.3-3.4h0m0.2-0.3h0m0.3 5.7h0m0.3-2.7h0m0.2-4.6h0m0.3 1.3h0m0.3 0.4h0m0.2-1.3h0m0.3-2.7h0m0.3 6.1h0m0.2-0.2h0m0.3-1.3h0m0.3-1.6h0m0.2 1.3h0m0.3 0.9h0m0.3-3.9h0m0.2 1.5h0m0.3-0.6h0m0.3 2.8h0m0.3-1.1h0m0.2-3.7h0m0.3 1.5h0m0.3 5.3h0m0.2-6.3h0m0.3 2.4h0m0.3-1.9h0m0.2 4.2h0m0.3-3.1h0m0.3-0.9h0m0.2-1.8h0m0.3 2h0m0.3 2.4h0m0.2-0.4h0m0.3-4.7h0m0.3 6.5h0m0.2-4.2h0m0.3-2h0m0.3 2.6h0m0.2-1.8h0m0.3 0h0m0.3-0.2h0m0.2 1.2h0m0.3-1.1h0m0.3-2.8h0m0.2 5h0m0.3-2.5h0m0.3 3.8h0m0.2-1.5h0m0.3 0h0m0.3-1h0m0.2 2.4h0m0.3-3.8h0m0.3-1.6h0m0.2 3h0m0.3-7.1h0m0.3 5.3h0m0.2 1.2h0m0.3-1.5h0m0.3 3.7h0m0.2-1.3h0m0.3-1.5h0m0.3-1.2h0m0.2 3.3h0m0.3-4.1h0m0.3 0.5h0m0.2 2.6h0m0.3-0.5h0m0.3 3.2h0m0.2-5.2h0m0.3-3.9h0m0.3 5.7h0m0.2 1.3h0m0.3-3.3h0m0.3 3.8h0m0.2 0.4h0m0.3-5.6h0m0.3 0.3h0m0.2-1.8h0m0.3 4h0m0.3 0.3h0m0.2-0.3h0m0.3-4.3h0m0.3 1h0m0.2-1.6h0m0.3-0.5h0m0.3 0.5h0m0.2-0.6h0m0.3 3.1h0m0.3 1.3h0m0.2 0.4h0m0.3-1.6h0m0.3-1.5h0m0.2 1.4h0m0.3 1.3h0m0.3-2.1h0m0.2 0.7h0m0.3-0.9h0m0.3-0.5h0m0.2 1.1h0m0.3-2.6h0m0.3 4.8h0m0.2-6h0m0.3 4.5h0m0.3-4.2h0m0.2 6.4h0m0.3-1.5h0m0.3-3.9h0m0.2 0.8h0m0.3-1.7h0m0.3 2.4h0m0.2 1h0m0.3 4.8h0m0.3-9h0m0.2 5.8h0m0.3-4.2h0m0.3 1.9h0m0.2 1.3h0m0.3-0.8h0m0.3-0.4h0m0.2-1.5h0m0.3 0.4h0m0.3 0.3h0m0.3 2.3h0m0.2-6.1h0m0.3 2.1h0m0.3-1.8h0m0.2 0.6h0m0.3 0.3h0m0.3 4.2h0m0.2 2.3h0m0.3-1.8h0m0.3-5.9h0m0.2 2.8h0m0.3-2.8h0m0.3 3.5h0m0.2 1.8h0m0.3-1.6h0m0.3 0.6h0m0.2-2.4h0m0.3-4.2h0m0.3-0.1h0m0.2 4.2h0m0.3 1.5h0m0.3 1.5h0m0.2-3.8h0m0.3 0.9h0m0.3 0.4h0m0.2 1.7h0m0.3-2.6h0m0.3-2.4h0m0.2 4.9h0m0.3-1.6h0m0.3-0.2h0m0.2-3.8h0m0.3 2.8h0m0.3-3.9h0m0.2-0.7h0m0.3 3.9h0m0.3-0.5h0m0.2 2.2h0m0.3 1.9h0m0.3-3.4h0m0.2 4.1h0m0.3-5.5h0m0.3 3h0m0.2-4.6h0m0.3 3.1h0m0.3-1.1h0m0.2 0.2h0m0.3 1.7h0m0.3-5.6h0m0.2 4.4h0m0.3-2.1h0m0.3 2h0m0.2 0.6h0m0.3-1.8h0m0.3-0.1h0m0.2-1.8h0m0.3 3.8h0m0.3-2.9h0m0.2 2.5h0m0.3-4.3h0m0.3 6.3h0m0.2-5.5h0m0.3 4.9h0m0.3-3.7h0m0.2 2.2h0m0.3-1.7h0m0.3 1.8h0m0.2-1.5h0m0.3 2.8h0m0.3-1.5h0m0.2 0h0m0.3 2.2h0m0.3-5.4h0m0.2 4.4h0m0.3-2.8h0m0.3-3.6h0m0.2 4.4h0m0.3-1.6h0m0.3 4.2h0m0.2-5h0m0.3 1.2h0m0.3 0.3h0m0.2-4.8h0m0.3 5.4h0m0.3-3.5h0m0.2 5.4h0m0.3 0.5h0m0.3-3.8h0m0.2-3.7h0m0.3 4h0m0.3-0.1h0m0.2 1.2h0m0.3-2.4h0m0.3-2h0m0.2 2.3h0m0.3-1.9h0m0.3 6.1h0m0.2-5.7h0m0.3 0.1h0m0.3 1.3h0m0.2-2.7h0m0.3 1.7h0m0.3 0.6h0m0.2-0.8h0m0.3 0.5h0m0.3 3.3h0m0.3-1.9h0m0.2-4h0m0.3 1.9h0m0.3 2.6h0m0.2-3.2h0m0.3 1.6h0m0.3-0.3h0m0.2 1.2h0m0.3-1.6h0m0.3 0h0m0.2-1.6h0m0.3 2.6h0m0.3-2.9h0m0.2 5.9h0m0.3-4h0m0.3-0.5h0m0.2 2.3h0m0.3-2.1h0m0.3 0.4h0m0.2-0.4h0m0.3-1.6h0m0.3-0.5h0m0.2 0.5h0m0.3 4.1h0m0.3-4h0m0.2 0.4h0m0.3-0.1h0m0.3 2.5h0m0.2 2.8h0m0.3-6.6h0m0.3 3.3h0m0.2-1h0m0.3-1h0m0.3 1.8h0m0.2-4.1h0m0.3 4.7h0m0.3-1.4h0m0.2-2.8h0m0.3 5.8h0m0.3-1.8h0m0.2 0.7h0m0.3-6h0m0.3 2.7h0m0.2-0.7h0m0.3 2.6h0m0.3 1.6h0m0.2-7.4h0m0.3 4.3h0m0.3-0.4h0m0.2 2.5h0m0.3-2.4h0m0.3-2.8h0m0.2 2.4h0m0.3-2h0m0.3 0.6h0m0.2 1.8h0m0.3-1.3h0m0.3 1.7h0m0.2-4.1h0m0.3 8.6h0m0.3-2.4h0m0.2-1.3h0m0.3-4.6h0m0.3-2h0m0.2 2.9h0m0.3 1.4h0m0.3 5.5h0m0.2-2.2h0m0.3-4.1h0m0.3 3.8h0m0.2 0h0m0.3-2.7h0m0.3 2.6h0m0.2-2h0m0.3-2.3h0m0.3-1.2h0m0.2 2.3h0m0.3 2.5h0m0.3-5.3h0m0.2-0.7h0m0.3 4.9h0m0.3-7.4h0m0.2 10.1h0m0.3-5.1h0m0.3 2.6h0m0.2 2.5h0m0.3-7.5h0m0.3 0.9h0m0.2 7.3h0m0.3-5.7h0m0.3 0.3h0m0.2 0.8h0m0.3 1.8h0m0.3 0.6h0m0.2-2.8h0m0.3-1.1h0m0.3 0.7h0m0.2 0.7h0m0.3 2.2h0m0.3-2.7h0m0.2 3.8h0m0.3-6.1h0m0.3 3.1h0m0.3 2.7h0m0.2-1.1h0m0.3-2.2h0m0.3-2.8h0m0.2 0.4h0m0.3 1.2h0m0.3 1h0m0.2-1.3h0m0.3-2.7h0m0.3 1.5h0m0.2 2.8h0m0.3 0.7h0m0.3-5.1h0m0.2 2.3h0m0.3-3h0m0.3 2.5h0m0.2 9.2h0m0.3-7.9h0m0.3-0.9h0m0.2-0.6h0m0.3-1.5h0m0.3-1.5h0m0.2 4.1h0m0.3-0.6h0m0.3 3.9h0m0.2-7h0m0.3 4.6h0m0.3 2h0m0.2-7.5h0m0.3 5.9h0m0.3-5.2h0m0.2 4.8h0m0.3 2.1h0m0.3-3.3h0m0.2 0.6h0m0.3-2.3h0m0.3 2.2h0m0.2 1.9h0m0.3-3h0m0.3 0h0m0.2 1.2h0m0.3 0.9h0m0.3-5.6h0m0.2 3.8h0m0.3-1.7h0m0.3 2.6h0m0.2 1.2h0m0.3-1.7h0m0.3 2.2h0m0.2-5.2h0m0.3 1.3h0m0.3-1.3h0m0.2 2.3h0m0.3 0h0m0.3-0.7h0m0.2-2.3h0m0.3 2.5h0m0.3-0.8h0m0.2 2.3h0m0.3-2h0m0.3 3.2h0m0.2-2.1h0m0.3-4.8h0m0.3 3.8h0m0.2-2.9h0m0.3 5.4h0m0.3 1h0m0.2-3.3h0m0.3 1h0m0.3-4.3h0m0.2-1.8h0m0.3 3.8h0m0.3 0.6h0m0.2-2.9h0m0.3 3.6h0m0.3 0.5h0m0.2 0.7h0m0.3 2h0m0.3-1.7h0m0.2-2.7h0m0.3 1h0m0.3 1.1h0m0.2-3.7h0m0.3 5.3h0m0.3-1h0m0.2-2.6h0m0.3-0.9h0m0.3 9.9h0m0.2-6.7h0m0.3 0.2h0m0.3 1.9h0m0.2-1.8h0m0.3-1.8h0m0.3 1.1h0m0.2-3.7h0m0.3 3.6h0m0.3-5.1h0m0.2 4.4h0m0.3 0.3h0m0.3-4.8h0m0.2 7.8h0m0.3-7h0m0.3 5h0m0.2-3.6h0m0.3 1.8h0m0.3-2.2h0m0.3 7.1h0m0.2-3.3h0m0.3 1.7h0m0.3-2.3h0m0.2-0.3h0m0.3-1.2h0m0.3-0.9h0m0.2 1.8h0m0.3-1h0m0.3-0.7h0m0.2-2.8h0m0.3 2.4h0m0.3 2h0m0.2-2.5h0m0.3 1.9h0m0.3-1.2h0m0.2-2h0m0.3 0.3h0m0.3 0.3h0m0.2 1h0m0.3 0h0m0.3 3.1h0m0.2-5h0m0.3-2.2h0m0.3 6.1h0m0.2-2.6h0m0.3 0.8h0m0.3 6h0m0.2-2.5h0m0.3-2h0m0.3 0.8h0m0.2-1.9h0m0.3 1.8h0m0.3-3.5h0m0.2-0.3h0m0.3 0.5h0m0.3 4.6h0m0.2-0.1h0m0.3-4.9h0m0.3 4h0m0.2-3h0m0.3 2.7h0m0.3-3.1h0m0.2 2.8h0m0.3-2.4h0m0.3-0.4h0m0.2 0.5h0m0.3 0.4h0m0.3-1.7h0m0.2-1.8h0m0.3 6.9h0m0.3-4.7h0m0.2-3.3h0m0.3-1h0m0.3-1.3h0m0.2 5h0m0.3 4.4h0m0.3-6.8h0m0.2 2.9h0m0.3-3.4h0m0.3 6.6h0m0.2-1.7h0m0.3-0.1h0m0.3 2.3h0m0.2 0.6h0m0.3-1.4h0m0.3-3.6h0m0.2-1.8h0m0.3 0.6h0m0.3-1.6h0m0.2 8h0m0.3-4.5h0m0.3 0.7h0m0.2 0.1h0m0.3 4.1h0m0.3-5.8h0m0.2 3.9h0m0.3-2h0m0.3-1.1h0m0.2-4h0m0.3 6.4h0m0.3-3.8h0m0.2 0.6h0m0.3 1.5h0m0.3-0.3h0m0.2 2.3h0m0.3-4.1h0m0.3 1.9h0m0.2 0.2h0m0.3-0.6h0m0.3 1.5h0m0.2-2.1h0m0.3 3.2h0m0.3-4.3h0m0.2-1.7h0m0.3 3.1h0m0.3 2.8h0m0.2-3.9h0m0.3-0.3h0m0.3 0.7h0m0.2 1.1h0m0.3-0.8h0m0.3 1.1h0m0.3-4.6h0m0.2 7.2h0m0.3-2.1h0m0.3-3.3h0m0.2 5.1h0m0.3-2.2h0m0.3 2.3h0m0.2-6h0m0.3 6.4h0m0.3-3.7h0m0.2-4.7h0m0.3 6.3h0m0.3-2.4h0m0.2-1.7h0m0.3 1.8h0m0.3-3.9h0m0.2 5.7h0m0.3-1.8h0m0.3-0.2h0m0.2 3.8h0m0.3-3.1h0m0.3-1.6h0m0.2-0.7h0m0.3 2h0m0.3 2.5h0m0.2-3.7h0m0.3-1.1h0m0.3 4.4h0m0.2-2h0m0.3-0.2h0m0.3 4.8h0m0.2-7.5h0m0.3 3.2h0m0.3-4.5h0m0.2 3.3h0m0.3 2h0m0.3 1.2h0m0.2-5.5h0m0.3 4.8h0m0.3-0.2h0m0.2-2h0m0.3 5.8h0m0.3-5.6h0m0.2-2h0m0.3 2.9h0m0.3-5.2h0m0.2 7.8h0m0.3-1.4h0m0.3-3.1h0m0.2 2.2h0m0.3-0.2h0m0.3 3.2h0m0.2-5.8h0m0.3-1.6h0m0.3-1.7h0m0.2 4h0m0.3-2.9h0m0.3 3.1h0m0.2 1.3h0m0.3-2h0m0.3-1.1h0m0.2 4.8h0m0.3-3.2h0m0.3 1h0m0.2 1.6h0m0.3-5.1h0m0.3 0.8h0m0.2 7.7h0m0.3-6h0m0.3-2h0m0.2 1.7h0m0.3-0.7h0m0.3-1.5h0m0.2 1.8h0m0.3 0.9h0m0.3 0h0m0.2 1.2h0m0.3-5.1h0m0.3 0.5h0m0.2 5.1h0m0.3-2.8h0m0.3 3.8h0m0.2-2.1h0m0.3-3.9h0m0.3 4.4h0m0.2-3.6h0m0.3 2.9h0m0.3 2.2h0m0.2 2h0m0.3-5h0m0.3 1.7h0m0.2-0.9h0m0.3 1.1h0m0.3-7.6h0m0.2 4.9h0m0.3 1.5h0m0.3 0.4h0m0.2-2.8h0m0.3 3.6h0m0.3 0.6h0m0.2-2.4h0m0.3-0.7h0m0.3-0.3h0m0.3 1.1h0m0.2 2.3h0m0.3 0.8h0m0.3-4.5h0m0.2-1.1h0m0.3 0.3h0m0.3 4h0m0.2-1.7h0m0.3 0.1h0m0.3 0.4h0m0.2-0.2h0m0.3-1.2h0m0.3-2.1h0m0.2 1h0m0.3 1.6h0m0.3 0.6h0m0.2-1.7h0m0.3-0.1h0m0.3 4h0m0.2-4.2h0m0.3 1.5h0m0.3-1.2h0m0.2-1.2h0m0.3-1.5h0m0.3 2.2h0m0.2-0.7h0m0.3 3.8h0m0.3-4.6h0m0.2 1.7h0m0.3 2.4h0m0.3-1.8h0m0.2 1.4h0m0.3 0.7h0m0.3-5.6h0m0.2 2.8h0m0.3-1.3h0m0.3 5.2h0m0.2-3.3h0m0.3 1.4h0m0.3 2.6h0m0.2-4.6h0m0.3 1h0m0.3 0.7h0m0.2-1.5h0m0.3 3.4h0m0.3-1h0m0.2 0.4h0m0.3-2.2h0m0.3-0.9h0m0.2 0h0m0.3-0.1h0m0.3-2.9h0m0.2 4.5h0m0.3 1h0m0.3-1.8h0m0.2-1.1h0m0.3 1.1h0m0.3 0.4h0m0.2 0.3h0m0.3 3.2h0m0.3-5.9h0m0.2 2.7h0m0.3 0.7h0m0.3-1.4h0m0.2-0.7h0m0.3-1.8h0m0.3 1h0m0.2 2.9h0m0.3 1.6h0m0.3-4.7h0m0.2 2.5h0m0.3 0.1h0m0.3 1.1h0m0.2-1.8h0m0.3 0.5h0m0.3 1h0m0.2-4.7h0m0.3 2.7h0m0.3-4h0m0.2-0.5h0m0.3 2.5h0m0.3-1.6h0m0.2 4.6h0m0.3 1h0m0.3-2.9h0m0.2 0.4h0m0.3-0.2h0m0.3-0.1h0m0.2 0.9h0m0.3 0.4h0m0.3-1.8h0m0.2-0.7h0m0.3 0.5h0m0.3 3h0m0.2-2.8h0m0.3 4.2h0m0.3-3.8h0m0.2 3.6h0m0.3-5.7h0m0.3 1.1h0m0.2 2.5h0m0.3 0.1h0m0.3-1.5h0m0.2 4.9h0m0.3-4.4h0m0.3 0.5h0m0.3-2h0m0.2 5h0m0.3-1.8h0m0.3-1h0m0.2-4.6h0m0.3 4.4h0m0.3-1.8h0m0.2 1.9h0m0.3 1.1h0m0.3-3.7h0m0.2 2.1h0m0.3 1.5h0m0.3-1.6h0m0.2-1.1h0m0.3-1.6h0m0.3 0.8h0m0.2-1.3h0m0.3 5h0m0.3-2h0m0.2-2.9h0m0.3 2.6h0m0.3-2.8h0m0.2-4.5h0m0.3 10h0m0.3-0.1h0m0.2-5.9h0m0.3 1.7h0m0.3 2h0m0.2-1.3h0m0.3-1.1h0m0.3 0.8h0m0.2 0.6h0m0.3-0.8h0m0.3 1.7h0m0.2-1h0m0.3-1.2h0m0.3 1.8h0m0.2-3.8h0m0.3 6.9h0m0.3-7.1h0m0.2 3.7h0m0.3 0.9h0m0.3 0.2h0m0.2-0.4h0m0.3 2.2h0m0.3-5.3h0m0.2 2.3h0m0.3 0.5h0m0.3-1.4h0m0.2-0.3h0m0.3 4.2h0m0.3-4.4h0m0.2 0.5h0m0.3 0.4h0m0.3 0.1h0m0.2 0.8h0m0.3-0.8h0m0.3 1.3h0m0.2-0.6h0m0.3 0.8h0m0.3 1.9h0m0.2-4.9h0m0.3 5.5h0m0.3-4.6h0m0.2 2.4h0m0.3-1.1h0m0.3-1h0m0.2-3.7h0m0.3 7.9h0m0.3-5.3h0m0.2 0h0m0.3 4h0m0.3-2.2h0m0.2 4h0m0.3-0.5h0m0.3-2.1h0m0.2-1h0m0.3 1.1h0m0.3-4.6h0m0.2 3.3h0m0.3-0.1h0m0.3-1.4h0m0.2 1.6h0m0.3-3.8h0m0.3 5.2h0m0.2 0.8h0m0.3-5.6h0m0.3 3.1h0m0.2 3.1h0m0.3-2.5h0m0.3-3.2h0m0.2 0.1h0m0.3 4h0m0.3 2.1h0m0.2-6.4h0m0.3 2.5h0m0.3-1.8h0m0.2 1.1h0m0.3 1.3h0m0.3-0.8h0m0.2-1.4h0m0.3 6h0m0.3-4.9h0m0.3-0.1h0m0.2 2.8h0m0.3-2.4h0m0.3-0.5h0m0.2 2.6h0m0.3-4.4h0m0.3 3.9h0m0.2 0.6h0m0.3-0.8h0m0.3-1.9h0m0.2 0.4h0m0.3-3.7h0m0.3 3.4h0m0.2 0.9h0m0.3 1.3h0m0.3-1.6h0m0.2-1.2h0m0.3-1h0m0.3 1.7h0m0.2 0.4h0m0.3 2.3h0m0.3-2.6h0m0.2-1.1h0m0.3 0.8h0m0.3-0.8h0m0.2 0.5h0m0.3-4.3h0m0.3 1.4h0m0.2 0.8h0m0.3 3.6h0m0.3-1.2h0m0.2 0.5h0m0.3 2.2h0m0.3-4.8h0m0.2 4.8h0m0.3-1.7h0m0.3-2.4h0m0.2 4.8h0m0.3-6.4h0m0.3 0.7h0m0.2 2h0m0.3 1.3h0m0.3-1.3h0m0.2-4.3h0m0.3 4h0m0.3 0.5h0m0.2 5.7h0m0.3-2.6h0m0.3-2.7h0m0.2-2.6h0m0.3 3.1h0m0.3-3.3h0m0.2 2.9h0m0.3 0.4h0m0.3-1.7h0m0.2 1.4h0m0.3-1.3h0m0.3-0.5h0m0.2 4.6h0m0.3-2.1h0m0.3-1.9h0m0.2-1.1h0m0.3 2.1h0m0.3 0.8h0m0.2 0.6h0m0.3 1.4h0m0.3-2.2h0m0.2-3.5h0m0.3 6.9h0m0.3-1.9h0m0.2-0.8h0m0.3 1.1h0m0.3-6.1h0m0.2 2.4h0m0.3-0.3h0m0.3 3.7h0m0.2-5.2h0m0.3 1.9h0m0.3 4h0m0.2-1.9h0m0.3-2.3h0m0.3 4.9h0m0.2-7h0m0.3 3.9h0m0.3-1.5h0m0.2 1.6h0m0.3-1.7h0m0.3-1.2h0m0.2 2.2h0m0.3-3.3h0m0.3 4h0m0.2-1.8h0m0.3 2.6h0m0.3-2.9h0m0.2-0.5h0m0.3 2.3h0m0.3 1.8h0m0.2-7.2h0m0.3 4.7h0m0.3 1.1h0m0.2-4.4h0m0.3 1.2h0m0.3 3.2h0m0.2-3.1h0m0.3 0.4h0m0.3 5.1h0m0.3-5.8h0m0.2 0.1h0m0.3-3.1h0m0.3 2.6h0m0.2-0.3h0m0.3 6.4h0m0.3-1.1h0m0.2-5.4h0m0.3 7h0m0.3-2.6h0m0.2-2.1h0m0.3 2.2h0m0.3-1h0m0.2-2.4h0m0.3-2.2h0m0.3 1.8h0m0.2 2h0m0.3-0.8h0m0.3-0.8h0m0.2 3.7h0m0.3-4.5h0m0.3 4.3h0m0.2-3h0m0.3 1.3h0m0.3-2.7h0m0.2 2.4h0m0.3-1.7h0m0.3-2.1h0m0.2 3.8h0m0.3-0.1h0m0.3 1.9h0m0.2-1.2h0m0.3-2.8h0m0.3 0.8h0m0.2-4h0m0.3 2.9h0m0.3 5.2h0m0.2 0.5h0m0.3-1.6h0m0.3-1h0m0.2 0.6h0m0.3-0.2h0m0.3-4.9h0m0.2 1.9h0m0.3 4.4h0m0.3 0h0m0.2-2h0m0.3-1.2h0m0.3-0.2h0m0.2-0.3h0m0.3-0.9h0m0.3-2.2h0m0.2 4.5h0m0.3-1.3h0m0.3 0.5h0m0.2 4.2h0m0.3-2.4h0m0.3-2.8h0m0.2 2.7h0m0.3-4.5h0m0.3 5.5h0m0.2-1.7h0m0.3-1h0m0.3 1.7h0m0.2 1.9h0m0.3-4.2h0m0.3-1.1h0m0.2 6.7h0m0.3-4.6h0m0.3 3.2h0m0.2-4.7h0m0.3 2.3h0m0.3-2.2h0m0.2 2.7h0m0.3-1.9h0m0.3-0.9h0m0.2 4.8h0m0.3-2.6h0m0.3-5.2h0m0.2 3.9h0m0.3-1.5h0m0.3-0.6h0m0.2 1.3h0m0.3 0.3h0m0.3 1.1h0m0.2-1.8h0m0.3-2.4h0m0.3 2.9h0m0.2 3.1h0m0.3-4.9h0m0.3 4.3h0m0.2-0.4h0m0.3-1.9h0m0.3 1.6h0m0.2-2.3h0m0.3 0.7h0m0.3-1.3h0m0.2 3.2h0m0.3 2h0m0.3-4.5h0m0.2 4.1h0m0.3-7.3h0m0.3 2.7h0m0.3-0.2h0m0.2 5.9h0m0.3-5h0m0.3 3h0m0.2-6.2h0m0.3 4.7h0m0.3 1h0m0.2-1.4h0m0.3-5.8h0m0.3 6.3h0m0.2 1.4h0m0.3 1.1h0m0.3-2h0m0.2-4.6h0m0.3 3.2h0m0.3 2.5h0m0.2-3.8h0m0.3 3h0m0.3-2.3h0m0.2 1.3h0m0.3 1.4h0m0.3-3.2h0m0.2 7.8h0m0.3-5.9h0m0.3 0.4h0m0.2-2.4h0m0.3 1.7h0m0.3-0.7h0m0.2-2.6h0m0.3-0.2h0m0.3 4h0m0.2-0.8h0m0.3-5.6h0m0.3 1.1h0m0.2 4h0m0.3 0.5h0m0.3 1.5h0m0.2-4.1h0m0.3 4h0m0.3-1.9h0m0.2-0.5h0m0.3 0.8h0m0.3 2.5h0m0.2-1h0m0.3 0.8h0m0.3-3.5h0m0.2 0.9h0m0.3-2h0m0.3 1.4h0m0.2 0.3h0m0.3-0.1h0m0.3 2.5h0m0.2-0.6h0m0.3 0.7h0m0.3-1.4h0m0.2 2.1h0m0.3-2.1h0m0.3 1.9h0m0.2-1.1h0m0.3 0.5h0m0.3-1.7h0m0.2-2.6h0m0.3-0.5h0m0.3 7.5h0m0.2-3.4h0m0.3 0.1h0m0.3-1.4h0m0.2-0.6h0m0.3 7.3h0m0.3-8.8h0m0.2 2.3h0m0.3 0.1h0m0.3-2.4h0m0.2-0.3h0m0.3 1.2h0m0.3 0.8h0m0.2-0.3h0m0.3 2.8h0m0.3-4.4h0m0.2 3.5h0m0.3 2.4h0m0.3-1.3h0m0.2-4.5h0m0.3-4h0m0.3 8.4h0m0.2-0.8h0m0.3-2.4h0m0.3 4.1h0m0.2-3.7h0m0.3 1.1h0m0.3-2.5h0m0.2 3h0m0.3-1.7h0m0.3-0.1h0m0.2 3.4h0m0.3-1.9h0m0.3-3.7h0m0.2 4.8h0m0.3 0.3h0m0.3-3.7h0m0.2 1h0m0.3 0.9h0m0.3-0.6h0m0.2 0.8h0m0.3 1.1h0m0.3-2.5h0m0.3 5.7h0m0.2-6.2h0m0.3 0.4h0m0.3 5.5h0m0.2 0.9h0m0.3-5.1h0m0.3-0.5h0m0.2-2h0m0.3 4.9h0m0.3-2.2h0m0.2-2.2h0m0.3 2.7h0m0.3 2.2h0m0.2-1.6h0m0.3 3.4h0m0.3-2.3h0m0.2-1.6h0m0.3-1.1h0m0.3 1.3h0m0.2 1.5h0m0.3-0.8h0m0.3 0.4h0m0.2-1.8h0m0.3 1.2h0m0.3 1h0m0.2-3.1h0m0.3-2.5h0m0.3 6.7h0m0.2-2.5h0m0.3-2.3h0m0.3 1.5h0m0.2-1.1h0m0.3-3.2h0m0.3 3.3h0m0.2-2.7h0m0.3 3.6h0m0.3-0.7h0m0.2 2.7h0m0.3-2.7h0m0.3 1h0m0.2-1.4h0m0.3-0.2h0m0.3-2.3h0m0.2 5.3h0m0.3-1.8h0m0.3-1.7h0m0.2 1.8h0m0.3-1.4h0m0.3-0.7h0m0.2 2.1h0m0.3 2.1h0m0.3-3.2h0m0.2-2.6h0m0.3 1.8h0m0.3 5.3h0m0.2-5.7h0m0.3 4.4h0m0.3-3.2h0m0.2 2.2h0m0.3-1.9h0m0.3-3.2h0m0.2 2.5h0m0.3 5.6h0m0.3-5h0m0.2 1.6h0m0.3-2h0m0.3 0.4h0m0.2 1h0m0.3 0.3h0m0.3 3.9h0m0.2-4.9h0m0.3-0.4h0m0.3-1.1h0m0.2-1.4h0m0.3-0.7h0m0.3 5h0m0.2-5.5h0m0.3 7.2h0m0.3-1.2h0m0.2-2.6h0m0.3-1.9h0m0.3 2.6h0m0.2 0h0m0.3 2.4h0m0.3-4.1h0m0.2 0.8h0m0.3 0.7h0m0.3-0.5h0m0.2-0.7h0m0.3-2.4h0m0.3 0.1h0m0.2 2.1h0m0.3 1h0m0.3 2.7h0m0.2 2.9h0m0.3-1.3h0m0.3-2.9h0m0.2 3.2h0m0.3-4.4h0m0.3-0.9h0m0.2 6.3h0m0.3-7.5h0m0.3 1.5h0m0.3 0.3h0m0.2 3.8h0m0.3-4.5h0m0.3 3h0m0.2-2.6h0m0.3-1.8h0m0.3 3.2h0m0.2-0.2h0m0.3-2.9h0m0.3 0.6h0m0.2 0.2h0m0.3 3.9h0m0.3-1.1h0m0.2-0.5h0m0.3 0.5h0m0.3-2.1h0m0.2 2.1h0m0.3-2.4h0m0.3-1.6h0m0.2 1.4h0m0.3 2h0m0.3-0.3h0m0.2 2.1h0m0.3-6h0m0.3 3.2h0m0.2 1.4h0m0.3-3h0m0.3 2.6h0m0.2-1.4h0m0.3-1.6h0m0.3 4.9h0m0.2-5.5h0m0.3 5.3h0m0.3-3.1h0m0.2-1.2h0m0.3 0.1h0m0.3 0.3h0m0.2-0.2h0m0.3 2.4h0m0.3-4.7h0m0.2 6.9h0m0.3-0.9h0m0.3 1.2h0m0.2-5.2h0m0.3-3h0m0.3 3.8h0m0.2 1h0m0.3 1h0m0.3-1.8h0m0.2 0.9h0m0.3 0.6h0m0.3-3.8h0m0.2 7.4h0m0.3-6.5h0m0.3 3.1h0m0.2 1.8h0m0.3-4.1h0m0.3 1.7h0m0.2 3.6h0m0.3-4.2h0m0.3 2.9h0m0.2-1.7h0m0.3-0.1h0m0.3 1.1h0m0.2-2.1h0m0.3 0h0m0.3 2.6h0m0.2-1.5h0m0.3 0.5h0m0.3-3.8h0m0.2 2.7h0m0.3 2.6h0m0.3-0.7h0m0.2-1.2h0m0.3-1.9h0m0.3-0.2h0m0.2 2.3h0m0.3 2.2h0m0.3-3.1h0m0.2 2.8h0m0.3-3.5h0m0.3 3.3h0m0.2-4.9h0m0.3 2.6h0m0.3-2.7h0m0.2 3.8h0m0.3-0.2h0m0.3-3.4h0m0.2 0.5h0m0.3 0.6h0m0.3-2.3h0m0.2 1.3h0m0.3 0.1h0m0.3 3.6h0m0.2 1.3h0m0.3-4h0m0.3 0.4h0m0.2 1.1h0m0.3-1.7h0m0.3 0.6h0m0.2 2.4h0m0.3-1.3h0m0.3-0.7h0m0.3-1.1h0m0.2 4.5h0m0.3-4.6h0m0.3 1.6h0m0.2-2.5h0m0.3 1h0m0.3 1.5h0m0.2-1.1h0m0.3 2h0m0.3-1h0m0.2-3.2h0m0.3-2h0m0.3 7.2h0m0.2-3.4h0m0.3 4.5h0m0.3-3.2h0m0.2-1.7h0m0.3 2.9h0m0.3-1.9h0m0.2 0.7h0m0.3-2.1h0m0.3 3.4h0m0.2 1h0m0.3-3.5h0m0.3 5h0m0.2-5.1h0m0.3 1.8h0m0.3-4.2h0m0.2-0.6h0m0.3 8.8h0m0.3-1.5h0m0.2-0.6h0m0.3-6.2h0m0.3 4.2h0m0.2 0.4h0m0.3-0.7h0m0.3 0.4h0m0.2-2.6h0m0.3 1.6h0m0.3-2.1h0m0.2 1.7h0m0.3 1.6h0m0.3-2.6h0m0.2 1.2h0m0.3-0.4h0m0.3 1h0m0.2 2h0m0.3-1.5h0m0.3 0.3h0m0.2-4h0m0.3 2.3h0m0.3 2.6h0m0.2-3.7h0m0.3 1h0m0.3-1.2h0m0.2 5.1h0m0.3-4h0m0.3-0.6h0m0.2 3h0m0.3 1h0m0.3-1.3h0m0.2 1.1h0m0.3-1.7h0m0.3-0.8h0m0.2-0.7h0m0.3-0.1h0m0.3-0.2h0m0.2 2.1h0m0.3-1.1h0m0.3 0.5h0m0.2 1.1h0m0.3-1.4h0m0.3-2.9h0m0.2 1.2h0m0.3-0.7h0m0.3-1.7h0m0.2 4.4h0m0.3-2.9h0m0.3-0.1h0m0.2 0.4h0m0.3 4.3h0m0.3-2.6h0m0.2 2.9h0m0.3-2.4h0m0.3-0.8h0m0.2 2.2h0m0.3 0.1h0m0.3-1.1h0m0.2-2.5h0m0.3 1.2h0m0.3-1.6h0m0.2 2.1h0m0.3 0.7h0m0.3 3.1h0m0.2-0.2h0m0.3-1.6h0m0.3 0.6h0m0.2-1.6h0m0.3 5.6h0m0.3-2.7h0m0.2 2.4h0m0.3-4.9h0m0.3 0h0m0.2 1.4h0m0.3-1.9h0m0.3 0.3h0m0.3-2.9h0m0.2 4.3h0m0.3-1.8h0m0.3 1.5h0m0.2-2.3h0m0.3-3.4h0m0.3 5h0m0.2 1.4h0m0.3-5.3h0m0.3 0.6h0m0.2 1.5h0m0.3 0.1h0m0.3-3.2h0m0.2 7.6h0m0.3-1.6h0m0.3-3.6h0m0.2-2.6h0m0.3 4.8h0m0.3 3.5h0m0.2-2.5h0m0.3 0.7h0m0.3-4.6h0m0.2 2.6h0m0.3-3.9h0m0.3 7.7h0m0.2-3.1h0m0.3-5.9h0m0.3 0.6h0m0.2 5.1h0m0.3-0.8h0m0.3-1h0m0.2 2.1h0m0.3 3h0m0.3-3.6h0m0.2-4.7h0m0.3 3.6h0m0.3-2.6h0m0.2 1.1h0m0.3 2.5h0m0.3-1.1h0m0.2-1.9h0m0.3 2.2h0m0.3-1.7h0m0.2 3h0m0.3-1.7h0m0.3 1.4h0m0.2-1.5h0m0.3 2.2h0m0.3-1.9h0m0.2 0.3h0m0.3-1.3h0m0.3 1.6h0m0.2-4.2h0m0.3 9.7h0m0.3-7.3h0m0.2 1.7h0m0.3-1.3h0m0.3 0h0m0.2 1.9h0m0.3-2h0m0.3 0.2h0m0.2-2.1h0m0.3 1h0m0.3-0.5h0m0.2 6.5h0m0.3-6.9h0m0.3 0.6h0m0.2 2.8h0m0.3 2.7h0m0.3-6.9h0m0.2 0.3h0m0.3 3.7h0m0.3 0.5h0m0.2-3.9h0m0.3-0.8h0m0.3 1.8h0m0.2 3.8h0m0.3-1.8h0m0.3 1.7h0m0.2-1.8h0m0.3 0.1h0m0.3 1.5h0m0.2-1.7h0m0.3 0.8h0m0.3-2.5h0m0.2 0.7h0m0.3 2.3h0m0.3-1.5h0m0.2-1.2h0m0.3 3.1h0m0.3-0.2h0m0.2-1.2h0m0.3-1.7h0m0.3 3.6h0m0.2 3.6h0m0.3-7.3h0m0.3-1.6h0m0.2 1.7h0m0.3-0.4h0m0.3-0.7h0m0.2 0.2h0m0.3 4.4h0m0.3 0h0m0.3 1.4h0m0.2-1.6h0m0.3-2.7h0m0.3 3.4h0m0.2-3.7h0m0.3 0.6h0m0.3-1.8h0m0.2 5.2h0m0.3-0.4h0m0.3-3.3h0m0.2 0.3h0m0.3 0.8h0m0.3 0.4h0m0.2 1.4h0m0.3-1.7h0m0.3 0.7h0m0.2-4.2h0m0.3 2.7h0m0.3-3.3h0m0.2 7.8h0m0.3-0.8h0m0.3-1.5h0m0.2 0.9h0m0.3 1.9h0m0.3-2.3h0m0.2-5.6h0m0.3 3h0m0.3-4.7h0m0.2 3.4h0m0.3-0.9h0m0.3 2.7h0m0.2 0.8h0m0.3-2.9h0m0.3 1.5h0m0.2 1.2h0m0.3-1h0m0.3 0h0m0.2-4.9h0m0.3 4.3h0m0.3 2.7h0m0.2-1.2h0m0.3-3.8h0m0.3 2.7h0m0.2 1.1h0m0.3-2.7h0m0.3 3.6h0m0.2-3.2h0m0.3 1h0m0.3 0.5h0m0.2 5.1h0m0.3-5.6h0m0.3-0.5h0m0.2 2.8h0m0.3-2.6h0m0.3 1.5h0m0.2-5.4h0m0.3 5.6h0m0.3-0.7h0m0.2-2.8h0m0.3 5.8h0m0.3-3.5h0m0.2 0.1h0m0.3-2.5h0m0.3-0.6h0m0.2 2.3h0m0.3-2.1h0m0.3 4.4h0m0.2 0.8h0m0.3-3.3h0m0.3-2.1h0m0.2 2.7h0m0.3-1.5h0m0.3 2.7h0m0.2 0h0m0.3-1.3h0m0.3 1.1h0m0.2 2.1h0m0.3 1.5h0m0.3-4.9h0m0.2 2.7h0m0.3-2.1h0m0.3-1.8h0m0.2 5.1h0m0.3-1.9h0m0.3-0.6h0m0.2 0.5h0m0.3-1.2h0m0.3-1.9h0m0.2 6.2h0m0.3-1.9h0m0.3-1.4h0m0.2 1.5h0m0.3 0.7h0m0.3-3.3h0m0.2 1.8h0m0.3-2h0m0.3 2.1h0m0.2-2h0m0.3 5.9h0m0.3-6.1h0m0.2 1.9h0m0.3-0.1h0m0.3-1.8h0m0.2 2.8h0m0.3-2.2h0m0.3-0.7h0m0.3 0.9h0m0.2-1.7h0m0.3 4.3h0m0.3-1.3h0m0.2 0.8h0m0.3-5.1h0m0.3 3.6h0m0.2-2.3h0m0.3 1.8h0m0.3 2.7h0m0.2-2.3h0m0.3-0.9h0m0.3 2.8h0m0.2-0.2h0m0.3 1.8h0m0.3-8.1h0m0.2 4.8h0m0.3-1.7h0m0.3-1h0m0.2 2.2h0m0.3-2.8h0m0.3-2.4h0m0.2 3h0m0.3 1.4h0m0.3 4.6h0m0.2-5.7h0m0.3-0.9h0m0.3-1.8h0m0.2 3.6h0m0.3 0.2h0m0.3 0.9h0m0.2-3.6h0m0.3 1.5h0m0.3-3.3h0m0.2 5.4h0m0.3-3.8h0m0.3-2.6h0m0.2 8.6h0m0.3-1.5h0m0.3-0.3h0m0.2 0h0m0.3-3.1h0m0.3 4.7h0m0.2-4.7h0m0.3 6.5h0m0.3-3.7h0m0.2-4.5h0m0.3 5.9h0m0.3 2.5h0m0.2-5h0m0.3 3h0" fill="none" stroke="#dc291b" stroke-width="4.0" stroke-linecap="round"/>
<polyline points="114.2,2425.7 114.2,2425.7 114.2,2425.6 114.2,2425.5 114.2,2425.3 114.2,2425.1 114.3,2424.8 114.3,2424.5 114.3,2424.1 114.4,2423.7 114.4,2423.2 114.5,2422.7 114.5,2422.1 114.6,2421.5 114.7,2420.9 114.7,2420.2 114.8,2419.4 114.9,2418.6 115.0,2417.7 115.1,2416.8 115.2,2415.9 115.3,2414.9 115.4,2413.9 115.5,2412.8 115.6,2411.7 115.8,2410.5 115.9,2409.3 116.0,2408.1 116.2,2406.8 116.3,2405.4 116.5,2404.0 116.6,2402.6 116.8,2401.2 117.0,2399.7 117.1,2398.1 117.3,2396.6 117.5,2395.0 117.7,2393.3 117.9,2391.6 118.1,2389.9 118.3,2388.1 118.5,2386.4 118.7,2384.5 118.9,2382.7 119.1,2380.8 119.4,2378.9 119.6,2376.9 119.8,2374.9 120.1,2372.9 120.3,2370.9 120.6,2368.8 120.8,2366.7 121.1,2364.6 121.4,2362.5 121.6,2360.3 121.9,2358.1 122.2,2355.9 122.5,2353.6 122.8,2351.4 123.1,2349.1 123.4,2346.8 123.7,2344.5 124.0,2342.1 124.3,2339.8 124.7,2337.4 125.0,2335.0 125.3,2332.6 125.7,2330.2 126.0,2327.8 126.4,2325.3 126.7,2322.8 127.1,2320.4 127.4,2317.9 127.8,2315.4 128.2,2312.9 128.6,2310.4 129.0,2307.9 129.4,2305.3 129.7,2302.8 130.2,2300.3 130.6,2297.7 131.0,2295.2 131.4,2292.6 131.8,2290.1 132.2,2287.5 132.7,2285.0 133.1,2282.4 133.6,2279.9 134.0,2277.3 134.5,2274.8 134.9,2272.2 135.4,2269.7 135.8,2267.1 136.3,2264.6 136.8,2262.0 137.3,2259.5 137.8,2257.0 138.3,2254.4 138.8,2251.9 139.3,2249.4 139.8,2246.9 140.3,2244.4 140.8,2241.9 141.3,2239.4 141.9,2236.9 142.4,2234.5 142.9,2232.0 143.5,2229.6 144.0,2227.1 144.6,2224.7 145.2,2222.3 145.7,2219.9 146.3,2217.5 146.9,2215.2 147.5,2212.8 148.0,2210.4 148.6,2208.1 149.2,2205.8 149.8,2203.5 150.4,2201.2 151.1,2198.9 151.7,2196.7 152.3,2194.4 152.9,2192.2 153.6,2190.0 154.2,2187.8 154.8,2185.6 155.5,2183.4 156.1,2181.2 156.8,2179.1 157.5,2177.0 158.1,2174.9 158.8,2172.8 159.5,2170.7 160.2,2168.7 160.9,2166.6 161.5,2164.6 162.2,2162.6 163.0,2160.6 163.7,2158.7 164.4,2156.7 165.1,2154.8 165.8,2152.9 166.6,2151.0 167.3,2149.1 168.0,2147.2 168.8,2145.4 169.5,2143.5 170.3,2141.7 171.0,2139.9 171.8,2138.2 172.6,2136.4 173.4,2134.7 174.1,2132.9 174.9,2131.2 175.7,2129.6 176.5,2127.9 177.3,2126.2 178.1,2124.6 178.9,2123.0 179.7,2121.4 180.6,2119.8 181.4,2118.2 182.2,2116.7 183.1,2115.1 183.9,2113.6 184.8,2112.1 185.6,2110.6 186.5,2109.1 187.3,2107.7 188.2,2106.3 189.1,2104.8 190.0,2103.4 190.8,2102.0 191.7,2100.7 192.6,2099.3 193.5,2097.9 194.4,2096.6 195.3,2095.3 196.3,2094.0 197.2,2092.7 198.1,2091.4 199.0,2090.2 200.0,2088.9 200.9,2087.7 201.8,2086.5 202.8,2085.3 203.8,2084.1 204.7,2082.9 205.7,2081.8 206.6,2080.6 207.6,2079.5 208.6,2078.4 209.6,2077.2 210.6,2076.1 211.6,2075.1 212.6,2074.0 213.6,2072.9 214.6,2071.9 215.6,2070.8 216.6,2069.8 217.7,2068.8 218.7,2067.8 219.7,2066.8 220.8,2065.8 221.8,2064.9 222.9,2063.9 223.9,2063.0 225.0,2062.0 226.1,2061.1 227.1,2060.2 228.2,2059.3 229.3,2058.4 230.4,2057.5 231.5,2056.7 232.6,2055.8 233.7,2054.9 234.8,2054.1 235.9,2053.3 237.0,2052.4 238.2,2051.6 239.3,2050.8 240.4,2050.0 241.6,2049.2 242.7,2048.5 243.9,2047.7 245.0,2046.9 246.2,2046.2 247.3,2045.4 248.5,2044.7 249.7,2044.0 250.9,2043.2 252.1,2042.5 253.2,2041.8 254.4,2041.1 255.6,2040.4 256.9,2039.8 258.1,2039.1 259.3,2038.4 260.5,2037.8 261.7,2037.1 263.0,2036.5 264.2,2035.8 265.4,2035.2 266.7,2034.6 267.9,2034.0 269.2,2033.3 270.5,2032.7 271.7,2032.2 273.0,2031.6 274.3,2031.0 275.6,2030.4 276.9,2029.8 278.2,2029.3 279.5,2028.7 280.8,2028.2 282.1,2027.6 283.4,2027.1 284.7,2026.5 286.0,2026.0 287.4,2025.5 288.7,2025.0 290.0,2024.5 291.4,2024.0 292.7,2023.5 294.1,2023.0 295.4,2022.5 296.8,2022.0 298.2,2021.5 299.6,2021.1 300.9,2020.6 302.3,2020.1 303.7,2019.7 305.1,2019.2 306.5,2018.8 307.9,2018.4 309.3,2017.9 310.7,2017.5 312.2,2017.1 313.6,2016.6 315.0,2016.2 316.5,2015.8 317.9,2015.4 319.3,2015.0 320.8,2014.6 322.3,2014.2 323.7,2013.8 325.2,2013.5 326.7,2013.1 328.1,2012.7 329.6,2012.3 331.1,2012.0 332.6,2011.6 334.1,2011.3 335.6,2010.9 337.1,2010.6 338.6,2010.2 340.2,2009.9 341.7,2009.6 343.2,2009.2 344.7,2008.9 346.3,2008.6 347.8,2008.3 349.4,2007.9 350.9,2007.6 352.5,2007.3 354.1,2007.0 355.6,2006.7 357.2,2006.4 358.8,2006.1 360.4,2005.8 362.0,2005.6 363.6,2005.3 365.2,2005.0 366.8,2004.7 368.4,2004.4 370.0,2004.2 371.6,2003.9 373.2,2003.7 374.9,2003.4 376.5,2003.1 378.2,2002.9 379.8,2002.7 381.5,2002.4 383.1,2002.2 384.8,2001.9 386.4,2001.7 388.1,2001.5 389.8,2001.2 391.5,2001.0 393.2,2000.8 394.9,2000.6 396.6,2000.4 398.3,2000.1 400.0,1999.9 401.7,1999.7 403.4,1999.5 405.1,1999.3 406.9,1999.1 408.6,1998.9 410.3,1998.7 412.1,1998.5 413.8,1998.3 415.6,1998.2 417.3,1998.0 419.1,1997.8 420.9,1997.6 422.6,1997.4 424.4,1997.3 426.2,1997.1 428.0,1996.9 429.8,1996.8 431.6,1996.6 433.4,1996.5 435.2,1996.3 437.0,1996.1 438.9,1996.0 440.7,1995.8 442.5,1995.7 444.4,1995.5 446.2,1995.4 448.0,1995.3 449.9,1995.1 451.8,1995.0 453.6,1994.8 455.5,1994.7 457.4,1994.6 459.2,1994.4 461.1,1994.3 463.0,1994.2 464.9,1994.1 466.8,1993.9 468.7,1993.8 470.6,1993.7 472.5,1993.6 474.4,1993.5 476.4,1993.4 478.3,1993.3 480.2,1993.1 482.2,1993.0 484.1,1992.9 486.1,1992.8 488.0,1992.7 490.0,1992.6 491.9,1992.5 493.9,1992.4 495.9,1992.3 497.9,1992.2 499.9,1992.1 501.8,1992.1 503.8,1992.0 505.8,1991.9 507.8,1991.8 509.9,1991.7 511.9,1991.6 513.9,1991.5 515.9,1991.5 518.0,1991.4 520.0,1991.3 522.0,1991.2 524.1,1991.2 526.1,1991.1 528.2,1991.0 530.3,1990.9 532.3,1990.9 534.4,1990.8 536.5,1990.7 538.6,1990.7 540.6,1990.6 542.7,1990.5 544.8,1990.5 546.9,1990.4 549.0,1990.3 551.2,1990.3 553.3,1990.2 555.4,1990.2 557.5,1990.1 559.7,1990.1 561.8,1990.0 563.9,1989.9 566.1,1989.9 568.3,1989.8 570.4,1989.8 572.6,1989.7 574.7,1989.7 576.9,1989.6 579.1,1989.6 581.3,1989.5 583.5,1989.5 585.7,1989.5 587.9,1989.4 590.1,1989.4 592.3,1989.3 594.5,1989.3 596.7,1989.2 599.0,1989.2 601.2,1989.2 603.4,1989.1 605.7,1989.1 607.9,1989.1 610.2,1989.0 612.4,1989.0 614.7,1989.0 616.9,1988.9 619.2,1988.9 621.5,1988.9 623.8,1988.8 626.1,1988.8 628.4,1988.8 630.7,1988.7 633.0,1988.7 635.3,1988.7 637.6,1988.6 639.9,1988.6 642.2,1988.6 644.6,1988.6 646.9,1988.5 649.2,1988.5 651.6,1988.5 653.9,1988.5 656.3,1988.4 658.6,1988.4 661.0,1988.4 663.4,1988.4 665.7,1988.3 668.1,1988.3 670.5,1988.3 672.9,1988.3 675.3,1988.3 677.7,1988.2 680.1,1988.2 682.5,1988.2 684.9,1988.2 687.4,1988.2 689.8,1988.1 692.2,1988.1 694.6,1988.1 697.1,1988.1 699.5,1988.1 702.0,1988.1 704.4,1988.0 706.9,1988.0 709.4,1988.0 711.8,1988.0 714.3,1988.0 716.8,1988.0 719.3,1988.0 721.8,1987.9 724.3,1987.9 726.8,1987.9 729.3,1987.9 731.8,1987.9 734.3,1987.9 736.9,1987.9 739.4,1987.9 741.9,1987.8 744.5,1987.8 747.0,1987.8 749.5,1987.8 752.1,1987.8" fill="none" stroke="#000" stroke-width="2.0" stroke-linejoin="round"/></g>
<rect x="111.6" y="1958.8" width="640.5" height="516.3" fill="none" stroke="#000" stroke-width="1.3"/>
<path d="M239.7 2475.1v-12M239.7 1958.8v12M367.8 2475.1v-12M367.8 1958.8v12M495.9 2475.1v-12M495.9 1958.8v12M624.0 2475.1v-12M624.0 1958.8v12M111.6 2436.8h12M752.1 2436.8h-12M111.6 2339.7h12M752.1 2339.7h-12M111.6 2242.6h12M752.1 2242.6h-12M111.6 2145.4h12M752.1 2145.4h-12M111.6 2048.3h12M752.1 2048.3h-12" stroke="#000" stroke-width="1.3" fill="none"/>
<g font-size="28.8" text-anchor="middle"><text x="110.6" y="2507.0">0</text><text x="238.7" y="2507.0">2</text><text x="366.8" y="2507.0">4</text><text x="494.9" y="2507.0">6</text><text x="623.0" y="2507.0">8</text><text x="751.1" y="2507.0">10</text></g><g font-size="28.8" text-anchor="end"><text x="100.9" y="2445.9">3.0</text><text x="100.9" y="2348.8">3.5</text><text x="100.9" y="2251.7">4.0</text><text x="100.9" y="2154.5">4.5</text><text x="100.9" y="2057.4">5.0</text></g>
<text x="431.5" y="1941" font-size="29" text-anchor="middle">Cas9-HF1 on-target</text>
<text x="431" y="2548.3" font-size="29" text-anchor="middle">Time (s)</text>
<text transform="translate(39.0 2216.9) rotate(-90)" font-size="29" text-anchor="middle">Fluorescence</text>
<text x="-0.3" y="1934" font-size="41.5" font-weight="bold">e</text>
<text x="498.1" y="2266.4" font-size="24" word-spacing="1.7"><tspan font-style="italic">k</tspan><tspan font-size="16.5" dx="-1.2" dy="8.2">fast</tspan><tspan dy="-8.2">: 2.08 s</tspan><tspan font-size="15.5" dy="-11.2">−1</tspan><tspan dy="11.2"> (56%)</tspan></text>
<text x="498.1" y="2299.1" font-size="24" word-spacing="1.7"><tspan font-style="italic">k</tspan><tspan font-size="16.5" dx="-1.2" dy="8.2">slow</tspan><tspan dy="-8.2">: 0.62 s</tspan><tspan font-size="15.5" dy="-11.2">−1</tspan><tspan dy="11.2"> (44%)</tspan></text>
<g clip-path="url(#cpf)"><path d="M930 2450.6h0m0.2-7.7h0m0.3-15h0m0.2 12.8h0m0.3-13.4h0m0.2-1.4h0m0.3-12.5h0m0.2-4h0m0.3 4.6h0m0.2-12.2h0m0.3-4.9h0m0.2-9h0m0.3 2.4h0m0.2-1.9h0m0.3-10.6h0m0.2-3.2h0m0.2-9.3h0m0.3 8.2h0m0.2-14h0m0.3-2h0m0.2 4.7h0m0.3-13.2h0m0.2-10.4h0m0.3-1h0m0.2-1.1h0m0.3 6.5h0m0.2-11.3h0m0.3-5.8h0m0.2 1.4h0m0.2-1.3h0m0.3-13.5h0m0.2 7.1h0m0.3-6.2h0m0.2-5.3h0m0.3-16.9h0m0.2 9.1h0m0.3 2.6h0m0.2-11.2h0m0.3 9.3h0m0.2-13.8h0m0.3-8.3h0m0.2 4.8h0m0.3-4.4h0m0.2-0.2h0m0.2-8h0m0.3 4.6h0m0.2-11.7h0m0.3 0.6h0m0.2-9.3h0m0.3-0.5h0m0.2 2.2h0m0.3-6.7h0m0.2-1.5h0m0.3-1.3h0m0.2-0.2h0m0.3 0.1h0m0.2-2.4h0m0.3-1.1h0m0.2-6.3h0m0.2-5.9h0m0.3-7.2h0m0.2 3.8h0m0.3-4.4h0m0.2-7.1h0m0.3 14.7h0m0.2-19h0m0.3 8.6h0m0.2-1.1h0m0.3-5.8h0m0.2 11.7h0m0.3-14.4h0m0.2-5.7h0m0.2 10.4h0m0.3-14.3h0m0.2-4.9h0m0.3 0.2h0m0.2 0h0m0.3 1.6h0m0.2-0.3h0m0.3-10.8h0m0.2 7.4h0m0.3 7.5h0m0.2-16h0m0.3 1.2h0m0.2 2.4h0m0.3 0.9h0m0.2-10.6h0m0.2-3h0m0.3-1.8h0m0.2 8.8h0m0.3-2.5h0m0.2-16.4h0m0.3-1.3h0m0.2 3h0m0.3-2.7h0m0.2 7.9h0m0.3-2.3h0m0.2 7.1h0m0.3-7h0m0.2-4.7h0m0.3 3.9h0m0.2-11.4h0m0.2-3.7h0m0.3 5.7h0m0.2 3.1h0m0.3-13.7h0m0.2 11h0m0.3-1.3h0m0.2-7.8h0m0.3 2h0m0.2-3.3h0m0.3 0.6h0m0.2 2.4h0m0.3-9h0m0.2 7.9h0m0.2-1.9h0m0.3-0.9h0m0.2-15.1h0m0.3-0.6h0m0.2 11.4h0m0.3-7.3h0m0.2-1.5h0m0.3-1.4h0m0.2-3.8h0m0.3 4.2h0m0.2-3.2h0m0.3-0.6h0m0.2 4.6h0m0.3-9.1h0m0.2 10.3h0m0.2-17.2h0m0.3 22.1h0m0.2-19.8h0m0.3 8.6h0m0.2 0.7h0m0.3-5.3h0m0.2 2.7h0m0.3-5h0m0.2-8.9h0m0.3 9.4h0m0.2 3.1h0m0.3-9.1h0m0.2-6.5h0m0.3 4.6h0m0.2 3.7h0m0.2-0.9h0m0.3 3.1h0m0.2-3.5h0m0.3-1h0m0.2-13h0m0.3 19.9h0m0.2-11.4h0m0.3 3.2h0m0.2-6.6h0m0.3 0.2h0m0.2 0.3h0m0.3 6.7h0m0.2-1h0m0.2-5.1h0m0.3 6h0m0.2-12.4h0m0.3 3.8h0m0.2-5.4h0m0.3 7.9h0m0.2-6.9h0m0.3 4h0m0.2 3h0m0.3-19.2h0m0.2 20.1h0m0.3-9.7h0m0.2-3.8h0m0.3-8.4h0m0.2 7.2h0m0.2-10.4h0m0.3 11.1h0m0.2-1.8h0m0.3 9.1h0m0.2-11.1h0m0.3 6.2h0m0.2-0.1h0m0.3 3.8h0m0.2-11.9h0m0.3 4.4h0m0.2-11.8h0m0.3 1.5h0m0.2 3.5h0m0.3 0.7h0m0.2-6.4h0m0.2 3.4h0m0.3 4.9h0m0.2-6.2h0m0.3 0.9h0m0.2-4.1h0m0.3 10.6h0m0.2 1.5h0m0.3-8.3h0m0.2-2.1h0m0.3 8.3h0m0.2-6.4h0m0.3-6.1h0m0.2-3.8h0m0.3 3.2h0m0.2 13.2h0m0.2-14.2h0m0.3 16.6h0m0.2-14.7h0m0.3-1.5h0m0.2 7.1h0m0.3-8.2h0m0.2 2.6h0m0.3-7.4h0m0.2-1.5h0m0.3 2.1h0m0.2 4.2h0m0.3-4.8h0m0.2-6.8h0m0.2 11.5h0m0.3-3.6h0m0.2-1h0m0.3-2h0m0.2-8.5h0m0.3 18.5h0m0.2-10.7h0m0.3 4.6h0m0.2 3.8h0m0.3-1.7h0m0.2-5h0m0.3-1.3h0m0.2 1h0m0.3 2.6h0m0.2-2h0m0.2-5.5h0m0.3 4h0m0.2-0.7h0m0.3 1.1h0m0.2-2.8h0m0.3 5.4h0m0.2-6.2h0m0.3 3h0m0.2-4.5h0m0.3-3.4h0m0.2-2.2h0m0.3 3.5h0m0.2 3h0m0.3 3.3h0m0.2-7.1h0m0.2-2.5h0m0.3-0.3h0m0.2 8.5h0m0.3-6.2h0m0.2-3.3h0m0.3 5.8h0m0.2-10.5h0m0.3 6.7h0m0.2-1.1h0m0.3-0.8h0m0.2-5.4h0m0.3 10.2h0m0.2 3.1h0m0.2-15.1h0m0.3 6.7h0m0.2 2.3h0m0.3 7.6h0m0.2-13.5h0m0.3-2.9h0m0.2 4.3h0m0.3 9.6h0m0.2-9.9h0m0.3 0.7h0m0.2 7.1h0m0.3-19.6h0m0.2-0.5h0m0.3 14.9h0m0.2-1h0m0.2-10.9h0m0.3 9h0m0.2-2.6h0m0.3 0.6h0m0.2-5.4h0m0.3 1.5h0m0.2-2.4h0m0.3 4.2h0m0.2-1.6h0m0.3 9.1h0m0.2-5.5h0m0.3-11.1h0m0.2 9.5h0m0.3 4.7h0m0.2-5.9h0m0.2 3.7h0m0.3-5.8h0m0.2 3.3h0m0.3-8.3h0m0.2 8.2h0m0.3-11h0m0.2 12.9h0m0.3-14.1h0m0.2-3.2h0m0.3 12.8h0m0.2-3.8h0m0.3 1.2h0m0.2 1.3h0m0.2-2.5h0m0.3-4.5h0m0.2 5.1h0m0.3 0.4h0m0.2 0.5h0m0.3 7.1h0m0.2-13.7h0m0.3 3.7h0m0.2 2.2h0m0.3-5.2h0m0.2-3.9h0m0.3 2.8h0m0.2 7.8h0m0.3-6.8h0m0.2 4.1h0m0.2-6.9h0m0.3 5.6h0m0.2-5.7h0m0.3-1.1h0m0.2 4.5h0m0.3-0.6h0m0.2 6.8h0m0.3-15.5h0m0.2 10.3h0m0.3 5.2h0m0.2-1.5h0m0.3-8.8h0m0.2-1.7h0m0.3 0.7h0m0.2 3.7h0m0.2-0.8h0m0.3 0.6h0m0.2 1h0m0.3-8.4h0m0.2-0.5h0m0.3-0.7h0m0.2-0.8h0m0.3 5.9h0m0.2 1.8h0m0.3 10.7h0m0.2-10h0m0.3-2.8h0m0.2 6.7h0m0.2-10.8h0m0.3 5.1h0m0.2 2.9h0m0.3-1.1h0m0.2-2.1h0m0.3-3.9h0m0.2-4.6h0m0.3 5.2h0m0.2-2.4h0m0.3 6.1h0m0.2-4.2h0m0.3 3.2h0m0.2-10.9h0m0.3 12.5h0m0.2-9.1h0m0.2-3.7h0m0.3 0.7h0m0.2 3.5h0m0.3 8.4h0m0.2-2.2h0m0.3-9.5h0m0.2 6.1h0m0.3-1.2h0m0.2-7.4h0m0.3 2.7h0m0.2-5.3h0m0.3 5.5h0m0.2-8.9h0m0.3 8.9h0m0.2-0.8h0m0.2 0.5h0m0.3-0.3h0m0.2 9.5h0m0.3-7.5h0m0.2 2.7h0m0.3 2.4h0m0.2 0.5h0m0.3-1.3h0m0.2-6.2h0m0.3-2.8h0m0.2 1.4h0m0.3 1.3h0m0.2 2.2h0m0.2-0.6h0m0.3 5.6h0m0.2-6h0m0.3 9.1h0m0.2-3.9h0m0.3-7.6h0m0.2 6.4h0m0.3-18.5h0m0.2 20.8h0m0.3-4.9h0m0.2-0.3h0m0.3-10.3h0m0.2 20.5h0m0.3-13.8h0m0.2 0.4h0m0.2 6h0m0.3-6.6h0m0.2-3.4h0m0.3 7.3h0m0.2-8.4h0m0.3 8.5h0m0.2-3.1h0m0.3 4.7h0m0.2-11.6h0m0.3 11.9h0m0.2-4.8h0m0.3 8.1h0m0.2-13.1h0m0.3 12.2h0m0.2-5.8h0m0.2 0.3h0m0.3-7.6h0m0.2 6.2h0m0.3 0.4h0m0.2-7.5h0m0.3-1.8h0m0.2 1.8h0m0.3 10.8h0m0.2-6.5h0m0.3 3.7h0m0.2-3.4h0m0.3-0.9h0m0.2 0.3h0m0.2-3.2h0m0.3 7.9h0m0.2-5.3h0m0.3 0.1h0m0.2-8h0m0.3 8.2h0m0.2-5h0m0.3 0.7h0m0.2 7.5h0m0.3-10.6h0m0.2 4.2h0m0.3 4h0m0.2 2.4h0m0.3-8.3h0m0.2 4h0m0.2-0.3h0m0.3-7.1h0m0.2-5h0m0.3 0.9h0m0.2 12.3h0m0.3-2.6h0m0.2-7.2h0m0.3 3.3h0m0.2 1.1h0m0.3 0.1h0m0.2 1.5h0m0.3 10.8h0m0.2-14.8h0m0.3 4.5h0m0.2-4.6h0m0.2 0.5h0m0.3-1.3h0m0.2 3.1h0m0.3-1.7h0m0.2 4.3h0m0.3-0.8h0m0.2-5.5h0m0.3 13.6h0m0.2-15.2h0m0.3 7.4h0m0.2 8.7h0m0.3-14.2h0m0.2 9.9h0m0.2 0.3h0m0.3-5.4h0m0.2-10.8h0m0.3 15.9h0m0.2-6.6h0m0.3-3.2h0m0.2 8.8h0m0.3-9.9h0m0.2 8.7h0m0.3-8h0m0.2 5.2h0m0.3-8h0m0.2 3.2h0m0.3-2.7h0m0.2 0.9h0m0.2 4.4h0m0.3-1.9h0m0.2 1.7h0m0.3 5.2h0m0.2-6.9h0m0.3-8.7h0m0.2 7.6h0m0.3 1.7h0m0.2 4.6h0m0.3-0.1h0m0.2-0.5h0m0.3-5.8h0m0.2 4.1h0m0.3-10.3h0m0.2 13.3h0m0.2-4.3h0m0.3 0.3h0m0.2-4.4h0m0.3 2h0m0.2-3.6h0m0.3 5.9h0m0.2-9.4h0m0.3 11.2h0m0.2-2.2h0m0.3 7.2h0m0.2-10.2h0m0.3-0.3h0m0.2 1.3h0m0.2-0.9h0m0.3-0.8h0m0.2-4.9h0m0.3-0.1h0m0.2 2.5h0m0.3 1.3h0m0.2-4.5h0m0.3 0.1h0m0.2 4.2h0m0.3 4.9h0m0.2-4.6h0m0.3 4.1h0m0.2 1.4h0m0.3-1.1h0m0.2-5.9h0m0.2 0h0m0.3-7.2h0m0.2 5.7h0m0.3 5.5h0m0.2-7.7h0m0.3 11.9h0m0.2 0.3h0m0.3-8.9h0m0.2 6.3h0m0.3-11.6h0m0.2 1.8h0m0.3 3.2h0m0.2 1.8h0m0.3-1h0m0.2-3.4h0m0.2 13.8h0m0.3-8.3h0m0.2-0.1h0m0.3 1.8h0m0.2-2.5h0m0.3-2.1h0m0.2-1.6h0m0.3-5.4h0m0.2 15.3h0m0.3-11.9h0m0.2-3.7h0m0.3 4.1h0m0.2-4h0m0.3 17.6h0m0.2-8.1h0m0.2 5.1h0m0.3 0.1h0m0.2-4.4h0m0.3 0h0m0.2-6.5h0m0.3 3.1h0m0.2-2.6h0m0.3 3.1h0m0.2-3.7h0m0.3 9.6h0m0.2-2.6h0m0.3-4.3h0m0.2-7.7h0m0.2 11.4h0m0.3 1h0m0.2-4.8h0m0.3-5.9h0m0.2 8.2h0m0.3 3h0m0.2-14.6h0m0.3 12.1h0m0.2-11.7h0m0.3 9.2h0m0.2 8.1h0m0.3-8.2h0m0.2 1.9h0m0.3-4h0m0.2 1.5h0m0.2 11.5h0m0.3-5.1h0m0.2-8.1h0m0.3-0.4h0m0.2 1.9h0m0.3 10.6h0m0.2-9.8h0m0.3 4.4h0m0.2-7.3h0m0.3-4.5h0m0.2 12.6h0m0.3-6.9h0m0.2-3.5h0m0.3 0.4h0m0.2 0h0m0.2 0.3h0m0.3-4.6h0m0.2 13.3h0m0.3-4h0m0.2 2.8h0m0.3-6.5h0m0.2 3.3h0m0.3-0.9h0m0.2 4.9h0m0.3-1.8h0m0.2-2.3h0m0.3-5h0m0.2-2.7h0m0.2 1.9h0m0.3 0.7h0m0.2 0.4h0m0.3-3.4h0m0.2 14.1h0m0.3-6.9h0m0.2-11.2h0m0.3 4.5h0m0.2-1.3h0m0.3 7.7h0m0.2 4h0m0.3-10.1h0m0.2 7.8h0m0.3-4.4h0m0.2 6.9h0m0.2 1h0m0.3-5.2h0m0.2 1.9h0m0.3-3.6h0m0.2-1.8h0m0.3-3.9h0m0.2 7.2h0m0.3-2h0m0.2-1.5h0m0.3 1.4h0m0.2-0.6h0m0.3-4.2h0m0.2 2.5h0m0.3 8.1h0m0.2-6.8h0m0.2 7.9h0m0.3-12.5h0m0.2-1h0m0.3 7.2h0m0.2 3.1h0m0.3-7h0m0.2 6.2h0m0.3 1.4h0m0.2 0.7h0m0.3-5.8h0m0.2 0.2h0m0.3-7.8h0m0.2 8.1h0m0.2 1.2h0m0.3 5.5h0m0.2-13.1h0m0.3 2h0m0.2-0.8h0m0.3 9.2h0m0.2-16.7h0m0.3 7h0m0.2 15.2h0m0.3-6.8h0m0.2-9.7h0m0.3 6.1h0m0.2 4.4h0m0.3-1.5h0m0.2-3.8h0m0.2-2.8h0m0.3 7.8h0m0.2-4.1h0m0.3 3.9h0m0.2-2h0m0.3-4.2h0m0.2 9.2h0m0.3-9.5h0m0.2 4.5h0m0.3-5.2h0m0.2 1.9h0m0.3-0.1h0m0.2-2h0m0.3 4.3h0m0.2 5.1h0m0.2 2.7h0m0.3-2.1h0m0.2-7.9h0m0.3 7.9h0m0.2-5.1h0m0.3 6.7h0m0.2-14.9h0m0.3 13.3h0m0.2-10.1h0m0.3 8.4h0m0.2-7.9h0m0.3 6.7h0m0.2-5.8h0m0.2-7.8h0m0.3 4.4h0m0.2 3.5h0m0.3 1.2h0m0.2-11h0m0.3 5h0m0.2 2.2h0m0.3 2.5h0m0.2 2.1h0m0.3-5.1h0m0.2-3.4h0m0.3 8.8h0m0.2-3.1h0m0.3 5.9h0m0.2-6.9h0m0.2 5.6h0m0.3-7.4h0m0.2 5.5h0m0.3-0.9h0m0.2 1.7h0m0.3-6.7h0m0.2 3.9h0m0.3-3.5h0m0.2 3.3h0m0.3 3.7h0m0.2 11.4h0m0.3-14.3h0m0.2 3.3h0m0.3-3h0m0.2 4.9h0m0.2-3.2h0m0.3 2.8h0m0.2-3.4h0m0.3 9.8h0m0.2-4.9h0m0.3-14.9h0m0.2 9.6h0m0.3-1.1h0m0.2-11h0m0.3 6.4h0m0.2 1.9h0m0.3-1.3h0m0.2 4.1h0m0.2-9.3h0m0.3 12.2h0m0.2 0.2h0m0.3-2.1h0m0.2-3.3h0m0.3 1.6h0m0.2-2.3h0m0.3 7.7h0m0.2-3.1h0m0.3 7.1h0m0.2-11.4h0m0.3 8.8h0m0.2-9.8h0m0.3 1.9h0m0.2-4.2h0m0.2 7.5h0m0.3-2.8h0m0.2 3.2h0m0.3 4.2h0m0.2-7.5h0m0.3 2.1h0m0.2 2.5h0m0.3-4.7h0m0.2-2.4h0m0.3 4.4h0m0.2 0.7h0m0.3 1.3h0m0.2 0.2h0m0.3-7.3h0m0.2 5.4h0m0.2 3.7h0m0.3-8.1h0m0.2 3.9h0m0.3-4.7h0m0.2 3.7h0m0.3 7.6h0m0.2-7.6h0m0.3-5.5h0m0.2 6.3h0m0.3-0.7h0m0.2 4.4h0m0.3-12h0m0.2 2.1h0m0.2 4h0m0.3-7.1h0m0.2 12.9h0m0.3-15.2h0m0.2 5.7h0m0.3-3.1h0m0.2 3.9h0m0.3 7h0m0.2-1h0m0.3 1.6h0m0.2-1.6h0m0.3-12.7h0m0.2 11.2h0m0.3-10.4h0m0.2 6.5h0m0.2 0.5h0m0.3-0.7h0m0.2 4.9h0m0.3-6.3h0m0.2 12.2h0m0.3-5.4h0m0.2 2.8h0m0.3-2.1h0m0.2 0.6h0m0.3-4.5h0m0.2 9.6h0m0.3-14.5h0m0.2 7.3h0m0.3-2.3h0m0.2-1.1h0m0.2 2.6h0m0.3-5.1h0m0.2 7.7h0m0.3-0.4h0m0.2-3.3h0m0.3 3h0m0.2-8.5h0m0.3-3.7h0m0.2 5.8h0m0.3 1.7h0m0.2 13.1h0m0.3-13.1h0m0.2 6h0m0.2-0.9h0m0.3 6.1h0m0.2-9.6h0m0.3 2.5h0m0.2-4.1h0m0.3-3.2h0m0.2-0.7h0m0.3 1.1h0m0.2 10.6h0m0.3-5.5h0m0.2-2.2h0m0.3 0.8h0m0.2-2.8h0m0.3 2.6h0m0.2-0.1h0m0.2 3.3h0m0.3 1.3h0m0.2-12.3h0m0.3 9h0m0.2 5.4h0m0.3-11.5h0m0.2 3.7h0m0.3 2h0m0.2 4.4h0m0.3-2.4h0m0.2-3.9h0m0.3 3.4h0m0.2 2.6h0m0.3-3.1h0m0.2 7h0m0.2-6.9h0m0.3-7.1h0m0.2 1.3h0m0.3 3.1h0m0.2-0.4h0m0.3 4h0m0.2-1.3h0m0.3 6.5h0m0.2-4.4h0m0.3 3.3h0m0.2-10.9h0m0.3 1.6h0m0.2 5.4h0m0.2-2.9h0m0.3 2.6h0m0.2-1.9h0m0.3-4.2h0m0.2 11.2h0m0.3-2.7h0m0.2-13h0m0.3 4.5h0m0.2 3.1h0m0.3 3.1h0m0.2-3.6h0m0.3-6.2h0m0.2 10.5h0m0.3-5h0m0.2 6.8h0m0.2-4.4h0m0.3 3.4h0m0.2-0.8h0m0.3 0.2h0m0.2-6.7h0m0.3 7.3h0m0.2-3.9h0m0.3-7h0m0.2 4.1h0m0.3 0.2h0m0.2 3.9h0m0.3 1h0m0.2-8.6h0m0.3 8.8h0m0.2-3.8h0m0.2-4.8h0m0.3 9.1h0m0.2-7.7h0m0.3-2.1h0m0.2 9.4h0m0.3 0.6h0m0.2-7.4h0m0.3 8.2h0m0.2-0.3h0m0.3-7.3h0m0.2 12.1h0m0.3-9.9h0m0.2 1.3h0m0.2-12.5h0m0.3 14.5h0m0.2-6h0m0.3 5h0m0.2-10.3h0m0.3 13.7h0m0.2 1.5h0m0.3 2h0m0.2-23.2h0m0.3 17h0m0.2-1.2h0m0.3-16.1h0m0.2 10.9h0m0.3 3.1h0m0.2 7.2h0m0.2-10.8h0m0.3 5h0m0.2-1.3h0m0.3 2h0m0.2-3.6h0m0.3 6.1h0m0.2 0.4h0m0.3-11.2h0m0.2 11.9h0m0.3-8.9h0m0.2 2.2h0m0.3 6.7h0m0.2-4.9h0m0.3 2.3h0m0.2 1h0m0.2-0.9h0m0.3-5.5h0m0.2-2h0m0.3 7.8h0m0.2 0.4h0m0.3-1.9h0m0.2-2.7h0m0.3 5h0m0.2-4.2h0m0.3-6.4h0m0.2 7.9h0m0.3 1h0m0.2 1.3h0m0.3-8h0m0.2 0.7h0m0.2 5.2h0m0.3-3.8h0m0.2 1.9h0m0.3 4.8h0m0.2-2.6h0m0.3 6.8h0m0.2-7.3h0m0.3 6.7h0m0.2-3.1h0m0.3 7.1h0m0.2-12.1h0m0.3-0.5h0m0.2 6.7h0m0.2-8.7h0m0.3 0.2h0m0.2 3.4h0m0.3 0.6h0m0.2-8.5h0m0.3 8h0m0.2-2.7h0m0.3 1.3h0m0.2 1h0m0.3-1.8h0m0.2 6.1h0m0.3-2.8h0m0.2-3.3h0m0.3 1.3h0m0.2 4.6h0m0.2-1.2h0m0.3 2.3h0m0.2-6.7h0m0.3 1.3h0m0.2 8.9h0m0.3-9.8h0m0.2 8.2h0m0.3-4h0m0.2-6h0m0.3-4.7h0m0.2 9.7h0m0.3-6.4h0m0.2 0h0m0.3-4.9h0m0.2 13.9h0m0.2-5.1h0m0.3-0.4h0m0.2 1.7h0m0.3-0.7h0m0.2-0.7h0m0.3 2h0m0.2-3.8h0m0.3-11h0m0.2 15.8h0m0.3-1.5h0m0.2-1.9h0m0.3 7.5h0m0.2-14.3h0m0.2-7.1h0m0.3 20.9h0m0.2-5.2h0m0.3-9.8h0m0.2 5.9h0m0.3 4.9h0m0.2-8.7h0m0.3 8.4h0m0.2 7.4h0m0.3-3.5h0m0.2-6.7h0m0.3 1.6h0m0.2-6h0m0.3 5.1h0m0.2-2.2h0m0.2-3.2h0m0.3-1.6h0m0.2 15.6h0m0.3-8.8h0m0.2-5.3h0m0.3 2.8h0m0.2 9.1h0m0.3 0.7h0m0.2-10.7h0m0.3 3.9h0m0.2 3.3h0m0.3-5.9h0m0.2-4h0m0.3 0.9h0m0.2 4.7h0m0.2-3.7h0m0.3-2.5h0m0.2 5h0m0.3 5.6h0m0.2-1.2h0m0.3-4.3h0m0.2 10.1h0m0.3-12.8h0m0.2 3.4h0m0.3-6.2h0m0.2 10.2h0m0.3-4.3h0m0.2-7.4h0m0.2 4h0m0.3 12.5h0m0.2-5.1h0m0.3-2.9h0m0.2 3.6h0m0.3-11.8h0m0.2 3.7h0m0.3-2.4h0m0.2 2.4h0m0.3 2.1h0m0.2 4.3h0m0.3 2.3h0m0.2-0.1h0m0.3 8.1h0m0.2-15.2h0m0.2 2.3h0m0.3 2.5h0m0.2-6.4h0m0.3 2.6h0m0.2 3.3h0m0.3-6.2h0m0.2 6.5h0m0.3 3.6h0m0.2-11.2h0m0.3-5.6h0m0.2 11.3h0m0.3-5.4h0m0.2 5.8h0m0.3-2.9h0m0.2 3.5h0m0.2 4h0m0.3-1.5h0m0.2-5.6h0m0.3-3.9h0m0.2-6.3h0m0.3 1.5h0m0.2 6.5h0m0.3 4.3h0m0.2-3.7h0m0.3 0.3h0m0.2-4.8h0m0.3-0.2h0m0.2-0.4h0m0.2 11.2h0m0.3-12.4h0m0.2 12.6h0m0.3-7.6h0m0.2 6.9h0m0.3-1.5h0m0.2 2.5h0m0.3 2h0m0.2-9.4h0m0.3-0.9h0m0.2 2.5h0m0.3-1.6h0m0.2 6.8h0m0.3-3.7h0m0.2 0.5h0m0.2 2h0m0.3-4.3h0m0.2 7.5h0m0.3-14h0m0.2 9.9h0m0.3 1.2h0m0.2-6h0m0.3 0.3h0m0.2 7.6h0m0.3-5.8h0m0.2-7.7h0m0.3 2.8h0m0.2 11.2h0m0.3-9h0m0.2 10.4h0m0.2 0.3h0m0.3-7.5h0m0.2 3.5h0m0.3-6.5h0m0.2 2h0m0.3-1.4h0m0.2 6.1h0m0.3-8.9h0m0.2 5.5h0m0.3 0.8h0m0.2 2.3h0m0.3-12.6h0m0.2 1.5h0m0.2 4.4h0m0.3 3.1h0m0.2 1.7h0m0.3 0.3h0m0.2 8.7h0m0.3-6.5h0m0.2-0.4h0m0.3-5.1h0m0.2 6.1h0m0.3-0.5h0m0.2-0.1h0m0.3-3.7h0m0.2 3.5h0m0.3 4.3h0m0.2-11.1h0m0.2-6.5h0m0.3 14.2h0m0.2-0.4h0m0.3-4.6h0m0.2-1.1h0m0.3 15.3h0m0.2-15.4h0m0.3-3.6h0m0.2 3.6h0m0.3 4.6h0m0.2-5.3h0m0.3 1.1h0m0.2 3.3h0m0.3-3.5h0m0.2 2.6h0m0.2-0.8h0m0.3-4.9h0m0.2 5.4h0m0.3-5.8h0m0.2 9.9h0m0.3-8.9h0m0.2 3.3h0m0.3-7.5h0m0.2 6.5h0m0.3-3.8h0m0.2 13.1h0m0.3-7.7h0m0.2 3h0m0.2-10.8h0m0.3 2.4h0m0.2 5.1h0m0.3-5.6h0m0.2 11.9h0m0.3-7.4h0m0.2 2.6h0m0.3 0.8h0m0.2-2.2h0m0.3 4.4h0m0.2-6.9h0m0.3 4.9h0m0.2 4h0m0.3-4.7h0m0.2-0.4h0m0.2-2.2h0m0.3 1.9h0m0.2 2.9h0m0.3-4.4h0m0.2-6.8h0m0.3 8.7h0m0.2-1.4h0m0.3 2.9h0m0.2-2.1h0m0.3 7.3h0m0.2-13.2h0m0.3 1.1h0m0.2 7.7h0m0.3-7.9h0m0.2 6.4h0m0.2-1.6h0m0.3-9.3h0m0.2 12.5h0m0.3 3.3h0m0.2-5.5h0m0.3-7.6h0m0.2 10.3h0m0.3-8.6h0m0.2 4.3h0m0.3 2.6h0m0.2-5.7h0m0.3-4.3h0m0.2 7.3h0m0.2 0.5h0m0.3-3.8h0m0.2 0.3h0m0.3 7.2h0m0.2-4h0m0.3-1.7h0m0.2-0.6h0m0.3 3.6h0m0.2-0.4h0m0.3-1.3h0m0.2-5.7h0m0.3 4.8h0m0.2-1.2h0m0.3 3.3h0m0.2 5.1h0m0.2-1h0m0.3-1.5h0m0.2-2.5h0m0.3-2h0m0.2 3.1h0m0.3-3.8h0m0.2 0.6h0m0.3-2.3h0m0.2 3.7h0m0.3-0.2h0m0.2 9h0m0.3-6h0m0.2-4.4h0m0.3 5.4h0m0.2-5.8h0m0.2 6.9h0m0.3-1.1h0m0.2 9.9h0m0.3-18.6h0m0.2 4.7h0m0.3-0.2h0m0.2 2h0m0.3 1.9h0m0.2-7.9h0m0.3 1.2h0m0.2 4.8h0m0.3 3.1h0m0.2-9.8h0m0.2-2h0m0.3 12.6h0m0.2-1.4h0m0.3 1.1h0m0.2-9.6h0m0.3 3.6h0m0.2 2h0m0.3 1h0m0.2-2.6h0m0.3 0.3h0m0.2 4.9h0m0.3-6.7h0m0.2-0.5h0m0.3 0.5h0m0.2-0.3h0m0.2 2.9h0m0.3-1.5h0m0.2-1.1h0m0.3 8.6h0m0.2-5.2h0m0.3-2.9h0m0.2 7.4h0m0.3-8.4h0m0.2 2.5h0m0.3-0.4h0m0.2-2.2h0m0.3 0.8h0m0.2 2.2h0m0.3-7h0m0.2 4.8h0m0.2 3h0m0.3 0.1h0m0.2 0.1h0m0.3 9.4h0m0.2-7.7h0m0.3-3.8h0m0.2 0.1h0m0.3 0.6h0m0.2 2h0m0.3-3.4h0m0.2 8.3h0m0.3-12h0m0.2 8h0m0.3-0.6h0m0.2-7.6h0m0.2 8.2h0m0.3-0.4h0m0.2-5.5h0m0.3 13.6h0m0.2-7.4h0m0.3-4.7h0m0.2-0.7h0m0.3-1.2h0m0.2 4.5h0m0.3-0.9h0m0.2-6.7h0m0.3 1.7h0m0.2 1.5h0m0.2 1.4h0m0.3 0.2h0m0.2-1.4h0m0.3 6h0m0.2 1.4h0m0.3-4h0m0.2-10.4h0m0.3 9.3h0m0.2 3.3h0m0.3-2.9h0m0.2 1.6h0m0.3-0.8h0m0.2-7.3h0m0.3-4.7h0m0.2 14.4h0m0.2-5.3h0m0.3 4.3h0m0.2-3.3h0m0.3 0.6h0m0.2 7.1h0m0.3-11.8h0m0.2 5.5h0m0.3-5h0m0.2 5.3h0m0.3 1.9h0m0.2 0.8h0m0.3-2.3h0m0.2-7h0m0.3 7.4h0m0.2 3h0m0.2 0.4h0m0.3 5.3h0m0.2-7.2h0m0.3-7.3h0m0.2 2.3h0m0.3 2.8h0m0.2 4.4h0m0.3-10h0m0.2 9.3h0m0.3-1.1h0m0.2-7h0m0.3 6.8h0m0.2-6.3h0m0.2 3.5h0m0.3-1.4h0m0.2 2.5h0m0.3-6.5h0m0.2 7.8h0m0.3-12.3h0m0.2 8h0m0.3-0.7h0m0.2 9.8h0m0.3-4.8h0m0.2-4.7h0m0.3-1.8h0m0.2 4.2h0m0.3-3h0m0.2 13h0m0.2-22.8h0m0.3 13h0m0.2-11.5h0m0.3 15.9h0m0.2-8.4h0m0.3 11h0m0.2-9.8h0m0.3 7.4h0m0.2-4h0m0.3 4.4h0m0.2-5.2h0m0.3-13.7h0m0.2 10.3h0m0.3-3.8h0m0.2 11.4h0m0.2-1.9h0m0.3-2.4h0m0.2 2h0m0.3-1.2h0m0.2-3.5h0m0.3 11.5h0m0.2-7.8h0m0.3-1.9h0m0.2-5.8h0m0.3 3.8h0m0.2 2.9h0m0.3-0.9h0m0.2-1.3h0m0.2 1.9h0m0.3-4.9h0m0.2 5.2h0m0.3-7.1h0m0.2 3.1h0m0.3 0.6h0m0.2 7.3h0m0.3-1.7h0m0.2-1.9h0m0.3-5.6h0m0.2 3.4h0m0.3 5.5h0m0.2 2h0m0.3-12.4h0m0.2 4.8h0m0.2 2.4h0m0.3 1.1h0m0.2-1.5h0m0.3 3h0m0.2-9.7h0m0.3 13.7h0m0.2-12.3h0m0.3 5.5h0m0.2 2.1h0m0.3 2.9h0m0.2-1.1h0m0.3-0.2h0m0.2 1.9h0m0.3-6.6h0m0.2 4.2h0m0.2 3.6h0m0.3-10.5h0m0.2-3h0m0.3 1.9h0m0.2 11h0m0.3-0.8h0m0.2-7.3h0m0.3 2.8h0m0.2 1h0m0.3 2.6h0m0.2-13.4h0m0.3 6.1h0m0.2 1.4h0m0.2 2.6h0m0.3-1.1h0m0.2-1.8h0m0.3 2.8h0m0.2-13.1h0m0.3 25.8h0m0.2-10.3h0m0.3 0.3h0m0.2-7h0m0.3 4.9h0m0.2 7.5h0m0.3-1.1h0m0.2-8h0m0.3-6h0m0.2 6.4h0m0.2-2.1h0m0.3 5.3h0m0.2-9.8h0m0.3 5h0m0.2 2.1h0m0.3-3.4h0m0.2 7h0m0.3-10h0m0.2-0.5h0m0.3 4.1h0m0.2 5.4h0m0.3-5.2h0m0.2-1.3h0m0.3 6.4h0m0.2-2.7h0m0.2-3.4h0m0.3 2.9h0m0.2-1.6h0m0.3 3.9h0m0.2-2.2h0m0.3-4.3h0m0.2 1.5h0m0.3 0.3h0m0.2 3.6h0m0.3 0h0m0.2-5.6h0m0.3 3h0m0.2 2.3h0m0.2 3.6h0m0.3-3.9h0m0.2 7.8h0m0.3-8.8h0m0.2 3.2h0m0.3-4.8h0m0.2-3.1h0m0.3 5h0m0.2 1.8h0m0.3-0.8h0m0.2-0.8h0m0.3-2.2h0m0.2-2.2h0m0.3 2.4h0m0.2 3.5h0m0.2 2.2h0m0.3-19.5h0m0.2 17.9h0m0.3 2.2h0m0.2 0.9h0m0.3-4.1h0m0.2 1.3h0m0.3-5.1h0m0.2 1.6h0m0.3 2.9h0m0.2-7.5h0m0.3 1.4h0m0.2 4.5h0m0.3-7h0m0.2 6.4h0m0.2-7.1h0m0.3 7.7h0m0.2-0.7h0m0.3-2.8h0m0.2-1.7h0m0.3 2h0m0.2-8h0m0.3 8.5h0m0.2 2.4h0m0.3 5h0m0.2-7.9h0m0.3 1.5h0m0.2 7.2h0m0.2 1.6h0m0.3-10.2h0m0.2 7h0m0.3 0.6h0m0.2-3h0m0.3-6.9h0m0.2 0.2h0m0.3 7h0m0.2 8.1h0m0.3-11.6h0m0.2 8h0m0.3 1.5h0m0.2-14.4h0m0.3 3h0m0.2 9.7h0m0.2-2.5h0m0.3-2h0m0.2-2.5h0m0.3 2.9h0m0.2-5.8h0m0.3 14.4h0m0.2-16.8h0m0.3-3h0m0.2 9h0m0.3 6h0m0.2-8.9h0m0.3 2h0m0.2-4.5h0m0.3 4.4h0m0.2-4.4h0m0.2 0.1h0m0.3-2.2h0m0.2 4.3h0m0.3 11.1h0m0.2-8.9h0m0.3 1.2h0m0.2 9.4h0m0.3-13.2h0m0.2-1.7h0m0.3 7h0m0.2-8.1h0m0.3 7.2h0m0.2 3.8h0m0.2-10.3h0m0.3 2.6h0m0.2 10.2h0m0.3-12.7h0m0.2 1.8h0m0.3 4.2h0m0.2-2.6h0m0.3-2.4h0m0.2 11.3h0m0.3-10.1h0m0.2 4.2h0m0.3-3.4h0m0.2 0.8h0m0.3-5.2h0m0.2 10.6h0m0.2-6.3h0m0.3 7.9h0m0.2-11.3h0m0.3 3.2h0m0.2 4.4h0m0.3-1.7h0m0.2-3.5h0m0.3 2.4h0m0.2-5.4h0m0.3 6.2h0m0.2-12.4h0m0.3 13h0m0.2 5.5h0m0.3-2.2h0m0.2-0.2h0m0.2-5.8h0m0.3 4.2h0m0.2-4.2h0m0.3 1.5h0m0.2-0.1h0m0.3-15.1h0m0.2 19.9h0m0.3-2.2h0m0.2 1.8h0m0.3-8.3h0m0.2 7.6h0m0.3-1h0m0.2-12.5h0m0.2 2.1h0m0.3 8.4h0m0.2-3.3h0m0.3 3h0m0.2-2.9h0m0.3 9.9h0m0.2-15.7h0m0.3 2.5h0m0.2 1.8h0m0.3-1.8h0m0.2 3.6h0m0.3 2.5h0m0.2-6h0m0.3 7.9h0m0.2 4.4h0m0.2-1.1h0m0.3 4.3h0m0.2-4.1h0m0.3-5.4h0m0.2 8.4h0m0.3-4.9h0m0.2 5.4h0m0.3-9.6h0m0.2-8.8h0m0.3 4.3h0m0.2 6.2h0m0.3 1.7h0m0.2-3.4h0m0.3 5.5h0m0.2-9.9h0m0.2 2.1h0m0.3 7.8h0m0.2-4.3h0m0.3 0.2h0m0.2 6h0m0.3-1.4h0m0.2-8.7h0m0.3 4.6h0m0.2-8.8h0m0.3 7.8h0m0.2 1.8h0m0.3-9.8h0m0.2 15.3h0m0.3 2h0m0.2-7h0m0.2 2h0m0.3 2.7h0m0.2-7.8h0m0.3 5.7h0m0.2-3.1h0m0.3-8.8h0m0.2 2.9h0m0.3 1.5h0m0.2 7.6h0m0.3-4.5h0m0.2 4.1h0m0.3-6.7h0m0.2-3.7h0m0.2 15.4h0m0.3 3.1h0m0.2-10.9h0m0.3-2.6h0m0.2 6.4h0m0.3-10.6h0m0.2 4.1h0m0.3-5.7h0m0.2 8.9h0m0.3-1.1h0m0.2-3h0m0.3-1.1h0m0.2-4h0m0.3 3.1h0m0.2 9.6h0m0.2-7.4h0m0.3 7.5h0m0.2-9.8h0m0.3 3.6h0m0.2-1.8h0m0.3 1h0m0.2 4.7h0m0.3-13h0m0.2 12.9h0m0.3-0.2h0m0.2-3.2h0m0.3 0.3h0m0.2-1.4h0m0.3 4.3h0m0.2-3h0m0.2-4.1h0m0.3 4.6h0m0.2 3.7h0m0.3-2.7h0m0.2-1.6h0m0.3 0.8h0m0.2-3.2h0m0.3 0.1h0m0.2-6.5h0m0.3 7.8h0m0.2 5.4h0m0.3-6.3h0m0.2-2.4h0m0.2 8.3h0m0.3-3.4h0m0.2-0.1h0m0.3 1.5h0m0.2 1.1h0m0.3-3.4h0m0.2-3.7h0m0.3 11.9h0m0.2-7.8h0m0.3-3.8h0m0.2 4.4h0m0.3 4.7h0m0.2-12h0m0.3 12.5h0m0.2-6.7h0m0.2 9.8h0m0.3-6.1h0m0.2-3.5h0m0.3 6.2h0m0.2 0.1h0m0.3-7.4h0m0.2 2.6h0m0.3-3.4h0m0.2 6.6h0m0.3-10.7h0m0.2 5.7h0m0.3-9h0m0.2 12.5h0m0.3-13h0m0.2 5.4h0m0.2 6.1h0m0.3-2.8h0m0.2-0.5h0m0.3-2.4h0m0.2 2.3h0m0.3-5.9h0m0.2 9.5h0m0.3 2.3h0m0.2-0.2h0m0.3-3.7h0m0.2 5.8h0m0.3-3.5h0m0.2 2.3h0m0.2-2.6h0m0.3-1.7h0m0.2-3.6h0m0.3-8.6h0m0.2 15h0m0.3-3.5h0m0.2 9.7h0m0.3-18.2h0m0.2 12.9h0m0.3-8.2h0m0.2 4.4h0m0.3-4.1h0m0.2 5.7h0m0.3-1.8h0m0.2 4.2h0m0.2-3.4h0m0.3 1.6h0m0.2 3.6h0m0.3-3.5h0m0.2-2.9h0m0.3 6.2h0m0.2-6.1h0m0.3 2.3h0m0.2-3.3h0m0.3-1.6h0m0.2-10.6h0m0.3 16.8h0m0.2-8.4h0m0.3 8.6h0m0.2 4.9h0m0.2-14.2h0m0.3 10h0m0.2-4.5h0m0.3 2.5h0m0.2-7.5h0m0.3 5.6h0m0.2 0.6h0m0.3 5.8h0m0.2 3.3h0m0.3-8.4h0m0.2-3.1h0m0.3 11.8h0m0.2-10.6h0m0.2 0.2h0m0.3 0.7h0m0.2 1.7h0m0.3 1.1h0m0.2-5.8h0m0.3 2.1h0m0.2 9.1h0m0.3-1.3h0m0.2-5.3h0m0.3-0.8h0m0.2-2.3h0m0.3 5.8h0m0.2-7.1h0m0.3 3h0m0.2-2.7h0m0.2-0.7h0m0.3 3h0m0.2-0.2h0m0.3-2.6h0m0.2 2.3h0m0.3 0.6h0m0.2-2.4h0m0.3-0.9h0m0.2 2.4h0m0.3 3.8h0m0.2 1.9h0m0.3-4.2h0m0.2-2.1h0m0.3 1.1h0m0.2 8.8h0m0.2-4.5h0m0.3-8.5h0m0.2 4.1h0m0.3-2.2h0m0.2 0.8h0m0.3-6.1h0m0.2 7.8h0m0.3-6.3h0m0.2 3.5h0m0.3 9.6h0m0.2-2.3h0m0.3-8.5h0m0.2-0.8h0m0.2 0.6h0m0.3-4.5h0m0.2 4.1h0m0.3 3.3h0m0.2-3.6h0m0.3 8.3h0m0.2-3.7h0m0.3-2.2h0m0.2 10.4h0m0.3-4.7h0m0.2-3h0m0.3 8.2h0m0.2-2.5h0m0.3-9.2h0m0.2 4.7h0m0.2-3.5h0m0.3-4.5h0m0.2 15.2h0m0.3-1.8h0m0.2-12.7h0m0.3 8.1h0m0.2-9.8h0m0.3 12.4h0m0.2-5.1h0m0.3-1.1h0m0.2 7.1h0m0.3-5.7h0m0.2-1.3h0m0.3 5.4h0m0.2-5.6h0m0.2 5.4h0m0.3-4h0m0.2 3.8h0m0.3-0.9h0m0.2 0.7h0m0.3-8.2h0m0.2 13.3h0m0.3-9.4h0m0.2 8.8h0m0.3-10.8h0m0.2 1.5h0m0.3 0h0m0.2 6.5h0m0.2-7.2h0m0.3 3.8h0m0.2-9.1h0m0.3 5h0m0.2 3.3h0m0.3-1.6h0m0.2-8.1h0m0.3 10.9h0m0.2-6.7h0m0.3 13.4h0m0.2-9.9h0m0.3 11.3h0m0.2-7.3h0m0.3-1h0m0.2-4.3h0m0.2 1.7h0m0.3 2.6h0m0.2-11.1h0m0.3 13.6h0m0.2-10h0m0.3 4.2h0m0.2-11.4h0m0.3 14.7h0m0.2 1.4h0m0.3-2.2h0m0.2 0.2h0m0.3-3.2h0m0.2 2.4h0m0.3 4.9h0m0.2-7.6h0m0.2 4.3h0m0.3 1.1h0m0.2-4.5h0m0.3 2.2h0m0.2-0.1h0m0.3-3.3h0m0.2 13.6h0m0.3-13.3h0m0.2 9.9h0m0.3-2.9h0m0.2-14.4h0m0.3 10.6h0m0.2 3.6h0m0.2-1h0m0.3-8h0m0.2 5.4h0m0.3-6.8h0m0.2 0.8h0m0.3 3.7h0m0.2 2h0m0.3 6.6h0m0.2-5.8h0m0.3 3.2h0m0.2-10.5h0m0.3 0.2h0m0.2 3.2h0m0.3 10.4h0m0.2-14.4h0m0.2-1.2h0m0.3 7.1h0m0.2 5.8h0m0.3-13.1h0m0.2 6.4h0m0.3-5.1h0m0.2 13h0m0.3-3.5h0m0.2-1.9h0m0.3-1.5h0m0.2-0.9h0m0.3 1.7h0m0.2-3.6h0m0.3-1.1h0m0.2-1.1h0m0.2 5.3h0m0.3-3.8h0m0.2 7.8h0m0.3-13.9h0m0.2 12.4h0m0.3-0.1h0m0.2 3.2h0m0.3-6.9h0m0.2-5.8h0m0.3 2.7h0m0.2 9.6h0m0.3-6.7h0m0.2-0.5h0m0.2-0.8h0m0.3 2.4h0m0.2-0.8h0m0.3-6.2h0m0.2 4.5h0m0.3 7.5h0m0.2 2h0m0.3-7.3h0m0.2-1.8h0m0.3 8.7h0m0.2-7.2h0m0.3-4.6h0m0.2 4.9h0m0.3 3.8h0m0.2 4.1h0m0.2-9.6h0m0.3 4.8h0m0.2-4.1h0m0.3 6.9h0m0.2-4.1h0m0.3 0h0m0.2-5.8h0m0.3 3.1h0m0.2 0h0m0.3-15.3h0m0.2 20.8h0m0.3-4.1h0m0.2-0.9h0m0.3-0.7h0m0.2 1.8h0m0.2 1h0m0.3-7.2h0m0.2 6.6h0m0.3 0h0m0.2-0.4h0m0.3-7.1h0m0.2 6.3h0m0.3-5.3h0m0.2 7.6h0m0.3 4.5h0m0.2-2.1h0m0.3-5.6h0m0.2-1h0m0.2-0.1h0m0.3 4.3h0m0.2-4.7h0m0.3 0.6h0m0.2-9.2h0m0.3 7.7h0m0.2 0.3h0m0.3 1.1h0m0.2 8.2h0m0.3-12h0m0.2 0.1h0m0.3 9.1h0m0.2-7.4h0m0.3 3.8h0m0.2 1.6h0m0.2-0.8h0m0.3-3.7h0m0.2 7.9h0m0.3 2.7h0m0.2-11.6h0m0.3 3.4h0m0.2 5.6h0m0.3-5.3h0m0.2-3.7h0m0.3 2.6h0m0.2 5.9h0m0.3-8.5h0m0.2 5.8h0m0.3 0.6h0m0.2-4.8h0m0.2 5.7h0m0.3 0.5h0m0.2 1.5h0m0.3-0.3h0m0.2-11.3h0m0.3 11.1h0m0.2-1.4h0m0.3 1.8h0m0.2-8.5h0m0.3 8.2h0m0.2-2.5h0m0.3-7.2h0m0.2 11.4h0m0.3-9.6h0m0.2-1.1h0m0.2 6.6h0m0.3-4.7h0m0.2 4.5h0m0.3-2.8h0m0.2 2.5h0m0.3 2.5h0m0.2-4h0m0.3 4.2h0m0.2-0.1h0m0.3-7.8h0m0.2 7.8h0m0.3-1.1h0m0.2-2.2h0m0.2 4.6h0m0.3 2.5h0m0.2-4.2h0m0.3-10.4h0m0.2 8.9h0m0.3-2.6h0m0.2-0.7h0m0.3 2.9h0m0.2-3.2h0m0.3 9.2h0m0.2-6.3h0m0.3-1.2h0m0.2 3.5h0m0.3 0.1h0m0.2 1.8h0m0.2-2.6h0m0.3-3.1h0m0.2 0.8h0m0.3-10.7h0m0.2 3.3h0m0.3 11.6h0m0.2-6.3h0m0.3 9.9h0m0.2 0h0m0.3-14.2h0m0.2 7.2h0m0.3 12h0m0.2-17.1h0m0.3 5.5h0m0.2-2.9h0m0.2 0h0m0.3-0.2h0m0.2 1.2h0m0.3 3.6h0m0.2-7.2h0m0.3 6h0m0.2-5.6h0m0.3 5.7h0m0.2-0.9h0m0.3-5.1h0m0.2 4.3h0m0.3-4.1h0m0.2-0.5h0m0.2 9.3h0m0.3-13.9h0m0.2 11.1h0m0.3 0.7h0m0.2-6.1h0m0.3 7.9h0m0.2-0.9h0m0.3-10.2h0m0.2 8.4h0m0.3-0.2h0m0.2-5.6h0m0.3 6.1h0m0.2 0.8h0m0.3-6.9h0m0.2-5.9h0m0.2 11.2h0m0.3-5.4h0m0.2-4.5h0m0.3 6.2h0m0.2-9.3h0m0.3 9.5h0m0.2 8.6h0m0.3-20.3h0m0.2 15.4h0m0.3-6.4h0m0.2 2.4h0m0.3-2.3h0m0.2 7.2h0m0.3-3.1h0m0.2-3.5h0m0.2-2.5h0m0.3 4.1h0m0.2 7.4h0m0.3-11.1h0m0.2 7.6h0m0.3-0.3h0m0.2-10.9h0m0.3 14.4h0m0.2-5.3h0m0.3 10.6h0m0.2-2.3h0m0.3-9.3h0m0.2 0.5h0m0.2-4h0m0.3-1.7h0m0.2 10.1h0m0.3-4.9h0m0.2-0.7h0m0.3 1.1h0m0.2 4h0m0.3 1.2h0m0.2-4.4h0m0.3-0.9h0m0.2 1.4h0m0.3 9.2h0m0.2-19.4h0m0.3 4.3h0m0.2 7.6h0m0.2-1.5h0m0.3 5.1h0m0.2 0.4h0m0.3 3.1h0m0.2-13h0m0.3 6.6h0m0.2-4h0m0.3 5.7h0m0.2-3.7h0m0.3 3.3h0m0.2-7.7h0m0.3 4.3h0m0.2-3.2h0m0.3 1.2h0m0.2-0.9h0m0.2-2.7h0m0.3 10.1h0m0.2-3.9h0m0.3 3.8h0m0.2-9.9h0m0.3-4.5h0m0.2 6.2h0m0.3 2.3h0m0.2 4.4h0m0.3 1.3h0m0.2 0.8h0m0.3 1.5h0m0.2-3.8h0m0.2-2.9h0m0.3-4.2h0m0.2 6.9h0m0.3-5.6h0m0.2-1.5h0m0.3 6.6h0m0.2-1.7h0m0.3 3h0m0.2-7.4h0m0.3 8.8h0m0.2-3.8h0m0.3-2.5h0m0.2-2.7h0m0.3-1.5h0m0.2-1.4h0m0.2 13h0m0.3-13.2h0m0.2 9.6h0m0.3-4.1h0m0.2-1.6h0m0.3 0.5h0m0.2 1.8h0m0.3 4.7h0m0.2-1.6h0m0.3-2.7h0m0.2-6.4h0m0.3-2h0m0.2 17.2h0m0.3-13.5h0m0.2-2.7h0m0.2 12.7h0m0.3-12.3h0m0.2 10.5h0m0.3 0.9h0m0.2-3.2h0m0.3 3.4h0m0.2-11.1h0m0.3 0.8h0m0.2 4.8h0m0.3 0.9h0m0.2-0.4h0m0.3 2.6h0m0.2-5.6h0m0.2-6.6h0m0.3 11.9h0m0.2-2.9h0m0.3 4.9h0m0.2 5.9h0m0.3-9.4h0m0.2 2.4h0m0.3-7h0m0.2 8.5h0m0.3-2.7h0m0.2-0.4h0m0.3 3.1h0m0.2-9.6h0m0.3 8h0m0.2-0.5h0m0.2 5.3h0m0.3-16h0m0.2 8.1h0m0.3 10.7h0m0.2-12.2h0m0.3-0.1h0m0.2 10.4h0m0.3 3.4h0m0.2-11.2h0m0.3-3.9h0m0.2 0.5h0m0.3 1h0m0.2-2.2h0m0.3 0.2h0m0.2 4.6h0m0.2-0.6h0m0.3 2.1h0m0.2-2.2h0m0.3-5.8h0m0.2 9.2h0m0.3-2.3h0m0.2-3.9h0m0.3 1.4h0m0.2 2.8h0m0.3-1.1h0m0.2-1h0m0.3 4.2h0m0.2 1.4h0m0.2-6.5h0m0.3 1.4h0m0.2-5.1h0m0.3 4.4h0m0.2 3.1h0m0.3 1.8h0m0.2-3.3h0m0.3-1.2h0m0.2-3h0m0.3 4.4h0m0.2-6.1h0m0.3 5.7h0m0.2-0.5h0m0.3-4.4h0m0.2 5.9h0m0.2-2.6h0m0.3 3.8h0m0.2-5.1h0m0.3 4.6h0m0.2 5.1h0m0.3-6.6h0m0.2 2.9h0m0.3-6.7h0m0.2 1.3h0m0.3-7.2h0m0.2 8.2h0m0.3-4.6h0m0.2 5.8h0m0.3-10.2h0m0.2 5.6h0m0.2 4.5h0m0.3 1.4h0m0.2-9.6h0m0.3 5.8h0m0.2 14h0m0.3-8.3h0m0.2-3h0m0.3-13.7h0m0.2 8.7h0m0.3 6.7h0m0.2-1.3h0m0.3 1h0m0.2 2.4h0m0.2-4.1h0m0.3 3.6h0m0.2-12.4h0m0.3 20.1h0m0.2-13.1h0m0.3-1.7h0m0.2 10.1h0m0.3-4.2h0m0.2 1.8h0m0.3-7.5h0m0.2 4.2h0m0.3 2h0m0.2-8.7h0m0.3 4.4h0m0.2-0.2h0m0.2-0.2h0m0.3-1.9h0m0.2-2.6h0m0.3 7.9h0m0.2-0.9h0m0.3 4.3h0m0.2-5.8h0m0.3-2.8h0m0.2-3.6h0m0.3 7.2h0m0.2-1.9h0m0.3 10.9h0m0.2 1.3h0m0.3-3.3h0m0.2-11.7h0m0.2-2.3h0m0.3 5.5h0m0.2-3.1h0m0.3 10.8h0m0.2-6.1h0m0.3-2.4h0m0.2 1.8h0m0.3 6h0m0.2-10.4h0m0.3 6.8h0m0.2-8.6h0m0.3 5.3h0m0.2-2.1h0m0.2 4.5h0m0.3-0.7h0m0.2 4.9h0m0.3-2.4h0m0.2-6.1h0m0.3-3.4h0m0.2 2.4h0m0.3 1.8h0m0.2 1h0m0.3-2.5h0m0.2 8.6h0m0.3-0.7h0m0.2-5.6h0m0.3-1.1h0m0.2 1.2h0m0.2 0.9h0m0.3 0.1h0m0.2-7.5h0m0.3 5.6h0m0.2-6.8h0m0.3 9h0m0.2 3h0m0.3-8.1h0m0.2 5.7h0m0.3-3.6h0m0.2-0.4h0m0.3 12.5h0m0.2-5.1h0m0.3-1.9h0m0.2-4.3h0m0.2 4h0m0.3-2.9h0m0.2 3.1h0m0.3-6.4h0m0.2 3.9h0m0.3-1.5h0m0.2-4.8h0m0.3 14.6h0m0.2-4.1h0m0.3-7.6h0m0.2-3.2h0m0.3 3.5h0m0.2-0.5h0m0.3 1.1h0m0.2-4.3h0m0.2 3.2h0m0.3 4.2h0m0.2 1.7h0m0.3-11.3h0m0.2 9.3h0m0.3-4.6h0m0.2-0.3h0m0.3 3.4h0m0.2-1.7h0m0.3 6.5h0m0.2 0h0m0.3-4.7h0m0.2-1.6h0m0.2 11.5h0m0.3 0.3h0m0.2-6.9h0m0.3-2.6h0m0.2 5.5h0m0.3 2.1h0m0.2-9.4h0m0.3 11h0m0.2-9.2h0m0.3 5.9h0m0.2-7.6h0m0.3 2.7h0m0.2-2.4h0m0.3 2.3h0m0.2 4.6h0m0.2-9h0m0.3 2.8h0m0.2 4h0m0.3-4.8h0m0.2 11.8h0m0.3-16.5h0m0.2 18.9h0m0.3-15.1h0m0.2 7.7h0m0.3 3.1h0m0.2-5.2h0m0.3-9.2h0m0.2 5.1h0m0.3 2h0m0.2 2.3h0m0.2 2h0m0.3 0.7h0m0.2 1.6h0m0.3-11.5h0m0.2 9.2h0m0.3-12.9h0m0.2 8.9h0m0.3-5.8h0m0.2-3.3h0m0.3 12.8h0m0.2-4.5h0m0.3 4.8h0m0.2-12.2h0m0.2 1.7h0m0.3 5.3h0m0.2-2.6h0m0.3 3.5h0m0.2-3.3h0m0.3 1.3h0m0.2-3.8h0m0.3 11.5h0m0.2-7.6h0m0.3-4.1h0m0.2 8.9h0m0.3-1h0m0.2-1.2h0m0.3 0h0m0.2-3h0m0.2 1.3h0m0.3-9.9h0m0.2 3.1h0m0.3 1.6h0m0.2 7.2h0m0.3 4.4h0m0.2-6.6h0m0.3-0.5h0m0.2 6.7h0m0.3-7.1h0m0.2 4.8h0m0.3-1h0m0.2-8.4h0m0.3 7.8h0m0.2-0.5h0m0.2-6.5h0m0.3 0.6h0m0.2-1.2h0m0.3 12.7h0m0.2 3.5h0m0.3-6.7h0m0.2 4.1h0m0.3-13.9h0m0.2 13.1h0m0.3 2.7h0m0.2-1.7h0m0.3-12.2h0m0.2 9.7h0m0.2-5.7h0m0.3 5.7h0m0.2-8.2h0m0.3 3.1h0m0.2-2.8h0m0.3 5h0m0.2-2.8h0m0.3 5.8h0m0.2-1.3h0m0.3-2h0m0.2-2.2h0m0.3-1.2h0m0.2 1.4h0m0.3 3.6h0m0.2-3h0m0.2 0.8h0m0.3-1.6h0m0.2-0.1h0m0.3-2.9h0m0.2-5.7h0m0.3 11.7h0m0.2-0.1h0m0.3-7.3h0m0.2 13.8h0m0.3-14.8h0m0.2 10.4h0m0.3-3.6h0m0.2 0.3h0m0.3 4h0m0.2-1.1h0m0.2-4.3h0m0.3-5.1h0m0.2-0.8h0m0.3 6.7h0m0.2 6.7h0m0.3-3.4h0m0.2-4.3h0m0.3 1.7h0m0.2 1.7h0m0.3 5h0m0.2-11.9h0m0.3 7.1h0m0.2-2.1h0m0.2-5h0m0.3-1.2h0m0.2 10.9h0m0.3-4.5h0m0.2-2.6h0m0.3 1.5h0m0.2 4.2h0m0.3-4.2h0m0.2 7.2h0m0.3-8.9h0m0.2-2.5h0m0.3 3.2h0m0.2-4h0m0.3 2.9h0m0.2 7.5h0" fill="none" stroke="#dc291b" stroke-width="3.8" stroke-linecap="round"/>
<polyline points="932.9,2390.9 932.9,2390.8 932.9,2390.7 932.9,2390.4 932.9,2390.1 932.9,2389.7 933.0,2389.1 933.0,2388.5 933.0,2387.8 933.1,2386.9 933.1,2386.0 933.2,2385.0 933.3,2383.9 933.3,2382.7 933.4,2381.4 933.5,2380.1 933.5,2378.6 933.6,2377.1 933.7,2375.5 933.8,2373.7 933.9,2372.0 934.0,2370.1 934.1,2368.1 934.2,2366.1 934.4,2364.0 934.5,2361.9 934.6,2359.6 934.8,2357.3 934.9,2355.0 935.0,2352.5 935.2,2350.0 935.3,2347.5 935.5,2344.9 935.7,2342.2 935.8,2339.5 936.0,2336.8 936.2,2334.0 936.4,2331.1 936.6,2328.2 936.8,2325.3 937.0,2322.3 937.2,2319.3 937.4,2316.3 937.6,2313.2 937.8,2310.1 938.1,2307.0 938.3,2303.8 938.5,2300.7 938.8,2297.5 939.0,2294.3 939.3,2291.1 939.5,2287.8 939.8,2284.6 940.1,2281.3 940.4,2278.1 940.6,2274.8 940.9,2271.6 941.2,2268.3 941.5,2265.0 941.8,2261.8 942.1,2258.5 942.4,2255.3 942.7,2252.0 943.0,2248.8 943.4,2245.6 943.7,2242.4 944.0,2239.2 944.4,2236.0 944.7,2232.8 945.1,2229.7 945.4,2226.6 945.8,2223.5 946.2,2220.4 946.5,2217.3 946.9,2214.3 947.3,2211.3 947.7,2208.3 948.1,2205.3 948.5,2202.4 948.9,2199.5 949.3,2196.6 949.7,2193.7 950.1,2190.9 950.5,2188.1 951.0,2185.4 951.4,2182.6 951.8,2179.9 952.3,2177.2 952.7,2174.6 953.2,2172.0 953.6,2169.4 954.1,2166.8 954.6,2164.3 955.0,2161.8 955.5,2159.4 956.0,2156.9 956.5,2154.5 957.0,2152.2 957.5,2149.8 958.0,2147.5 958.5,2145.3 959.0,2143.0 959.5,2140.8 960.1,2138.6 960.6,2136.5 961.1,2134.4 961.7,2132.3 962.2,2130.2 962.8,2128.2 963.3,2126.2 963.9,2124.2 964.4,2122.2 965.0,2120.3 965.6,2118.4 966.2,2116.5 966.8,2114.7 967.4,2112.9 967.9,2111.1 968.5,2109.3 969.2,2107.6 969.8,2105.9 970.4,2104.2 971.0,2102.5 971.6,2100.9 972.3,2099.2 972.9,2097.6 973.5,2096.1 974.2,2094.5 974.9,2093.0 975.5,2091.5 976.2,2090.0 976.8,2088.5 977.5,2087.0 978.2,2085.6 978.9,2084.2 979.6,2082.8 980.3,2081.4 981.0,2080.1 981.7,2078.7 982.4,2077.4 983.1,2076.1 983.8,2074.8 984.5,2073.6 985.3,2072.3 986.0,2071.1 986.7,2069.8 987.5,2068.6 988.2,2067.5 989.0,2066.3 989.8,2065.1 990.5,2064.0 991.3,2062.9 992.1,2061.8 992.8,2060.7 993.6,2059.6 994.4,2058.5 995.2,2057.5 996.0,2056.4 996.8,2055.4 997.6,2054.4 998.5,2053.4 999.3,2052.4 1000.1,2051.4 1000.9,2050.5 1001.8,2049.5 1002.6,2048.6 1003.5,2047.6 1004.3,2046.7 1005.2,2045.8 1006.0,2044.9 1006.9,2044.1 1007.8,2043.2 1008.7,2042.4 1009.5,2041.5 1010.4,2040.7 1011.3,2039.9 1012.2,2039.1 1013.1,2038.3 1014.0,2037.5 1015.0,2036.7 1015.9,2035.9 1016.8,2035.2 1017.7,2034.5 1018.7,2033.7 1019.6,2033.0 1020.6,2032.3 1021.5,2031.6 1022.5,2030.9 1023.4,2030.2 1024.4,2029.5 1025.4,2028.9 1026.3,2028.2 1027.3,2027.6 1028.3,2027.0 1029.3,2026.3 1030.3,2025.7 1031.3,2025.1 1032.3,2024.5 1033.3,2024.0 1034.3,2023.4 1035.3,2022.8 1036.4,2022.3 1037.4,2021.7 1038.4,2021.2 1039.5,2020.6 1040.5,2020.1 1041.6,2019.6 1042.6,2019.1 1043.7,2018.6 1044.8,2018.1 1045.8,2017.6 1046.9,2017.2 1048.0,2016.7 1049.1,2016.2 1050.2,2015.8 1051.3,2015.3 1052.4,2014.9 1053.5,2014.5 1054.6,2014.1 1055.7,2013.7 1056.9,2013.3 1058.0,2012.9 1059.1,2012.5 1060.3,2012.1 1061.4,2011.7 1062.6,2011.3 1063.7,2011.0 1064.9,2010.6 1066.0,2010.3 1067.2,2009.9 1068.4,2009.6 1069.6,2009.3 1070.8,2008.9 1071.9,2008.6 1073.1,2008.3 1074.3,2008.0 1075.5,2007.7 1076.8,2007.4 1078.0,2007.1 1079.2,2006.9 1080.4,2006.6 1081.7,2006.3 1082.9,2006.1 1084.1,2005.8 1085.4,2005.5 1086.6,2005.3 1087.9,2005.1 1089.2,2004.8 1090.4,2004.6 1091.7,2004.4 1093.0,2004.1 1094.3,2003.9 1095.5,2003.7 1096.8,2003.5 1098.1,2003.3 1099.4,2003.1 1100.8,2002.9 1102.1,2002.7 1103.4,2002.5 1104.7,2002.3 1106.0,2002.1 1107.4,2002.0 1108.7,2001.8 1110.1,2001.6 1111.4,2001.5 1112.8,2001.3 1114.1,2001.2 1115.5,2001.0 1116.9,2000.9 1118.2,2000.7 1119.6,2000.6 1121.0,2000.4 1122.4,2000.3 1123.8,2000.2 1125.2,2000.0 1126.6,1999.9 1128.0,1999.8 1129.4,1999.7 1130.8,1999.6 1132.3,1999.4 1133.7,1999.3 1135.1,1999.2 1136.6,1999.1 1138.0,1999.0 1139.5,1998.9 1140.9,1998.8 1142.4,1998.7 1143.9,1998.6 1145.3,1998.5 1146.8,1998.5 1148.3,1998.4 1149.8,1998.3 1151.3,1998.2 1152.8,1998.1 1154.3,1998.0 1155.8,1998.0 1157.3,1997.9 1158.8,1997.8 1160.4,1997.8 1161.9,1997.7 1163.4,1997.6 1165.0,1997.6 1166.5,1997.5 1168.1,1997.4 1169.6,1997.4 1171.2,1997.3 1172.7,1997.3 1174.3,1997.2 1175.9,1997.2 1177.5,1997.1 1179.0,1997.1 1180.6,1997.0 1182.2,1997.0 1183.8,1996.9 1185.4,1996.9 1187.0,1996.8 1188.7,1996.8 1190.3,1996.7 1191.9,1996.7 1193.5,1996.7 1195.2,1996.6 1196.8,1996.6 1198.5,1996.6 1200.1,1996.5 1201.8,1996.5 1203.4,1996.5 1205.1,1996.4 1206.8,1996.4 1208.5,1996.4 1210.1,1996.3 1211.8,1996.3 1213.5,1996.3 1215.2,1996.3 1216.9,1996.2 1218.6,1996.2 1220.3,1996.2 1222.1,1996.2 1223.8,1996.1 1225.5,1996.1 1227.3,1996.1 1229.0,1996.1 1230.7,1996.1 1232.5,1996.0 1234.2,1996.0 1236.0,1996.0 1237.8,1996.0 1239.5,1996.0 1241.3,1996.0 1243.1,1995.9 1244.9,1995.9 1246.7,1995.9 1248.5,1995.9 1250.3,1995.9 1252.1,1995.9 1253.9,1995.9 1255.7,1995.8 1257.5,1995.8 1259.3,1995.8 1261.2,1995.8 1263.0,1995.8 1264.9,1995.8 1266.7,1995.8 1268.6,1995.8 1270.4,1995.8 1272.3,1995.8 1274.1,1995.7 1276.0,1995.7 1277.9,1995.7 1279.8,1995.7 1281.7,1995.7 1283.6,1995.7 1285.5,1995.7 1287.4,1995.7 1289.3,1995.7 1291.2,1995.7 1293.1,1995.7 1295.0,1995.7 1296.9,1995.7 1298.9,1995.7 1300.8,1995.6 1302.8,1995.6 1304.7,1995.6 1306.7,1995.6 1308.6,1995.6 1310.6,1995.6 1312.6,1995.6 1314.5,1995.6 1316.5,1995.6 1318.5,1995.6 1320.5,1995.6 1322.5,1995.6 1324.5,1995.6 1326.5,1995.6 1328.5,1995.6 1330.5,1995.6 1332.5,1995.6 1334.6,1995.6 1336.6,1995.6 1338.6,1995.6 1340.7,1995.6 1342.7,1995.6 1344.8,1995.6 1346.8,1995.6 1348.9,1995.6 1351.0,1995.6 1353.0,1995.6 1355.1,1995.6 1357.2,1995.6 1359.3,1995.6 1361.4,1995.6 1363.5,1995.6 1365.6,1995.5 1367.7,1995.5 1369.8,1995.5 1371.9,1995.5 1374.0,1995.5 1376.2,1995.5 1378.3,1995.5 1380.4,1995.5 1382.6,1995.5 1384.7,1995.5 1386.9,1995.5 1389.0,1995.5 1391.2,1995.5 1393.4,1995.5 1395.6,1995.5 1397.7,1995.5 1399.9,1995.5 1402.1,1995.5 1404.3,1995.5 1406.5,1995.5 1408.7,1995.5 1410.9,1995.5 1413.1,1995.5 1415.4,1995.5 1417.6,1995.5 1419.8,1995.5 1422.1,1995.5 1424.3,1995.5 1426.5,1995.5 1428.8,1995.5 1431.0,1995.5 1433.3,1995.5 1435.6,1995.5 1437.8,1995.5 1440.1,1995.5 1442.4,1995.5 1444.7,1995.5 1447.0,1995.5 1449.3,1995.5 1451.6,1995.5 1453.9,1995.5 1456.2,1995.5 1458.5,1995.5 1460.8,1995.5 1463.2,1995.5 1465.5,1995.5 1467.9,1995.5 1470.2,1995.5 1472.5,1995.5 1474.9,1995.5 1477.3,1995.5 1479.6,1995.5 1482.0,1995.5 1484.4,1995.5 1486.7,1995.5 1489.1,1995.5 1491.5,1995.5 1493.9,1995.5 1496.3,1995.5 1498.7,1995.5 1501.1,1995.5 1503.5,1995.5 1506.0,1995.5 1508.4,1995.5 1510.8,1995.5 1513.3,1995.5 1515.7,1995.5 1518.1,1995.5 1520.6,1995.5 1523.1,1995.5 1525.5,1995.5 1528.0,1995.5 1530.5,1995.5 1532.9,1995.5 1535.4,1995.5 1537.9,1995.5 1540.4,1995.5 1542.9,1995.5 1545.4,1995.5 1547.9,1995.5 1550.4,1995.5 1552.9,1995.5 1555.5,1995.5 1558.0,1995.5 1560.5,1995.5 1563.1,1995.5 1565.6,1995.5 1568.1,1995.5 1570.7,1995.5" fill="none" stroke="#000" stroke-width="1.7" stroke-linejoin="round"/></g>
<rect x="930.0" y="1958.4" width="640.7" height="516.7" fill="none" stroke="#000" stroke-width="1.3"/>
<path d="M1090.2 2475.1v-12M1090.2 1958.4v12M1250.3 2475.1v-12M1250.3 1958.4v12M1410.5 2475.1v-12M1410.5 1958.4v12M930.0 2420.7h12M1570.7 2420.7h-12M930.0 2315.3h12M1570.7 2315.3h-12M930.0 2209.9h12M1570.7 2209.9h-12M930.0 2104.6h12M1570.7 2104.6h-12M930.0 1999.2h12M1570.7 1999.2h-12" stroke="#000" stroke-width="1.3" fill="none"/>
<g font-size="28.8" text-anchor="middle"><text x="930.5" y="2507.2">0</text><text x="1090.7" y="2507.2">5</text><text x="1250.8" y="2507.2">10</text><text x="1411.0" y="2507.2">15</text><text x="1571.2" y="2507.2">20</text></g><g font-size="28.8" text-anchor="end"><text x="920.7" y="2429.8">0.40</text><text x="920.7" y="2324.4">0.42</text><text x="920.7" y="2219.0">0.44</text><text x="920.7" y="2113.7">0.46</text><text x="920.7" y="2008.3">0.48</text></g>
<text x="1250" y="1941" font-size="29" text-anchor="middle">Cas9-HF1 off-target</text>
<text x="1246.4" y="2548.0" font-size="29" text-anchor="middle">Time (s)</text>
<text transform="translate(842.0 2216.8) rotate(-90)" font-size="29" text-anchor="middle">Fluorescence</text>
<text x="817.2" y="1934.3" font-size="41.5" font-weight="bold">f</text>
<text x="1321.0" y="2262.1" font-size="24" word-spacing="1.7"><tspan font-style="italic">k</tspan><tspan font-size="16.5" dx="-1.2" dy="8.2">fast</tspan><tspan dy="-8.2">: 2.59 s</tspan><tspan font-size="15.5" dy="-11.2">−1</tspan><tspan dy="11.2"> (51%)</tspan></text>
<text x="1321.0" y="2294.8" font-size="24" word-spacing="1.7"><tspan font-style="italic">k</tspan><tspan font-size="16.5" dx="-1.2" dy="8.2">slow</tspan><tspan dy="-8.2">: 0.64 s</tspan><tspan font-size="15.5" dy="-11.2">−1</tspan><tspan dy="11.2"> (49%)</tspan></text>
</svg>
</body></html>
